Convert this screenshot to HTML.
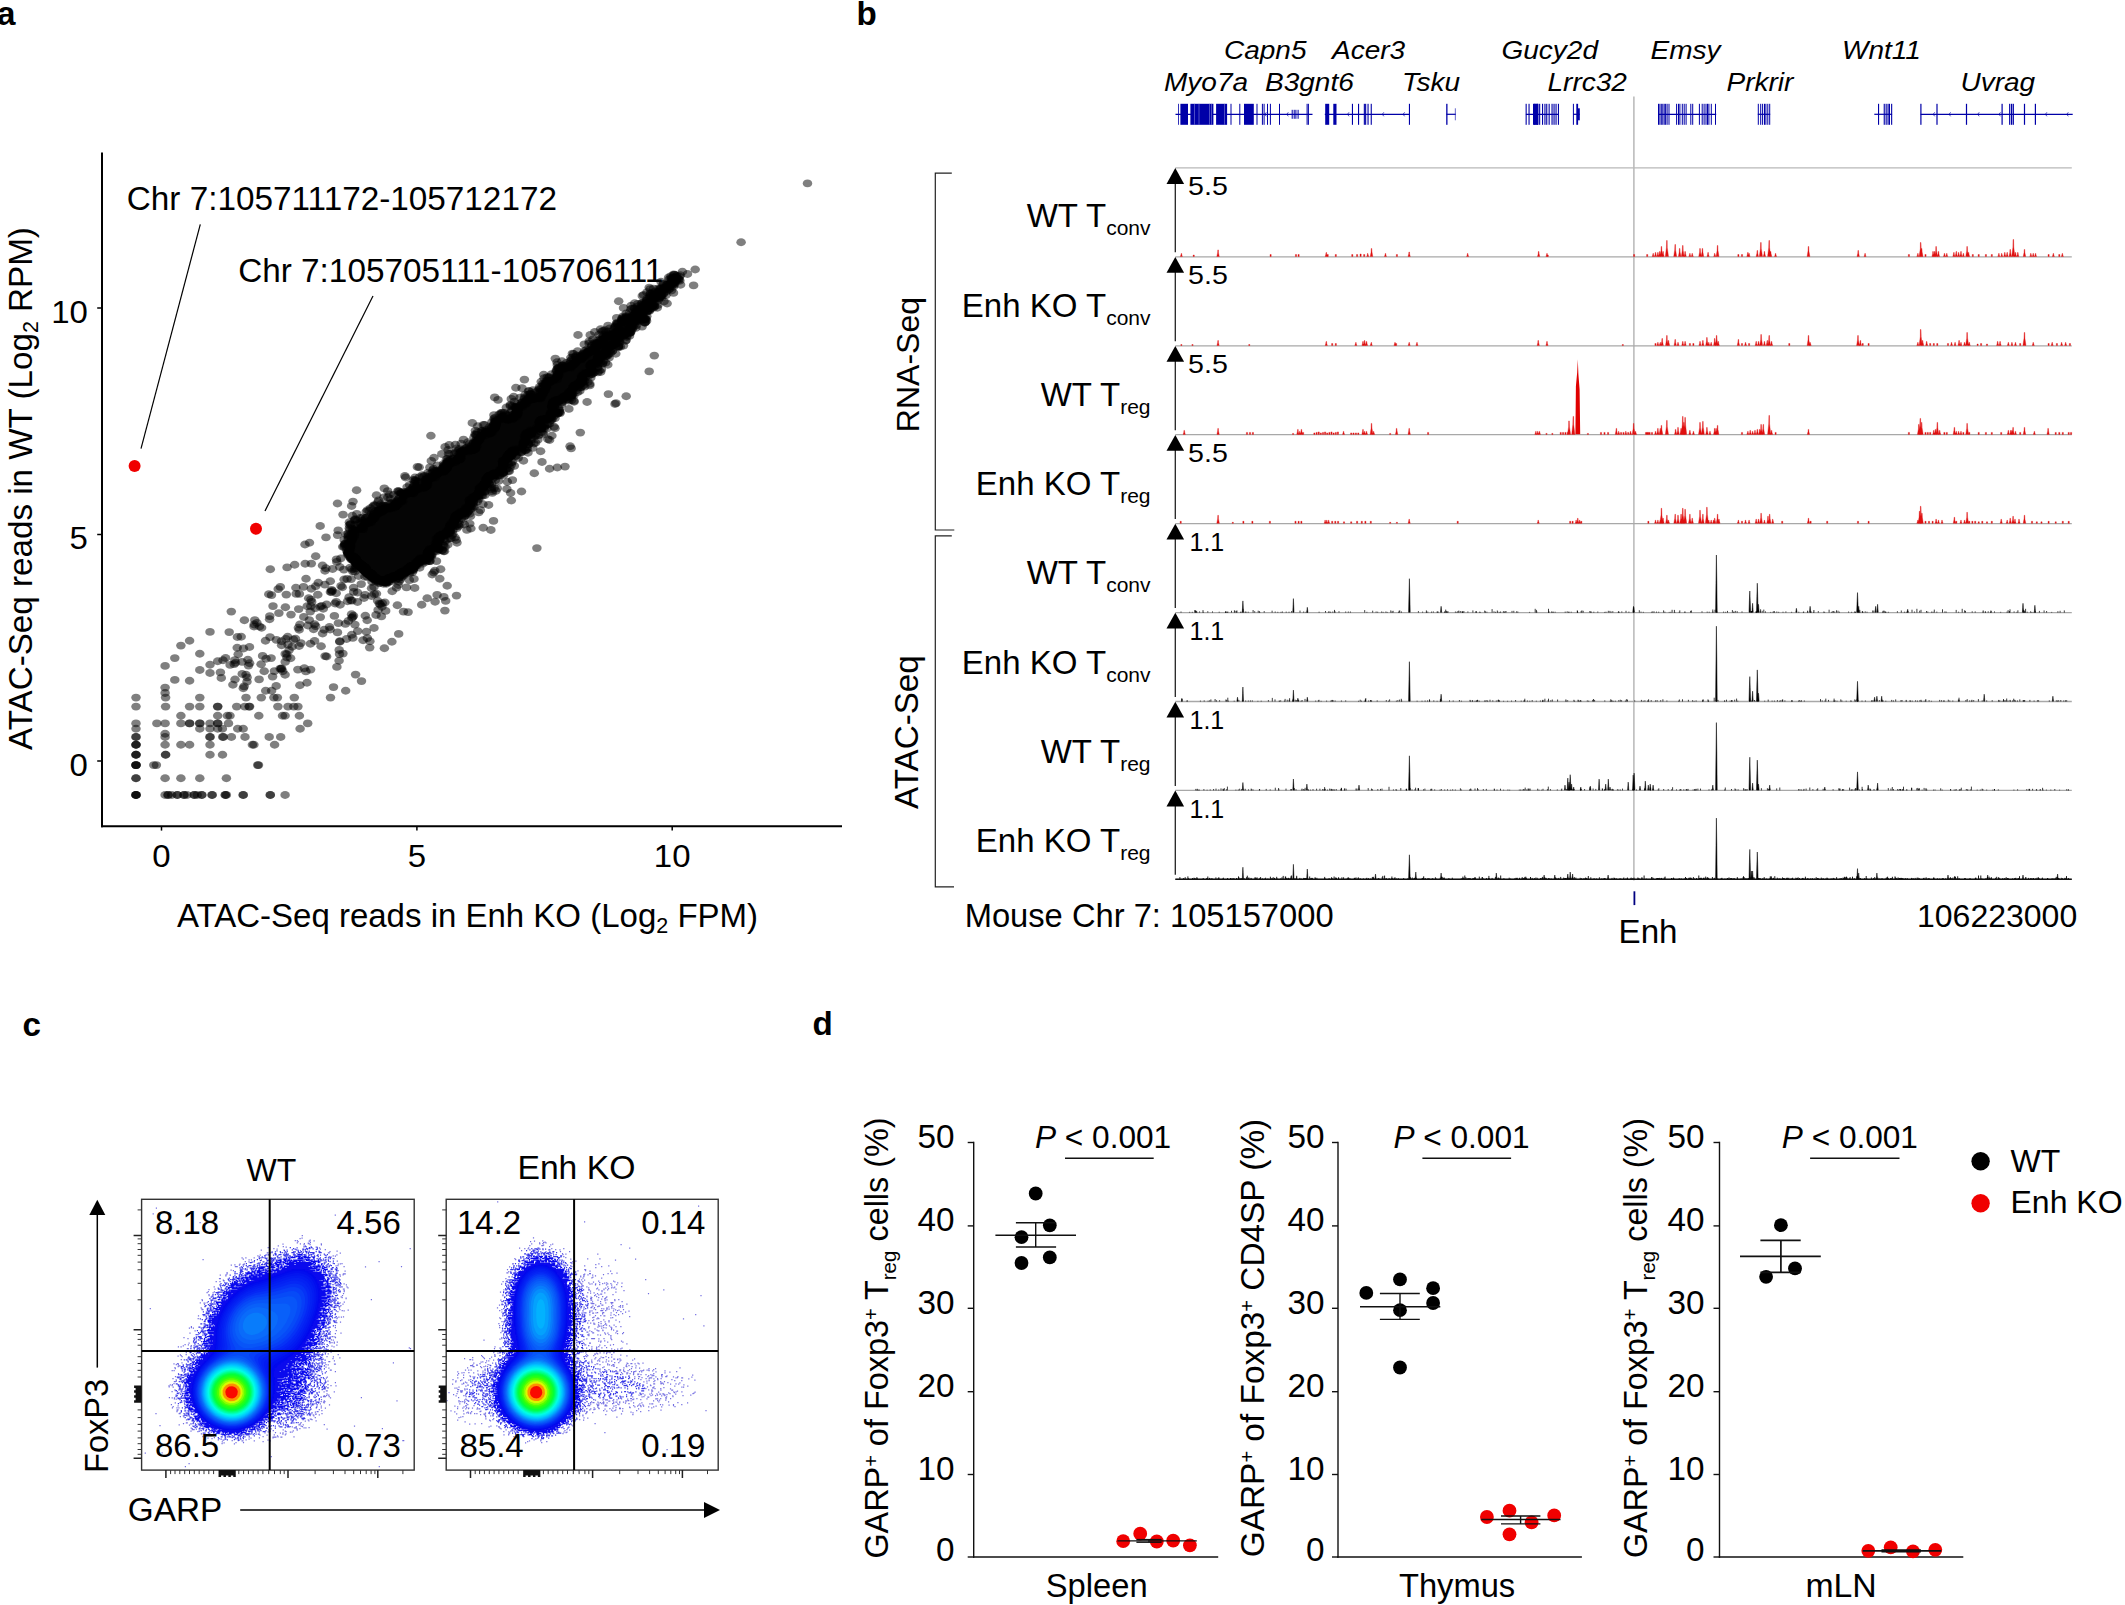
<!DOCTYPE html>
<html lang="en"><head><meta charset="utf-8"><title>Figure</title>
<style>html,body{margin:0;padding:0;background:#fff}svg{display:block}text{font-family:'Liberation Sans', Arial, Helvetica, sans-serif;fill:#000}</style></head><body>
<svg width="2125" height="1605" viewBox="0 0 2125 1605">
<rect width="2125" height="1605" fill="#fff"/>
<text x="-3" y="24.5" font-size="33.2" font-weight="bold">a</text>
<text x="856.4" y="24.5" font-size="33.2" font-weight="bold">b</text>
<text x="22.6" y="1036" font-size="33.2" font-weight="bold">c</text>
<text x="812.5" y="1034.6" font-size="33.2" font-weight="bold">d</text>
<g id="pa">
<path d="M680 276 678 274 672 275 669 278 669 281 667 282 666 284 663 286 660 286 660 288 659 289 656 289 655 291 651 291 651 293 649 295 649 298 644 301 638 307 634 308 631 315 624 315 623 317 620 317 620 319 618 321 618 323 615 325 615 328 613 331 611 331 610 333 604 333 603 335 600 337 599 340 595 341 593 343 591 348 586 349 582 354 579 354 578 356 573 356 572 357 572 360 568 364 559 365 559 367 556 368 555 374 552 377 546 378 546 380 543 381 543 383 541 384 541 388 538 389 538 394 537 395 528 394 528 395 522 400 521 403 519 404 514 404 513 405 513 412 510 415 506 416 505 414 501 414 495 419 493 419 492 424 490 425 490 427 488 429 483 430 481 432 478 432 478 434 472 442 472 445 466 448 459 449 457 455 455 456 453 459 449 459 445 461 443 465 439 469 432 471 432 473 430 475 427 475 423 477 423 483 421 485 418 484 418 481 414 481 413 486 411 487 409 490 400 491 399 492 399 499 398 500 393 501 390 505 382 505 379 509 376 509 373 513 371 513 367 519 361 520 361 523 359 526 357 527 351 527 348 540 345 542 345 554 349 560 352 562 353 566 360 570 366 577 373 582 380 583 383 585 387 585 392 581 401 579 404 576 409 574 411 572 413 572 415 569 417 569 417 568 420 565 422 565 424 562 428 562 431 560 433 557 433 552 434 551 441 551 442 540 446 537 450 536 451 534 453 533 453 530 455 527 457 526 458 520 460 519 461 517 463 517 466 515 469 515 470 510 474 505 474 503 484 494 484 491 490 486 491 480 494 478 497 478 499 475 503 475 504 473 506 473 507 462 510 461 519 451 525 451 526 450 527 445 530 443 530 437 535 435 537 432 544 431 544 423 545 422 549 422 552 420 555 416 558 416 559 410 557 408 557 405 562 403 563 401 570 400 574 398 575 392 579 388 582 388 584 384 586 384 587 377 588 376 591 376 595 373 595 367 596 366 599 366 600 364 602 363 602 359 609 356 610 352 614 348 620 345 620 341 623 338 626 338 631 335 631 333 635 328 635 326 639 322 647 322 646 314 649 311 651 311 656 307 656 302 658 299 662 299 665 296 665 293 667 290 672 289 672 288 679 282Z" fill="#050505"/>
<g fill="#000" fill-opacity="0.5">
<ellipse cx="530.3" cy="394" rx="4.75" ry="3.95"/>
<ellipse cx="503.8" cy="474.9" rx="4.75" ry="3.95"/>
<ellipse cx="589.6" cy="351.6" rx="4.75" ry="3.95"/>
<ellipse cx="430.6" cy="478.5" rx="4.75" ry="3.95"/>
<ellipse cx="422.5" cy="559.9" rx="4.75" ry="3.95"/>
<ellipse cx="496.4" cy="422.3" rx="4.75" ry="3.95"/>
<ellipse cx="589" cy="351" rx="4.75" ry="3.95"/>
<ellipse cx="465.6" cy="451.2" rx="4.75" ry="3.95"/>
<ellipse cx="412.2" cy="569.2" rx="4.75" ry="3.95"/>
<ellipse cx="554.1" cy="415.9" rx="4.75" ry="3.95"/>
<ellipse cx="654.4" cy="306.5" rx="4.75" ry="3.95"/>
<ellipse cx="588.4" cy="352.2" rx="4.75" ry="3.95"/>
<ellipse cx="507.1" cy="456.3" rx="4.75" ry="3.95"/>
<ellipse cx="502.9" cy="418.2" rx="4.75" ry="3.95"/>
<ellipse cx="407.8" cy="569.4" rx="4.75" ry="3.95"/>
<ellipse cx="481.2" cy="435.9" rx="4.75" ry="3.95"/>
<ellipse cx="488.2" cy="476.5" rx="4.75" ry="3.95"/>
<ellipse cx="372.4" cy="519.3" rx="4.75" ry="3.95"/>
<ellipse cx="406.9" cy="571.9" rx="4.75" ry="3.95"/>
<ellipse cx="534.9" cy="392.4" rx="4.75" ry="3.95"/>
<ellipse cx="384.3" cy="488.4" rx="4.75" ry="3.95"/>
<ellipse cx="515.6" cy="407.2" rx="4.75" ry="3.95"/>
<ellipse cx="469.8" cy="523.8" rx="4.75" ry="3.95"/>
<ellipse cx="505.5" cy="419" rx="4.75" ry="3.95"/>
<ellipse cx="600.6" cy="329.2" rx="4.75" ry="3.95"/>
<ellipse cx="533.7" cy="433.2" rx="4.75" ry="3.95"/>
<ellipse cx="383.8" cy="508.2" rx="4.75" ry="3.95"/>
<ellipse cx="485.5" cy="435.2" rx="4.75" ry="3.95"/>
<ellipse cx="544.4" cy="426.2" rx="4.75" ry="3.95"/>
<ellipse cx="581.7" cy="376" rx="4.75" ry="3.95"/>
<ellipse cx="384.3" cy="506" rx="4.75" ry="3.95"/>
<ellipse cx="603.2" cy="336.8" rx="4.75" ry="3.95"/>
<ellipse cx="438.3" cy="540.7" rx="4.75" ry="3.95"/>
<ellipse cx="528.1" cy="400.1" rx="4.75" ry="3.95"/>
<ellipse cx="367.3" cy="517.5" rx="4.75" ry="3.95"/>
<ellipse cx="386.7" cy="580.4" rx="4.75" ry="3.95"/>
<ellipse cx="479.6" cy="491.3" rx="4.75" ry="3.95"/>
<ellipse cx="366.8" cy="571.3" rx="4.75" ry="3.95"/>
<ellipse cx="471.3" cy="447.7" rx="4.75" ry="3.95"/>
<ellipse cx="361.9" cy="527.8" rx="4.75" ry="3.95"/>
<ellipse cx="612.5" cy="334.2" rx="4.75" ry="3.95"/>
<ellipse cx="620.2" cy="335.5" rx="4.75" ry="3.95"/>
<ellipse cx="606.3" cy="334.9" rx="4.75" ry="3.95"/>
<ellipse cx="392.1" cy="577.7" rx="4.75" ry="3.95"/>
<ellipse cx="482.6" cy="491.7" rx="4.75" ry="3.95"/>
<ellipse cx="493.6" cy="424.9" rx="4.75" ry="3.95"/>
<ellipse cx="559.3" cy="409.2" rx="4.75" ry="3.95"/>
<ellipse cx="373.1" cy="506.5" rx="4.75" ry="3.95"/>
<ellipse cx="460" cy="524.6" rx="4.75" ry="3.95"/>
<ellipse cx="407.8" cy="570.9" rx="4.75" ry="3.95"/>
<ellipse cx="389.4" cy="507.9" rx="4.75" ry="3.95"/>
<ellipse cx="669.9" cy="286.6" rx="4.75" ry="3.95"/>
<ellipse cx="469.6" cy="500.5" rx="4.75" ry="3.95"/>
<ellipse cx="643.5" cy="318.7" rx="4.75" ry="3.95"/>
<ellipse cx="407.2" cy="570.7" rx="4.75" ry="3.95"/>
<ellipse cx="410.7" cy="565.9" rx="4.75" ry="3.95"/>
<ellipse cx="358.4" cy="563.8" rx="4.75" ry="3.95"/>
<ellipse cx="494.8" cy="428.1" rx="4.75" ry="3.95"/>
<ellipse cx="389.5" cy="494.5" rx="4.75" ry="3.95"/>
<ellipse cx="345.2" cy="543.8" rx="4.75" ry="3.95"/>
<ellipse cx="607.4" cy="335.8" rx="4.75" ry="3.95"/>
<ellipse cx="464.6" cy="516.3" rx="4.75" ry="3.95"/>
<ellipse cx="602.7" cy="363.1" rx="4.75" ry="3.95"/>
<ellipse cx="362.2" cy="526.8" rx="4.75" ry="3.95"/>
<ellipse cx="579.9" cy="355.7" rx="4.75" ry="3.95"/>
<ellipse cx="561.2" cy="399.3" rx="4.75" ry="3.95"/>
<ellipse cx="427.7" cy="478.4" rx="4.75" ry="3.95"/>
<ellipse cx="447.8" cy="544.7" rx="4.75" ry="3.95"/>
<ellipse cx="536.9" cy="427.7" rx="4.75" ry="3.95"/>
<ellipse cx="396.2" cy="502.6" rx="4.75" ry="3.95"/>
<ellipse cx="366.6" cy="572.1" rx="4.75" ry="3.95"/>
<ellipse cx="617.5" cy="324" rx="4.75" ry="3.95"/>
<ellipse cx="650.5" cy="293.4" rx="4.75" ry="3.95"/>
<ellipse cx="671.2" cy="282.7" rx="4.75" ry="3.95"/>
<ellipse cx="381.8" cy="509.8" rx="4.75" ry="3.95"/>
<ellipse cx="491.9" cy="430.7" rx="4.75" ry="3.95"/>
<ellipse cx="679.6" cy="276.8" rx="4.75" ry="3.95"/>
<ellipse cx="556" cy="413.2" rx="4.75" ry="3.95"/>
<ellipse cx="460.4" cy="451.9" rx="4.75" ry="3.95"/>
<ellipse cx="355.8" cy="519.9" rx="4.75" ry="3.95"/>
<ellipse cx="419.7" cy="558.5" rx="4.75" ry="3.95"/>
<ellipse cx="597.5" cy="344.9" rx="4.75" ry="3.95"/>
<ellipse cx="466.7" cy="447.9" rx="4.75" ry="3.95"/>
<ellipse cx="509.6" cy="418.3" rx="4.75" ry="3.95"/>
<ellipse cx="558.7" cy="368.1" rx="4.75" ry="3.95"/>
<ellipse cx="669.3" cy="284.6" rx="4.75" ry="3.95"/>
<ellipse cx="517.6" cy="404" rx="4.75" ry="3.95"/>
<ellipse cx="502.3" cy="417" rx="4.75" ry="3.95"/>
<ellipse cx="598.6" cy="357.8" rx="4.75" ry="3.95"/>
<ellipse cx="473.4" cy="497.6" rx="4.75" ry="3.95"/>
<ellipse cx="429.2" cy="549.8" rx="4.75" ry="3.95"/>
<ellipse cx="495.5" cy="423.2" rx="4.75" ry="3.95"/>
<ellipse cx="591.6" cy="351.5" rx="4.75" ry="3.95"/>
<ellipse cx="646" cy="308.7" rx="4.75" ry="3.95"/>
<ellipse cx="483.5" cy="485.1" rx="4.75" ry="3.95"/>
<ellipse cx="465" cy="515.2" rx="4.75" ry="3.95"/>
<ellipse cx="644.6" cy="304.5" rx="4.75" ry="3.95"/>
<ellipse cx="594.7" cy="365.2" rx="4.75" ry="3.95"/>
<ellipse cx="398.4" cy="578.4" rx="4.75" ry="3.95"/>
<ellipse cx="359.9" cy="564.6" rx="4.75" ry="3.95"/>
<ellipse cx="654.4" cy="303.2" rx="4.75" ry="3.95"/>
<ellipse cx="368.3" cy="572.9" rx="4.75" ry="3.95"/>
<ellipse cx="540.7" cy="396.1" rx="4.75" ry="3.95"/>
<ellipse cx="510.6" cy="493" rx="4.75" ry="3.95"/>
<ellipse cx="572" cy="394.9" rx="4.75" ry="3.95"/>
<ellipse cx="636.5" cy="325.3" rx="4.75" ry="3.95"/>
<ellipse cx="429.6" cy="549.8" rx="4.75" ry="3.95"/>
<ellipse cx="451.1" cy="538.3" rx="4.75" ry="3.95"/>
<ellipse cx="663.4" cy="293.9" rx="4.75" ry="3.95"/>
<ellipse cx="502.9" cy="415.8" rx="4.75" ry="3.95"/>
<ellipse cx="584.8" cy="381.3" rx="4.75" ry="3.95"/>
<ellipse cx="531.4" cy="434.9" rx="4.75" ry="3.95"/>
<ellipse cx="410.1" cy="567.3" rx="4.75" ry="3.95"/>
<ellipse cx="489.6" cy="484.9" rx="4.75" ry="3.95"/>
<ellipse cx="416.9" cy="486.6" rx="4.75" ry="3.95"/>
<ellipse cx="587.8" cy="351.7" rx="4.75" ry="3.95"/>
<ellipse cx="542.5" cy="383.8" rx="4.75" ry="3.95"/>
<ellipse cx="578" cy="335" rx="4.75" ry="3.95"/>
<ellipse cx="631.7" cy="328.3" rx="4.75" ry="3.95"/>
<ellipse cx="428.3" cy="552.3" rx="4.75" ry="3.95"/>
<ellipse cx="388.8" cy="577.9" rx="4.75" ry="3.95"/>
<ellipse cx="630.2" cy="328.6" rx="4.75" ry="3.95"/>
<ellipse cx="487.3" cy="481.9" rx="4.75" ry="3.95"/>
<ellipse cx="603.6" cy="361" rx="4.75" ry="3.95"/>
<ellipse cx="490.9" cy="431.5" rx="4.75" ry="3.95"/>
<ellipse cx="450" cy="538.4" rx="4.75" ry="3.95"/>
<ellipse cx="419.6" cy="561.5" rx="4.75" ry="3.95"/>
<ellipse cx="404.1" cy="572.3" rx="4.75" ry="3.95"/>
<ellipse cx="659.6" cy="298.2" rx="4.75" ry="3.95"/>
<ellipse cx="603.3" cy="331" rx="4.75" ry="3.95"/>
<ellipse cx="528.4" cy="397.5" rx="4.75" ry="3.95"/>
<ellipse cx="525.1" cy="394.8" rx="4.75" ry="3.95"/>
<ellipse cx="376.5" cy="495.3" rx="4.75" ry="3.95"/>
<ellipse cx="368.6" cy="574.1" rx="4.75" ry="3.95"/>
<ellipse cx="442.7" cy="534.7" rx="4.75" ry="3.95"/>
<ellipse cx="623.5" cy="307.9" rx="4.75" ry="3.95"/>
<ellipse cx="428" cy="554.1" rx="4.75" ry="3.95"/>
<ellipse cx="642.1" cy="326.6" rx="4.75" ry="3.95"/>
<ellipse cx="589.5" cy="351.3" rx="4.75" ry="3.95"/>
<ellipse cx="397.3" cy="500.9" rx="4.75" ry="3.95"/>
<ellipse cx="431" cy="554.9" rx="4.75" ry="3.95"/>
<ellipse cx="432.1" cy="554.8" rx="4.75" ry="3.95"/>
<ellipse cx="617.9" cy="327.4" rx="4.75" ry="3.95"/>
<ellipse cx="450.3" cy="532.3" rx="4.75" ry="3.95"/>
<ellipse cx="453.2" cy="458.5" rx="4.75" ry="3.95"/>
<ellipse cx="381.1" cy="581.4" rx="4.75" ry="3.95"/>
<ellipse cx="572.2" cy="395.1" rx="4.75" ry="3.95"/>
<ellipse cx="443.2" cy="471.1" rx="4.75" ry="3.95"/>
<ellipse cx="387.8" cy="497.2" rx="4.75" ry="3.95"/>
<ellipse cx="587.1" cy="402" rx="4.75" ry="3.95"/>
<ellipse cx="582.8" cy="380.9" rx="4.75" ry="3.95"/>
<ellipse cx="425" cy="483" rx="4.75" ry="3.95"/>
<ellipse cx="352.1" cy="539.7" rx="4.75" ry="3.95"/>
<ellipse cx="474.4" cy="447.6" rx="4.75" ry="3.95"/>
<ellipse cx="507.3" cy="459.2" rx="4.75" ry="3.95"/>
<ellipse cx="675" cy="282.4" rx="4.75" ry="3.95"/>
<ellipse cx="618.4" cy="338.2" rx="4.75" ry="3.95"/>
<ellipse cx="461.8" cy="451.6" rx="4.75" ry="3.95"/>
<ellipse cx="514.7" cy="451.4" rx="4.75" ry="3.95"/>
<ellipse cx="482.8" cy="485.6" rx="4.75" ry="3.95"/>
<ellipse cx="557.5" cy="374.3" rx="4.75" ry="3.95"/>
<ellipse cx="592.3" cy="367" rx="4.75" ry="3.95"/>
<ellipse cx="395.5" cy="503.3" rx="4.75" ry="3.95"/>
<ellipse cx="364.6" cy="570.8" rx="4.75" ry="3.95"/>
<ellipse cx="637.8" cy="303.9" rx="4.75" ry="3.95"/>
<ellipse cx="463.2" cy="512.7" rx="4.75" ry="3.95"/>
<ellipse cx="415" cy="480" rx="4.75" ry="3.95"/>
<ellipse cx="406" cy="492.5" rx="4.75" ry="3.95"/>
<ellipse cx="474.3" cy="506.8" rx="4.75" ry="3.95"/>
<ellipse cx="484" cy="491.9" rx="4.75" ry="3.95"/>
<ellipse cx="442.1" cy="468.8" rx="4.75" ry="3.95"/>
<ellipse cx="384.3" cy="508.4" rx="4.75" ry="3.95"/>
<ellipse cx="558" cy="367.7" rx="4.75" ry="3.95"/>
<ellipse cx="368.3" cy="572.5" rx="4.75" ry="3.95"/>
<ellipse cx="609.2" cy="333.9" rx="4.75" ry="3.95"/>
<ellipse cx="388.1" cy="578.7" rx="4.75" ry="3.95"/>
<ellipse cx="550" cy="417.1" rx="4.75" ry="3.95"/>
<ellipse cx="605.7" cy="350.6" rx="4.75" ry="3.95"/>
<ellipse cx="646.9" cy="304.4" rx="4.75" ry="3.95"/>
<ellipse cx="589.3" cy="372.5" rx="4.75" ry="3.95"/>
<ellipse cx="369.3" cy="573.4" rx="4.75" ry="3.95"/>
<ellipse cx="351.2" cy="559.5" rx="4.75" ry="3.95"/>
<ellipse cx="352.7" cy="535.7" rx="4.75" ry="3.95"/>
<ellipse cx="370.7" cy="522.4" rx="4.75" ry="3.95"/>
<ellipse cx="373.3" cy="515" rx="4.75" ry="3.95"/>
<ellipse cx="427.1" cy="483.4" rx="4.75" ry="3.95"/>
<ellipse cx="468.7" cy="449.3" rx="4.75" ry="3.95"/>
<ellipse cx="557.6" cy="400.1" rx="4.75" ry="3.95"/>
<ellipse cx="446" cy="469.1" rx="4.75" ry="3.95"/>
<ellipse cx="460.7" cy="456.9" rx="4.75" ry="3.95"/>
<ellipse cx="511.4" cy="464.6" rx="4.75" ry="3.95"/>
<ellipse cx="443.4" cy="545.7" rx="4.75" ry="3.95"/>
<ellipse cx="623.8" cy="335.6" rx="4.75" ry="3.95"/>
<ellipse cx="654.1" cy="298.7" rx="4.75" ry="3.95"/>
<ellipse cx="522.9" cy="445.5" rx="4.75" ry="3.95"/>
<ellipse cx="489.8" cy="475.6" rx="4.75" ry="3.95"/>
<ellipse cx="473.3" cy="501.5" rx="4.75" ry="3.95"/>
<ellipse cx="486" cy="430" rx="4.75" ry="3.95"/>
<ellipse cx="673.4" cy="283.3" rx="4.75" ry="3.95"/>
<ellipse cx="366.3" cy="571.5" rx="4.75" ry="3.95"/>
<ellipse cx="394.7" cy="505.6" rx="4.75" ry="3.95"/>
<ellipse cx="546.5" cy="387.3" rx="4.75" ry="3.95"/>
<ellipse cx="649" cy="302.3" rx="4.75" ry="3.95"/>
<ellipse cx="456.1" cy="526.3" rx="4.75" ry="3.95"/>
<ellipse cx="358.5" cy="563.7" rx="4.75" ry="3.95"/>
<ellipse cx="612.2" cy="343.7" rx="4.75" ry="3.95"/>
<ellipse cx="678" cy="278.4" rx="4.75" ry="3.95"/>
<ellipse cx="368.5" cy="573" rx="4.75" ry="3.95"/>
<ellipse cx="591.8" cy="365.2" rx="4.75" ry="3.95"/>
<ellipse cx="409.6" cy="573.4" rx="4.75" ry="3.95"/>
<ellipse cx="399.7" cy="501" rx="4.75" ry="3.95"/>
<ellipse cx="543.8" cy="384.2" rx="4.75" ry="3.95"/>
<ellipse cx="629" cy="329" rx="4.75" ry="3.95"/>
<ellipse cx="589.8" cy="383.9" rx="4.75" ry="3.95"/>
<ellipse cx="569.8" cy="364" rx="4.75" ry="3.95"/>
<ellipse cx="458" cy="458.3" rx="4.75" ry="3.95"/>
<ellipse cx="497.3" cy="473.5" rx="4.75" ry="3.95"/>
<ellipse cx="589.3" cy="352.3" rx="4.75" ry="3.95"/>
<ellipse cx="439.3" cy="542.8" rx="4.75" ry="3.95"/>
<ellipse cx="502.9" cy="463.9" rx="4.75" ry="3.95"/>
<ellipse cx="642.3" cy="295.9" rx="4.75" ry="3.95"/>
<ellipse cx="484.8" cy="491.6" rx="4.75" ry="3.95"/>
<ellipse cx="545.5" cy="420.6" rx="4.75" ry="3.95"/>
<ellipse cx="591" cy="374.1" rx="4.75" ry="3.95"/>
<ellipse cx="655.8" cy="297.3" rx="4.75" ry="3.95"/>
<ellipse cx="490" cy="476.7" rx="4.75" ry="3.95"/>
<ellipse cx="581" cy="359.1" rx="4.75" ry="3.95"/>
<ellipse cx="657.9" cy="291.9" rx="4.75" ry="3.95"/>
<ellipse cx="375.3" cy="577.2" rx="4.75" ry="3.95"/>
<ellipse cx="346.7" cy="550.7" rx="4.75" ry="3.95"/>
<ellipse cx="600.6" cy="359.7" rx="4.75" ry="3.95"/>
<ellipse cx="366.5" cy="571.2" rx="4.75" ry="3.95"/>
<ellipse cx="351.6" cy="506" rx="4.75" ry="3.95"/>
<ellipse cx="572.4" cy="353.6" rx="4.75" ry="3.95"/>
<ellipse cx="412.4" cy="566.1" rx="4.75" ry="3.95"/>
<ellipse cx="618.8" cy="346.3" rx="4.75" ry="3.95"/>
<ellipse cx="643.9" cy="306.6" rx="4.75" ry="3.95"/>
<ellipse cx="418.2" cy="482.2" rx="4.75" ry="3.95"/>
<ellipse cx="356.1" cy="558.9" rx="4.75" ry="3.95"/>
<ellipse cx="605.8" cy="337.4" rx="4.75" ry="3.95"/>
<ellipse cx="660.5" cy="292.1" rx="4.75" ry="3.95"/>
<ellipse cx="631.9" cy="318.1" rx="4.75" ry="3.95"/>
<ellipse cx="565.6" cy="365.4" rx="4.75" ry="3.95"/>
<ellipse cx="556.8" cy="377" rx="4.75" ry="3.95"/>
<ellipse cx="565.6" cy="368.3" rx="4.75" ry="3.95"/>
<ellipse cx="553.3" cy="403.1" rx="4.75" ry="3.95"/>
<ellipse cx="526" cy="435.7" rx="4.75" ry="3.95"/>
<ellipse cx="524.5" cy="436.1" rx="4.75" ry="3.95"/>
<ellipse cx="557.3" cy="364.9" rx="4.75" ry="3.95"/>
<ellipse cx="454.3" cy="453.9" rx="4.75" ry="3.95"/>
<ellipse cx="508.3" cy="470.9" rx="4.75" ry="3.95"/>
<ellipse cx="354.7" cy="560.3" rx="4.75" ry="3.95"/>
<ellipse cx="613" cy="335.7" rx="4.75" ry="3.95"/>
<ellipse cx="371.9" cy="575.9" rx="4.75" ry="3.95"/>
<ellipse cx="617.6" cy="324.2" rx="4.75" ry="3.95"/>
<ellipse cx="364.2" cy="566.7" rx="4.75" ry="3.95"/>
<ellipse cx="354.4" cy="520.3" rx="4.75" ry="3.95"/>
<ellipse cx="543" cy="393.7" rx="4.75" ry="3.95"/>
<ellipse cx="439.9" cy="536.6" rx="4.75" ry="3.95"/>
<ellipse cx="524.7" cy="402" rx="4.75" ry="3.95"/>
<ellipse cx="630.1" cy="332.6" rx="4.75" ry="3.95"/>
<ellipse cx="639.7" cy="318.7" rx="4.75" ry="3.95"/>
<ellipse cx="427.6" cy="553" rx="4.75" ry="3.95"/>
<ellipse cx="643.4" cy="308.7" rx="4.75" ry="3.95"/>
<ellipse cx="447.8" cy="458.7" rx="4.75" ry="3.95"/>
<ellipse cx="505.5" cy="460.1" rx="4.75" ry="3.95"/>
<ellipse cx="397.8" cy="501.4" rx="4.75" ry="3.95"/>
<ellipse cx="417.1" cy="489.5" rx="4.75" ry="3.95"/>
<ellipse cx="629.5" cy="335.9" rx="4.75" ry="3.95"/>
<ellipse cx="396" cy="506.1" rx="4.75" ry="3.95"/>
<ellipse cx="365.3" cy="570.3" rx="4.75" ry="3.95"/>
<ellipse cx="617" cy="332.8" rx="4.75" ry="3.95"/>
<ellipse cx="553" cy="402.7" rx="4.75" ry="3.95"/>
<ellipse cx="413.2" cy="479.9" rx="4.75" ry="3.95"/>
<ellipse cx="455.3" cy="444.8" rx="4.75" ry="3.95"/>
<ellipse cx="378.8" cy="579.5" rx="4.75" ry="3.95"/>
<ellipse cx="365.1" cy="567.6" rx="4.75" ry="3.95"/>
<ellipse cx="363.9" cy="568.9" rx="4.75" ry="3.95"/>
<ellipse cx="423.1" cy="558.5" rx="4.75" ry="3.95"/>
<ellipse cx="660.7" cy="296.5" rx="4.75" ry="3.95"/>
<ellipse cx="606.4" cy="355.6" rx="4.75" ry="3.95"/>
<ellipse cx="367.4" cy="510.2" rx="4.75" ry="3.95"/>
<ellipse cx="530.2" cy="434.9" rx="4.75" ry="3.95"/>
<ellipse cx="645.9" cy="319.5" rx="4.75" ry="3.95"/>
<ellipse cx="350.5" cy="523.9" rx="4.75" ry="3.95"/>
<ellipse cx="522.4" cy="404.2" rx="4.75" ry="3.95"/>
<ellipse cx="599.1" cy="344.4" rx="4.75" ry="3.95"/>
<ellipse cx="636.7" cy="319.2" rx="4.75" ry="3.95"/>
<ellipse cx="375.4" cy="505.4" rx="4.75" ry="3.95"/>
<ellipse cx="458.1" cy="524.2" rx="4.75" ry="3.95"/>
<ellipse cx="360.3" cy="563.9" rx="4.75" ry="3.95"/>
<ellipse cx="430.9" cy="435.8" rx="4.75" ry="3.95"/>
<ellipse cx="455.1" cy="537.5" rx="4.75" ry="3.95"/>
<ellipse cx="574.1" cy="401.8" rx="4.75" ry="3.95"/>
<ellipse cx="360.4" cy="565.7" rx="4.75" ry="3.95"/>
<ellipse cx="597.3" cy="345.2" rx="4.75" ry="3.95"/>
<ellipse cx="426.2" cy="485.9" rx="4.75" ry="3.95"/>
<ellipse cx="568.9" cy="408.9" rx="4.75" ry="3.95"/>
<ellipse cx="375.8" cy="578.5" rx="4.75" ry="3.95"/>
<ellipse cx="493.9" cy="418.8" rx="4.75" ry="3.95"/>
<ellipse cx="632.5" cy="315.3" rx="4.75" ry="3.95"/>
<ellipse cx="431.3" cy="460.9" rx="4.75" ry="3.95"/>
<ellipse cx="600.7" cy="372" rx="4.75" ry="3.95"/>
<ellipse cx="593.9" cy="348.1" rx="4.75" ry="3.95"/>
<ellipse cx="561.5" cy="401.9" rx="4.75" ry="3.95"/>
<ellipse cx="443.3" cy="466.7" rx="4.75" ry="3.95"/>
<ellipse cx="378.2" cy="579.3" rx="4.75" ry="3.95"/>
<ellipse cx="360.8" cy="566.4" rx="4.75" ry="3.95"/>
<ellipse cx="629.7" cy="332" rx="4.75" ry="3.95"/>
<ellipse cx="470.8" cy="450.2" rx="4.75" ry="3.95"/>
<ellipse cx="548.3" cy="418.4" rx="4.75" ry="3.95"/>
<ellipse cx="541.2" cy="381.7" rx="4.75" ry="3.95"/>
<ellipse cx="644.7" cy="310" rx="4.75" ry="3.95"/>
<ellipse cx="530.9" cy="396.9" rx="4.75" ry="3.95"/>
<ellipse cx="516" cy="407.4" rx="4.75" ry="3.95"/>
<ellipse cx="533.7" cy="399.1" rx="4.75" ry="3.95"/>
<ellipse cx="427.5" cy="553" rx="4.75" ry="3.95"/>
<ellipse cx="346.1" cy="534.5" rx="4.75" ry="3.95"/>
<ellipse cx="499.2" cy="414.4" rx="4.75" ry="3.95"/>
<ellipse cx="631.3" cy="327.1" rx="4.75" ry="3.95"/>
<ellipse cx="509.3" cy="471.3" rx="4.75" ry="3.95"/>
<ellipse cx="438.8" cy="538.7" rx="4.75" ry="3.95"/>
<ellipse cx="439.9" cy="471.4" rx="4.75" ry="3.95"/>
<ellipse cx="481.7" cy="488.4" rx="4.75" ry="3.95"/>
<ellipse cx="365" cy="571.2" rx="4.75" ry="3.95"/>
<ellipse cx="376.2" cy="510.7" rx="4.75" ry="3.95"/>
<ellipse cx="438" cy="549.5" rx="4.75" ry="3.95"/>
<ellipse cx="661.9" cy="294.6" rx="4.75" ry="3.95"/>
<ellipse cx="484.9" cy="484" rx="4.75" ry="3.95"/>
<ellipse cx="403.5" cy="495.3" rx="4.75" ry="3.95"/>
<ellipse cx="618.7" cy="301.3" rx="4.75" ry="3.95"/>
<ellipse cx="539.8" cy="394.6" rx="4.75" ry="3.95"/>
<ellipse cx="383.5" cy="582.2" rx="4.75" ry="3.95"/>
<ellipse cx="487.1" cy="480.5" rx="4.75" ry="3.95"/>
<ellipse cx="645" cy="322.3" rx="4.75" ry="3.95"/>
<ellipse cx="520.1" cy="405.8" rx="4.75" ry="3.95"/>
<ellipse cx="643" cy="310.3" rx="4.75" ry="3.95"/>
<ellipse cx="363.4" cy="523" rx="4.75" ry="3.95"/>
<ellipse cx="361.1" cy="566.7" rx="4.75" ry="3.95"/>
<ellipse cx="435.4" cy="474.6" rx="4.75" ry="3.95"/>
<ellipse cx="541.5" cy="389" rx="4.75" ry="3.95"/>
<ellipse cx="646.8" cy="316.2" rx="4.75" ry="3.95"/>
<ellipse cx="436.2" cy="474.3" rx="4.75" ry="3.95"/>
<ellipse cx="673.9" cy="279.7" rx="4.75" ry="3.95"/>
<ellipse cx="473" cy="500.5" rx="4.75" ry="3.95"/>
<ellipse cx="643.9" cy="312.5" rx="4.75" ry="3.95"/>
<ellipse cx="600.6" cy="344.5" rx="4.75" ry="3.95"/>
<ellipse cx="429.7" cy="557.3" rx="4.75" ry="3.95"/>
<ellipse cx="589.8" cy="385.4" rx="4.75" ry="3.95"/>
<ellipse cx="547.8" cy="419.1" rx="4.75" ry="3.95"/>
<ellipse cx="389.2" cy="503.4" rx="4.75" ry="3.95"/>
<ellipse cx="388.5" cy="580.4" rx="4.75" ry="3.95"/>
<ellipse cx="368.4" cy="522.5" rx="4.75" ry="3.95"/>
<ellipse cx="424" cy="488" rx="4.75" ry="3.95"/>
<ellipse cx="373.4" cy="518.1" rx="4.75" ry="3.95"/>
<ellipse cx="549.6" cy="382.3" rx="4.75" ry="3.95"/>
<ellipse cx="391.9" cy="503.1" rx="4.75" ry="3.95"/>
<ellipse cx="364" cy="567" rx="4.75" ry="3.95"/>
<ellipse cx="437.3" cy="541.2" rx="4.75" ry="3.95"/>
<ellipse cx="592" cy="370.3" rx="4.75" ry="3.95"/>
<ellipse cx="434.2" cy="471.1" rx="4.75" ry="3.95"/>
<ellipse cx="362.3" cy="520.8" rx="4.75" ry="3.95"/>
<ellipse cx="610.5" cy="335.9" rx="4.75" ry="3.95"/>
<ellipse cx="630.5" cy="332.7" rx="4.75" ry="3.95"/>
<ellipse cx="598.9" cy="357.7" rx="4.75" ry="3.95"/>
<ellipse cx="349.4" cy="522.2" rx="4.75" ry="3.95"/>
<ellipse cx="599.1" cy="370.7" rx="4.75" ry="3.95"/>
<ellipse cx="601.8" cy="339.8" rx="4.75" ry="3.95"/>
<ellipse cx="476.6" cy="446.3" rx="4.75" ry="3.95"/>
<ellipse cx="351.3" cy="540.4" rx="4.75" ry="3.95"/>
<ellipse cx="512" cy="455.4" rx="4.75" ry="3.95"/>
<ellipse cx="371.3" cy="521.3" rx="4.75" ry="3.95"/>
<ellipse cx="380.6" cy="504.2" rx="4.75" ry="3.95"/>
<ellipse cx="433.5" cy="548.4" rx="4.75" ry="3.95"/>
<ellipse cx="471.2" cy="449.6" rx="4.75" ry="3.95"/>
<ellipse cx="375.8" cy="515.9" rx="4.75" ry="3.95"/>
<ellipse cx="576.3" cy="355.7" rx="4.75" ry="3.95"/>
<ellipse cx="527.7" cy="442.3" rx="4.75" ry="3.95"/>
<ellipse cx="476.3" cy="443.6" rx="4.75" ry="3.95"/>
<ellipse cx="416.3" cy="564.3" rx="4.75" ry="3.95"/>
<ellipse cx="360.5" cy="566.6" rx="4.75" ry="3.95"/>
<ellipse cx="447.6" cy="464.8" rx="4.75" ry="3.95"/>
<ellipse cx="631.1" cy="305.8" rx="4.75" ry="3.95"/>
<ellipse cx="475.6" cy="448.5" rx="4.75" ry="3.95"/>
<ellipse cx="383.6" cy="508.7" rx="4.75" ry="3.95"/>
<ellipse cx="642.1" cy="315.4" rx="4.75" ry="3.95"/>
<ellipse cx="417" cy="562.1" rx="4.75" ry="3.95"/>
<ellipse cx="469.6" cy="499.9" rx="4.75" ry="3.95"/>
<ellipse cx="582.5" cy="354.5" rx="4.75" ry="3.95"/>
<ellipse cx="379.9" cy="582.6" rx="4.75" ry="3.95"/>
<ellipse cx="516.6" cy="412.3" rx="4.75" ry="3.95"/>
<ellipse cx="553" cy="380.5" rx="4.75" ry="3.95"/>
<ellipse cx="597.3" cy="342.9" rx="4.75" ry="3.95"/>
<ellipse cx="399.3" cy="498.2" rx="4.75" ry="3.95"/>
<ellipse cx="456.1" cy="515.3" rx="4.75" ry="3.95"/>
<ellipse cx="479.5" cy="438.4" rx="4.75" ry="3.95"/>
<ellipse cx="361.4" cy="565.1" rx="4.75" ry="3.95"/>
<ellipse cx="401.7" cy="501" rx="4.75" ry="3.95"/>
<ellipse cx="475.1" cy="496.1" rx="4.75" ry="3.95"/>
<ellipse cx="476.7" cy="438" rx="4.75" ry="3.95"/>
<ellipse cx="471.8" cy="499.6" rx="4.75" ry="3.95"/>
<ellipse cx="373.2" cy="515.1" rx="4.75" ry="3.95"/>
<ellipse cx="569.9" cy="363.9" rx="4.75" ry="3.95"/>
<ellipse cx="364.3" cy="568" rx="4.75" ry="3.95"/>
<ellipse cx="598.4" cy="358.6" rx="4.75" ry="3.95"/>
<ellipse cx="662.4" cy="289.5" rx="4.75" ry="3.95"/>
<ellipse cx="661" cy="281.8" rx="4.75" ry="3.95"/>
<ellipse cx="533.8" cy="443.5" rx="4.75" ry="3.95"/>
<ellipse cx="461.8" cy="515.3" rx="4.75" ry="3.95"/>
<ellipse cx="543.3" cy="434.6" rx="4.75" ry="3.95"/>
<ellipse cx="475.1" cy="434.2" rx="4.75" ry="3.95"/>
<ellipse cx="669.5" cy="288.9" rx="4.75" ry="3.95"/>
<ellipse cx="667.2" cy="284.5" rx="4.75" ry="3.95"/>
<ellipse cx="646.7" cy="301" rx="4.75" ry="3.95"/>
<ellipse cx="401.5" cy="577.3" rx="4.75" ry="3.95"/>
<ellipse cx="434" cy="548.4" rx="4.75" ry="3.95"/>
<ellipse cx="544.9" cy="419.3" rx="4.75" ry="3.95"/>
<ellipse cx="447.3" cy="467.3" rx="4.75" ry="3.95"/>
<ellipse cx="494.2" cy="487.9" rx="4.75" ry="3.95"/>
<ellipse cx="515.9" cy="387.8" rx="4.75" ry="3.95"/>
<ellipse cx="626" cy="317.4" rx="4.75" ry="3.95"/>
<ellipse cx="371.4" cy="573.9" rx="4.75" ry="3.95"/>
<ellipse cx="589.1" cy="343.4" rx="4.75" ry="3.95"/>
<ellipse cx="437.2" cy="473.9" rx="4.75" ry="3.95"/>
<ellipse cx="395.4" cy="506.2" rx="4.75" ry="3.95"/>
<ellipse cx="378.6" cy="579.9" rx="4.75" ry="3.95"/>
<ellipse cx="556.9" cy="400.6" rx="4.75" ry="3.95"/>
<ellipse cx="588.1" cy="376.2" rx="4.75" ry="3.95"/>
<ellipse cx="395.6" cy="505.4" rx="4.75" ry="3.95"/>
<ellipse cx="640.9" cy="307.3" rx="4.75" ry="3.95"/>
<ellipse cx="405.4" cy="572.6" rx="4.75" ry="3.95"/>
<ellipse cx="502.9" cy="464.5" rx="4.75" ry="3.95"/>
<ellipse cx="494.7" cy="426.2" rx="4.75" ry="3.95"/>
<ellipse cx="676.5" cy="278.5" rx="4.75" ry="3.95"/>
<ellipse cx="582.5" cy="381" rx="4.75" ry="3.95"/>
<ellipse cx="351.8" cy="533.5" rx="4.75" ry="3.95"/>
<ellipse cx="466.2" cy="509.1" rx="4.75" ry="3.95"/>
<ellipse cx="437.8" cy="470.7" rx="4.75" ry="3.95"/>
<ellipse cx="508.5" cy="464.3" rx="4.75" ry="3.95"/>
<ellipse cx="516.3" cy="411.5" rx="4.75" ry="3.95"/>
<ellipse cx="600.3" cy="339.3" rx="4.75" ry="3.95"/>
<ellipse cx="609" cy="345.6" rx="4.75" ry="3.95"/>
<ellipse cx="514.4" cy="452.6" rx="4.75" ry="3.95"/>
<ellipse cx="582.1" cy="377.4" rx="4.75" ry="3.95"/>
<ellipse cx="528.4" cy="444.4" rx="4.75" ry="3.95"/>
<ellipse cx="538.9" cy="428.7" rx="4.75" ry="3.95"/>
<ellipse cx="456.5" cy="448.5" rx="4.75" ry="3.95"/>
<ellipse cx="606" cy="332.1" rx="4.75" ry="3.95"/>
<ellipse cx="349.9" cy="557.4" rx="4.75" ry="3.95"/>
<ellipse cx="592.2" cy="374.1" rx="4.75" ry="3.95"/>
<ellipse cx="610.9" cy="349.4" rx="4.75" ry="3.95"/>
<ellipse cx="654.8" cy="291.8" rx="4.75" ry="3.95"/>
<ellipse cx="575.3" cy="356.8" rx="4.75" ry="3.95"/>
<ellipse cx="545.3" cy="384" rx="4.75" ry="3.95"/>
<ellipse cx="442.2" cy="550" rx="4.75" ry="3.95"/>
<ellipse cx="453.7" cy="522.3" rx="4.75" ry="3.95"/>
<ellipse cx="362" cy="565.9" rx="4.75" ry="3.95"/>
<ellipse cx="443.5" cy="471.6" rx="4.75" ry="3.95"/>
<ellipse cx="453.2" cy="524.4" rx="4.75" ry="3.95"/>
<ellipse cx="352.3" cy="559.7" rx="4.75" ry="3.95"/>
<ellipse cx="657.3" cy="307.8" rx="4.75" ry="3.95"/>
<ellipse cx="649.3" cy="304.4" rx="4.75" ry="3.95"/>
<ellipse cx="342.7" cy="546.7" rx="4.75" ry="3.95"/>
<ellipse cx="368.1" cy="572.5" rx="4.75" ry="3.95"/>
<ellipse cx="486.7" cy="479.8" rx="4.75" ry="3.95"/>
<ellipse cx="570.7" cy="396" rx="4.75" ry="3.95"/>
<ellipse cx="648.2" cy="304" rx="4.75" ry="3.95"/>
<ellipse cx="443.3" cy="468.6" rx="4.75" ry="3.95"/>
<ellipse cx="616.5" cy="323.6" rx="4.75" ry="3.95"/>
<ellipse cx="408.9" cy="567.7" rx="4.75" ry="3.95"/>
<ellipse cx="464.4" cy="524.5" rx="4.75" ry="3.95"/>
<ellipse cx="502.5" cy="473.2" rx="4.75" ry="3.95"/>
<ellipse cx="576.1" cy="357.7" rx="4.75" ry="3.95"/>
<ellipse cx="594.9" cy="363.3" rx="4.75" ry="3.95"/>
<ellipse cx="619" cy="329.9" rx="4.75" ry="3.95"/>
<ellipse cx="497.4" cy="420.2" rx="4.75" ry="3.95"/>
<ellipse cx="442" cy="535.1" rx="4.75" ry="3.95"/>
<ellipse cx="432.3" cy="473" rx="4.75" ry="3.95"/>
<ellipse cx="561.9" cy="361.2" rx="4.75" ry="3.95"/>
<ellipse cx="652.4" cy="292.8" rx="4.75" ry="3.95"/>
<ellipse cx="561.1" cy="398.4" rx="4.75" ry="3.95"/>
<ellipse cx="427.4" cy="481" rx="4.75" ry="3.95"/>
<ellipse cx="487.3" cy="479.7" rx="4.75" ry="3.95"/>
<ellipse cx="522.3" cy="451" rx="4.75" ry="3.95"/>
<ellipse cx="653.6" cy="305.1" rx="4.75" ry="3.95"/>
<ellipse cx="475.5" cy="497.2" rx="4.75" ry="3.95"/>
<ellipse cx="512.6" cy="451.3" rx="4.75" ry="3.95"/>
<ellipse cx="364.6" cy="570.2" rx="4.75" ry="3.95"/>
<ellipse cx="510.7" cy="412.2" rx="4.75" ry="3.95"/>
<ellipse cx="441.4" cy="534.8" rx="4.75" ry="3.95"/>
<ellipse cx="393.1" cy="578.6" rx="4.75" ry="3.95"/>
<ellipse cx="489.7" cy="433" rx="4.75" ry="3.95"/>
<ellipse cx="353" cy="501.6" rx="4.75" ry="3.95"/>
<ellipse cx="534.6" cy="435.3" rx="4.75" ry="3.95"/>
<ellipse cx="553.4" cy="402.8" rx="4.75" ry="3.95"/>
<ellipse cx="357.1" cy="562.4" rx="4.75" ry="3.95"/>
<ellipse cx="616.8" cy="332" rx="4.75" ry="3.95"/>
<ellipse cx="597.9" cy="360.5" rx="4.75" ry="3.95"/>
<ellipse cx="493.6" cy="473.9" rx="4.75" ry="3.95"/>
<ellipse cx="464.2" cy="451.2" rx="4.75" ry="3.95"/>
<ellipse cx="448.1" cy="531.4" rx="4.75" ry="3.95"/>
<ellipse cx="538.4" cy="435.4" rx="4.75" ry="3.95"/>
<ellipse cx="577.6" cy="387.9" rx="4.75" ry="3.95"/>
<ellipse cx="597.7" cy="368" rx="4.75" ry="3.95"/>
<ellipse cx="439.7" cy="540.5" rx="4.75" ry="3.95"/>
<ellipse cx="439.5" cy="472" rx="4.75" ry="3.95"/>
<ellipse cx="337.5" cy="503.5" rx="4.75" ry="3.95"/>
<ellipse cx="649.9" cy="300.5" rx="4.75" ry="3.95"/>
<ellipse cx="648.1" cy="308" rx="4.75" ry="3.95"/>
<ellipse cx="635.6" cy="311.2" rx="4.75" ry="3.95"/>
<ellipse cx="649.4" cy="311" rx="4.75" ry="3.95"/>
<ellipse cx="622.5" cy="320.4" rx="4.75" ry="3.95"/>
<ellipse cx="526.6" cy="399.8" rx="4.75" ry="3.95"/>
<ellipse cx="618" cy="332.3" rx="4.75" ry="3.95"/>
<ellipse cx="437.7" cy="541.8" rx="4.75" ry="3.95"/>
<ellipse cx="350.5" cy="536.3" rx="4.75" ry="3.95"/>
<ellipse cx="509.4" cy="456.3" rx="4.75" ry="3.95"/>
<ellipse cx="398.5" cy="573.9" rx="4.75" ry="3.95"/>
<ellipse cx="348.6" cy="553.8" rx="4.75" ry="3.95"/>
<ellipse cx="359.2" cy="564.1" rx="4.75" ry="3.95"/>
<ellipse cx="525.1" cy="450.2" rx="4.75" ry="3.95"/>
<ellipse cx="375.5" cy="580.2" rx="4.75" ry="3.95"/>
<ellipse cx="518.3" cy="408.4" rx="4.75" ry="3.95"/>
<ellipse cx="513.3" cy="418.2" rx="4.75" ry="3.95"/>
<ellipse cx="555.7" cy="411.7" rx="4.75" ry="3.95"/>
<ellipse cx="556.8" cy="376.2" rx="4.75" ry="3.95"/>
<ellipse cx="463.4" cy="513.3" rx="4.75" ry="3.95"/>
<ellipse cx="357.3" cy="527.6" rx="4.75" ry="3.95"/>
<ellipse cx="408.6" cy="491" rx="4.75" ry="3.95"/>
<ellipse cx="446.5" cy="465.2" rx="4.75" ry="3.95"/>
<ellipse cx="529.3" cy="398.5" rx="4.75" ry="3.95"/>
<ellipse cx="410.2" cy="569" rx="4.75" ry="3.95"/>
<ellipse cx="484" cy="486.9" rx="4.75" ry="3.95"/>
<ellipse cx="437.5" cy="473" rx="4.75" ry="3.95"/>
<ellipse cx="395.8" cy="576.3" rx="4.75" ry="3.95"/>
<ellipse cx="365.8" cy="518" rx="4.75" ry="3.95"/>
<ellipse cx="374.1" cy="577.7" rx="4.75" ry="3.95"/>
<ellipse cx="592.9" cy="339.4" rx="4.75" ry="3.95"/>
<ellipse cx="447.4" cy="531" rx="4.75" ry="3.95"/>
<ellipse cx="357.4" cy="564.3" rx="4.75" ry="3.95"/>
<ellipse cx="554.3" cy="404.9" rx="4.75" ry="3.95"/>
<ellipse cx="444" cy="539" rx="4.75" ry="3.95"/>
<ellipse cx="353.2" cy="560.3" rx="4.75" ry="3.95"/>
<ellipse cx="459.1" cy="457.2" rx="4.75" ry="3.95"/>
<ellipse cx="385.1" cy="508.4" rx="4.75" ry="3.95"/>
<ellipse cx="486.6" cy="481.7" rx="4.75" ry="3.95"/>
<ellipse cx="491.8" cy="422.2" rx="4.75" ry="3.95"/>
<ellipse cx="384.1" cy="580.1" rx="4.75" ry="3.95"/>
<ellipse cx="407.3" cy="492.6" rx="4.75" ry="3.95"/>
<ellipse cx="489.3" cy="475.9" rx="4.75" ry="3.95"/>
<ellipse cx="549.4" cy="377.4" rx="4.75" ry="3.95"/>
<ellipse cx="570.4" cy="393.4" rx="4.75" ry="3.95"/>
<ellipse cx="658.5" cy="288.4" rx="4.75" ry="3.95"/>
<ellipse cx="602.5" cy="356.4" rx="4.75" ry="3.95"/>
<ellipse cx="526.1" cy="401" rx="4.75" ry="3.95"/>
<ellipse cx="575.9" cy="361.8" rx="4.75" ry="3.95"/>
<ellipse cx="369" cy="572.8" rx="4.75" ry="3.95"/>
<ellipse cx="509.1" cy="455.1" rx="4.75" ry="3.95"/>
<ellipse cx="498.7" cy="481" rx="4.75" ry="3.95"/>
<ellipse cx="523.6" cy="442.3" rx="4.75" ry="3.95"/>
<ellipse cx="525.6" cy="441.7" rx="4.75" ry="3.95"/>
<ellipse cx="507.9" cy="419.7" rx="4.75" ry="3.95"/>
<ellipse cx="492.7" cy="475" rx="4.75" ry="3.95"/>
<ellipse cx="638.4" cy="320.3" rx="4.75" ry="3.95"/>
<ellipse cx="413.3" cy="570.3" rx="4.75" ry="3.95"/>
<ellipse cx="483.5" cy="486.1" rx="4.75" ry="3.95"/>
<ellipse cx="414.9" cy="565.8" rx="4.75" ry="3.95"/>
<ellipse cx="418.7" cy="560.7" rx="4.75" ry="3.95"/>
<ellipse cx="588.3" cy="350.8" rx="4.75" ry="3.95"/>
<ellipse cx="469.2" cy="446.1" rx="4.75" ry="3.95"/>
<ellipse cx="475.3" cy="440.9" rx="4.75" ry="3.95"/>
<ellipse cx="360.7" cy="566.6" rx="4.75" ry="3.95"/>
<ellipse cx="365.2" cy="570.2" rx="4.75" ry="3.95"/>
<ellipse cx="526.8" cy="447.4" rx="4.75" ry="3.95"/>
<ellipse cx="597.6" cy="362.7" rx="4.75" ry="3.95"/>
<ellipse cx="503.7" cy="465.6" rx="4.75" ry="3.95"/>
<ellipse cx="385.8" cy="580.8" rx="4.75" ry="3.95"/>
<ellipse cx="671.5" cy="290.5" rx="4.75" ry="3.95"/>
<ellipse cx="456.2" cy="540" rx="4.75" ry="3.95"/>
<ellipse cx="361.9" cy="565.9" rx="4.75" ry="3.95"/>
<ellipse cx="643.7" cy="317.5" rx="4.75" ry="3.95"/>
<ellipse cx="558.4" cy="401.3" rx="4.75" ry="3.95"/>
<ellipse cx="516.5" cy="416.4" rx="4.75" ry="3.95"/>
<ellipse cx="388.4" cy="507.6" rx="4.75" ry="3.95"/>
<ellipse cx="432" cy="476" rx="4.75" ry="3.95"/>
<ellipse cx="539.3" cy="422.3" rx="4.75" ry="3.95"/>
<ellipse cx="365.4" cy="523.1" rx="4.75" ry="3.95"/>
<ellipse cx="361.6" cy="527.1" rx="4.75" ry="3.95"/>
<ellipse cx="550.1" cy="420.8" rx="4.75" ry="3.95"/>
<ellipse cx="399.1" cy="577" rx="4.75" ry="3.95"/>
<ellipse cx="558.1" cy="401.4" rx="4.75" ry="3.95"/>
<ellipse cx="485.4" cy="432.9" rx="4.75" ry="3.95"/>
<ellipse cx="401.9" cy="572" rx="4.75" ry="3.95"/>
<ellipse cx="426.2" cy="561.8" rx="4.75" ry="3.95"/>
<ellipse cx="496.1" cy="425" rx="4.75" ry="3.95"/>
<ellipse cx="382.7" cy="510.5" rx="4.75" ry="3.95"/>
<ellipse cx="362.9" cy="529.1" rx="4.75" ry="3.95"/>
<ellipse cx="360.4" cy="518" rx="4.75" ry="3.95"/>
<ellipse cx="460.9" cy="514.2" rx="4.75" ry="3.95"/>
<ellipse cx="358.7" cy="564.5" rx="4.75" ry="3.95"/>
<ellipse cx="558.1" cy="375.9" rx="4.75" ry="3.95"/>
<ellipse cx="362.1" cy="569" rx="4.75" ry="3.95"/>
<ellipse cx="441.8" cy="454" rx="4.75" ry="3.95"/>
<ellipse cx="676.5" cy="275.8" rx="4.75" ry="3.95"/>
<ellipse cx="416" cy="565" rx="4.75" ry="3.95"/>
<ellipse cx="426.8" cy="560.3" rx="4.75" ry="3.95"/>
<ellipse cx="460.3" cy="456.7" rx="4.75" ry="3.95"/>
<ellipse cx="447.9" cy="460.6" rx="4.75" ry="3.95"/>
<ellipse cx="565.8" cy="398" rx="4.75" ry="3.95"/>
<ellipse cx="503.7" cy="465.7" rx="4.75" ry="3.95"/>
<ellipse cx="388.1" cy="579.2" rx="4.75" ry="3.95"/>
<ellipse cx="571.4" cy="367.5" rx="4.75" ry="3.95"/>
<ellipse cx="413.4" cy="493.3" rx="4.75" ry="3.95"/>
<ellipse cx="446.8" cy="539.7" rx="4.75" ry="3.95"/>
<ellipse cx="403.4" cy="573.1" rx="4.75" ry="3.95"/>
<ellipse cx="363.2" cy="566.6" rx="4.75" ry="3.95"/>
<ellipse cx="512.6" cy="451.3" rx="4.75" ry="3.95"/>
<ellipse cx="405.2" cy="572.3" rx="4.75" ry="3.95"/>
<ellipse cx="399" cy="575.6" rx="4.75" ry="3.95"/>
<ellipse cx="403.5" cy="571.6" rx="4.75" ry="3.95"/>
<ellipse cx="599.5" cy="342.8" rx="4.75" ry="3.95"/>
<ellipse cx="434" cy="457.8" rx="4.75" ry="3.95"/>
<ellipse cx="387.6" cy="508.9" rx="4.75" ry="3.95"/>
<ellipse cx="597.8" cy="372.4" rx="4.75" ry="3.95"/>
<ellipse cx="557.1" cy="362.3" rx="4.75" ry="3.95"/>
<ellipse cx="609.1" cy="357.7" rx="4.75" ry="3.95"/>
<ellipse cx="353.5" cy="530.5" rx="4.75" ry="3.95"/>
<ellipse cx="369.6" cy="573.5" rx="4.75" ry="3.95"/>
<ellipse cx="419.8" cy="488.4" rx="4.75" ry="3.95"/>
<ellipse cx="562.3" cy="400.4" rx="4.75" ry="3.95"/>
<ellipse cx="557" cy="371.4" rx="4.75" ry="3.95"/>
<ellipse cx="374.2" cy="518.1" rx="4.75" ry="3.95"/>
<ellipse cx="468.1" cy="511.6" rx="4.75" ry="3.95"/>
<ellipse cx="507.7" cy="461.5" rx="4.75" ry="3.95"/>
<ellipse cx="380.1" cy="581.1" rx="4.75" ry="3.95"/>
<ellipse cx="509.2" cy="454.9" rx="4.75" ry="3.95"/>
<ellipse cx="458.3" cy="517.1" rx="4.75" ry="3.95"/>
<ellipse cx="545.7" cy="419.1" rx="4.75" ry="3.95"/>
<ellipse cx="509.7" cy="455" rx="4.75" ry="3.95"/>
<ellipse cx="545.2" cy="390.5" rx="4.75" ry="3.95"/>
<ellipse cx="510.3" cy="404.9" rx="4.75" ry="3.95"/>
<ellipse cx="633.4" cy="327.2" rx="4.75" ry="3.95"/>
<ellipse cx="363.6" cy="568.5" rx="4.75" ry="3.95"/>
<ellipse cx="526.3" cy="401.1" rx="4.75" ry="3.95"/>
<ellipse cx="586.6" cy="349.7" rx="4.75" ry="3.95"/>
<ellipse cx="445.9" cy="535.5" rx="4.75" ry="3.95"/>
<ellipse cx="479.5" cy="487.7" rx="4.75" ry="3.95"/>
<ellipse cx="377.9" cy="502.3" rx="4.75" ry="3.95"/>
<ellipse cx="628.5" cy="327.1" rx="4.75" ry="3.95"/>
<ellipse cx="580" cy="385.1" rx="4.75" ry="3.95"/>
<ellipse cx="420.7" cy="559.2" rx="4.75" ry="3.95"/>
<ellipse cx="606.4" cy="336.1" rx="4.75" ry="3.95"/>
<ellipse cx="574.7" cy="387.5" rx="4.75" ry="3.95"/>
<ellipse cx="513.3" cy="414.5" rx="4.75" ry="3.95"/>
<ellipse cx="532.9" cy="390.3" rx="4.75" ry="3.95"/>
<ellipse cx="481" cy="436.7" rx="4.75" ry="3.95"/>
<ellipse cx="533.5" cy="399" rx="4.75" ry="3.95"/>
<ellipse cx="422.8" cy="477" rx="4.75" ry="3.95"/>
<ellipse cx="356" cy="559.9" rx="4.75" ry="3.95"/>
<ellipse cx="642.7" cy="312.8" rx="4.75" ry="3.95"/>
<ellipse cx="566.8" cy="399.4" rx="4.75" ry="3.95"/>
<ellipse cx="532.4" cy="394.8" rx="4.75" ry="3.95"/>
<ellipse cx="479.7" cy="490.2" rx="4.75" ry="3.95"/>
<ellipse cx="485.2" cy="431.8" rx="4.75" ry="3.95"/>
<ellipse cx="674.5" cy="284.4" rx="4.75" ry="3.95"/>
<ellipse cx="454.3" cy="521.9" rx="4.75" ry="3.95"/>
<ellipse cx="579.5" cy="381.9" rx="4.75" ry="3.95"/>
<ellipse cx="350.4" cy="557" rx="4.75" ry="3.95"/>
<ellipse cx="419.5" cy="482.2" rx="4.75" ry="3.95"/>
<ellipse cx="547.2" cy="377.1" rx="4.75" ry="3.95"/>
<ellipse cx="477" cy="441.7" rx="4.75" ry="3.95"/>
<ellipse cx="463.1" cy="519" rx="4.75" ry="3.95"/>
<ellipse cx="365" cy="520" rx="4.75" ry="3.95"/>
<ellipse cx="477.2" cy="439.9" rx="4.75" ry="3.95"/>
<ellipse cx="584.4" cy="373.3" rx="4.75" ry="3.95"/>
<ellipse cx="437.8" cy="542.8" rx="4.75" ry="3.95"/>
<ellipse cx="514.3" cy="465.9" rx="4.75" ry="3.95"/>
<ellipse cx="551" cy="417.6" rx="4.75" ry="3.95"/>
<ellipse cx="383.4" cy="505.2" rx="4.75" ry="3.95"/>
<ellipse cx="420.2" cy="561.3" rx="4.75" ry="3.95"/>
<ellipse cx="378.6" cy="510.3" rx="4.75" ry="3.95"/>
<ellipse cx="503.6" cy="464.5" rx="4.75" ry="3.95"/>
<ellipse cx="511" cy="456.1" rx="4.75" ry="3.95"/>
<ellipse cx="637" cy="315.3" rx="4.75" ry="3.95"/>
<ellipse cx="357.5" cy="520.6" rx="4.75" ry="3.95"/>
<ellipse cx="618.3" cy="329.5" rx="4.75" ry="3.95"/>
<ellipse cx="547.5" cy="381.4" rx="4.75" ry="3.95"/>
<ellipse cx="644.7" cy="318.6" rx="4.75" ry="3.95"/>
<ellipse cx="438.2" cy="544.4" rx="4.75" ry="3.95"/>
<ellipse cx="393.8" cy="494.9" rx="4.75" ry="3.95"/>
<ellipse cx="668.2" cy="287" rx="4.75" ry="3.95"/>
<ellipse cx="515.2" cy="413.4" rx="4.75" ry="3.95"/>
<ellipse cx="617" cy="338.4" rx="4.75" ry="3.95"/>
<ellipse cx="488.1" cy="477.1" rx="4.75" ry="3.95"/>
<ellipse cx="413.5" cy="568.8" rx="4.75" ry="3.95"/>
<ellipse cx="379.5" cy="510.1" rx="4.75" ry="3.95"/>
<ellipse cx="393.4" cy="506.2" rx="4.75" ry="3.95"/>
<ellipse cx="644" cy="303" rx="4.75" ry="3.95"/>
<ellipse cx="618.3" cy="346.4" rx="4.75" ry="3.95"/>
<ellipse cx="552" cy="419.8" rx="4.75" ry="3.95"/>
<ellipse cx="416.5" cy="561.9" rx="4.75" ry="3.95"/>
<ellipse cx="378.4" cy="510.3" rx="4.75" ry="3.95"/>
<ellipse cx="366" cy="570.6" rx="4.75" ry="3.95"/>
<ellipse cx="502.6" cy="461.1" rx="4.75" ry="3.95"/>
<ellipse cx="642.3" cy="302.6" rx="4.75" ry="3.95"/>
<ellipse cx="446.6" cy="533.5" rx="4.75" ry="3.95"/>
<ellipse cx="548" cy="424.3" rx="4.75" ry="3.95"/>
<ellipse cx="348.7" cy="551.4" rx="4.75" ry="3.95"/>
<ellipse cx="559.6" cy="400.4" rx="4.75" ry="3.95"/>
<ellipse cx="428.9" cy="552.3" rx="4.75" ry="3.95"/>
<ellipse cx="471.1" cy="502" rx="4.75" ry="3.95"/>
<ellipse cx="585.7" cy="377.3" rx="4.75" ry="3.95"/>
<ellipse cx="556.2" cy="401.3" rx="4.75" ry="3.95"/>
<ellipse cx="362.8" cy="569.8" rx="4.75" ry="3.95"/>
<ellipse cx="658.2" cy="292.1" rx="4.75" ry="3.95"/>
<ellipse cx="494.8" cy="428" rx="4.75" ry="3.95"/>
<ellipse cx="541.9" cy="419.6" rx="4.75" ry="3.95"/>
<ellipse cx="497.5" cy="476" rx="4.75" ry="3.95"/>
<ellipse cx="453.8" cy="521.2" rx="4.75" ry="3.95"/>
<ellipse cx="506.2" cy="414.6" rx="4.75" ry="3.95"/>
<ellipse cx="387.7" cy="491.1" rx="4.75" ry="3.95"/>
<ellipse cx="428" cy="472.8" rx="4.75" ry="3.95"/>
<ellipse cx="494.3" cy="477" rx="4.75" ry="3.95"/>
<ellipse cx="495.9" cy="475.1" rx="4.75" ry="3.95"/>
<ellipse cx="489.7" cy="433.4" rx="4.75" ry="3.95"/>
<ellipse cx="398.8" cy="574.6" rx="4.75" ry="3.95"/>
<ellipse cx="352.3" cy="515.8" rx="4.75" ry="3.95"/>
<ellipse cx="522.4" cy="405.5" rx="4.75" ry="3.95"/>
<ellipse cx="647.1" cy="309.3" rx="4.75" ry="3.95"/>
<ellipse cx="601.5" cy="339.9" rx="4.75" ry="3.95"/>
<ellipse cx="636.2" cy="319.7" rx="4.75" ry="3.95"/>
<ellipse cx="488.6" cy="505" rx="4.75" ry="3.95"/>
<ellipse cx="619.2" cy="338.7" rx="4.75" ry="3.95"/>
<ellipse cx="487.5" cy="477.8" rx="4.75" ry="3.95"/>
<ellipse cx="441.9" cy="550.3" rx="4.75" ry="3.95"/>
<ellipse cx="373" cy="577.1" rx="4.75" ry="3.95"/>
<ellipse cx="674.1" cy="280.7" rx="4.75" ry="3.95"/>
<ellipse cx="449.9" cy="525.8" rx="4.75" ry="3.95"/>
<ellipse cx="347" cy="545" rx="4.75" ry="3.95"/>
<ellipse cx="461.5" cy="453.6" rx="4.75" ry="3.95"/>
<ellipse cx="541.4" cy="429.4" rx="4.75" ry="3.95"/>
<ellipse cx="540.4" cy="427.8" rx="4.75" ry="3.95"/>
<ellipse cx="635.8" cy="327.9" rx="4.75" ry="3.95"/>
<ellipse cx="472.2" cy="450.3" rx="4.75" ry="3.95"/>
<ellipse cx="572.2" cy="391" rx="4.75" ry="3.95"/>
<ellipse cx="363.8" cy="568.5" rx="4.75" ry="3.95"/>
<ellipse cx="638.3" cy="319.6" rx="4.75" ry="3.95"/>
<ellipse cx="394.6" cy="505.6" rx="4.75" ry="3.95"/>
<ellipse cx="393.1" cy="577.1" rx="4.75" ry="3.95"/>
<ellipse cx="432" cy="549.1" rx="4.75" ry="3.95"/>
<ellipse cx="508.1" cy="458" rx="4.75" ry="3.95"/>
<ellipse cx="344.7" cy="544" rx="4.75" ry="3.95"/>
<ellipse cx="377.8" cy="512.6" rx="4.75" ry="3.95"/>
<ellipse cx="517.1" cy="413.3" rx="4.75" ry="3.95"/>
<ellipse cx="462.4" cy="450.8" rx="4.75" ry="3.95"/>
<ellipse cx="540.6" cy="420.2" rx="4.75" ry="3.95"/>
<ellipse cx="437.2" cy="465.4" rx="4.75" ry="3.95"/>
<ellipse cx="480.4" cy="510.1" rx="4.75" ry="3.95"/>
<ellipse cx="539.1" cy="389" rx="4.75" ry="3.95"/>
<ellipse cx="416.7" cy="485.4" rx="4.75" ry="3.95"/>
<ellipse cx="597.3" cy="340.5" rx="4.75" ry="3.95"/>
<ellipse cx="481.4" cy="495.3" rx="4.75" ry="3.95"/>
<ellipse cx="364.3" cy="568.4" rx="4.75" ry="3.95"/>
<ellipse cx="515.5" cy="407.8" rx="4.75" ry="3.95"/>
<ellipse cx="567.5" cy="399.5" rx="4.75" ry="3.95"/>
<ellipse cx="474" cy="437.2" rx="4.75" ry="3.95"/>
<ellipse cx="350.7" cy="524.6" rx="4.75" ry="3.95"/>
<ellipse cx="573" cy="357.4" rx="4.75" ry="3.95"/>
<ellipse cx="382.8" cy="507.2" rx="4.75" ry="3.95"/>
<ellipse cx="570.6" cy="361.1" rx="4.75" ry="3.95"/>
<ellipse cx="422.6" cy="563.6" rx="4.75" ry="3.95"/>
<ellipse cx="459.2" cy="457.6" rx="4.75" ry="3.95"/>
<ellipse cx="540.1" cy="425.3" rx="4.75" ry="3.95"/>
<ellipse cx="581.1" cy="381.3" rx="4.75" ry="3.95"/>
<ellipse cx="649.7" cy="297.6" rx="4.75" ry="3.95"/>
<ellipse cx="494.7" cy="397.4" rx="4.75" ry="3.95"/>
<ellipse cx="520.7" cy="405.2" rx="4.75" ry="3.95"/>
<ellipse cx="477.3" cy="501.8" rx="4.75" ry="3.95"/>
<ellipse cx="617.2" cy="338.3" rx="4.75" ry="3.95"/>
<ellipse cx="610.3" cy="353.3" rx="4.75" ry="3.95"/>
<ellipse cx="505.7" cy="466.3" rx="4.75" ry="3.95"/>
<ellipse cx="516.9" cy="414.5" rx="4.75" ry="3.95"/>
<ellipse cx="356.3" cy="530.1" rx="4.75" ry="3.95"/>
<ellipse cx="363.2" cy="567.2" rx="4.75" ry="3.95"/>
<ellipse cx="474.5" cy="449.2" rx="4.75" ry="3.95"/>
<ellipse cx="446.2" cy="467.1" rx="4.75" ry="3.95"/>
<ellipse cx="596.3" cy="362.1" rx="4.75" ry="3.95"/>
<ellipse cx="597.1" cy="342.8" rx="4.75" ry="3.95"/>
<ellipse cx="552.7" cy="411" rx="4.75" ry="3.95"/>
<ellipse cx="616" cy="343.1" rx="4.75" ry="3.95"/>
<ellipse cx="455" cy="460.4" rx="4.75" ry="3.95"/>
<ellipse cx="675.3" cy="277.2" rx="4.75" ry="3.95"/>
<ellipse cx="401.1" cy="500.8" rx="4.75" ry="3.95"/>
<ellipse cx="486" cy="483.9" rx="4.75" ry="3.95"/>
<ellipse cx="451" cy="523.5" rx="4.75" ry="3.95"/>
<ellipse cx="610.6" cy="346.7" rx="4.75" ry="3.95"/>
<ellipse cx="348.4" cy="555.1" rx="4.75" ry="3.95"/>
<ellipse cx="594.8" cy="349.5" rx="4.75" ry="3.95"/>
<ellipse cx="412.1" cy="567.1" rx="4.75" ry="3.95"/>
<ellipse cx="410.5" cy="492" rx="4.75" ry="3.95"/>
<ellipse cx="484.9" cy="495.1" rx="4.75" ry="3.95"/>
<ellipse cx="495" cy="417.8" rx="4.75" ry="3.95"/>
<ellipse cx="456.2" cy="516.1" rx="4.75" ry="3.95"/>
<ellipse cx="448.5" cy="453.8" rx="4.75" ry="3.95"/>
<ellipse cx="476.9" cy="495.6" rx="4.75" ry="3.95"/>
<ellipse cx="425.5" cy="484.1" rx="4.75" ry="3.95"/>
<ellipse cx="348" cy="539.8" rx="4.75" ry="3.95"/>
<ellipse cx="491.6" cy="487.9" rx="4.75" ry="3.95"/>
<ellipse cx="473.2" cy="503.4" rx="4.75" ry="3.95"/>
<ellipse cx="526.9" cy="435.5" rx="4.75" ry="3.95"/>
<ellipse cx="458.6" cy="526.1" rx="4.75" ry="3.95"/>
<ellipse cx="544.7" cy="426.4" rx="4.75" ry="3.95"/>
<ellipse cx="365.3" cy="567.6" rx="4.75" ry="3.95"/>
<ellipse cx="646.4" cy="309.3" rx="4.75" ry="3.95"/>
<ellipse cx="413.3" cy="565.8" rx="4.75" ry="3.95"/>
<ellipse cx="359.2" cy="566" rx="4.75" ry="3.95"/>
<ellipse cx="466.4" cy="513.4" rx="4.75" ry="3.95"/>
<ellipse cx="382.4" cy="510.6" rx="4.75" ry="3.95"/>
<ellipse cx="407.9" cy="493.5" rx="4.75" ry="3.95"/>
<ellipse cx="596.7" cy="344.4" rx="4.75" ry="3.95"/>
<ellipse cx="609.4" cy="335.8" rx="4.75" ry="3.95"/>
<ellipse cx="409.6" cy="485" rx="4.75" ry="3.95"/>
<ellipse cx="428.4" cy="558.8" rx="4.75" ry="3.95"/>
<ellipse cx="415.2" cy="563.9" rx="4.75" ry="3.95"/>
<ellipse cx="415" cy="477.5" rx="4.75" ry="3.95"/>
<ellipse cx="438.6" cy="549.8" rx="4.75" ry="3.95"/>
<ellipse cx="617" cy="331.7" rx="4.75" ry="3.95"/>
<ellipse cx="648.4" cy="310.4" rx="4.75" ry="3.95"/>
<ellipse cx="554.5" cy="407.4" rx="4.75" ry="3.95"/>
<ellipse cx="410.1" cy="570.2" rx="4.75" ry="3.95"/>
<ellipse cx="386.3" cy="582.2" rx="4.75" ry="3.95"/>
<ellipse cx="366.1" cy="570.6" rx="4.75" ry="3.95"/>
<ellipse cx="424.5" cy="558.2" rx="4.75" ry="3.95"/>
<ellipse cx="360.3" cy="567.2" rx="4.75" ry="3.95"/>
<ellipse cx="515.9" cy="456.1" rx="4.75" ry="3.95"/>
<ellipse cx="503.5" cy="472.4" rx="4.75" ry="3.95"/>
<ellipse cx="680.4" cy="275.2" rx="4.75" ry="3.95"/>
<ellipse cx="542.6" cy="392.1" rx="4.75" ry="3.95"/>
<ellipse cx="664" cy="301.5" rx="4.75" ry="3.95"/>
<ellipse cx="509.7" cy="453.4" rx="4.75" ry="3.95"/>
<ellipse cx="556.3" cy="401.3" rx="4.75" ry="3.95"/>
<ellipse cx="348.6" cy="538.3" rx="4.75" ry="3.95"/>
<ellipse cx="413.4" cy="492.4" rx="4.75" ry="3.95"/>
<ellipse cx="375" cy="578.5" rx="4.75" ry="3.95"/>
<ellipse cx="592.7" cy="363.1" rx="4.75" ry="3.95"/>
<ellipse cx="473.2" cy="506" rx="4.75" ry="3.95"/>
<ellipse cx="349.4" cy="525.1" rx="4.75" ry="3.95"/>
<ellipse cx="522.4" cy="406.8" rx="4.75" ry="3.95"/>
<ellipse cx="503.2" cy="471.9" rx="4.75" ry="3.95"/>
<ellipse cx="622" cy="319.9" rx="4.75" ry="3.95"/>
<ellipse cx="582" cy="378.4" rx="4.75" ry="3.95"/>
<ellipse cx="603.4" cy="338.9" rx="4.75" ry="3.95"/>
<ellipse cx="606.1" cy="351.5" rx="4.75" ry="3.95"/>
<ellipse cx="559.8" cy="412.2" rx="4.75" ry="3.95"/>
<ellipse cx="626.7" cy="320.3" rx="4.75" ry="3.95"/>
<ellipse cx="679" cy="279.9" rx="4.75" ry="3.95"/>
<ellipse cx="673.5" cy="292.9" rx="4.75" ry="3.95"/>
<ellipse cx="506.1" cy="469" rx="4.75" ry="3.95"/>
<ellipse cx="439.7" cy="537.4" rx="4.75" ry="3.95"/>
<ellipse cx="360.3" cy="564.4" rx="4.75" ry="3.95"/>
<ellipse cx="367.7" cy="572.4" rx="4.75" ry="3.95"/>
<ellipse cx="451.8" cy="525.6" rx="4.75" ry="3.95"/>
<ellipse cx="551.7" cy="406.6" rx="4.75" ry="3.95"/>
<ellipse cx="373.1" cy="578.9" rx="4.75" ry="3.95"/>
<ellipse cx="453.3" cy="458.8" rx="4.75" ry="3.95"/>
<ellipse cx="591" cy="364.1" rx="4.75" ry="3.95"/>
<ellipse cx="582.7" cy="355" rx="4.75" ry="3.95"/>
<ellipse cx="601.9" cy="331.5" rx="4.75" ry="3.95"/>
<ellipse cx="350.3" cy="549.2" rx="4.75" ry="3.95"/>
<ellipse cx="582.6" cy="381" rx="4.75" ry="3.95"/>
<ellipse cx="571.1" cy="365.7" rx="4.75" ry="3.95"/>
<ellipse cx="350.5" cy="546.5" rx="4.75" ry="3.95"/>
<ellipse cx="356.9" cy="561.4" rx="4.75" ry="3.95"/>
<ellipse cx="405.6" cy="477.5" rx="4.75" ry="3.95"/>
<ellipse cx="587.3" cy="353.2" rx="4.75" ry="3.95"/>
<ellipse cx="632" cy="323.2" rx="4.75" ry="3.95"/>
<ellipse cx="416.1" cy="480.8" rx="4.75" ry="3.95"/>
<ellipse cx="373.3" cy="576.6" rx="4.75" ry="3.95"/>
<ellipse cx="608.9" cy="331.7" rx="4.75" ry="3.95"/>
<ellipse cx="422.9" cy="559" rx="4.75" ry="3.95"/>
<ellipse cx="461.5" cy="512.3" rx="4.75" ry="3.95"/>
<ellipse cx="654.6" cy="296" rx="4.75" ry="3.95"/>
<ellipse cx="512.4" cy="480.1" rx="4.75" ry="3.95"/>
<ellipse cx="363.4" cy="566.6" rx="4.75" ry="3.95"/>
<ellipse cx="573.7" cy="354" rx="4.75" ry="3.95"/>
<ellipse cx="612.3" cy="351.1" rx="4.75" ry="3.95"/>
<ellipse cx="390.6" cy="579.3" rx="4.75" ry="3.95"/>
<ellipse cx="360.6" cy="564.9" rx="4.75" ry="3.95"/>
<ellipse cx="454.6" cy="526.4" rx="4.75" ry="3.95"/>
<ellipse cx="478.3" cy="498" rx="4.75" ry="3.95"/>
<ellipse cx="598.2" cy="358.6" rx="4.75" ry="3.95"/>
<ellipse cx="591.9" cy="344.9" rx="4.75" ry="3.95"/>
<ellipse cx="608.3" cy="354.2" rx="4.75" ry="3.95"/>
<ellipse cx="482.9" cy="487.6" rx="4.75" ry="3.95"/>
<ellipse cx="676.2" cy="279.7" rx="4.75" ry="3.95"/>
<ellipse cx="660.8" cy="293.6" rx="4.75" ry="3.95"/>
<ellipse cx="646.2" cy="307.9" rx="4.75" ry="3.95"/>
<ellipse cx="345.1" cy="544.6" rx="4.75" ry="3.95"/>
<ellipse cx="453.3" cy="524.3" rx="4.75" ry="3.95"/>
<ellipse cx="546.9" cy="428.7" rx="4.75" ry="3.95"/>
<ellipse cx="602.3" cy="354.6" rx="4.75" ry="3.95"/>
<ellipse cx="497.3" cy="488.4" rx="4.75" ry="3.95"/>
<ellipse cx="637.7" cy="306.4" rx="4.75" ry="3.95"/>
<ellipse cx="621.7" cy="318.5" rx="4.75" ry="3.95"/>
<ellipse cx="525.8" cy="433.5" rx="4.75" ry="3.95"/>
<ellipse cx="556.6" cy="400.3" rx="4.75" ry="3.95"/>
<ellipse cx="498" cy="399.9" rx="4.75" ry="3.95"/>
<ellipse cx="477.6" cy="432.3" rx="4.75" ry="3.95"/>
<ellipse cx="670.9" cy="283.9" rx="4.75" ry="3.95"/>
<ellipse cx="377.6" cy="580.6" rx="4.75" ry="3.95"/>
<ellipse cx="601.5" cy="356.3" rx="4.75" ry="3.95"/>
<ellipse cx="635.1" cy="316.3" rx="4.75" ry="3.95"/>
<ellipse cx="448.1" cy="450" rx="4.75" ry="3.95"/>
<ellipse cx="591.5" cy="349.9" rx="4.75" ry="3.95"/>
<ellipse cx="643.5" cy="310.9" rx="4.75" ry="3.95"/>
<ellipse cx="367" cy="573.6" rx="4.75" ry="3.95"/>
<ellipse cx="395.1" cy="575.9" rx="4.75" ry="3.95"/>
<ellipse cx="596.4" cy="348.3" rx="4.75" ry="3.95"/>
<ellipse cx="428.1" cy="552.4" rx="4.75" ry="3.95"/>
<ellipse cx="495.8" cy="421.1" rx="4.75" ry="3.95"/>
<ellipse cx="485.3" cy="482.7" rx="4.75" ry="3.95"/>
<ellipse cx="429.8" cy="555.4" rx="4.75" ry="3.95"/>
<ellipse cx="653.9" cy="294.8" rx="4.75" ry="3.95"/>
<ellipse cx="352.3" cy="529.1" rx="4.75" ry="3.95"/>
<ellipse cx="386.7" cy="581.3" rx="4.75" ry="3.95"/>
<ellipse cx="527.2" cy="434.8" rx="4.75" ry="3.95"/>
<ellipse cx="532.8" cy="447.9" rx="4.75" ry="3.95"/>
<ellipse cx="484.1" cy="487.1" rx="4.75" ry="3.95"/>
<ellipse cx="661.7" cy="297.6" rx="4.75" ry="3.95"/>
<ellipse cx="349.3" cy="528.3" rx="4.75" ry="3.95"/>
<ellipse cx="665.1" cy="289.3" rx="4.75" ry="3.95"/>
<ellipse cx="516.6" cy="450.7" rx="4.75" ry="3.95"/>
<ellipse cx="509.5" cy="418.8" rx="4.75" ry="3.95"/>
<ellipse cx="369.2" cy="574.6" rx="4.75" ry="3.95"/>
<ellipse cx="636.3" cy="319.5" rx="4.75" ry="3.95"/>
<ellipse cx="570" cy="366.5" rx="4.75" ry="3.95"/>
<ellipse cx="559.8" cy="368.3" rx="4.75" ry="3.95"/>
<ellipse cx="410.1" cy="492.7" rx="4.75" ry="3.95"/>
<ellipse cx="601.4" cy="369.4" rx="4.75" ry="3.95"/>
<ellipse cx="640.7" cy="314.2" rx="4.75" ry="3.95"/>
<ellipse cx="660.3" cy="288.6" rx="4.75" ry="3.95"/>
<ellipse cx="455.3" cy="518.9" rx="4.75" ry="3.95"/>
<ellipse cx="444.3" cy="465.2" rx="4.75" ry="3.95"/>
<ellipse cx="384" cy="581.1" rx="4.75" ry="3.95"/>
<ellipse cx="619" cy="341.4" rx="4.75" ry="3.95"/>
<ellipse cx="678.7" cy="279.1" rx="4.75" ry="3.95"/>
<ellipse cx="674.1" cy="280.1" rx="4.75" ry="3.95"/>
<ellipse cx="444.6" cy="468.9" rx="4.75" ry="3.95"/>
<ellipse cx="359.9" cy="565.3" rx="4.75" ry="3.95"/>
<ellipse cx="448.2" cy="533.5" rx="4.75" ry="3.95"/>
<ellipse cx="618.2" cy="346.1" rx="4.75" ry="3.95"/>
<ellipse cx="408.9" cy="572.4" rx="4.75" ry="3.95"/>
<ellipse cx="652.4" cy="306.5" rx="4.75" ry="3.95"/>
<ellipse cx="506.9" cy="489" rx="4.75" ry="3.95"/>
<ellipse cx="353" cy="559.5" rx="4.75" ry="3.95"/>
<ellipse cx="515.8" cy="412.7" rx="4.75" ry="3.95"/>
<ellipse cx="550.6" cy="417.4" rx="4.75" ry="3.95"/>
<ellipse cx="511.3" cy="398.9" rx="4.75" ry="3.95"/>
<ellipse cx="632.2" cy="326.2" rx="4.75" ry="3.95"/>
<ellipse cx="440" cy="536" rx="4.75" ry="3.95"/>
<ellipse cx="478.7" cy="492.6" rx="4.75" ry="3.95"/>
<ellipse cx="444.1" cy="535.1" rx="4.75" ry="3.95"/>
<ellipse cx="494.7" cy="427.5" rx="4.75" ry="3.95"/>
<ellipse cx="613.7" cy="345.3" rx="4.75" ry="3.95"/>
<ellipse cx="649.4" cy="309.9" rx="4.75" ry="3.95"/>
<ellipse cx="546.2" cy="419.1" rx="4.75" ry="3.95"/>
<ellipse cx="479.6" cy="440.1" rx="4.75" ry="3.95"/>
<ellipse cx="449.6" cy="530.7" rx="4.75" ry="3.95"/>
<ellipse cx="475.5" cy="443" rx="4.75" ry="3.95"/>
<ellipse cx="344.1" cy="546.9" rx="4.75" ry="3.95"/>
<ellipse cx="444.5" cy="551.2" rx="4.75" ry="3.95"/>
<ellipse cx="413.2" cy="569.4" rx="4.75" ry="3.95"/>
<ellipse cx="437" cy="551.2" rx="4.75" ry="3.95"/>
<ellipse cx="376.1" cy="581.5" rx="4.75" ry="3.95"/>
<ellipse cx="512.5" cy="406.1" rx="4.75" ry="3.95"/>
<ellipse cx="621.2" cy="325.3" rx="4.75" ry="3.95"/>
<ellipse cx="508.3" cy="455" rx="4.75" ry="3.95"/>
<ellipse cx="455.9" cy="519.8" rx="4.75" ry="3.95"/>
<ellipse cx="347.5" cy="554.3" rx="4.75" ry="3.95"/>
<ellipse cx="592.2" cy="370.6" rx="4.75" ry="3.95"/>
<ellipse cx="449.5" cy="460.9" rx="4.75" ry="3.95"/>
<ellipse cx="482" cy="430.8" rx="4.75" ry="3.95"/>
<ellipse cx="415.1" cy="566.3" rx="4.75" ry="3.95"/>
<ellipse cx="357.5" cy="565.1" rx="4.75" ry="3.95"/>
<ellipse cx="518.2" cy="457.9" rx="4.75" ry="3.95"/>
<ellipse cx="475.1" cy="449" rx="4.75" ry="3.95"/>
<ellipse cx="537.9" cy="439.8" rx="4.75" ry="3.95"/>
<ellipse cx="643.8" cy="308.2" rx="4.75" ry="3.95"/>
<ellipse cx="666.3" cy="291.4" rx="4.75" ry="3.95"/>
<ellipse cx="442.5" cy="536.4" rx="4.75" ry="3.95"/>
<ellipse cx="594.6" cy="372.1" rx="4.75" ry="3.95"/>
<ellipse cx="490.7" cy="476.8" rx="4.75" ry="3.95"/>
<ellipse cx="528.6" cy="444.1" rx="4.75" ry="3.95"/>
<ellipse cx="581.8" cy="356.7" rx="4.75" ry="3.95"/>
<ellipse cx="459.7" cy="512.5" rx="4.75" ry="3.95"/>
<ellipse cx="540.8" cy="428.5" rx="4.75" ry="3.95"/>
<ellipse cx="612.8" cy="344.9" rx="4.75" ry="3.95"/>
<ellipse cx="566.5" cy="396.4" rx="4.75" ry="3.95"/>
<ellipse cx="663.6" cy="283.9" rx="4.75" ry="3.95"/>
<ellipse cx="371.4" cy="513.5" rx="4.75" ry="3.95"/>
<ellipse cx="645.3" cy="304" rx="4.75" ry="3.95"/>
<ellipse cx="647.4" cy="311.1" rx="4.75" ry="3.95"/>
<ellipse cx="580.7" cy="356.9" rx="4.75" ry="3.95"/>
<ellipse cx="626.9" cy="337" rx="4.75" ry="3.95"/>
<ellipse cx="557.7" cy="368.5" rx="4.75" ry="3.95"/>
<ellipse cx="467.9" cy="442.3" rx="4.75" ry="3.95"/>
<ellipse cx="363.9" cy="569.3" rx="4.75" ry="3.95"/>
<ellipse cx="581.1" cy="357" rx="4.75" ry="3.95"/>
<ellipse cx="400.9" cy="493" rx="4.75" ry="3.95"/>
<ellipse cx="595.5" cy="345.4" rx="4.75" ry="3.95"/>
<ellipse cx="565.1" cy="397" rx="4.75" ry="3.95"/>
<ellipse cx="411.4" cy="566.5" rx="4.75" ry="3.95"/>
<ellipse cx="513.1" cy="417.1" rx="4.75" ry="3.95"/>
<ellipse cx="511" cy="462.7" rx="4.75" ry="3.95"/>
<ellipse cx="372.4" cy="576.7" rx="4.75" ry="3.95"/>
<ellipse cx="573.6" cy="386.1" rx="4.75" ry="3.95"/>
<ellipse cx="554.4" cy="413.7" rx="4.75" ry="3.95"/>
<ellipse cx="371.6" cy="518" rx="4.75" ry="3.95"/>
<ellipse cx="431.4" cy="556.4" rx="4.75" ry="3.95"/>
<ellipse cx="549.8" cy="414.5" rx="4.75" ry="3.95"/>
<ellipse cx="360.2" cy="565.5" rx="4.75" ry="3.95"/>
<ellipse cx="395.7" cy="579.7" rx="4.75" ry="3.95"/>
<ellipse cx="369.1" cy="510.7" rx="4.75" ry="3.95"/>
<ellipse cx="463.5" cy="439.6" rx="4.75" ry="3.95"/>
<ellipse cx="559.4" cy="410.7" rx="4.75" ry="3.95"/>
<ellipse cx="460" cy="514.9" rx="4.75" ry="3.95"/>
<ellipse cx="352.2" cy="557" rx="4.75" ry="3.95"/>
<ellipse cx="621.2" cy="322.2" rx="4.75" ry="3.95"/>
<ellipse cx="384.4" cy="580" rx="4.75" ry="3.95"/>
<ellipse cx="476.9" cy="434.7" rx="4.75" ry="3.95"/>
<ellipse cx="517.9" cy="411.5" rx="4.75" ry="3.95"/>
<ellipse cx="475.8" cy="434.8" rx="4.75" ry="3.95"/>
<ellipse cx="483.4" cy="489.1" rx="4.75" ry="3.95"/>
<ellipse cx="543" cy="432.8" rx="4.75" ry="3.95"/>
<ellipse cx="526.4" cy="439.3" rx="4.75" ry="3.95"/>
<ellipse cx="461.4" cy="517.9" rx="4.75" ry="3.95"/>
<ellipse cx="494.6" cy="473.2" rx="4.75" ry="3.95"/>
<ellipse cx="356.9" cy="563.1" rx="4.75" ry="3.95"/>
<ellipse cx="563.5" cy="398.5" rx="4.75" ry="3.95"/>
<ellipse cx="434" cy="551.3" rx="4.75" ry="3.95"/>
<ellipse cx="654.5" cy="306.3" rx="4.75" ry="3.95"/>
<ellipse cx="436.4" cy="547.8" rx="4.75" ry="3.95"/>
<ellipse cx="429.9" cy="467.4" rx="4.75" ry="3.95"/>
<ellipse cx="555.2" cy="401.9" rx="4.75" ry="3.95"/>
<ellipse cx="372.9" cy="578.5" rx="4.75" ry="3.95"/>
<ellipse cx="620.4" cy="346.8" rx="4.75" ry="3.95"/>
<ellipse cx="542.2" cy="419.4" rx="4.75" ry="3.95"/>
<ellipse cx="348.1" cy="533.7" rx="4.75" ry="3.95"/>
<ellipse cx="443" cy="544.3" rx="4.75" ry="3.95"/>
<ellipse cx="606.9" cy="349.2" rx="4.75" ry="3.95"/>
<ellipse cx="419.7" cy="567.7" rx="4.75" ry="3.95"/>
<ellipse cx="348.1" cy="552.6" rx="4.75" ry="3.95"/>
<ellipse cx="642.2" cy="305" rx="4.75" ry="3.95"/>
<ellipse cx="495.4" cy="421.5" rx="4.75" ry="3.95"/>
<ellipse cx="445" cy="546.9" rx="4.75" ry="3.95"/>
<ellipse cx="428.8" cy="560.8" rx="4.75" ry="3.95"/>
<ellipse cx="353.9" cy="556.9" rx="4.75" ry="3.95"/>
<ellipse cx="400.1" cy="575.2" rx="4.75" ry="3.95"/>
<ellipse cx="451.8" cy="525.6" rx="4.75" ry="3.95"/>
<ellipse cx="597.2" cy="359.9" rx="4.75" ry="3.95"/>
<ellipse cx="368.1" cy="574.3" rx="4.75" ry="3.95"/>
<ellipse cx="529.2" cy="398" rx="4.75" ry="3.95"/>
<ellipse cx="568.7" cy="393.2" rx="4.75" ry="3.95"/>
<ellipse cx="570.8" cy="357.8" rx="4.75" ry="3.95"/>
<ellipse cx="450" cy="453.7" rx="4.75" ry="3.95"/>
<ellipse cx="355.8" cy="562.5" rx="4.75" ry="3.95"/>
<ellipse cx="627.8" cy="317.5" rx="4.75" ry="3.95"/>
<ellipse cx="510.3" cy="406" rx="4.75" ry="3.95"/>
<ellipse cx="407.1" cy="487.1" rx="4.75" ry="3.95"/>
<ellipse cx="352.5" cy="557.9" rx="4.75" ry="3.95"/>
<ellipse cx="646.9" cy="300.2" rx="4.75" ry="3.95"/>
<ellipse cx="349.4" cy="553.4" rx="4.75" ry="3.95"/>
<ellipse cx="383.9" cy="497.4" rx="4.75" ry="3.95"/>
<ellipse cx="658" cy="305" rx="4.75" ry="3.95"/>
<ellipse cx="361.5" cy="565.3" rx="4.75" ry="3.95"/>
<ellipse cx="492.3" cy="492.9" rx="4.75" ry="3.95"/>
<ellipse cx="605.1" cy="339.3" rx="4.75" ry="3.95"/>
<ellipse cx="523.5" cy="460.8" rx="4.75" ry="3.95"/>
<ellipse cx="648.4" cy="304.4" rx="4.75" ry="3.95"/>
<ellipse cx="524.2" cy="442.6" rx="4.75" ry="3.95"/>
<ellipse cx="607.8" cy="364.8" rx="4.75" ry="3.95"/>
<ellipse cx="486.1" cy="479.5" rx="4.75" ry="3.95"/>
<ellipse cx="396.3" cy="576.3" rx="4.75" ry="3.95"/>
<ellipse cx="507.1" cy="415.2" rx="4.75" ry="3.95"/>
<ellipse cx="561.5" cy="369.9" rx="4.75" ry="3.95"/>
<ellipse cx="577.6" cy="351.2" rx="4.75" ry="3.95"/>
<ellipse cx="630.8" cy="323.9" rx="4.75" ry="3.95"/>
<ellipse cx="508.1" cy="419.8" rx="4.75" ry="3.95"/>
<ellipse cx="435.9" cy="470.9" rx="4.75" ry="3.95"/>
<ellipse cx="544.1" cy="378.2" rx="4.75" ry="3.95"/>
<ellipse cx="400.9" cy="572.6" rx="4.75" ry="3.95"/>
<ellipse cx="367.3" cy="571.7" rx="4.75" ry="3.95"/>
<ellipse cx="642.3" cy="319.6" rx="4.75" ry="3.95"/>
<ellipse cx="350.8" cy="557.9" rx="4.75" ry="3.95"/>
<ellipse cx="617.4" cy="338.8" rx="4.75" ry="3.95"/>
<ellipse cx="499.4" cy="475" rx="4.75" ry="3.95"/>
<ellipse cx="635" cy="317.7" rx="4.75" ry="3.95"/>
<ellipse cx="571.5" cy="395.4" rx="4.75" ry="3.95"/>
<ellipse cx="356.8" cy="513.9" rx="4.75" ry="3.95"/>
<ellipse cx="531.5" cy="433.1" rx="4.75" ry="3.95"/>
<ellipse cx="398.6" cy="494.7" rx="4.75" ry="3.95"/>
<ellipse cx="513.7" cy="396.8" rx="4.75" ry="3.95"/>
<ellipse cx="395" cy="505.1" rx="4.75" ry="3.95"/>
<ellipse cx="651.4" cy="308" rx="4.75" ry="3.95"/>
<ellipse cx="355.1" cy="562.6" rx="4.75" ry="3.95"/>
<ellipse cx="383.5" cy="583.8" rx="4.75" ry="3.95"/>
<ellipse cx="521.3" cy="452.4" rx="4.75" ry="3.95"/>
<ellipse cx="558.7" cy="400.4" rx="4.75" ry="3.95"/>
<ellipse cx="594" cy="362.9" rx="4.75" ry="3.95"/>
<ellipse cx="401" cy="493.1" rx="4.75" ry="3.95"/>
<ellipse cx="429.8" cy="556.1" rx="4.75" ry="3.95"/>
<ellipse cx="371.1" cy="573.8" rx="4.75" ry="3.95"/>
<ellipse cx="488" cy="432.4" rx="4.75" ry="3.95"/>
<ellipse cx="609.6" cy="328.5" rx="4.75" ry="3.95"/>
<ellipse cx="526.6" cy="435" rx="4.75" ry="3.95"/>
<ellipse cx="527.3" cy="433.2" rx="4.75" ry="3.95"/>
<ellipse cx="475.4" cy="430.6" rx="4.75" ry="3.95"/>
<ellipse cx="506.3" cy="458" rx="4.75" ry="3.95"/>
<ellipse cx="387.5" cy="579.6" rx="4.75" ry="3.95"/>
<ellipse cx="584.9" cy="374.7" rx="4.75" ry="3.95"/>
<ellipse cx="554.1" cy="426.8" rx="4.75" ry="3.95"/>
<ellipse cx="540.2" cy="389.4" rx="4.75" ry="3.95"/>
<ellipse cx="357" cy="561.8" rx="4.75" ry="3.95"/>
<ellipse cx="557.1" cy="379.3" rx="4.75" ry="3.95"/>
<ellipse cx="644.5" cy="307" rx="4.75" ry="3.95"/>
<ellipse cx="597.5" cy="366.9" rx="4.75" ry="3.95"/>
<ellipse cx="664.3" cy="288.7" rx="4.75" ry="3.95"/>
<ellipse cx="626.1" cy="340.2" rx="4.75" ry="3.95"/>
<ellipse cx="641.8" cy="313" rx="4.75" ry="3.95"/>
<ellipse cx="647.3" cy="302.4" rx="4.75" ry="3.95"/>
<ellipse cx="461.2" cy="443.6" rx="4.75" ry="3.95"/>
<ellipse cx="535.6" cy="442.7" rx="4.75" ry="3.95"/>
<ellipse cx="404.4" cy="573.6" rx="4.75" ry="3.95"/>
<ellipse cx="416.8" cy="565.9" rx="4.75" ry="3.95"/>
<ellipse cx="509.4" cy="456.7" rx="4.75" ry="3.95"/>
<ellipse cx="385.8" cy="506.3" rx="4.75" ry="3.95"/>
<ellipse cx="484" cy="431.4" rx="4.75" ry="3.95"/>
<ellipse cx="484.5" cy="484.4" rx="4.75" ry="3.95"/>
<ellipse cx="363.7" cy="568.8" rx="4.75" ry="3.95"/>
<ellipse cx="526.4" cy="403.1" rx="4.75" ry="3.95"/>
<ellipse cx="645.2" cy="319.5" rx="4.75" ry="3.95"/>
<ellipse cx="619.9" cy="342.1" rx="4.75" ry="3.95"/>
<ellipse cx="436.6" cy="538.6" rx="4.75" ry="3.95"/>
<ellipse cx="659.2" cy="297.7" rx="4.75" ry="3.95"/>
<ellipse cx="653.6" cy="288.6" rx="4.75" ry="3.95"/>
<ellipse cx="456" cy="452.6" rx="4.75" ry="3.95"/>
<ellipse cx="429.3" cy="556.5" rx="4.75" ry="3.95"/>
<ellipse cx="635.1" cy="322.1" rx="4.75" ry="3.95"/>
<ellipse cx="508.7" cy="454.9" rx="4.75" ry="3.95"/>
<ellipse cx="384.1" cy="581.7" rx="4.75" ry="3.95"/>
<ellipse cx="354.6" cy="559.6" rx="4.75" ry="3.95"/>
<ellipse cx="539.6" cy="387" rx="4.75" ry="3.95"/>
<ellipse cx="538" cy="429.4" rx="4.75" ry="3.95"/>
<ellipse cx="543.7" cy="374.7" rx="4.75" ry="3.95"/>
<ellipse cx="402.8" cy="501.3" rx="4.75" ry="3.95"/>
<ellipse cx="367.4" cy="572.5" rx="4.75" ry="3.95"/>
<ellipse cx="571.5" cy="400.2" rx="4.75" ry="3.95"/>
<ellipse cx="354.8" cy="524.9" rx="4.75" ry="3.95"/>
<ellipse cx="361.1" cy="523.9" rx="4.75" ry="3.95"/>
<ellipse cx="378.7" cy="511.8" rx="4.75" ry="3.95"/>
<ellipse cx="399.7" cy="576.1" rx="4.75" ry="3.95"/>
<ellipse cx="372.3" cy="577.3" rx="4.75" ry="3.95"/>
<ellipse cx="541.2" cy="432" rx="4.75" ry="3.95"/>
<ellipse cx="541" cy="428.5" rx="4.75" ry="3.95"/>
<ellipse cx="516.7" cy="413.4" rx="4.75" ry="3.95"/>
<ellipse cx="553.2" cy="402.7" rx="4.75" ry="3.95"/>
<ellipse cx="517.1" cy="409.1" rx="4.75" ry="3.95"/>
<ellipse cx="471.6" cy="448.7" rx="4.75" ry="3.95"/>
<ellipse cx="427" cy="557.3" rx="4.75" ry="3.95"/>
<ellipse cx="487.4" cy="482.1" rx="4.75" ry="3.95"/>
<ellipse cx="473" cy="502.4" rx="4.75" ry="3.95"/>
<ellipse cx="446.8" cy="531.5" rx="4.75" ry="3.95"/>
<ellipse cx="579.9" cy="384.1" rx="4.75" ry="3.95"/>
<ellipse cx="623" cy="316.4" rx="4.75" ry="3.95"/>
<ellipse cx="622" cy="321.8" rx="4.75" ry="3.95"/>
<ellipse cx="487.9" cy="487.8" rx="4.75" ry="3.95"/>
<ellipse cx="410.7" cy="489.6" rx="4.75" ry="3.95"/>
<ellipse cx="406" cy="569.8" rx="4.75" ry="3.95"/>
<ellipse cx="458" cy="450.9" rx="4.75" ry="3.95"/>
<ellipse cx="478.6" cy="494.1" rx="4.75" ry="3.95"/>
<ellipse cx="447.1" cy="468.3" rx="4.75" ry="3.95"/>
<ellipse cx="469.6" cy="509.7" rx="4.75" ry="3.95"/>
<ellipse cx="361.7" cy="566.1" rx="4.75" ry="3.95"/>
<ellipse cx="663.1" cy="287.7" rx="4.75" ry="3.95"/>
<ellipse cx="365.9" cy="572.6" rx="4.75" ry="3.95"/>
<ellipse cx="394.6" cy="577.3" rx="4.75" ry="3.95"/>
<ellipse cx="515.4" cy="414.8" rx="4.75" ry="3.95"/>
<ellipse cx="630.6" cy="324.1" rx="4.75" ry="3.95"/>
<ellipse cx="368.9" cy="573.5" rx="4.75" ry="3.95"/>
<ellipse cx="619.4" cy="335.7" rx="4.75" ry="3.95"/>
<ellipse cx="361.5" cy="567.9" rx="4.75" ry="3.95"/>
<ellipse cx="458" cy="514.4" rx="4.75" ry="3.95"/>
<ellipse cx="562.4" cy="365.5" rx="4.75" ry="3.95"/>
<ellipse cx="574" cy="387.6" rx="4.75" ry="3.95"/>
<ellipse cx="509.5" cy="455.1" rx="4.75" ry="3.95"/>
<ellipse cx="370" cy="573.6" rx="4.75" ry="3.95"/>
<ellipse cx="447.1" cy="463" rx="4.75" ry="3.95"/>
<ellipse cx="586.4" cy="373.5" rx="4.75" ry="3.95"/>
<ellipse cx="401.7" cy="493.4" rx="4.75" ry="3.95"/>
<ellipse cx="623.8" cy="335.4" rx="4.75" ry="3.95"/>
<ellipse cx="530.7" cy="399.4" rx="4.75" ry="3.95"/>
<ellipse cx="482.6" cy="495.6" rx="4.75" ry="3.95"/>
<ellipse cx="413.4" cy="487.6" rx="4.75" ry="3.95"/>
<ellipse cx="455.2" cy="519.2" rx="4.75" ry="3.95"/>
<ellipse cx="641.7" cy="315.2" rx="4.75" ry="3.95"/>
<ellipse cx="430.6" cy="478.2" rx="4.75" ry="3.95"/>
<ellipse cx="605.6" cy="362.8" rx="4.75" ry="3.95"/>
<ellipse cx="608.5" cy="346.4" rx="4.75" ry="3.95"/>
<ellipse cx="576.5" cy="390.3" rx="4.75" ry="3.95"/>
<ellipse cx="594.4" cy="343.5" rx="4.75" ry="3.95"/>
<ellipse cx="617.3" cy="337.5" rx="4.75" ry="3.95"/>
<ellipse cx="368.2" cy="521.4" rx="4.75" ry="3.95"/>
<ellipse cx="445.1" cy="447" rx="4.75" ry="3.95"/>
<ellipse cx="352" cy="558.4" rx="4.75" ry="3.95"/>
<ellipse cx="667" cy="284.4" rx="4.75" ry="3.95"/>
<ellipse cx="680.6" cy="284.7" rx="4.75" ry="3.95"/>
<ellipse cx="661.3" cy="288.5" rx="4.75" ry="3.95"/>
<ellipse cx="634.4" cy="314.1" rx="4.75" ry="3.95"/>
<ellipse cx="625.7" cy="334.3" rx="4.75" ry="3.95"/>
<ellipse cx="464.7" cy="511" rx="4.75" ry="3.95"/>
<ellipse cx="349.8" cy="543" rx="4.75" ry="3.95"/>
<ellipse cx="649.2" cy="287.6" rx="4.75" ry="3.95"/>
<ellipse cx="594.7" cy="350.7" rx="4.75" ry="3.95"/>
<ellipse cx="362.8" cy="529.1" rx="4.75" ry="3.95"/>
<ellipse cx="525.9" cy="403.7" rx="4.75" ry="3.95"/>
<ellipse cx="560.1" cy="413.1" rx="4.75" ry="3.95"/>
<ellipse cx="374.9" cy="578.9" rx="4.75" ry="3.95"/>
<ellipse cx="524.4" cy="379.6" rx="4.75" ry="3.95"/>
<ellipse cx="363.8" cy="569.5" rx="4.75" ry="3.95"/>
<ellipse cx="602.1" cy="355.1" rx="4.75" ry="3.95"/>
<ellipse cx="529.2" cy="391.1" rx="4.75" ry="3.95"/>
<ellipse cx="509.2" cy="458" rx="4.75" ry="3.95"/>
<ellipse cx="514" cy="449.6" rx="4.75" ry="3.95"/>
<ellipse cx="354.3" cy="534.9" rx="4.75" ry="3.95"/>
<ellipse cx="534.7" cy="436" rx="4.75" ry="3.95"/>
<ellipse cx="562.2" cy="402.4" rx="4.75" ry="3.95"/>
<ellipse cx="422.1" cy="562.1" rx="4.75" ry="3.95"/>
<ellipse cx="470.6" cy="516.1" rx="4.75" ry="3.95"/>
<ellipse cx="512.9" cy="452.4" rx="4.75" ry="3.95"/>
<ellipse cx="359.9" cy="564.5" rx="4.75" ry="3.95"/>
<ellipse cx="455.4" cy="461.9" rx="4.75" ry="3.95"/>
<ellipse cx="364.1" cy="524.8" rx="4.75" ry="3.95"/>
<ellipse cx="382.3" cy="511.7" rx="4.75" ry="3.95"/>
<ellipse cx="369.2" cy="575" rx="4.75" ry="3.95"/>
<ellipse cx="509.6" cy="454.4" rx="4.75" ry="3.95"/>
<ellipse cx="449.3" cy="533.1" rx="4.75" ry="3.95"/>
<ellipse cx="447.3" cy="465.5" rx="4.75" ry="3.95"/>
<ellipse cx="420" cy="561.7" rx="4.75" ry="3.95"/>
<ellipse cx="489.6" cy="427.1" rx="4.75" ry="3.95"/>
<ellipse cx="399.6" cy="491.6" rx="4.75" ry="3.95"/>
<ellipse cx="571.8" cy="394.6" rx="4.75" ry="3.95"/>
<ellipse cx="651.6" cy="295.9" rx="4.75" ry="3.95"/>
<ellipse cx="637.3" cy="311.8" rx="4.75" ry="3.95"/>
<ellipse cx="556.5" cy="369.9" rx="4.75" ry="3.95"/>
<ellipse cx="606.6" cy="351" rx="4.75" ry="3.95"/>
<ellipse cx="453.8" cy="522.8" rx="4.75" ry="3.95"/>
<ellipse cx="616" cy="338.7" rx="4.75" ry="3.95"/>
<ellipse cx="455.2" cy="519.1" rx="4.75" ry="3.95"/>
<ellipse cx="555.9" cy="372" rx="4.75" ry="3.95"/>
<ellipse cx="362.9" cy="568.6" rx="4.75" ry="3.95"/>
<ellipse cx="482.9" cy="485.1" rx="4.75" ry="3.95"/>
<ellipse cx="527" cy="438" rx="4.75" ry="3.95"/>
<ellipse cx="575.3" cy="362.9" rx="4.75" ry="3.95"/>
<ellipse cx="384.8" cy="581.1" rx="4.75" ry="3.95"/>
<ellipse cx="419.4" cy="477.1" rx="4.75" ry="3.95"/>
<ellipse cx="415.8" cy="488.7" rx="4.75" ry="3.95"/>
<ellipse cx="348" cy="553" rx="4.75" ry="3.95"/>
<ellipse cx="452.8" cy="533.9" rx="4.75" ry="3.95"/>
<ellipse cx="351.3" cy="542.1" rx="4.75" ry="3.95"/>
<ellipse cx="627.1" cy="317.4" rx="4.75" ry="3.95"/>
<ellipse cx="558.7" cy="412.6" rx="4.75" ry="3.95"/>
<ellipse cx="612.4" cy="336.4" rx="4.75" ry="3.95"/>
<ellipse cx="590.2" cy="335" rx="4.75" ry="3.95"/>
<ellipse cx="585" cy="375.6" rx="4.75" ry="3.95"/>
<ellipse cx="606" cy="354.4" rx="4.75" ry="3.95"/>
<ellipse cx="508.7" cy="415.5" rx="4.75" ry="3.95"/>
<ellipse cx="485.9" cy="485" rx="4.75" ry="3.95"/>
<ellipse cx="524.4" cy="399.3" rx="4.75" ry="3.95"/>
<ellipse cx="383.4" cy="509.8" rx="4.75" ry="3.95"/>
<ellipse cx="414.8" cy="566.2" rx="4.75" ry="3.95"/>
<ellipse cx="592.5" cy="372" rx="4.75" ry="3.95"/>
<ellipse cx="482.9" cy="504.3" rx="4.75" ry="3.95"/>
<ellipse cx="602.8" cy="340.7" rx="4.75" ry="3.95"/>
<ellipse cx="427.2" cy="558.4" rx="4.75" ry="3.95"/>
<ellipse cx="507.3" cy="481.7" rx="4.75" ry="3.95"/>
<ellipse cx="350.8" cy="556.2" rx="4.75" ry="3.95"/>
<ellipse cx="597.6" cy="345.4" rx="4.75" ry="3.95"/>
<ellipse cx="660" cy="288.9" rx="4.75" ry="3.95"/>
<ellipse cx="641.6" cy="308.2" rx="4.75" ry="3.95"/>
<ellipse cx="394.1" cy="506.1" rx="4.75" ry="3.95"/>
<ellipse cx="453.6" cy="521.1" rx="4.75" ry="3.95"/>
<ellipse cx="496.1" cy="425.1" rx="4.75" ry="3.95"/>
<ellipse cx="460.4" cy="459.3" rx="4.75" ry="3.95"/>
<ellipse cx="370.4" cy="508.3" rx="4.75" ry="3.95"/>
<ellipse cx="640.9" cy="309.3" rx="4.75" ry="3.95"/>
<ellipse cx="365.8" cy="570.3" rx="4.75" ry="3.95"/>
<ellipse cx="634.3" cy="308.4" rx="4.75" ry="3.95"/>
<ellipse cx="443.4" cy="464" rx="4.75" ry="3.95"/>
<ellipse cx="591.8" cy="345.9" rx="4.75" ry="3.95"/>
<ellipse cx="660.9" cy="296" rx="4.75" ry="3.95"/>
<ellipse cx="403.4" cy="495.7" rx="4.75" ry="3.95"/>
<ellipse cx="364.3" cy="567.7" rx="4.75" ry="3.95"/>
<ellipse cx="424" cy="559.4" rx="4.75" ry="3.95"/>
<ellipse cx="493.9" cy="415.1" rx="4.75" ry="3.95"/>
<ellipse cx="437.8" cy="539" rx="4.75" ry="3.95"/>
<ellipse cx="528" cy="452.7" rx="4.75" ry="3.95"/>
<ellipse cx="558.4" cy="408.4" rx="4.75" ry="3.95"/>
<ellipse cx="509.2" cy="456.6" rx="4.75" ry="3.95"/>
<ellipse cx="433.5" cy="468.8" rx="4.75" ry="3.95"/>
<ellipse cx="633.8" cy="315.7" rx="4.75" ry="3.95"/>
<ellipse cx="530.8" cy="442.5" rx="4.75" ry="3.95"/>
<ellipse cx="569.9" cy="391.8" rx="4.75" ry="3.95"/>
<ellipse cx="533.9" cy="397.6" rx="4.75" ry="3.95"/>
<ellipse cx="450.1" cy="530.5" rx="4.75" ry="3.95"/>
<ellipse cx="613" cy="335.3" rx="4.75" ry="3.95"/>
<ellipse cx="348.2" cy="536.3" rx="4.75" ry="3.95"/>
<ellipse cx="358.1" cy="563.3" rx="4.75" ry="3.95"/>
<ellipse cx="412.6" cy="487.4" rx="4.75" ry="3.95"/>
<ellipse cx="651.5" cy="303.6" rx="4.75" ry="3.95"/>
<ellipse cx="369.8" cy="575" rx="4.75" ry="3.95"/>
<ellipse cx="531.1" cy="439.9" rx="4.75" ry="3.95"/>
<ellipse cx="573.3" cy="386.8" rx="4.75" ry="3.95"/>
<ellipse cx="419.7" cy="561.6" rx="4.75" ry="3.95"/>
<ellipse cx="467" cy="508.2" rx="4.75" ry="3.95"/>
<ellipse cx="459.6" cy="454.2" rx="4.75" ry="3.95"/>
<ellipse cx="365.5" cy="568.9" rx="4.75" ry="3.95"/>
<ellipse cx="668.3" cy="289.7" rx="4.75" ry="3.95"/>
<ellipse cx="353.7" cy="556.8" rx="4.75" ry="3.95"/>
<ellipse cx="615.5" cy="326.1" rx="4.75" ry="3.95"/>
<ellipse cx="444.2" cy="469.5" rx="4.75" ry="3.95"/>
<ellipse cx="391.3" cy="577.6" rx="4.75" ry="3.95"/>
<ellipse cx="516.2" cy="455.7" rx="4.75" ry="3.95"/>
<ellipse cx="354" cy="537" rx="4.75" ry="3.95"/>
<ellipse cx="426.7" cy="485.7" rx="4.75" ry="3.95"/>
<ellipse cx="483.4" cy="424.9" rx="4.75" ry="3.95"/>
<ellipse cx="555.3" cy="404.9" rx="4.75" ry="3.95"/>
<ellipse cx="618.5" cy="329.6" rx="4.75" ry="3.95"/>
<ellipse cx="535.5" cy="435.9" rx="4.75" ry="3.95"/>
<ellipse cx="540.1" cy="422.3" rx="4.75" ry="3.95"/>
<ellipse cx="597.1" cy="359.4" rx="4.75" ry="3.95"/>
<ellipse cx="393.2" cy="576.6" rx="4.75" ry="3.95"/>
<ellipse cx="568.8" cy="400.8" rx="4.75" ry="3.95"/>
<ellipse cx="360.3" cy="566.2" rx="4.75" ry="3.95"/>
<ellipse cx="355.9" cy="559.8" rx="4.75" ry="3.95"/>
<ellipse cx="524.3" cy="397.9" rx="4.75" ry="3.95"/>
<ellipse cx="362" cy="566.7" rx="4.75" ry="3.95"/>
<ellipse cx="643.7" cy="308.7" rx="4.75" ry="3.95"/>
<ellipse cx="489.5" cy="476.3" rx="4.75" ry="3.95"/>
<ellipse cx="586.5" cy="354.6" rx="4.75" ry="3.95"/>
<ellipse cx="444.2" cy="470.5" rx="4.75" ry="3.95"/>
<ellipse cx="488.5" cy="483.1" rx="4.75" ry="3.95"/>
<ellipse cx="629.4" cy="332.8" rx="4.75" ry="3.95"/>
<ellipse cx="435.5" cy="543.4" rx="4.75" ry="3.95"/>
<ellipse cx="593.6" cy="347.8" rx="4.75" ry="3.95"/>
<ellipse cx="462.4" cy="451.4" rx="4.75" ry="3.95"/>
<ellipse cx="539.9" cy="398.4" rx="4.75" ry="3.95"/>
<ellipse cx="374.6" cy="577.1" rx="4.75" ry="3.95"/>
<ellipse cx="471.3" cy="446.4" rx="4.75" ry="3.95"/>
<ellipse cx="633.7" cy="324.9" rx="4.75" ry="3.95"/>
<ellipse cx="588" cy="382" rx="4.75" ry="3.95"/>
<ellipse cx="469.7" cy="443.9" rx="4.75" ry="3.95"/>
<ellipse cx="618.1" cy="339.4" rx="4.75" ry="3.95"/>
<ellipse cx="415" cy="481.1" rx="4.75" ry="3.95"/>
<ellipse cx="349.8" cy="551.8" rx="4.75" ry="3.95"/>
<ellipse cx="439.7" cy="548.8" rx="4.75" ry="3.95"/>
<ellipse cx="366.3" cy="569.3" rx="4.75" ry="3.95"/>
<ellipse cx="390.6" cy="503.3" rx="4.75" ry="3.95"/>
<ellipse cx="424.2" cy="487" rx="4.75" ry="3.95"/>
<ellipse cx="597.8" cy="356.6" rx="4.75" ry="3.95"/>
<ellipse cx="566.1" cy="367" rx="4.75" ry="3.95"/>
<ellipse cx="501.2" cy="412.9" rx="4.75" ry="3.95"/>
<ellipse cx="576" cy="385.2" rx="4.75" ry="3.95"/>
<ellipse cx="589.2" cy="341.4" rx="4.75" ry="3.95"/>
<ellipse cx="605.1" cy="330.3" rx="4.75" ry="3.95"/>
<ellipse cx="581.6" cy="379.2" rx="4.75" ry="3.95"/>
<ellipse cx="452.8" cy="530.3" rx="4.75" ry="3.95"/>
<ellipse cx="364.2" cy="567.4" rx="4.75" ry="3.95"/>
<ellipse cx="481.9" cy="432.8" rx="4.75" ry="3.95"/>
<ellipse cx="479.3" cy="495.7" rx="4.75" ry="3.95"/>
<ellipse cx="372.3" cy="575.2" rx="4.75" ry="3.95"/>
<ellipse cx="467.5" cy="512.5" rx="4.75" ry="3.95"/>
<ellipse cx="665.8" cy="289.3" rx="4.75" ry="3.95"/>
<ellipse cx="356.2" cy="560.8" rx="4.75" ry="3.95"/>
<ellipse cx="445.1" cy="468.6" rx="4.75" ry="3.95"/>
<ellipse cx="616.5" cy="339.7" rx="4.75" ry="3.95"/>
<ellipse cx="439.9" cy="539.2" rx="4.75" ry="3.95"/>
<ellipse cx="458.3" cy="521" rx="4.75" ry="3.95"/>
<ellipse cx="338.2" cy="530.4" rx="4.75" ry="3.95"/>
<ellipse cx="408.6" cy="491.8" rx="4.75" ry="3.95"/>
<ellipse cx="347.6" cy="552.8" rx="4.75" ry="3.95"/>
<ellipse cx="436.1" cy="472.2" rx="4.75" ry="3.95"/>
<ellipse cx="573.9" cy="395.5" rx="4.75" ry="3.95"/>
<ellipse cx="528" cy="394.8" rx="4.75" ry="3.95"/>
<ellipse cx="626.6" cy="335.7" rx="4.75" ry="3.95"/>
<ellipse cx="364.9" cy="571.2" rx="4.75" ry="3.95"/>
<ellipse cx="369" cy="572.6" rx="4.75" ry="3.95"/>
<ellipse cx="503.8" cy="460.6" rx="4.75" ry="3.95"/>
<ellipse cx="443.4" cy="551.2" rx="4.75" ry="3.95"/>
<ellipse cx="588.6" cy="372.9" rx="4.75" ry="3.95"/>
<ellipse cx="427.5" cy="484.8" rx="4.75" ry="3.95"/>
<ellipse cx="373.4" cy="516.3" rx="4.75" ry="3.95"/>
<ellipse cx="584.3" cy="344.4" rx="4.75" ry="3.95"/>
<ellipse cx="671.8" cy="279.8" rx="4.75" ry="3.95"/>
<ellipse cx="582.9" cy="353.6" rx="4.75" ry="3.95"/>
<ellipse cx="523.7" cy="448.8" rx="4.75" ry="3.95"/>
<ellipse cx="611.8" cy="334.5" rx="4.75" ry="3.95"/>
<ellipse cx="448.7" cy="531.1" rx="4.75" ry="3.95"/>
<ellipse cx="639.6" cy="308.8" rx="4.75" ry="3.95"/>
<ellipse cx="399.9" cy="574.7" rx="4.75" ry="3.95"/>
<ellipse cx="598.7" cy="358.2" rx="4.75" ry="3.95"/>
<ellipse cx="394.7" cy="576.9" rx="4.75" ry="3.95"/>
<ellipse cx="669.2" cy="279.2" rx="4.75" ry="3.95"/>
<ellipse cx="528.5" cy="391.1" rx="4.75" ry="3.95"/>
<ellipse cx="390.9" cy="508.3" rx="4.75" ry="3.95"/>
<ellipse cx="647.8" cy="307.3" rx="4.75" ry="3.95"/>
<ellipse cx="563.7" cy="396.8" rx="4.75" ry="3.95"/>
<ellipse cx="591" cy="364.1" rx="4.75" ry="3.95"/>
<ellipse cx="547.2" cy="381.1" rx="4.75" ry="3.95"/>
<ellipse cx="572.7" cy="388.3" rx="4.75" ry="3.95"/>
<ellipse cx="544.2" cy="428.4" rx="4.75" ry="3.95"/>
<ellipse cx="492.4" cy="479" rx="4.75" ry="3.95"/>
<ellipse cx="502.5" cy="412.6" rx="4.75" ry="3.95"/>
<ellipse cx="396.2" cy="505.7" rx="4.75" ry="3.95"/>
<ellipse cx="446.7" cy="463.5" rx="4.75" ry="3.95"/>
<ellipse cx="584.7" cy="386.6" rx="4.75" ry="3.95"/>
<ellipse cx="650.1" cy="295.8" rx="4.75" ry="3.95"/>
<ellipse cx="371.2" cy="577" rx="4.75" ry="3.95"/>
<ellipse cx="520" cy="397.6" rx="4.75" ry="3.95"/>
<ellipse cx="477.3" cy="496.9" rx="4.75" ry="3.95"/>
<ellipse cx="481.2" cy="488.2" rx="4.75" ry="3.95"/>
<ellipse cx="629.7" cy="312.6" rx="4.75" ry="3.95"/>
<ellipse cx="503.1" cy="473.1" rx="4.75" ry="3.95"/>
<ellipse cx="518.4" cy="451.8" rx="4.75" ry="3.95"/>
<ellipse cx="428.7" cy="478.4" rx="4.75" ry="3.95"/>
<ellipse cx="457.6" cy="459.4" rx="4.75" ry="3.95"/>
<ellipse cx="372.5" cy="575.9" rx="4.75" ry="3.95"/>
<ellipse cx="586.5" cy="352.4" rx="4.75" ry="3.95"/>
<ellipse cx="658.4" cy="300.5" rx="4.75" ry="3.95"/>
<ellipse cx="374.4" cy="512.9" rx="4.75" ry="3.95"/>
<ellipse cx="552.3" cy="403.7" rx="4.75" ry="3.95"/>
<ellipse cx="511.8" cy="453.4" rx="4.75" ry="3.95"/>
<ellipse cx="352.9" cy="530.4" rx="4.75" ry="3.95"/>
<ellipse cx="577.6" cy="385" rx="4.75" ry="3.95"/>
<ellipse cx="370.8" cy="575.6" rx="4.75" ry="3.95"/>
<ellipse cx="470.8" cy="506.8" rx="4.75" ry="3.95"/>
<ellipse cx="391.4" cy="506.7" rx="4.75" ry="3.95"/>
<ellipse cx="602.5" cy="363.7" rx="4.75" ry="3.95"/>
<ellipse cx="426.2" cy="481.7" rx="4.75" ry="3.95"/>
<ellipse cx="675.8" cy="281.2" rx="4.75" ry="3.95"/>
<ellipse cx="546.9" cy="424.8" rx="4.75" ry="3.95"/>
<ellipse cx="656" cy="298.3" rx="4.75" ry="3.95"/>
<ellipse cx="647.3" cy="311.3" rx="4.75" ry="3.95"/>
<ellipse cx="366.3" cy="523.1" rx="4.75" ry="3.95"/>
<ellipse cx="425.9" cy="484.6" rx="4.75" ry="3.95"/>
<ellipse cx="484.6" cy="425" rx="4.75" ry="3.95"/>
<ellipse cx="583.2" cy="356.6" rx="4.75" ry="3.95"/>
<ellipse cx="595" cy="351.1" rx="4.75" ry="3.95"/>
<ellipse cx="422.3" cy="475.2" rx="4.75" ry="3.95"/>
<ellipse cx="615.8" cy="353.7" rx="4.75" ry="3.95"/>
<ellipse cx="493.4" cy="425.3" rx="4.75" ry="3.95"/>
<ellipse cx="559.1" cy="400.8" rx="4.75" ry="3.95"/>
<ellipse cx="450" cy="526" rx="4.75" ry="3.95"/>
<ellipse cx="555" cy="428.3" rx="4.75" ry="3.95"/>
<ellipse cx="654.4" cy="299.6" rx="4.75" ry="3.95"/>
<ellipse cx="461" cy="451" rx="4.75" ry="3.95"/>
<ellipse cx="477.7" cy="426.2" rx="4.75" ry="3.95"/>
<ellipse cx="364" cy="569.7" rx="4.75" ry="3.95"/>
<ellipse cx="465.6" cy="507.9" rx="4.75" ry="3.95"/>
<ellipse cx="445.7" cy="466.1" rx="4.75" ry="3.95"/>
<ellipse cx="521.9" cy="402.4" rx="4.75" ry="3.95"/>
<ellipse cx="512.4" cy="453.2" rx="4.75" ry="3.95"/>
<ellipse cx="527.8" cy="436" rx="4.75" ry="3.95"/>
<ellipse cx="626.6" cy="319.8" rx="4.75" ry="3.95"/>
<ellipse cx="458.2" cy="457.6" rx="4.75" ry="3.95"/>
<ellipse cx="360.6" cy="566.9" rx="4.75" ry="3.95"/>
<ellipse cx="548.9" cy="381.2" rx="4.75" ry="3.95"/>
<ellipse cx="494.1" cy="424" rx="4.75" ry="3.95"/>
<ellipse cx="364.4" cy="567.6" rx="4.75" ry="3.95"/>
<ellipse cx="540.6" cy="451.2" rx="4.75" ry="3.95"/>
<ellipse cx="386.4" cy="583.8" rx="4.75" ry="3.95"/>
<ellipse cx="351.8" cy="538.1" rx="4.75" ry="3.95"/>
<ellipse cx="668" cy="284.7" rx="4.75" ry="3.95"/>
<ellipse cx="491.3" cy="428.3" rx="4.75" ry="3.95"/>
<ellipse cx="355.7" cy="528" rx="4.75" ry="3.95"/>
<ellipse cx="494.1" cy="473.8" rx="4.75" ry="3.95"/>
<ellipse cx="359.8" cy="522.7" rx="4.75" ry="3.95"/>
<ellipse cx="512.3" cy="462" rx="4.75" ry="3.95"/>
<ellipse cx="504" cy="417.3" rx="4.75" ry="3.95"/>
<ellipse cx="537.4" cy="397.6" rx="4.75" ry="3.95"/>
<ellipse cx="379.4" cy="512.4" rx="4.75" ry="3.95"/>
<ellipse cx="504.5" cy="412.9" rx="4.75" ry="3.95"/>
<ellipse cx="491.8" cy="427.5" rx="4.75" ry="3.95"/>
<ellipse cx="667.2" cy="287" rx="4.75" ry="3.95"/>
<ellipse cx="366.3" cy="570" rx="4.75" ry="3.95"/>
<ellipse cx="502.7" cy="461.3" rx="4.75" ry="3.95"/>
<ellipse cx="460.5" cy="458.4" rx="4.75" ry="3.95"/>
<ellipse cx="530.6" cy="431.4" rx="4.75" ry="3.95"/>
<ellipse cx="357.9" cy="562.6" rx="4.75" ry="3.95"/>
<ellipse cx="594.8" cy="332" rx="4.75" ry="3.95"/>
<ellipse cx="444.9" cy="541.2" rx="4.75" ry="3.95"/>
<ellipse cx="392.3" cy="578.8" rx="4.75" ry="3.95"/>
<ellipse cx="356.5" cy="563.8" rx="4.75" ry="3.95"/>
<ellipse cx="641.5" cy="303.5" rx="4.75" ry="3.95"/>
<ellipse cx="603.6" cy="355.1" rx="4.75" ry="3.95"/>
<ellipse cx="488.1" cy="431.2" rx="4.75" ry="3.95"/>
<ellipse cx="532" cy="398" rx="4.75" ry="3.95"/>
<ellipse cx="429.8" cy="561.1" rx="4.75" ry="3.95"/>
<ellipse cx="632.8" cy="324" rx="4.75" ry="3.95"/>
<ellipse cx="579.8" cy="390.9" rx="4.75" ry="3.95"/>
<ellipse cx="366.3" cy="571.3" rx="4.75" ry="3.95"/>
<ellipse cx="615.9" cy="344.1" rx="4.75" ry="3.95"/>
<ellipse cx="402.7" cy="575" rx="4.75" ry="3.95"/>
<ellipse cx="465" cy="448.5" rx="4.75" ry="3.95"/>
<ellipse cx="548.8" cy="382.5" rx="4.75" ry="3.95"/>
<ellipse cx="670.9" cy="276.2" rx="4.75" ry="3.95"/>
<ellipse cx="343" cy="514.6" rx="4.75" ry="3.95"/>
<ellipse cx="436.4" cy="546.3" rx="4.75" ry="3.95"/>
<ellipse cx="630.9" cy="331.6" rx="4.75" ry="3.95"/>
<ellipse cx="674.6" cy="274.9" rx="4.75" ry="3.95"/>
<ellipse cx="564.5" cy="367.1" rx="4.75" ry="3.95"/>
<ellipse cx="373.7" cy="577.6" rx="4.75" ry="3.95"/>
<ellipse cx="375.3" cy="578.2" rx="4.75" ry="3.95"/>
<ellipse cx="372" cy="518.5" rx="4.75" ry="3.95"/>
<ellipse cx="614" cy="329.8" rx="4.75" ry="3.95"/>
<ellipse cx="598.7" cy="363.9" rx="4.75" ry="3.95"/>
<ellipse cx="605.8" cy="356.2" rx="4.75" ry="3.95"/>
<ellipse cx="553.6" cy="404" rx="4.75" ry="3.95"/>
<ellipse cx="366.4" cy="573.1" rx="4.75" ry="3.95"/>
<ellipse cx="363.2" cy="570.1" rx="4.75" ry="3.95"/>
<ellipse cx="465.3" cy="449.6" rx="4.75" ry="3.95"/>
<ellipse cx="573.9" cy="400.9" rx="4.75" ry="3.95"/>
<ellipse cx="374.3" cy="579.2" rx="4.75" ry="3.95"/>
<ellipse cx="650.2" cy="289.1" rx="4.75" ry="3.95"/>
<ellipse cx="610.9" cy="345.9" rx="4.75" ry="3.95"/>
<ellipse cx="653.2" cy="307.9" rx="4.75" ry="3.95"/>
<ellipse cx="374" cy="505.3" rx="4.75" ry="3.95"/>
<ellipse cx="457.5" cy="516.7" rx="4.75" ry="3.95"/>
<ellipse cx="551.9" cy="418.6" rx="4.75" ry="3.95"/>
<ellipse cx="531.1" cy="433.2" rx="4.75" ry="3.95"/>
<ellipse cx="473.5" cy="443.1" rx="4.75" ry="3.95"/>
<ellipse cx="506.4" cy="407.5" rx="4.75" ry="3.95"/>
<ellipse cx="495.9" cy="490.9" rx="4.75" ry="3.95"/>
<ellipse cx="394.8" cy="502" rx="4.75" ry="3.95"/>
<ellipse cx="454.9" cy="516.3" rx="4.75" ry="3.95"/>
<ellipse cx="583.8" cy="381.2" rx="4.75" ry="3.95"/>
<ellipse cx="580.4" cy="383.8" rx="4.75" ry="3.95"/>
<ellipse cx="436.7" cy="544.6" rx="4.75" ry="3.95"/>
<ellipse cx="491.9" cy="491.3" rx="4.75" ry="3.95"/>
<ellipse cx="444.1" cy="469.3" rx="4.75" ry="3.95"/>
<ellipse cx="499.9" cy="470" rx="4.75" ry="3.95"/>
<ellipse cx="371.4" cy="573.8" rx="4.75" ry="3.95"/>
<ellipse cx="612.7" cy="350.6" rx="4.75" ry="3.95"/>
<ellipse cx="659.2" cy="292.8" rx="4.75" ry="3.95"/>
<ellipse cx="379" cy="583.3" rx="4.75" ry="3.95"/>
<ellipse cx="522" cy="388.1" rx="4.75" ry="3.95"/>
<ellipse cx="442.8" cy="468.2" rx="4.75" ry="3.95"/>
<ellipse cx="663.5" cy="293.3" rx="4.75" ry="3.95"/>
<ellipse cx="441" cy="535.3" rx="4.75" ry="3.95"/>
<ellipse cx="374.8" cy="514.3" rx="4.75" ry="3.95"/>
<ellipse cx="469.6" cy="513.8" rx="4.75" ry="3.95"/>
<ellipse cx="672.3" cy="279.7" rx="4.75" ry="3.95"/>
<ellipse cx="525.7" cy="450.4" rx="4.75" ry="3.95"/>
<ellipse cx="550.9" cy="413.2" rx="4.75" ry="3.95"/>
<ellipse cx="349.9" cy="543.9" rx="4.75" ry="3.95"/>
<ellipse cx="357.3" cy="562.1" rx="4.75" ry="3.95"/>
<ellipse cx="439.1" cy="536.5" rx="4.75" ry="3.95"/>
<ellipse cx="386.5" cy="582.6" rx="4.75" ry="3.95"/>
<ellipse cx="473.4" cy="443.6" rx="4.75" ry="3.95"/>
<ellipse cx="353.4" cy="556.9" rx="4.75" ry="3.95"/>
<ellipse cx="367.2" cy="572.3" rx="4.75" ry="3.95"/>
<ellipse cx="540.1" cy="392.1" rx="4.75" ry="3.95"/>
<ellipse cx="425.3" cy="486.9" rx="4.75" ry="3.95"/>
<ellipse cx="435.4" cy="477.3" rx="4.75" ry="3.95"/>
<ellipse cx="397.9" cy="504.4" rx="4.75" ry="3.95"/>
<ellipse cx="360.3" cy="566.1" rx="4.75" ry="3.95"/>
<ellipse cx="360.4" cy="566.2" rx="4.75" ry="3.95"/>
<ellipse cx="511.9" cy="410.6" rx="4.75" ry="3.95"/>
<ellipse cx="362.4" cy="566.8" rx="4.75" ry="3.95"/>
<ellipse cx="671.8" cy="278" rx="4.75" ry="3.95"/>
<ellipse cx="645" cy="322.4" rx="4.75" ry="3.95"/>
<ellipse cx="590.4" cy="371.9" rx="4.75" ry="3.95"/>
<ellipse cx="557.9" cy="373.3" rx="4.75" ry="3.95"/>
<ellipse cx="369.4" cy="574.8" rx="4.75" ry="3.95"/>
<ellipse cx="420.4" cy="562.3" rx="4.75" ry="3.95"/>
<ellipse cx="546.4" cy="381" rx="4.75" ry="3.95"/>
<ellipse cx="479" cy="439.4" rx="4.75" ry="3.95"/>
<ellipse cx="590.5" cy="366.4" rx="4.75" ry="3.95"/>
<ellipse cx="406" cy="571.9" rx="4.75" ry="3.95"/>
<ellipse cx="485.3" cy="433" rx="4.75" ry="3.95"/>
<ellipse cx="615.1" cy="327" rx="4.75" ry="3.95"/>
<ellipse cx="555.1" cy="418.1" rx="4.75" ry="3.95"/>
<ellipse cx="535.5" cy="396.1" rx="4.75" ry="3.95"/>
<ellipse cx="403.5" cy="575.7" rx="4.75" ry="3.95"/>
<ellipse cx="456.9" cy="528.1" rx="4.75" ry="3.95"/>
<ellipse cx="414.3" cy="483.9" rx="4.75" ry="3.95"/>
<ellipse cx="599.7" cy="358" rx="4.75" ry="3.95"/>
<ellipse cx="425" cy="481.7" rx="4.75" ry="3.95"/>
<ellipse cx="398.8" cy="498.7" rx="4.75" ry="3.95"/>
<ellipse cx="371.7" cy="575" rx="4.75" ry="3.95"/>
<ellipse cx="459.6" cy="457" rx="4.75" ry="3.95"/>
<ellipse cx="547.9" cy="439.3" rx="4.75" ry="3.95"/>
<ellipse cx="481.1" cy="491.6" rx="4.75" ry="3.95"/>
<ellipse cx="626.2" cy="313.5" rx="4.75" ry="3.95"/>
<ellipse cx="364.8" cy="525" rx="4.75" ry="3.95"/>
<ellipse cx="430" cy="476.8" rx="4.75" ry="3.95"/>
<ellipse cx="672.2" cy="283.2" rx="4.75" ry="3.95"/>
<ellipse cx="646" cy="318.7" rx="4.75" ry="3.95"/>
<ellipse cx="448.7" cy="464.6" rx="4.75" ry="3.95"/>
<ellipse cx="500.8" cy="419.2" rx="4.75" ry="3.95"/>
<ellipse cx="660.3" cy="295.5" rx="4.75" ry="3.95"/>
<ellipse cx="511.2" cy="452.6" rx="4.75" ry="3.95"/>
<ellipse cx="650.2" cy="293.9" rx="4.75" ry="3.95"/>
<ellipse cx="478.7" cy="512.4" rx="4.75" ry="3.95"/>
<ellipse cx="479" cy="491.9" rx="4.75" ry="3.95"/>
<ellipse cx="492.3" cy="432.1" rx="4.75" ry="3.95"/>
<ellipse cx="600.1" cy="362.4" rx="4.75" ry="3.95"/>
<ellipse cx="363" cy="568.5" rx="4.75" ry="3.95"/>
<ellipse cx="432.9" cy="470.3" rx="4.75" ry="3.95"/>
<ellipse cx="355.5" cy="559.1" rx="4.75" ry="3.95"/>
<ellipse cx="382.5" cy="580" rx="4.75" ry="3.95"/>
<ellipse cx="374.5" cy="518.3" rx="4.75" ry="3.95"/>
<ellipse cx="368.9" cy="573.4" rx="4.75" ry="3.95"/>
<ellipse cx="413.5" cy="486.5" rx="4.75" ry="3.95"/>
<ellipse cx="353.1" cy="557.2" rx="4.75" ry="3.95"/>
<ellipse cx="490.9" cy="489.4" rx="4.75" ry="3.95"/>
<ellipse cx="476.3" cy="441.8" rx="4.75" ry="3.95"/>
<ellipse cx="449.8" cy="463.2" rx="4.75" ry="3.95"/>
<ellipse cx="647.1" cy="298.6" rx="4.75" ry="3.95"/>
<ellipse cx="363.1" cy="517.4" rx="4.75" ry="3.95"/>
<ellipse cx="565.2" cy="396.8" rx="4.75" ry="3.95"/>
<ellipse cx="582.6" cy="357.4" rx="4.75" ry="3.95"/>
<ellipse cx="390.4" cy="498.7" rx="4.75" ry="3.95"/>
<ellipse cx="425.2" cy="560.4" rx="4.75" ry="3.95"/>
<ellipse cx="470.7" cy="509.6" rx="4.75" ry="3.95"/>
<ellipse cx="516.7" cy="408.5" rx="4.75" ry="3.95"/>
<ellipse cx="663.1" cy="284.2" rx="4.75" ry="3.95"/>
<ellipse cx="456.2" cy="519.3" rx="4.75" ry="3.95"/>
<ellipse cx="637" cy="312.2" rx="4.75" ry="3.95"/>
<ellipse cx="559" cy="374.7" rx="4.75" ry="3.95"/>
<ellipse cx="540.4" cy="396.6" rx="4.75" ry="3.95"/>
<ellipse cx="565.8" cy="367.7" rx="4.75" ry="3.95"/>
<ellipse cx="618.4" cy="347.2" rx="4.75" ry="3.95"/>
<ellipse cx="558.3" cy="401.6" rx="4.75" ry="3.95"/>
<ellipse cx="503.3" cy="463.6" rx="4.75" ry="3.95"/>
<ellipse cx="518.2" cy="413.2" rx="4.75" ry="3.95"/>
<ellipse cx="596.5" cy="343.7" rx="4.75" ry="3.95"/>
<ellipse cx="419.4" cy="481.7" rx="4.75" ry="3.95"/>
<ellipse cx="643.6" cy="295" rx="4.75" ry="3.95"/>
<ellipse cx="583.3" cy="385.4" rx="4.75" ry="3.95"/>
<ellipse cx="584.7" cy="351" rx="4.75" ry="3.95"/>
<ellipse cx="527.2" cy="449" rx="4.75" ry="3.95"/>
<ellipse cx="449.3" cy="528.3" rx="4.75" ry="3.95"/>
<ellipse cx="558.8" cy="400.9" rx="4.75" ry="3.95"/>
<ellipse cx="582.6" cy="378.8" rx="4.75" ry="3.95"/>
<ellipse cx="561.6" cy="404.4" rx="4.75" ry="3.95"/>
<ellipse cx="360.5" cy="565.5" rx="4.75" ry="3.95"/>
<ellipse cx="392.2" cy="506.2" rx="4.75" ry="3.95"/>
<ellipse cx="382" cy="505.8" rx="4.75" ry="3.95"/>
<ellipse cx="634.7" cy="303.2" rx="4.75" ry="3.95"/>
<ellipse cx="580.7" cy="387.2" rx="4.75" ry="3.95"/>
<ellipse cx="387" cy="581.6" rx="4.75" ry="3.95"/>
<ellipse cx="446.4" cy="467.7" rx="4.75" ry="3.95"/>
<ellipse cx="631.6" cy="323.2" rx="4.75" ry="3.95"/>
<ellipse cx="581.2" cy="359.2" rx="4.75" ry="3.95"/>
<ellipse cx="555.4" cy="400.6" rx="4.75" ry="3.95"/>
<ellipse cx="634.8" cy="308.8" rx="4.75" ry="3.95"/>
<ellipse cx="630.9" cy="309.2" rx="4.75" ry="3.95"/>
<ellipse cx="430.2" cy="474" rx="4.75" ry="3.95"/>
<ellipse cx="375" cy="577.7" rx="4.75" ry="3.95"/>
<ellipse cx="445.3" cy="464.4" rx="4.75" ry="3.95"/>
<ellipse cx="419.1" cy="467.2" rx="4.75" ry="3.95"/>
<ellipse cx="355.6" cy="529.2" rx="4.75" ry="3.95"/>
<ellipse cx="620.4" cy="336" rx="4.75" ry="3.95"/>
<ellipse cx="572.7" cy="364.4" rx="4.75" ry="3.95"/>
<ellipse cx="512.4" cy="419.1" rx="4.75" ry="3.95"/>
<ellipse cx="407.8" cy="568.8" rx="4.75" ry="3.95"/>
<ellipse cx="636.9" cy="310" rx="4.75" ry="3.95"/>
<ellipse cx="399.9" cy="574.6" rx="4.75" ry="3.95"/>
<ellipse cx="475.2" cy="497" rx="4.75" ry="3.95"/>
<ellipse cx="459.2" cy="459.3" rx="4.75" ry="3.95"/>
<ellipse cx="406.7" cy="494.3" rx="4.75" ry="3.95"/>
<ellipse cx="571.3" cy="360.2" rx="4.75" ry="3.95"/>
<ellipse cx="449.2" cy="445" rx="4.75" ry="3.95"/>
<ellipse cx="592.7" cy="351.1" rx="4.75" ry="3.95"/>
<ellipse cx="432.9" cy="477" rx="4.75" ry="3.95"/>
<ellipse cx="512.8" cy="452.5" rx="4.75" ry="3.95"/>
<ellipse cx="530.8" cy="394" rx="4.75" ry="3.95"/>
<ellipse cx="609.1" cy="347.6" rx="4.75" ry="3.95"/>
<ellipse cx="453.3" cy="525.6" rx="4.75" ry="3.95"/>
<ellipse cx="446.5" cy="459.2" rx="4.75" ry="3.95"/>
<ellipse cx="360.3" cy="565.3" rx="4.75" ry="3.95"/>
<ellipse cx="356.6" cy="490.2" rx="4.75" ry="3.95"/>
<ellipse cx="673.6" cy="283.9" rx="4.75" ry="3.95"/>
<ellipse cx="568.7" cy="392.8" rx="4.75" ry="3.95"/>
<ellipse cx="671.7" cy="286.1" rx="4.75" ry="3.95"/>
<ellipse cx="366.1" cy="568.7" rx="4.75" ry="3.95"/>
<ellipse cx="634.5" cy="314.7" rx="4.75" ry="3.95"/>
<ellipse cx="598.6" cy="343.8" rx="4.75" ry="3.95"/>
<ellipse cx="660.8" cy="294.6" rx="4.75" ry="3.95"/>
<ellipse cx="384.9" cy="581.7" rx="4.75" ry="3.95"/>
<ellipse cx="397.1" cy="575.8" rx="4.75" ry="3.95"/>
<ellipse cx="459.5" cy="449.3" rx="4.75" ry="3.95"/>
<ellipse cx="471.7" cy="508.1" rx="4.75" ry="3.95"/>
<ellipse cx="595.9" cy="364.3" rx="4.75" ry="3.95"/>
<ellipse cx="426.3" cy="479.4" rx="4.75" ry="3.95"/>
<ellipse cx="465.5" cy="450.2" rx="4.75" ry="3.95"/>
<ellipse cx="404.9" cy="476" rx="4.75" ry="3.95"/>
<ellipse cx="551.3" cy="378.6" rx="4.75" ry="3.95"/>
<ellipse cx="589.7" cy="365.6" rx="4.75" ry="3.95"/>
<ellipse cx="551.8" cy="407.4" rx="4.75" ry="3.95"/>
<ellipse cx="376.9" cy="579.1" rx="4.75" ry="3.95"/>
<ellipse cx="593.1" cy="350.5" rx="4.75" ry="3.95"/>
<ellipse cx="551.1" cy="412.5" rx="4.75" ry="3.95"/>
<ellipse cx="616.7" cy="317.9" rx="4.75" ry="3.95"/>
<ellipse cx="619.9" cy="339.5" rx="4.75" ry="3.95"/>
<ellipse cx="493.7" cy="475.5" rx="4.75" ry="3.95"/>
<ellipse cx="440.2" cy="539.1" rx="4.75" ry="3.95"/>
<ellipse cx="472.8" cy="497.1" rx="4.75" ry="3.95"/>
<ellipse cx="510.9" cy="456.3" rx="4.75" ry="3.95"/>
<ellipse cx="387.6" cy="579.5" rx="4.75" ry="3.95"/>
<ellipse cx="507.2" cy="458.2" rx="4.75" ry="3.95"/>
<ellipse cx="554.7" cy="404.7" rx="4.75" ry="3.95"/>
<ellipse cx="514.3" cy="401.6" rx="4.75" ry="3.95"/>
<ellipse cx="478.3" cy="494.4" rx="4.75" ry="3.95"/>
<ellipse cx="543.4" cy="386" rx="4.75" ry="3.95"/>
<ellipse cx="551.6" cy="380.8" rx="4.75" ry="3.95"/>
<ellipse cx="457" cy="542.8" rx="4.75" ry="3.95"/>
<ellipse cx="412.3" cy="566" rx="4.75" ry="3.95"/>
<ellipse cx="623.5" cy="345.6" rx="4.75" ry="3.95"/>
<ellipse cx="356.2" cy="559.9" rx="4.75" ry="3.95"/>
<ellipse cx="676" cy="276.9" rx="4.75" ry="3.95"/>
<ellipse cx="429.9" cy="561.1" rx="4.75" ry="3.95"/>
<ellipse cx="653.5" cy="299.3" rx="4.75" ry="3.95"/>
<ellipse cx="454.8" cy="517.6" rx="4.75" ry="3.95"/>
<ellipse cx="370.1" cy="576.3" rx="4.75" ry="3.95"/>
<ellipse cx="397.8" cy="503.9" rx="4.75" ry="3.95"/>
<ellipse cx="602.1" cy="354.6" rx="4.75" ry="3.95"/>
<ellipse cx="468.5" cy="451.2" rx="4.75" ry="3.95"/>
<ellipse cx="509.9" cy="467.9" rx="4.75" ry="3.95"/>
<ellipse cx="512.3" cy="451.8" rx="4.75" ry="3.95"/>
<ellipse cx="466.9" cy="529.9" rx="4.75" ry="3.95"/>
<ellipse cx="509.9" cy="418.3" rx="4.75" ry="3.95"/>
<ellipse cx="501" cy="414.1" rx="4.75" ry="3.95"/>
<ellipse cx="417.2" cy="482" rx="4.75" ry="3.95"/>
<ellipse cx="668.6" cy="277.5" rx="4.75" ry="3.95"/>
<ellipse cx="453.1" cy="462.5" rx="4.75" ry="3.95"/>
<ellipse cx="553" cy="401.7" rx="4.75" ry="3.95"/>
<ellipse cx="646.9" cy="292.2" rx="4.75" ry="3.95"/>
<ellipse cx="545.6" cy="386.3" rx="4.75" ry="3.95"/>
<ellipse cx="365.5" cy="522.7" rx="4.75" ry="3.95"/>
<ellipse cx="625.4" cy="340.9" rx="4.75" ry="3.95"/>
<ellipse cx="541.9" cy="425.8" rx="4.75" ry="3.95"/>
<ellipse cx="557.4" cy="413.5" rx="4.75" ry="3.95"/>
<ellipse cx="349" cy="544.1" rx="4.75" ry="3.95"/>
<ellipse cx="501.7" cy="417.8" rx="4.75" ry="3.95"/>
<ellipse cx="353.6" cy="558.3" rx="4.75" ry="3.95"/>
<ellipse cx="632" cy="308.7" rx="4.75" ry="3.95"/>
<ellipse cx="490.2" cy="432.1" rx="4.75" ry="3.95"/>
<ellipse cx="350.1" cy="543.5" rx="4.75" ry="3.95"/>
<ellipse cx="511.7" cy="451.1" rx="4.75" ry="3.95"/>
<ellipse cx="404.3" cy="492" rx="4.75" ry="3.95"/>
<ellipse cx="541" cy="397.9" rx="4.75" ry="3.95"/>
<ellipse cx="367.1" cy="572.7" rx="4.75" ry="3.95"/>
<ellipse cx="572.9" cy="364.4" rx="4.75" ry="3.95"/>
<ellipse cx="562.5" cy="366.1" rx="4.75" ry="3.95"/>
<ellipse cx="424.3" cy="476" rx="4.75" ry="3.95"/>
<ellipse cx="394.1" cy="507.4" rx="4.75" ry="3.95"/>
<ellipse cx="495.3" cy="480.2" rx="4.75" ry="3.95"/>
<ellipse cx="444.3" cy="471.5" rx="4.75" ry="3.95"/>
<ellipse cx="489.8" cy="433.3" rx="4.75" ry="3.95"/>
<ellipse cx="676.2" cy="278.3" rx="4.75" ry="3.95"/>
<ellipse cx="610.3" cy="350.3" rx="4.75" ry="3.95"/>
<ellipse cx="562.6" cy="365.5" rx="4.75" ry="3.95"/>
<ellipse cx="574" cy="360.4" rx="4.75" ry="3.95"/>
<ellipse cx="346.7" cy="547.8" rx="4.75" ry="3.95"/>
<ellipse cx="625" cy="333.3" rx="4.75" ry="3.95"/>
<ellipse cx="593.3" cy="364.5" rx="4.75" ry="3.95"/>
<ellipse cx="447.7" cy="461.5" rx="4.75" ry="3.95"/>
<ellipse cx="572.8" cy="390.2" rx="4.75" ry="3.95"/>
<ellipse cx="607.4" cy="355.9" rx="4.75" ry="3.95"/>
<ellipse cx="540.3" cy="420.4" rx="4.75" ry="3.95"/>
<ellipse cx="544.9" cy="389.4" rx="4.75" ry="3.95"/>
<ellipse cx="551.6" cy="374.3" rx="4.75" ry="3.95"/>
<ellipse cx="674.2" cy="274.9" rx="4.75" ry="3.95"/>
<ellipse cx="551.9" cy="435.7" rx="4.75" ry="3.95"/>
<ellipse cx="544.9" cy="384.4" rx="4.75" ry="3.95"/>
<ellipse cx="517" cy="414" rx="4.75" ry="3.95"/>
<ellipse cx="564.6" cy="396.5" rx="4.75" ry="3.95"/>
<ellipse cx="552.5" cy="412.5" rx="4.75" ry="3.95"/>
<ellipse cx="610.1" cy="347" rx="4.75" ry="3.95"/>
<ellipse cx="594.7" cy="363.1" rx="4.75" ry="3.95"/>
<ellipse cx="615.2" cy="332.4" rx="4.75" ry="3.95"/>
<ellipse cx="355.1" cy="562.1" rx="4.75" ry="3.95"/>
<ellipse cx="577.6" cy="392.1" rx="4.75" ry="3.95"/>
<ellipse cx="502.3" cy="468.7" rx="4.75" ry="3.95"/>
<ellipse cx="631.8" cy="316.5" rx="4.75" ry="3.95"/>
<ellipse cx="591.1" cy="368.9" rx="4.75" ry="3.95"/>
<ellipse cx="456" cy="460" rx="4.75" ry="3.95"/>
<ellipse cx="616.9" cy="323" rx="4.75" ry="3.95"/>
<ellipse cx="365.6" cy="570.1" rx="4.75" ry="3.95"/>
<ellipse cx="549.6" cy="423.6" rx="4.75" ry="3.95"/>
<ellipse cx="425.7" cy="479.2" rx="4.75" ry="3.95"/>
<ellipse cx="500" cy="475.6" rx="4.75" ry="3.95"/>
<ellipse cx="539.6" cy="422.2" rx="4.75" ry="3.95"/>
<ellipse cx="481.4" cy="431.1" rx="4.75" ry="3.95"/>
<ellipse cx="514.7" cy="406.7" rx="4.75" ry="3.95"/>
<ellipse cx="438.2" cy="549" rx="4.75" ry="3.95"/>
<ellipse cx="364.7" cy="567.9" rx="4.75" ry="3.95"/>
<ellipse cx="350.4" cy="546.4" rx="4.75" ry="3.95"/>
<ellipse cx="479.7" cy="488.6" rx="4.75" ry="3.95"/>
<ellipse cx="555.1" cy="409.5" rx="4.75" ry="3.95"/>
<ellipse cx="539.3" cy="422.8" rx="4.75" ry="3.95"/>
<ellipse cx="366.2" cy="511.8" rx="4.75" ry="3.95"/>
<ellipse cx="349.9" cy="542.9" rx="4.75" ry="3.95"/>
<ellipse cx="581.9" cy="382.8" rx="4.75" ry="3.95"/>
<ellipse cx="468.8" cy="505.9" rx="4.75" ry="3.95"/>
<ellipse cx="378.7" cy="510.6" rx="4.75" ry="3.95"/>
<ellipse cx="485.6" cy="484" rx="4.75" ry="3.95"/>
<ellipse cx="502.2" cy="469.6" rx="4.75" ry="3.95"/>
<ellipse cx="451.8" cy="535.2" rx="4.75" ry="3.95"/>
<ellipse cx="537.7" cy="391.2" rx="4.75" ry="3.95"/>
<ellipse cx="355" cy="519.2" rx="4.75" ry="3.95"/>
<ellipse cx="470.3" cy="505.2" rx="4.75" ry="3.95"/>
<ellipse cx="383.9" cy="582" rx="4.75" ry="3.95"/>
<ellipse cx="534.1" cy="431" rx="4.75" ry="3.95"/>
<ellipse cx="549.6" cy="440" rx="4.75" ry="3.95"/>
<ellipse cx="378.6" cy="500.4" rx="4.75" ry="3.95"/>
<ellipse cx="669.3" cy="286.7" rx="4.75" ry="3.95"/>
<ellipse cx="356.5" cy="563.3" rx="4.75" ry="3.95"/>
<ellipse cx="632.2" cy="329.1" rx="4.75" ry="3.95"/>
<ellipse cx="661.6" cy="292.1" rx="4.75" ry="3.95"/>
<ellipse cx="599.1" cy="334.6" rx="4.75" ry="3.95"/>
<ellipse cx="647.2" cy="305.2" rx="4.75" ry="3.95"/>
<ellipse cx="360.4" cy="563.8" rx="4.75" ry="3.95"/>
<ellipse cx="671.1" cy="283.1" rx="4.75" ry="3.95"/>
<ellipse cx="489.2" cy="478.7" rx="4.75" ry="3.95"/>
<ellipse cx="557.6" cy="413.7" rx="4.75" ry="3.95"/>
<ellipse cx="541.8" cy="427.6" rx="4.75" ry="3.95"/>
<ellipse cx="566.4" cy="362.9" rx="4.75" ry="3.95"/>
<ellipse cx="651.8" cy="305.7" rx="4.75" ry="3.95"/>
<ellipse cx="494.8" cy="420" rx="4.75" ry="3.95"/>
<ellipse cx="493.5" cy="475.2" rx="4.75" ry="3.95"/>
<ellipse cx="626.4" cy="316.2" rx="4.75" ry="3.95"/>
<ellipse cx="646.6" cy="321" rx="4.75" ry="3.95"/>
<ellipse cx="629.5" cy="330.5" rx="4.75" ry="3.95"/>
<ellipse cx="417.4" cy="466.9" rx="4.75" ry="3.95"/>
<ellipse cx="361.9" cy="566.5" rx="4.75" ry="3.95"/>
<ellipse cx="411.2" cy="492.8" rx="4.75" ry="3.95"/>
<ellipse cx="473.2" cy="449.6" rx="4.75" ry="3.95"/>
<ellipse cx="590.8" cy="377.8" rx="4.75" ry="3.95"/>
<ellipse cx="593.1" cy="373.2" rx="4.75" ry="3.95"/>
<ellipse cx="598" cy="359.3" rx="4.75" ry="3.95"/>
<ellipse cx="541.3" cy="391.5" rx="4.75" ry="3.95"/>
<ellipse cx="552.2" cy="406.2" rx="4.75" ry="3.95"/>
<ellipse cx="524.6" cy="438.8" rx="4.75" ry="3.95"/>
<ellipse cx="583.9" cy="356.4" rx="4.75" ry="3.95"/>
<ellipse cx="372" cy="574.5" rx="4.75" ry="3.95"/>
<ellipse cx="621.5" cy="320.4" rx="4.75" ry="3.95"/>
<ellipse cx="478.9" cy="499.1" rx="4.75" ry="3.95"/>
<ellipse cx="485.8" cy="479.7" rx="4.75" ry="3.95"/>
<ellipse cx="379.2" cy="512.8" rx="4.75" ry="3.95"/>
<ellipse cx="403.4" cy="574.2" rx="4.75" ry="3.95"/>
<ellipse cx="350.2" cy="546" rx="4.75" ry="3.95"/>
<ellipse cx="644.8" cy="322.7" rx="4.75" ry="3.95"/>
<ellipse cx="349.9" cy="529.8" rx="4.75" ry="3.95"/>
<ellipse cx="470.2" cy="503.1" rx="4.75" ry="3.95"/>
<ellipse cx="666" cy="295.2" rx="4.75" ry="3.95"/>
<ellipse cx="636.1" cy="320.5" rx="4.75" ry="3.95"/>
<ellipse cx="654.9" cy="294.4" rx="4.75" ry="3.95"/>
<ellipse cx="472.3" cy="423" rx="4.75" ry="3.95"/>
<ellipse cx="542.7" cy="393.7" rx="4.75" ry="3.95"/>
<ellipse cx="489.1" cy="483.5" rx="4.75" ry="3.95"/>
<ellipse cx="608" cy="325.6" rx="4.75" ry="3.95"/>
<ellipse cx="357.6" cy="564.3" rx="4.75" ry="3.95"/>
<ellipse cx="603.1" cy="335.3" rx="4.75" ry="3.95"/>
<ellipse cx="673.7" cy="274.4" rx="4.75" ry="3.95"/>
<ellipse cx="487.3" cy="431.8" rx="4.75" ry="3.95"/>
<ellipse cx="426.9" cy="476.9" rx="4.75" ry="3.95"/>
<ellipse cx="450.9" cy="525.9" rx="4.75" ry="3.95"/>
<ellipse cx="450.6" cy="460" rx="4.75" ry="3.95"/>
<ellipse cx="374.2" cy="578" rx="4.75" ry="3.95"/>
<ellipse cx="670.9" cy="279.1" rx="4.75" ry="3.95"/>
<ellipse cx="470.9" cy="528.5" rx="4.75" ry="3.95"/>
<ellipse cx="522.5" cy="402.5" rx="4.75" ry="3.95"/>
<ellipse cx="506.8" cy="468.7" rx="4.75" ry="3.95"/>
<ellipse cx="501.4" cy="469" rx="4.75" ry="3.95"/>
<ellipse cx="549" cy="377.3" rx="4.75" ry="3.95"/>
<ellipse cx="555.3" cy="377.8" rx="4.75" ry="3.95"/>
<ellipse cx="495.5" cy="421.9" rx="4.75" ry="3.95"/>
<ellipse cx="576.1" cy="384.8" rx="4.75" ry="3.95"/>
<ellipse cx="356.6" cy="563.7" rx="4.75" ry="3.95"/>
<ellipse cx="654.7" cy="294.3" rx="4.75" ry="3.95"/>
<ellipse cx="492.5" cy="427.5" rx="4.75" ry="3.95"/>
<ellipse cx="614.1" cy="328.3" rx="4.75" ry="3.95"/>
<ellipse cx="414" cy="489.2" rx="4.75" ry="3.95"/>
<ellipse cx="648.1" cy="302.2" rx="4.75" ry="3.95"/>
<ellipse cx="428" cy="479.7" rx="4.75" ry="3.95"/>
<ellipse cx="530.5" cy="430.5" rx="4.75" ry="3.95"/>
<ellipse cx="398.4" cy="491.3" rx="4.75" ry="3.95"/>
<ellipse cx="368.1" cy="572.2" rx="4.75" ry="3.95"/>
<ellipse cx="491.6" cy="484.1" rx="4.75" ry="3.95"/>
<ellipse cx="370.2" cy="575" rx="4.75" ry="3.95"/>
<ellipse cx="458" cy="455.5" rx="4.75" ry="3.95"/>
<ellipse cx="626.9" cy="331.9" rx="4.75" ry="3.95"/>
<ellipse cx="518.2" cy="449.2" rx="4.75" ry="3.95"/>
<ellipse cx="366.3" cy="569.9" rx="4.75" ry="3.95"/>
<ellipse cx="542" cy="395.5" rx="4.75" ry="3.95"/>
<ellipse cx="637.4" cy="321" rx="4.75" ry="3.95"/>
<ellipse cx="500.1" cy="417.8" rx="4.75" ry="3.95"/>
<ellipse cx="673.5" cy="286.7" rx="4.75" ry="3.95"/>
<ellipse cx="365.7" cy="518" rx="4.75" ry="3.95"/>
<ellipse cx="397.9" cy="491.1" rx="4.75" ry="3.95"/>
<ellipse cx="477.3" cy="442" rx="4.75" ry="3.95"/>
<ellipse cx="364.5" cy="569.6" rx="4.75" ry="3.95"/>
<ellipse cx="450.3" cy="530.9" rx="4.75" ry="3.95"/>
<ellipse cx="415.7" cy="489.6" rx="4.75" ry="3.95"/>
<ellipse cx="348.7" cy="535.3" rx="4.75" ry="3.95"/>
<ellipse cx="393.6" cy="576" rx="4.75" ry="3.95"/>
<ellipse cx="622.9" cy="318.2" rx="4.75" ry="3.95"/>
<ellipse cx="570.6" cy="397.6" rx="4.75" ry="3.95"/>
<ellipse cx="372.8" cy="575.8" rx="4.75" ry="3.95"/>
<ellipse cx="555.3" cy="358.6" rx="4.75" ry="3.95"/>
<ellipse cx="546.4" cy="384.7" rx="4.75" ry="3.95"/>
<ellipse cx="430.2" cy="552.8" rx="4.75" ry="3.95"/>
<ellipse cx="528.5" cy="441" rx="4.75" ry="3.95"/>
<ellipse cx="666.5" cy="287.4" rx="4.75" ry="3.95"/>
<ellipse cx="487.8" cy="478.6" rx="4.75" ry="3.95"/>
<ellipse cx="521.1" cy="452.3" rx="4.75" ry="3.95"/>
<ellipse cx="367.5" cy="571.2" rx="4.75" ry="3.95"/>
<ellipse cx="581.1" cy="387.1" rx="4.75" ry="3.95"/>
<ellipse cx="674" cy="280.8" rx="4.75" ry="3.95"/>
<ellipse cx="446.2" cy="468.8" rx="4.75" ry="3.95"/>
<ellipse cx="574.4" cy="364.1" rx="4.75" ry="3.95"/>
<ellipse cx="610.1" cy="346.7" rx="4.75" ry="3.95"/>
<ellipse cx="523.5" cy="443.8" rx="4.75" ry="3.95"/>
<ellipse cx="537" cy="397.2" rx="4.75" ry="3.95"/>
<ellipse cx="639.3" cy="321.1" rx="4.75" ry="3.95"/>
<ellipse cx="807.5" cy="183.4" rx="4.75" ry="3.95"/>
<ellipse cx="741.1" cy="242.3" rx="4.75" ry="3.95"/>
<ellipse cx="695.2" cy="269.5" rx="4.75" ry="3.95"/>
<ellipse cx="687.5" cy="274" rx="4.75" ry="3.95"/>
<ellipse cx="693.6" cy="285.4" rx="4.75" ry="3.95"/>
<ellipse cx="679.9" cy="280.8" rx="4.75" ry="3.95"/>
<ellipse cx="682.4" cy="271.8" rx="4.75" ry="3.95"/>
<ellipse cx="667.1" cy="303.5" rx="4.75" ry="3.95"/>
<ellipse cx="536.9" cy="548.1" rx="4.75" ry="3.95"/>
<ellipse cx="444.9" cy="610.6" rx="4.75" ry="3.95"/>
<ellipse cx="649.2" cy="371.4" rx="4.75" ry="3.95"/>
<ellipse cx="626.2" cy="396.3" rx="4.75" ry="3.95"/>
<ellipse cx="616" cy="403.1" rx="4.75" ry="3.95"/>
<ellipse cx="615" cy="404" rx="4.75" ry="3.95"/>
<ellipse cx="580.3" cy="432.6" rx="4.75" ry="3.95"/>
<ellipse cx="570.1" cy="446.2" rx="4.75" ry="3.95"/>
<ellipse cx="571.1" cy="448.4" rx="4.75" ry="3.95"/>
<ellipse cx="565" cy="466.6" rx="4.75" ry="3.95"/>
<ellipse cx="557.3" cy="467.5" rx="4.75" ry="3.95"/>
<ellipse cx="549.6" cy="468.8" rx="4.75" ry="3.95"/>
<ellipse cx="521.5" cy="491.5" rx="4.75" ry="3.95"/>
<ellipse cx="511.3" cy="500.5" rx="4.75" ry="3.95"/>
<ellipse cx="542" cy="462" rx="4.75" ry="3.95"/>
<ellipse cx="534.3" cy="473.3" rx="4.75" ry="3.95"/>
<ellipse cx="493.5" cy="520.9" rx="4.75" ry="3.95"/>
<ellipse cx="490.9" cy="530" rx="4.75" ry="3.95"/>
<ellipse cx="483.2" cy="527.7" rx="4.75" ry="3.95"/>
<ellipse cx="654.3" cy="355.6" rx="4.75" ry="3.95"/>
<ellipse cx="608.4" cy="394.1" rx="4.75" ry="3.95"/>
<ellipse cx="325.1" cy="656.1" rx="4.75" ry="3.95"/>
<ellipse cx="297.9" cy="706.6" rx="4.75" ry="3.95"/>
<ellipse cx="355.6" cy="674.6" rx="4.75" ry="3.95"/>
<ellipse cx="303.5" cy="586.9" rx="4.75" ry="3.95"/>
<ellipse cx="288" cy="644.7" rx="4.75" ry="3.95"/>
<ellipse cx="217.7" cy="661.3" rx="4.75" ry="3.95"/>
<ellipse cx="348.6" cy="542.5" rx="4.75" ry="3.95"/>
<ellipse cx="350" cy="567.8" rx="4.75" ry="3.95"/>
<ellipse cx="180.9" cy="645.6" rx="4.75" ry="3.95"/>
<ellipse cx="210" cy="737" rx="4.75" ry="3.95"/>
<ellipse cx="299.9" cy="685.2" rx="4.75" ry="3.95"/>
<ellipse cx="281.6" cy="668.4" rx="4.75" ry="3.95"/>
<ellipse cx="249.1" cy="706.6" rx="4.75" ry="3.95"/>
<ellipse cx="244.8" cy="706.6" rx="4.75" ry="3.95"/>
<ellipse cx="397.4" cy="605.3" rx="4.75" ry="3.95"/>
<ellipse cx="376" cy="615" rx="4.75" ry="3.95"/>
<ellipse cx="285.2" cy="653.9" rx="4.75" ry="3.95"/>
<ellipse cx="293.8" cy="706.6" rx="4.75" ry="3.95"/>
<ellipse cx="339.7" cy="567" rx="4.75" ry="3.95"/>
<ellipse cx="339.8" cy="641.8" rx="4.75" ry="3.95"/>
<ellipse cx="293.4" cy="639.5" rx="4.75" ry="3.95"/>
<ellipse cx="354.7" cy="569" rx="4.75" ry="3.95"/>
<ellipse cx="280.2" cy="668.6" rx="4.75" ry="3.95"/>
<ellipse cx="210" cy="673" rx="4.75" ry="3.95"/>
<ellipse cx="268.8" cy="594.2" rx="4.75" ry="3.95"/>
<ellipse cx="232.9" cy="684.7" rx="4.75" ry="3.95"/>
<ellipse cx="247" cy="681.8" rx="4.75" ry="3.95"/>
<ellipse cx="199.8" cy="728.8" rx="4.75" ry="3.95"/>
<ellipse cx="265.7" cy="690.8" rx="4.75" ry="3.95"/>
<ellipse cx="364.9" cy="576.7" rx="4.75" ry="3.95"/>
<ellipse cx="217.7" cy="728.8" rx="4.75" ry="3.95"/>
<ellipse cx="274.6" cy="744.7" rx="4.75" ry="3.95"/>
<ellipse cx="343.9" cy="569.6" rx="4.75" ry="3.95"/>
<ellipse cx="282.5" cy="715.7" rx="4.75" ry="3.95"/>
<ellipse cx="189.6" cy="640.7" rx="4.75" ry="3.95"/>
<ellipse cx="337.6" cy="535.1" rx="4.75" ry="3.95"/>
<ellipse cx="210" cy="744.7" rx="4.75" ry="3.95"/>
<ellipse cx="339.1" cy="660.7" rx="4.75" ry="3.95"/>
<ellipse cx="273.9" cy="697.6" rx="4.75" ry="3.95"/>
<ellipse cx="320.2" cy="526" rx="4.75" ry="3.95"/>
<ellipse cx="165.6" cy="706.6" rx="4.75" ry="3.95"/>
<ellipse cx="322.6" cy="633.5" rx="4.75" ry="3.95"/>
<ellipse cx="243.3" cy="688.3" rx="4.75" ry="3.95"/>
<ellipse cx="351.1" cy="579.1" rx="4.75" ry="3.95"/>
<ellipse cx="282.7" cy="671.3" rx="4.75" ry="3.95"/>
<ellipse cx="242" cy="661.9" rx="4.75" ry="3.95"/>
<ellipse cx="336.2" cy="601.9" rx="4.75" ry="3.95"/>
<ellipse cx="330.5" cy="697.6" rx="4.75" ry="3.95"/>
<ellipse cx="248.5" cy="665.6" rx="4.75" ry="3.95"/>
<ellipse cx="249.6" cy="663.2" rx="4.75" ry="3.95"/>
<ellipse cx="174.8" cy="658.1" rx="4.75" ry="3.95"/>
<ellipse cx="339.5" cy="654.1" rx="4.75" ry="3.95"/>
<ellipse cx="384.4" cy="648.3" rx="4.75" ry="3.95"/>
<ellipse cx="199.8" cy="778.2" rx="4.75" ry="3.95"/>
<ellipse cx="231.3" cy="611.6" rx="4.75" ry="3.95"/>
<ellipse cx="277.9" cy="706.6" rx="4.75" ry="3.95"/>
<ellipse cx="308.7" cy="598.2" rx="4.75" ry="3.95"/>
<ellipse cx="165.6" cy="754.7" rx="4.75" ry="3.95"/>
<ellipse cx="351.8" cy="618" rx="4.75" ry="3.95"/>
<ellipse cx="285.1" cy="674.7" rx="4.75" ry="3.95"/>
<ellipse cx="357.5" cy="602" rx="4.75" ry="3.95"/>
<ellipse cx="357.5" cy="592.5" rx="4.75" ry="3.95"/>
<ellipse cx="295.9" cy="587.8" rx="4.75" ry="3.95"/>
<ellipse cx="320.3" cy="617.1" rx="4.75" ry="3.95"/>
<ellipse cx="336.2" cy="593.3" rx="4.75" ry="3.95"/>
<ellipse cx="330.1" cy="629.5" rx="4.75" ry="3.95"/>
<ellipse cx="332.2" cy="590.9" rx="4.75" ry="3.95"/>
<ellipse cx="265.5" cy="640.8" rx="4.75" ry="3.95"/>
<ellipse cx="366.4" cy="631.7" rx="4.75" ry="3.95"/>
<ellipse cx="311.7" cy="601.9" rx="4.75" ry="3.95"/>
<ellipse cx="225.6" cy="658" rx="4.75" ry="3.95"/>
<ellipse cx="278.2" cy="589.1" rx="4.75" ry="3.95"/>
<ellipse cx="311.3" cy="563.6" rx="4.75" ry="3.95"/>
<ellipse cx="274.4" cy="671.1" rx="4.75" ry="3.95"/>
<ellipse cx="392.2" cy="591.3" rx="4.75" ry="3.95"/>
<ellipse cx="347.9" cy="551.8" rx="4.75" ry="3.95"/>
<ellipse cx="217.7" cy="706.6" rx="4.75" ry="3.95"/>
<ellipse cx="356.1" cy="568.3" rx="4.75" ry="3.95"/>
<ellipse cx="280.7" cy="737" rx="4.75" ry="3.95"/>
<ellipse cx="271.5" cy="595.1" rx="4.75" ry="3.95"/>
<ellipse cx="234.8" cy="660.1" rx="4.75" ry="3.95"/>
<ellipse cx="254.2" cy="624.5" rx="4.75" ry="3.95"/>
<ellipse cx="374.3" cy="594.1" rx="4.75" ry="3.95"/>
<ellipse cx="231.4" cy="737" rx="4.75" ry="3.95"/>
<ellipse cx="252.4" cy="744.7" rx="4.75" ry="3.95"/>
<ellipse cx="270.3" cy="569.2" rx="4.75" ry="3.95"/>
<ellipse cx="315.7" cy="556.3" rx="4.75" ry="3.95"/>
<ellipse cx="222.5" cy="754.7" rx="4.75" ry="3.95"/>
<ellipse cx="334.4" cy="615.9" rx="4.75" ry="3.95"/>
<ellipse cx="222.4" cy="728.8" rx="4.75" ry="3.95"/>
<ellipse cx="427.2" cy="598.2" rx="4.75" ry="3.95"/>
<ellipse cx="367.5" cy="577" rx="4.75" ry="3.95"/>
<ellipse cx="384.9" cy="602.5" rx="4.75" ry="3.95"/>
<ellipse cx="443.8" cy="596.9" rx="4.75" ry="3.95"/>
<ellipse cx="321.8" cy="605.9" rx="4.75" ry="3.95"/>
<ellipse cx="340.7" cy="558.5" rx="4.75" ry="3.95"/>
<ellipse cx="292.2" cy="646.8" rx="4.75" ry="3.95"/>
<ellipse cx="323.3" cy="608.8" rx="4.75" ry="3.95"/>
<ellipse cx="330.3" cy="581.3" rx="4.75" ry="3.95"/>
<ellipse cx="349.7" cy="554.9" rx="4.75" ry="3.95"/>
<ellipse cx="364" cy="598" rx="4.75" ry="3.95"/>
<ellipse cx="264.2" cy="671.3" rx="4.75" ry="3.95"/>
<ellipse cx="332.6" cy="569" rx="4.75" ry="3.95"/>
<ellipse cx="259.1" cy="679.4" rx="4.75" ry="3.95"/>
<ellipse cx="338.4" cy="623.1" rx="4.75" ry="3.95"/>
<ellipse cx="300.9" cy="643.1" rx="4.75" ry="3.95"/>
<ellipse cx="276.4" cy="639.9" rx="4.75" ry="3.95"/>
<ellipse cx="300.1" cy="728.8" rx="4.75" ry="3.95"/>
<ellipse cx="315.2" cy="608.1" rx="4.75" ry="3.95"/>
<ellipse cx="247.9" cy="659.8" rx="4.75" ry="3.95"/>
<ellipse cx="311.3" cy="588.8" rx="4.75" ry="3.95"/>
<ellipse cx="333.5" cy="687.1" rx="4.75" ry="3.95"/>
<ellipse cx="434.8" cy="570.7" rx="4.75" ry="3.95"/>
<ellipse cx="344.2" cy="539.9" rx="4.75" ry="3.95"/>
<ellipse cx="236.7" cy="706.6" rx="4.75" ry="3.95"/>
<ellipse cx="396.5" cy="587.8" rx="4.75" ry="3.95"/>
<ellipse cx="229.2" cy="632.1" rx="4.75" ry="3.95"/>
<ellipse cx="336.9" cy="666.9" rx="4.75" ry="3.95"/>
<ellipse cx="326.6" cy="604.5" rx="4.75" ry="3.95"/>
<ellipse cx="256.9" cy="622.9" rx="4.75" ry="3.95"/>
<ellipse cx="318.3" cy="582.7" rx="4.75" ry="3.95"/>
<ellipse cx="382" cy="606.7" rx="4.75" ry="3.95"/>
<ellipse cx="272.6" cy="676.6" rx="4.75" ry="3.95"/>
<ellipse cx="376.5" cy="593.8" rx="4.75" ry="3.95"/>
<ellipse cx="217.7" cy="715.7" rx="4.75" ry="3.95"/>
<ellipse cx="313.6" cy="629.3" rx="4.75" ry="3.95"/>
<ellipse cx="390.9" cy="581.1" rx="4.75" ry="3.95"/>
<ellipse cx="290.6" cy="658.3" rx="4.75" ry="3.95"/>
<ellipse cx="286.8" cy="654.1" rx="4.75" ry="3.95"/>
<ellipse cx="180.9" cy="778.2" rx="4.75" ry="3.95"/>
<ellipse cx="199.8" cy="723.4" rx="4.75" ry="3.95"/>
<ellipse cx="287.1" cy="567.4" rx="4.75" ry="3.95"/>
<ellipse cx="382.3" cy="603.3" rx="4.75" ry="3.95"/>
<ellipse cx="307.2" cy="606.2" rx="4.75" ry="3.95"/>
<ellipse cx="352" cy="569.1" rx="4.75" ry="3.95"/>
<ellipse cx="230" cy="715.7" rx="4.75" ry="3.95"/>
<ellipse cx="335.1" cy="603.5" rx="4.75" ry="3.95"/>
<ellipse cx="269.6" cy="619.3" rx="4.75" ry="3.95"/>
<ellipse cx="287.7" cy="636.8" rx="4.75" ry="3.95"/>
<ellipse cx="322.5" cy="565.5" rx="4.75" ry="3.95"/>
<ellipse cx="341" cy="586" rx="4.75" ry="3.95"/>
<ellipse cx="199.8" cy="706.6" rx="4.75" ry="3.95"/>
<ellipse cx="199.8" cy="697.6" rx="4.75" ry="3.95"/>
<ellipse cx="210" cy="723.4" rx="4.75" ry="3.95"/>
<ellipse cx="350.8" cy="600.3" rx="4.75" ry="3.95"/>
<ellipse cx="433.8" cy="572.5" rx="4.75" ry="3.95"/>
<ellipse cx="235.5" cy="662.7" rx="4.75" ry="3.95"/>
<ellipse cx="432.2" cy="574.5" rx="4.75" ry="3.95"/>
<ellipse cx="288" cy="706.6" rx="4.75" ry="3.95"/>
<ellipse cx="165.6" cy="754.7" rx="4.75" ry="3.95"/>
<ellipse cx="365.3" cy="615.7" rx="4.75" ry="3.95"/>
<ellipse cx="351.9" cy="600.6" rx="4.75" ry="3.95"/>
<ellipse cx="380.3" cy="604.5" rx="4.75" ry="3.95"/>
<ellipse cx="286.9" cy="657.5" rx="4.75" ry="3.95"/>
<ellipse cx="285.8" cy="638.9" rx="4.75" ry="3.95"/>
<ellipse cx="299.1" cy="646" rx="4.75" ry="3.95"/>
<ellipse cx="326.6" cy="656.5" rx="4.75" ry="3.95"/>
<ellipse cx="354.8" cy="571.7" rx="4.75" ry="3.95"/>
<ellipse cx="210" cy="737" rx="4.75" ry="3.95"/>
<ellipse cx="249.5" cy="647" rx="4.75" ry="3.95"/>
<ellipse cx="414.7" cy="588" rx="4.75" ry="3.95"/>
<ellipse cx="381.4" cy="616.4" rx="4.75" ry="3.95"/>
<ellipse cx="297.9" cy="669.6" rx="4.75" ry="3.95"/>
<ellipse cx="401.7" cy="572.3" rx="4.75" ry="3.95"/>
<ellipse cx="314.5" cy="624.2" rx="4.75" ry="3.95"/>
<ellipse cx="269.2" cy="737" rx="4.75" ry="3.95"/>
<ellipse cx="342.3" cy="587.3" rx="4.75" ry="3.95"/>
<ellipse cx="421.7" cy="604.7" rx="4.75" ry="3.95"/>
<ellipse cx="199.8" cy="653.8" rx="4.75" ry="3.95"/>
<ellipse cx="189.6" cy="723.4" rx="4.75" ry="3.95"/>
<ellipse cx="210" cy="754.7" rx="4.75" ry="3.95"/>
<ellipse cx="276.2" cy="686" rx="4.75" ry="3.95"/>
<ellipse cx="273" cy="606.1" rx="4.75" ry="3.95"/>
<ellipse cx="299.4" cy="715.7" rx="4.75" ry="3.95"/>
<ellipse cx="367.2" cy="620.2" rx="4.75" ry="3.95"/>
<ellipse cx="235" cy="679.5" rx="4.75" ry="3.95"/>
<ellipse cx="324.9" cy="584.6" rx="4.75" ry="3.95"/>
<ellipse cx="339.2" cy="650" rx="4.75" ry="3.95"/>
<ellipse cx="244.4" cy="620.2" rx="4.75" ry="3.95"/>
<ellipse cx="330.4" cy="592" rx="4.75" ry="3.95"/>
<ellipse cx="371.6" cy="588.3" rx="4.75" ry="3.95"/>
<ellipse cx="286.3" cy="594.6" rx="4.75" ry="3.95"/>
<ellipse cx="412.4" cy="572.3" rx="4.75" ry="3.95"/>
<ellipse cx="352.8" cy="637.9" rx="4.75" ry="3.95"/>
<ellipse cx="320.2" cy="606.6" rx="4.75" ry="3.95"/>
<ellipse cx="220.4" cy="672.4" rx="4.75" ry="3.95"/>
<ellipse cx="291" cy="614.6" rx="4.75" ry="3.95"/>
<ellipse cx="245" cy="737" rx="4.75" ry="3.95"/>
<ellipse cx="285.4" cy="607.3" rx="4.75" ry="3.95"/>
<ellipse cx="315.7" cy="626.1" rx="4.75" ry="3.95"/>
<ellipse cx="398.1" cy="585" rx="4.75" ry="3.95"/>
<ellipse cx="281.5" cy="641.2" rx="4.75" ry="3.95"/>
<ellipse cx="174.8" cy="679.9" rx="4.75" ry="3.95"/>
<ellipse cx="374" cy="586.9" rx="4.75" ry="3.95"/>
<ellipse cx="372" cy="581.7" rx="4.75" ry="3.95"/>
<ellipse cx="355.8" cy="565.9" rx="4.75" ry="3.95"/>
<ellipse cx="271.6" cy="690.8" rx="4.75" ry="3.95"/>
<ellipse cx="447.2" cy="585.7" rx="4.75" ry="3.95"/>
<ellipse cx="398.7" cy="633.9" rx="4.75" ry="3.95"/>
<ellipse cx="296.2" cy="593.9" rx="4.75" ry="3.95"/>
<ellipse cx="199.8" cy="723.4" rx="4.75" ry="3.95"/>
<ellipse cx="165.6" cy="697.6" rx="4.75" ry="3.95"/>
<ellipse cx="324.2" cy="629.7" rx="4.75" ry="3.95"/>
<ellipse cx="258.5" cy="765.1" rx="4.75" ry="3.95"/>
<ellipse cx="310.9" cy="599.6" rx="4.75" ry="3.95"/>
<ellipse cx="374" cy="628" rx="4.75" ry="3.95"/>
<ellipse cx="298.4" cy="627.7" rx="4.75" ry="3.95"/>
<ellipse cx="437.1" cy="594.9" rx="4.75" ry="3.95"/>
<ellipse cx="385.7" cy="610.9" rx="4.75" ry="3.95"/>
<ellipse cx="294.3" cy="697.6" rx="4.75" ry="3.95"/>
<ellipse cx="435.1" cy="601.7" rx="4.75" ry="3.95"/>
<ellipse cx="436.5" cy="561.1" rx="4.75" ry="3.95"/>
<ellipse cx="295.5" cy="638.8" rx="4.75" ry="3.95"/>
<ellipse cx="353.7" cy="591.9" rx="4.75" ry="3.95"/>
<ellipse cx="306" cy="578.7" rx="4.75" ry="3.95"/>
<ellipse cx="217.7" cy="723.4" rx="4.75" ry="3.95"/>
<ellipse cx="261.3" cy="697.6" rx="4.75" ry="3.95"/>
<ellipse cx="299.4" cy="593.9" rx="4.75" ry="3.95"/>
<ellipse cx="310.6" cy="669.6" rx="4.75" ry="3.95"/>
<ellipse cx="342.9" cy="653.6" rx="4.75" ry="3.95"/>
<ellipse cx="280.3" cy="586.9" rx="4.75" ry="3.95"/>
<ellipse cx="281.6" cy="645.2" rx="4.75" ry="3.95"/>
<ellipse cx="439.8" cy="578.8" rx="4.75" ry="3.95"/>
<ellipse cx="285.1" cy="715.7" rx="4.75" ry="3.95"/>
<ellipse cx="271.1" cy="658.1" rx="4.75" ry="3.95"/>
<ellipse cx="223" cy="660.3" rx="4.75" ry="3.95"/>
<ellipse cx="379.3" cy="603.6" rx="4.75" ry="3.95"/>
<ellipse cx="409.4" cy="580.1" rx="4.75" ry="3.95"/>
<ellipse cx="243.5" cy="648.5" rx="4.75" ry="3.95"/>
<ellipse cx="210" cy="631.9" rx="4.75" ry="3.95"/>
<ellipse cx="266.1" cy="658.8" rx="4.75" ry="3.95"/>
<ellipse cx="371.6" cy="596" rx="4.75" ry="3.95"/>
<ellipse cx="367.3" cy="638.1" rx="4.75" ry="3.95"/>
<ellipse cx="253.9" cy="744.7" rx="4.75" ry="3.95"/>
<ellipse cx="244.1" cy="686.4" rx="4.75" ry="3.95"/>
<ellipse cx="238.2" cy="654.2" rx="4.75" ry="3.95"/>
<ellipse cx="378.1" cy="610" rx="4.75" ry="3.95"/>
<ellipse cx="309.5" cy="542.8" rx="4.75" ry="3.95"/>
<ellipse cx="259.5" cy="626.5" rx="4.75" ry="3.95"/>
<ellipse cx="237.7" cy="728.8" rx="4.75" ry="3.95"/>
<ellipse cx="357.7" cy="631.1" rx="4.75" ry="3.95"/>
<ellipse cx="305.9" cy="671.4" rx="4.75" ry="3.95"/>
<ellipse cx="242.2" cy="674" rx="4.75" ry="3.95"/>
<ellipse cx="369.7" cy="647.6" rx="4.75" ry="3.95"/>
<ellipse cx="254.8" cy="620.1" rx="4.75" ry="3.95"/>
<ellipse cx="331.4" cy="591.9" rx="4.75" ry="3.95"/>
<ellipse cx="189.6" cy="706.6" rx="4.75" ry="3.95"/>
<ellipse cx="352.8" cy="571.4" rx="4.75" ry="3.95"/>
<ellipse cx="440.6" cy="569.2" rx="4.75" ry="3.95"/>
<ellipse cx="326" cy="537.4" rx="4.75" ry="3.95"/>
<ellipse cx="180.9" cy="744.7" rx="4.75" ry="3.95"/>
<ellipse cx="347.6" cy="601.3" rx="4.75" ry="3.95"/>
<ellipse cx="388.5" cy="582.1" rx="4.75" ry="3.95"/>
<ellipse cx="337.5" cy="632.4" rx="4.75" ry="3.95"/>
<ellipse cx="309.3" cy="620.1" rx="4.75" ry="3.95"/>
<ellipse cx="340.1" cy="604.7" rx="4.75" ry="3.95"/>
<ellipse cx="180.9" cy="715.7" rx="4.75" ry="3.95"/>
<ellipse cx="237.2" cy="647.8" rx="4.75" ry="3.95"/>
<ellipse cx="261.6" cy="627.8" rx="4.75" ry="3.95"/>
<ellipse cx="227.4" cy="715.7" rx="4.75" ry="3.95"/>
<ellipse cx="336.8" cy="561.9" rx="4.75" ry="3.95"/>
<ellipse cx="285.2" cy="661.9" rx="4.75" ry="3.95"/>
<ellipse cx="369.9" cy="641.2" rx="4.75" ry="3.95"/>
<ellipse cx="210" cy="664.8" rx="4.75" ry="3.95"/>
<ellipse cx="305" cy="544.5" rx="4.75" ry="3.95"/>
<ellipse cx="230.1" cy="664.9" rx="4.75" ry="3.95"/>
<ellipse cx="180.9" cy="723.4" rx="4.75" ry="3.95"/>
<ellipse cx="358.7" cy="576" rx="4.75" ry="3.95"/>
<ellipse cx="189.6" cy="744.7" rx="4.75" ry="3.95"/>
<ellipse cx="303.8" cy="617" rx="4.75" ry="3.95"/>
<ellipse cx="325.9" cy="568.3" rx="4.75" ry="3.95"/>
<ellipse cx="310.3" cy="611.6" rx="4.75" ry="3.95"/>
<ellipse cx="408.1" cy="612.1" rx="4.75" ry="3.95"/>
<ellipse cx="344.5" cy="545.6" rx="4.75" ry="3.95"/>
<ellipse cx="269.8" cy="616.1" rx="4.75" ry="3.95"/>
<ellipse cx="329.5" cy="627" rx="4.75" ry="3.95"/>
<ellipse cx="307.9" cy="625.5" rx="4.75" ry="3.95"/>
<ellipse cx="210" cy="728.8" rx="4.75" ry="3.95"/>
<ellipse cx="310.4" cy="643.8" rx="4.75" ry="3.95"/>
<ellipse cx="351.8" cy="634.8" rx="4.75" ry="3.95"/>
<ellipse cx="365.1" cy="594.9" rx="4.75" ry="3.95"/>
<ellipse cx="246" cy="674.7" rx="4.75" ry="3.95"/>
<ellipse cx="345.7" cy="690.8" rx="4.75" ry="3.95"/>
<ellipse cx="237.4" cy="637" rx="4.75" ry="3.95"/>
<ellipse cx="262.6" cy="655.9" rx="4.75" ry="3.95"/>
<ellipse cx="270" cy="637.1" rx="4.75" ry="3.95"/>
<ellipse cx="352.6" cy="617.1" rx="4.75" ry="3.95"/>
<ellipse cx="261.1" cy="664.3" rx="4.75" ry="3.95"/>
<ellipse cx="314.6" cy="641" rx="4.75" ry="3.95"/>
<ellipse cx="289.1" cy="650.1" rx="4.75" ry="3.95"/>
<ellipse cx="321.1" cy="646.3" rx="4.75" ry="3.95"/>
<ellipse cx="246" cy="697.6" rx="4.75" ry="3.95"/>
<ellipse cx="234.2" cy="664.1" rx="4.75" ry="3.95"/>
<ellipse cx="325" cy="570.8" rx="4.75" ry="3.95"/>
<ellipse cx="317.8" cy="594.8" rx="4.75" ry="3.95"/>
<ellipse cx="403.5" cy="611.6" rx="4.75" ry="3.95"/>
<ellipse cx="156.9" cy="723.4" rx="4.75" ry="3.95"/>
<ellipse cx="456.5" cy="595.6" rx="4.75" ry="3.95"/>
<ellipse cx="281.2" cy="669" rx="4.75" ry="3.95"/>
<ellipse cx="278.9" cy="613.1" rx="4.75" ry="3.95"/>
<ellipse cx="406.5" cy="587.4" rx="4.75" ry="3.95"/>
<ellipse cx="331.6" cy="589.9" rx="4.75" ry="3.95"/>
<ellipse cx="377.6" cy="600.7" rx="4.75" ry="3.95"/>
<ellipse cx="400.4" cy="579.4" rx="4.75" ry="3.95"/>
<ellipse cx="445.7" cy="600.9" rx="4.75" ry="3.95"/>
<ellipse cx="336.5" cy="559.4" rx="4.75" ry="3.95"/>
<ellipse cx="344.1" cy="579.5" rx="4.75" ry="3.95"/>
<ellipse cx="249.6" cy="706.6" rx="4.75" ry="3.95"/>
<ellipse cx="353.5" cy="615.7" rx="4.75" ry="3.95"/>
<ellipse cx="363.1" cy="640.3" rx="4.75" ry="3.95"/>
<ellipse cx="222.7" cy="737" rx="4.75" ry="3.95"/>
<ellipse cx="247.1" cy="677.4" rx="4.75" ry="3.95"/>
<ellipse cx="353.6" cy="587.7" rx="4.75" ry="3.95"/>
<ellipse cx="223.4" cy="737" rx="4.75" ry="3.95"/>
<ellipse cx="226.4" cy="778.2" rx="4.75" ry="3.95"/>
<ellipse cx="307" cy="682.7" rx="4.75" ry="3.95"/>
<ellipse cx="221.3" cy="678" rx="4.75" ry="3.95"/>
<ellipse cx="315.7" cy="586.3" rx="4.75" ry="3.95"/>
<ellipse cx="241.2" cy="636.8" rx="4.75" ry="3.95"/>
<ellipse cx="351.6" cy="614.2" rx="4.75" ry="3.95"/>
<ellipse cx="361.2" cy="584.1" rx="4.75" ry="3.95"/>
<ellipse cx="391.9" cy="641.8" rx="4.75" ry="3.95"/>
<ellipse cx="217.7" cy="723.4" rx="4.75" ry="3.95"/>
<ellipse cx="307.7" cy="723.4" rx="4.75" ry="3.95"/>
<ellipse cx="299.9" cy="624.5" rx="4.75" ry="3.95"/>
<ellipse cx="414" cy="579" rx="4.75" ry="3.95"/>
<ellipse cx="189.6" cy="723.4" rx="4.75" ry="3.95"/>
<ellipse cx="217.7" cy="706.6" rx="4.75" ry="3.95"/>
<ellipse cx="346.6" cy="639" rx="4.75" ry="3.95"/>
<ellipse cx="304.3" cy="668.2" rx="4.75" ry="3.95"/>
<ellipse cx="305.2" cy="563.7" rx="4.75" ry="3.95"/>
<ellipse cx="277.4" cy="697.6" rx="4.75" ry="3.95"/>
<ellipse cx="228.5" cy="723.4" rx="4.75" ry="3.95"/>
<ellipse cx="354.9" cy="624.6" rx="4.75" ry="3.95"/>
<ellipse cx="243.2" cy="728.8" rx="4.75" ry="3.95"/>
<ellipse cx="199.8" cy="670" rx="4.75" ry="3.95"/>
<ellipse cx="339.8" cy="641.2" rx="4.75" ry="3.95"/>
<ellipse cx="299.2" cy="629.8" rx="4.75" ry="3.95"/>
<ellipse cx="298.7" cy="609.1" rx="4.75" ry="3.95"/>
<ellipse cx="348.4" cy="620.9" rx="4.75" ry="3.95"/>
<ellipse cx="310.8" cy="606.2" rx="4.75" ry="3.95"/>
<ellipse cx="257.7" cy="765.1" rx="4.75" ry="3.95"/>
<ellipse cx="349.1" cy="597.3" rx="4.75" ry="3.95"/>
<ellipse cx="399" cy="581.8" rx="4.75" ry="3.95"/>
<ellipse cx="254" cy="626.5" rx="4.75" ry="3.95"/>
<ellipse cx="347.1" cy="578.9" rx="4.75" ry="3.95"/>
<ellipse cx="294.7" cy="564.8" rx="4.75" ry="3.95"/>
<ellipse cx="345.4" cy="623.9" rx="4.75" ry="3.95"/>
<ellipse cx="258.8" cy="715.7" rx="4.75" ry="3.95"/>
<ellipse cx="361.5" cy="681.1" rx="4.75" ry="3.95"/>
<ellipse cx="189.6" cy="680.8" rx="4.75" ry="3.95"/>
<ellipse cx="136" cy="697.6" rx="4.75" ry="3.95"/>
<ellipse cx="136" cy="706.6" rx="4.75" ry="3.95"/>
<ellipse cx="136" cy="723.4" rx="4.75" ry="3.95"/>
<ellipse cx="136" cy="728.8" rx="4.75" ry="3.95"/>
<ellipse cx="136" cy="737" rx="4.75" ry="3.95"/>
<ellipse cx="136" cy="744.7" rx="4.75" ry="3.95"/>
<ellipse cx="136" cy="754.7" rx="4.75" ry="3.95"/>
<ellipse cx="136" cy="765.1" rx="4.75" ry="3.95"/>
<ellipse cx="136" cy="778.2" rx="4.75" ry="3.95"/>
<ellipse cx="136" cy="795" rx="4.75" ry="3.95"/>
<ellipse cx="136" cy="737" rx="4.75" ry="3.95"/>
<ellipse cx="136" cy="744.7" rx="4.75" ry="3.95"/>
<ellipse cx="136" cy="754.7" rx="4.75" ry="3.95"/>
<ellipse cx="136" cy="765.1" rx="4.75" ry="3.95"/>
<ellipse cx="136" cy="765.1" rx="4.75" ry="3.95"/>
<ellipse cx="136" cy="795" rx="4.75" ry="3.95"/>
<ellipse cx="136" cy="795" rx="4.75" ry="3.95"/>
<ellipse cx="136" cy="754.7" rx="4.75" ry="3.95"/>
<ellipse cx="136" cy="778.2" rx="4.75" ry="3.95"/>
<ellipse cx="136" cy="744.7" rx="4.75" ry="3.95"/>
<ellipse cx="136" cy="765.1" rx="4.75" ry="3.95"/>
<ellipse cx="136" cy="795" rx="4.75" ry="3.95"/>
<ellipse cx="165.1" cy="795" rx="4.75" ry="3.95"/>
<ellipse cx="168.1" cy="795" rx="4.75" ry="3.95"/>
<ellipse cx="177.3" cy="795" rx="4.75" ry="3.95"/>
<ellipse cx="184" cy="795" rx="4.75" ry="3.95"/>
<ellipse cx="194.2" cy="795" rx="4.75" ry="3.95"/>
<ellipse cx="201.8" cy="795" rx="4.75" ry="3.95"/>
<ellipse cx="212.1" cy="795" rx="4.75" ry="3.95"/>
<ellipse cx="225.3" cy="795" rx="4.75" ry="3.95"/>
<ellipse cx="243.2" cy="795" rx="4.75" ry="3.95"/>
<ellipse cx="270.3" cy="795" rx="4.75" ry="3.95"/>
<ellipse cx="285.1" cy="795" rx="4.75" ry="3.95"/>
<ellipse cx="168.1" cy="795" rx="4.75" ry="3.95"/>
<ellipse cx="177.3" cy="795" rx="4.75" ry="3.95"/>
<ellipse cx="194.2" cy="795" rx="4.75" ry="3.95"/>
<ellipse cx="201.8" cy="795" rx="4.75" ry="3.95"/>
<ellipse cx="225.3" cy="795" rx="4.75" ry="3.95"/>
<ellipse cx="184" cy="795" rx="4.75" ry="3.95"/>
<ellipse cx="243.2" cy="795" rx="4.75" ry="3.95"/>
<ellipse cx="270.3" cy="795" rx="4.75" ry="3.95"/>
<ellipse cx="212.1" cy="795" rx="4.75" ry="3.95"/>
<ellipse cx="171.7" cy="795" rx="4.75" ry="3.95"/>
<ellipse cx="187" cy="795" rx="4.75" ry="3.95"/>
<ellipse cx="197.2" cy="795" rx="4.75" ry="3.95"/>
<ellipse cx="226.4" cy="795" rx="4.75" ry="3.95"/>
<ellipse cx="153.8" cy="765.1" rx="4.75" ry="3.95"/>
<ellipse cx="156.4" cy="765.1" rx="4.75" ry="3.95"/>
<ellipse cx="165.1" cy="778.2" rx="4.75" ry="3.95"/>
<ellipse cx="165.1" cy="737" rx="4.75" ry="3.95"/>
<ellipse cx="165.1" cy="733.8" rx="4.75" ry="3.95"/>
<ellipse cx="165.1" cy="744.7" rx="4.75" ry="3.95"/>
<ellipse cx="165.1" cy="723.4" rx="4.75" ry="3.95"/>
<ellipse cx="165.1" cy="693" rx="4.75" ry="3.95"/>
<ellipse cx="165.1" cy="687.6" rx="4.75" ry="3.95"/>
<ellipse cx="165.1" cy="665.9" rx="4.75" ry="3.95"/>
</g>
<line x1="102" y1="152.5" x2="102" y2="827.2" stroke="#000" stroke-width="2"/>
<line x1="101" y1="826.2" x2="842" y2="826.2" stroke="#000" stroke-width="2"/>
<line x1="161.5" y1="826.2" x2="161.5" y2="830.6" stroke="#000" stroke-width="1.5"/>
<line x1="97.2" y1="761" x2="102" y2="761" stroke="#000" stroke-width="1.5"/>
<text transform="translate(161.5,867.3) scale(1.04,1)" font-size="31.7" text-anchor="middle">0</text>
<text transform="translate(87.8,775.8) scale(1.04,1)" font-size="31.7" text-anchor="end">0</text>
<line x1="416.9" y1="826.2" x2="416.9" y2="830.6" stroke="#000" stroke-width="1.5"/>
<line x1="97.2" y1="534.5" x2="102" y2="534.5" stroke="#000" stroke-width="1.5"/>
<text transform="translate(416.9,867.3) scale(1.04,1)" font-size="31.7" text-anchor="middle">5</text>
<text transform="translate(87.8,549.3) scale(1.04,1)" font-size="31.7" text-anchor="end">5</text>
<line x1="672.2" y1="826.2" x2="672.2" y2="830.6" stroke="#000" stroke-width="1.5"/>
<line x1="97.2" y1="308" x2="102" y2="308" stroke="#000" stroke-width="1.5"/>
<text transform="translate(672.2,867.3) scale(1.04,1)" font-size="31.7" text-anchor="middle">10</text>
<text transform="translate(87.8,322.8) scale(1.04,1)" font-size="31.7" text-anchor="end">10</text>
<text x="467.5" y="926.5" font-size="33.0" text-anchor="middle">ATAC-Seq reads in Enh KO (Log<tspan font-size="21.5" dy="6.5">2</tspan><tspan dy="-6.5"> FPM)</tspan></text>
<text transform="translate(31.5,488.5) rotate(-90)" font-size="33.2" text-anchor="middle">ATAC-Seq reads in WT (Log<tspan font-size="21.5" dy="6.5">2</tspan><tspan dy="-6.5"> RPM)</tspan></text>
<text x="126.8" y="209.8" font-size="33.3">Chr 7:105711172-105712172</text>
<text x="238.2" y="281.6" font-size="33.3">Chr 7:105705111-105706111</text>
<line x1="200.3" y1="224.3" x2="141" y2="448.6" stroke="#000" stroke-width="1.2"/>
<line x1="373" y1="296" x2="265" y2="511" stroke="#000" stroke-width="1.2"/>
<circle cx="134.6" cy="466" r="6" fill="#f00000"/>
<circle cx="256" cy="528.7" r="6" fill="#f00000"/>
</g>
<g id="pb">
<line x1="1175.5" y1="114.3" x2="1312.5" y2="114.3" stroke="#0000a8" stroke-width="1.2"/>
<rect x="1178" y="103.8" width="0.8" height="21" fill="#0000a8"/>
<rect x="1180.4" y="103.8" width="7.6" height="21" fill="#0000a8"/>
<rect x="1190.4" y="103.8" width="23" height="21" fill="#0000a8"/>
<rect x="1216.1" y="103.8" width="11" height="21" fill="#0000a8"/>
<rect x="1244" y="103.8" width="9.8" height="21" fill="#0000a8"/>
<rect x="1194.3" y="103.8" width="0.6" height="21" fill="#8080d8"/>
<rect x="1198.7" y="103.8" width="0.6" height="21" fill="#8080d8"/>
<rect x="1209" y="103.8" width="0.6" height="21" fill="#8080d8"/>
<rect x="1211" y="103.8" width="0.6" height="21" fill="#8080d8"/>
<rect x="1224.4" y="103.8" width="0.6" height="21" fill="#8080d8"/>
<rect x="1230.5" y="103.8" width="1" height="21" fill="#0000a8"/>
<rect x="1239.3" y="103.8" width="1" height="21" fill="#0000a8"/>
<rect x="1256.5" y="103.8" width="1" height="21" fill="#0000a8"/>
<rect x="1261.9" y="103.8" width="1" height="21" fill="#0000a8"/>
<rect x="1263.6" y="103.8" width="1" height="21" fill="#0000a8"/>
<rect x="1267" y="103.8" width="1" height="21" fill="#0000a8"/>
<rect x="1269.9" y="103.8" width="1" height="21" fill="#0000a8"/>
<rect x="1279" y="103.8" width="1" height="21" fill="#0000a8"/>
<rect x="1306.6" y="103.8" width="1" height="21" fill="#0000a8"/>
<rect x="1307.9" y="103.8" width="1" height="21" fill="#0000a8"/>
<rect x="1291.7" y="109.8" width="1" height="9" fill="#0000a8"/>
<rect x="1293.7" y="109.8" width="1" height="9" fill="#0000a8"/>
<rect x="1295.4" y="109.8" width="1" height="9" fill="#0000a8"/>
<rect x="1297.6" y="109.8" width="1" height="9" fill="#0000a8"/>
<rect x="1244.5" y="108.3" width="2" height="12" fill="#0000a8"/>
<path d="M1266.3 112.3L1264.8 114.3L1266.3 116.3" fill="none" stroke="#0000a8" stroke-width="0.7"/>
<path d="M1288.3 112.3L1286.8 114.3L1288.3 116.3" fill="none" stroke="#0000a8" stroke-width="0.7"/>
<line x1="1324.8" y1="114.3" x2="1409.7" y2="114.3" stroke="#0000a8" stroke-width="1.2"/>
<rect x="1325.2" y="103.8" width="4" height="21" fill="#0000a8"/>
<rect x="1333.3" y="103.8" width="3.2" height="21" fill="#0000a8"/>
<rect x="1351.9" y="103.8" width="1.1" height="21" fill="#0000a8"/>
<rect x="1358" y="103.8" width="1.1" height="21" fill="#0000a8"/>
<rect x="1363.8" y="103.8" width="1.1" height="21" fill="#0000a8"/>
<rect x="1365.1" y="103.8" width="1.1" height="21" fill="#0000a8"/>
<rect x="1367.5" y="103.8" width="1.1" height="21" fill="#0000a8"/>
<rect x="1370.7" y="103.8" width="1.1" height="21" fill="#0000a8"/>
<rect x="1408.9" y="103.8" width="1.1" height="21" fill="#0000a8"/>
<path d="M1349 112.3L1347.5 114.3L1349 116.3" fill="none" stroke="#0000a8" stroke-width="0.7"/>
<path d="M1383.8 112.3L1382.3 114.3L1383.8 116.3" fill="none" stroke="#0000a8" stroke-width="0.7"/>
<path d="M1404.6 112.3L1403.1 114.3L1404.6 116.3" fill="none" stroke="#0000a8" stroke-width="0.7"/>
<line x1="1446.4" y1="114.3" x2="1455.7" y2="114.3" stroke="#0000a8" stroke-width="1.2"/>
<rect x="1446.2" y="103.8" width="1.3" height="21" fill="#0000a8"/>
<rect x="1454.9" y="108.3" width="0.6" height="12" fill="#0000a8"/>
<line x1="1525.9" y1="114.3" x2="1558.5" y2="114.3" stroke="#0000a8" stroke-width="1.2"/>
<rect x="1525.6" y="103.8" width="1.1" height="21" fill="#0000a8"/>
<rect x="1528.5" y="103.8" width="1.1" height="21" fill="#0000a8"/>
<rect x="1533.9" y="103.8" width="1.1" height="21" fill="#0000a8"/>
<rect x="1535.4" y="103.8" width="1.1" height="21" fill="#0000a8"/>
<rect x="1536.9" y="103.8" width="1.1" height="21" fill="#0000a8"/>
<rect x="1539.1" y="103.8" width="1.1" height="21" fill="#0000a8"/>
<rect x="1542" y="103.8" width="1.1" height="21" fill="#0000a8"/>
<rect x="1544.4" y="103.8" width="1.1" height="21" fill="#0000a8"/>
<rect x="1546.2" y="103.8" width="1.1" height="21" fill="#0000a8"/>
<rect x="1548.6" y="103.8" width="1.1" height="21" fill="#0000a8"/>
<rect x="1551.5" y="103.8" width="1.1" height="21" fill="#0000a8"/>
<rect x="1553.5" y="103.8" width="1.1" height="21" fill="#0000a8"/>
<rect x="1555.5" y="103.8" width="1.1" height="21" fill="#0000a8"/>
<rect x="1557.9" y="103.8" width="1.1" height="21" fill="#0000a8"/>
<rect x="1533" y="103.8" width="5.5" height="21" fill="#0000a8"/>
<line x1="1573.1" y1="114.3" x2="1579.7" y2="114.3" stroke="#0000a8" stroke-width="1.2"/>
<rect x="1572.9" y="103.8" width="1" height="21" fill="#0000a8"/>
<rect x="1576.3" y="103.8" width="1.8" height="21" fill="#0000a8"/>
<rect x="1578" y="108.3" width="1.8" height="12" fill="#0000a8"/>
<line x1="1658" y1="114.3" x2="1716.2" y2="114.3" stroke="#0000a8" stroke-width="1.2"/>
<rect x="1658" y="103.8" width="1" height="21" fill="#0000a8"/>
<rect x="1659.4" y="103.8" width="1" height="21" fill="#0000a8"/>
<rect x="1660.8" y="103.8" width="1" height="21" fill="#0000a8"/>
<rect x="1662.3" y="103.8" width="1" height="21" fill="#0000a8"/>
<rect x="1663.7" y="103.8" width="1" height="21" fill="#0000a8"/>
<rect x="1665.1" y="103.8" width="1" height="21" fill="#0000a8"/>
<rect x="1666.6" y="103.8" width="1" height="21" fill="#0000a8"/>
<rect x="1668.5" y="103.8" width="1" height="21" fill="#0000a8"/>
<rect x="1676.1" y="103.8" width="1" height="21" fill="#0000a8"/>
<rect x="1678" y="103.8" width="1" height="21" fill="#0000a8"/>
<rect x="1679.4" y="103.8" width="1" height="21" fill="#0000a8"/>
<rect x="1681.8" y="103.8" width="1" height="21" fill="#0000a8"/>
<rect x="1683.7" y="103.8" width="1" height="21" fill="#0000a8"/>
<rect x="1685.6" y="103.8" width="1" height="21" fill="#0000a8"/>
<rect x="1690.3" y="103.8" width="1" height="21" fill="#0000a8"/>
<rect x="1692.2" y="103.8" width="1" height="21" fill="#0000a8"/>
<rect x="1698.9" y="103.8" width="1" height="21" fill="#0000a8"/>
<rect x="1701.7" y="103.8" width="1" height="21" fill="#0000a8"/>
<rect x="1703.6" y="103.8" width="1" height="21" fill="#0000a8"/>
<rect x="1705.5" y="103.8" width="1" height="21" fill="#0000a8"/>
<rect x="1707" y="103.8" width="1" height="21" fill="#0000a8"/>
<rect x="1708.4" y="103.8" width="1" height="21" fill="#0000a8"/>
<rect x="1710.8" y="103.8" width="1" height="21" fill="#0000a8"/>
<rect x="1715" y="103.8" width="1" height="21" fill="#0000a8"/>
<line x1="1757.8" y1="114.3" x2="1770.2" y2="114.3" stroke="#0000a8" stroke-width="1.2"/>
<rect x="1757.8" y="103.8" width="1" height="21" fill="#0000a8"/>
<rect x="1760.2" y="103.8" width="1" height="21" fill="#0000a8"/>
<rect x="1762.1" y="103.8" width="1" height="21" fill="#0000a8"/>
<rect x="1764" y="103.8" width="1" height="21" fill="#0000a8"/>
<rect x="1765.4" y="103.8" width="1" height="21" fill="#0000a8"/>
<rect x="1767.3" y="103.8" width="1" height="21" fill="#0000a8"/>
<rect x="1769.2" y="103.8" width="1" height="21" fill="#0000a8"/>
<line x1="1874.3" y1="114.3" x2="1892.1" y2="114.3" stroke="#0000a8" stroke-width="1.2"/>
<rect x="1878" y="103.8" width="1.1" height="21" fill="#0000a8"/>
<rect x="1883.7" y="103.8" width="1.1" height="21" fill="#0000a8"/>
<rect x="1885.6" y="103.8" width="1.1" height="21" fill="#0000a8"/>
<rect x="1887.5" y="103.8" width="1.1" height="21" fill="#0000a8"/>
<rect x="1888.9" y="103.8" width="1.1" height="21" fill="#0000a8"/>
<rect x="1891.1" y="103.8" width="1.1" height="21" fill="#0000a8"/>
<line x1="1920.6" y1="114.3" x2="2072.7" y2="114.3" stroke="#0000a8" stroke-width="1.2"/>
<rect x="1920.3" y="103.8" width="1.2" height="21" fill="#0000a8"/>
<rect x="1936.4" y="103.8" width="1.2" height="21" fill="#0000a8"/>
<rect x="1965.9" y="103.8" width="1.2" height="21" fill="#0000a8"/>
<rect x="2001.5" y="103.8" width="1.2" height="21" fill="#0000a8"/>
<rect x="2009.1" y="103.8" width="1.2" height="21" fill="#0000a8"/>
<rect x="2011" y="103.8" width="1.2" height="21" fill="#0000a8"/>
<rect x="2012.7" y="103.8" width="1.2" height="21" fill="#0000a8"/>
<rect x="2023.9" y="103.8" width="1.2" height="21" fill="#0000a8"/>
<rect x="2034.8" y="103.8" width="1.2" height="21" fill="#0000a8"/>
<path d="M1934.7 112.3L1933.2 114.3L1934.7 116.3" fill="none" stroke="#0000a8" stroke-width="0.7"/>
<path d="M1950.6 112.3L1949.1 114.3L1950.6 116.3" fill="none" stroke="#0000a8" stroke-width="0.7"/>
<path d="M1979.2 112.3L1977.7 114.3L1979.2 116.3" fill="none" stroke="#0000a8" stroke-width="0.7"/>
<path d="M2000.5 112.3L1999 114.3L2000.5 116.3" fill="none" stroke="#0000a8" stroke-width="0.7"/>
<path d="M2046.9 112.3L2045.4 114.3L2046.9 116.3" fill="none" stroke="#0000a8" stroke-width="0.7"/>
<path d="M2068.3 112.3L2066.8 114.3L2068.3 116.3" fill="none" stroke="#0000a8" stroke-width="0.7"/>
<text transform="translate(1224,59.4) scale(1.057,1)" font-size="26.5" font-style="italic">Capn5</text>
<text transform="translate(1332,59.4) scale(1.057,1)" font-size="26.5" font-style="italic">Acer3</text>
<text transform="translate(1501.5,59.4) scale(1.057,1)" font-size="26.5" font-style="italic">Gucy2d</text>
<text transform="translate(1650.5,59.4) scale(1.057,1)" font-size="26.5" font-style="italic">Emsy</text>
<text transform="translate(1842,59.4) scale(1.057,1)" font-size="26.5" font-style="italic">Wnt11</text>
<text transform="translate(1164,90.5) scale(1.057,1)" font-size="26.5" font-style="italic">Myo7a</text>
<text transform="translate(1265,90.5) scale(1.057,1)" font-size="26.5" font-style="italic">B3gnt6</text>
<text transform="translate(1402,90.5) scale(1.057,1)" font-size="26.5" font-style="italic">Tsku</text>
<text transform="translate(1547.5,90.5) scale(1.057,1)" font-size="26.5" font-style="italic">Lrrc32</text>
<text transform="translate(1726.5,90.5) scale(1.057,1)" font-size="26.5" font-style="italic">Prkrir</text>
<text transform="translate(1960.5,90.5) scale(1.057,1)" font-size="26.5" font-style="italic">Uvrag</text>
<line x1="1633.9" y1="96.5" x2="1633.9" y2="880.5" stroke="#b2b2b2" stroke-width="1.4"/>
<line x1="1175.3" y1="167.9" x2="2071.8" y2="167.9" stroke="#b8b8b8" stroke-width="1.3"/>
<line x1="1175.3" y1="256.8" x2="2071.8" y2="256.8" stroke="#a8a8a8" stroke-width="1.3"/>
<line x1="1175.3" y1="345.8" x2="2071.8" y2="345.8" stroke="#a8a8a8" stroke-width="1.3"/>
<line x1="1175.3" y1="434.7" x2="2071.8" y2="434.7" stroke="#a8a8a8" stroke-width="1.3"/>
<line x1="1175.3" y1="523.6" x2="2071.8" y2="523.6" stroke="#a8a8a8" stroke-width="1.3"/>
<line x1="1175.3" y1="612.6" x2="2071.8" y2="612.6" stroke="#a8a8a8" stroke-width="1.3"/>
<line x1="1175.3" y1="701.5" x2="2071.8" y2="701.5" stroke="#a8a8a8" stroke-width="1.3"/>
<line x1="1175.3" y1="790.4" x2="2071.8" y2="790.4" stroke="#a8a8a8" stroke-width="1.3"/>
<line x1="1175.3" y1="879.3" x2="2071.8" y2="879.3" stroke="#a8a8a8" stroke-width="1.3"/>
<line x1="1175.3" y1="177.9" x2="1175.3" y2="252.3" stroke="#222" stroke-width="1.3"/>
<path d="M1175.3 168.1L1166.5 183.9L1184.1 183.9Z" fill="#000"/>
<text transform="translate(1188,194.7) scale(1.11,1)" font-size="25.8">5.5</text>
<line x1="1175.3" y1="266.8" x2="1175.3" y2="341.3" stroke="#222" stroke-width="1.3"/>
<path d="M1175.3 257L1166.5 272.8L1184.1 272.8Z" fill="#000"/>
<text transform="translate(1188,283.6) scale(1.11,1)" font-size="25.8">5.5</text>
<line x1="1175.3" y1="355.8" x2="1175.3" y2="430.2" stroke="#222" stroke-width="1.3"/>
<path d="M1175.3 346L1166.5 361.8L1184.1 361.8Z" fill="#000"/>
<text transform="translate(1188,372.6) scale(1.11,1)" font-size="25.8">5.5</text>
<line x1="1175.3" y1="444.7" x2="1175.3" y2="519.1" stroke="#222" stroke-width="1.3"/>
<path d="M1175.3 434.9L1166.5 450.7L1184.1 450.7Z" fill="#000"/>
<text transform="translate(1188,461.5) scale(1.11,1)" font-size="25.8">5.5</text>
<line x1="1175.3" y1="533.6" x2="1175.3" y2="608.1" stroke="#222" stroke-width="1.3"/>
<path d="M1175.3 523.8L1166.5 539.6L1184.1 539.6Z" fill="#000"/>
<text transform="translate(1189.5,551.4) scale(0.97,1)" font-size="25.8">1.1</text>
<line x1="1175.3" y1="622.6" x2="1175.3" y2="697" stroke="#222" stroke-width="1.3"/>
<path d="M1175.3 612.8L1166.5 628.6L1184.1 628.6Z" fill="#000"/>
<text transform="translate(1189.5,640.4) scale(0.97,1)" font-size="25.8">1.1</text>
<line x1="1175.3" y1="711.5" x2="1175.3" y2="785.9" stroke="#222" stroke-width="1.3"/>
<path d="M1175.3 701.7L1166.5 717.5L1184.1 717.5Z" fill="#000"/>
<text transform="translate(1189.5,729.3) scale(0.97,1)" font-size="25.8">1.1</text>
<line x1="1175.3" y1="800.4" x2="1175.3" y2="874.8" stroke="#222" stroke-width="1.3"/>
<path d="M1175.3 790.6L1166.5 806.4L1184.1 806.4Z" fill="#000"/>
<text transform="translate(1189.5,818.2) scale(0.97,1)" font-size="25.8">1.1</text>
<path d="M1180.3 256.5L1180.9 254.9L1181.1 253.5h0.6L1181.8 254.9L1182.4 256.5ZM1216.8 256.5L1217.6 252.9L1217.8 249.9h0.6L1218.5 252.9L1219.3 256.5ZM1270 256.5v-2h1.2v2ZM1295.4 256.5v-2h1.2v2ZM1298 256.5v-2h1.2v2ZM1325.2 256.5L1325.8 254.3L1326 252.5h0.6L1326.7 254.3L1327.4 256.5ZM1327.1 256.5v-2h1.2v2ZM1335.2 256.5v-2h1.2v2ZM1351.7 256.5v-2h1.2v2ZM1356.5 256.5v-2h1.2v2ZM1360 256.5v-2.5h1.2v2.5ZM1363.6 256.5v-2h1.2v2ZM1366.7 256.5L1367.3 254.9L1367.4 253.5h0.6L1368.2 254.9L1368.8 256.5ZM1370.2 256.5L1371.1 252.1L1371.2 248.5h0.6L1372 252.1L1372.8 256.5ZM1384.4 256.5L1385 254.9L1385.2 253.5h0.6L1385.9 254.9L1386.5 256.5ZM1396.3 256.5v-2h1.2v2ZM1408 256.5L1408.7 254.1L1408.9 252h0.6L1409.6 254.1L1410.3 256.5ZM1466.6 256.5L1467.2 254.9L1467.4 253.5h0.6L1468.1 254.9L1468.7 256.5ZM1537.5 256.5L1538.2 253.8L1538.4 251.5h0.6L1539.1 253.8L1539.8 256.5ZM1545.9 256.5L1546.5 254.9L1546.7 253.5h0.6L1547.4 254.9L1548 256.5ZM1633.5 256.5v-2h1.2v2ZM1646.6 256.5v-2h1.2v2ZM1652.1 256.5L1652.7 254.9L1652.9 253.5h0.6L1653.6 254.9L1654.2 256.5ZM1654.4 256.5L1655.1 254.3L1655.2 252.5h0.6L1656 254.3L1656.6 256.5ZM1656.8 256.5L1657.4 254.3L1657.6 252.5h0.6L1658.3 254.3L1659 256.5ZM1658.6 256.5L1659.3 253.8L1659.5 251.5h0.6L1660.2 253.8L1660.9 256.5ZM1660 256.5L1661 251L1661.1 246.5h0.6L1661.9 251L1662.8 256.5ZM1661.9 256.5L1662.6 253.8L1662.8 251.5h0.6L1663.5 253.8L1664.2 256.5ZM1665.3 256.5L1666.4 247.7L1666.6 240.5h0.6L1667.3 247.7L1668.5 256.5ZM1673.7 256.5L1674.7 249.9L1674.9 244.5h0.6L1675.6 249.9L1676.7 256.5ZM1678.4 256.5L1679.2 252.1L1679.4 248.5h0.6L1680.1 252.1L1681 256.5ZM1681.3 256.5L1682.3 250.5L1682.5 245.5h0.6L1683.2 250.5L1684.2 256.5ZM1684 256.5L1684.7 253.8L1684.8 251.5h0.6L1685.6 253.8L1686.3 256.5ZM1688.8 256.5L1689.4 254.9L1689.6 253.5h0.6L1690.3 254.9L1690.9 256.5ZM1691.2 256.5L1691.8 254.9L1691.9 253.5h0.6L1692.7 254.9L1693.3 256.5ZM1698.7 256.5L1699.6 252.1L1699.7 248.5h0.6L1700.5 252.1L1701.3 256.5ZM1701.1 256.5L1702 252.1L1702.1 248.5h0.6L1702.9 252.1L1703.7 256.5ZM1707 256.5L1707.6 254.3L1707.8 252.5h0.6L1708.5 254.3L1709.2 256.5ZM1713.7 256.5L1714.3 254.9L1714.4 253.5h0.6L1715.2 254.9L1715.8 256.5ZM1716.1 256.5L1717.1 250.5L1717.3 245.5h0.6L1718 250.5L1719 256.5ZM1737.8 256.5v-2h1.2v2ZM1741.4 256.5v-2h1.2v2ZM1746.8 256.5L1747.4 254.3L1747.6 252.5h0.6L1748.3 254.3L1749 256.5ZM1748 256.5L1748.6 254.9L1748.8 253.5h0.6L1749.5 254.9L1750.1 256.5ZM1756.1 256.5L1756.9 253.2L1757 250.5h0.6L1757.8 253.2L1758.5 256.5ZM1759.3 256.5L1760.4 248.8L1760.6 242.5h0.6L1761.3 248.8L1762.5 256.5ZM1763.3 256.5L1764 253.8L1764.1 251.5h0.6L1764.9 253.8L1765.6 256.5ZM1767.6 256.5L1768.7 247.7L1768.9 240.5h0.6L1769.6 247.7L1770.8 256.5ZM1769.5 256.5L1770.2 253.8L1770.3 251.5h0.6L1771.1 253.8L1771.8 256.5ZM1774.5 256.5L1775.1 254.9L1775.3 253.5h0.6L1776 254.9L1776.6 256.5ZM1807.1 256.5L1808 251L1808.2 246.5h0.6L1808.9 251L1809.9 256.5ZM1857 256.5L1857.8 253.2L1857.9 250.5h0.6L1858.7 253.2L1859.4 256.5ZM1864 256.5L1864.6 254.9L1864.8 253.5h0.6L1865.5 254.9L1866.1 256.5ZM1908.3 256.5v-2h1.2v2ZM1916.8 256.5L1917.4 254.9L1917.6 253.5h0.6L1918.3 254.9L1918.9 256.5ZM1919.1 256.5L1920.3 248.8L1920.4 242.5h0.6L1921.2 248.8L1922.3 256.5ZM1920.4 256.5L1921.2 252.1L1921.4 248.5h0.6L1922.1 252.1L1923 256.5ZM1924.9 256.5v-2h1.2v2ZM1931.9 256.5L1932.6 253.8L1932.7 251.5h0.6L1933.5 253.8L1934.2 256.5ZM1933.3 256.5L1934 253.8L1934.2 251.5h0.6L1934.9 253.8L1935.6 256.5ZM1934.7 256.5L1935.7 251L1935.8 246.5h0.6L1936.6 251L1937.5 256.5ZM1937.3 256.5L1938 253.8L1938.2 251.5h0.6L1938.9 253.8L1939.6 256.5ZM1943.4 256.5L1944 254.9L1944.1 253.5h0.6L1944.9 254.9L1945.5 256.5ZM1945.7 256.5L1946.3 254.9L1946.5 253.5h0.6L1947.2 254.9L1947.8 256.5ZM1952.8 256.5L1953.4 254.3L1953.6 252.5h0.6L1954.3 254.3L1955 256.5ZM1955.1 256.5L1955.8 253.8L1956 251.5h0.6L1956.7 253.8L1957.4 256.5ZM1957.5 256.5L1958.2 254.3L1958.3 252.5h0.6L1959.1 254.3L1959.7 256.5ZM1959.8 256.5L1960.5 253.8L1960.7 251.5h0.6L1961.4 253.8L1962.1 256.5ZM1962.3 256.5L1962.9 254.9L1963.1 253.5h0.6L1963.8 254.9L1964.4 256.5ZM1965.7 256.5L1966.7 251L1966.8 246.5h0.6L1967.6 251L1968.5 256.5ZM1967.5 256.5L1968.1 254.3L1968.3 252.5h0.6L1969 254.3L1969.7 256.5ZM1972.2 256.5v-2h1.2v2ZM1978.1 256.5v-2h1.2v2ZM1985.3 256.5v-2h1.2v2ZM1991.2 256.5v-2h1.2v2ZM1997.8 256.5L1998.4 254.9L1998.6 253.5h0.6L1999.3 254.9L1999.9 256.5ZM2000.7 256.5L2001.3 254.9L2001.4 253.5h0.6L2002.2 254.9L2002.8 256.5ZM2003.7 256.5L2004.3 254.3L2004.5 252.5h0.6L2005.2 254.3L2005.9 256.5ZM2006.1 256.5L2006.7 254.3L2006.9 252.5h0.6L2007.6 254.3L2008.3 256.5ZM2009 256.5L2009.8 252.7L2009.9 249.5h0.6L2010.7 252.7L2011.5 256.5ZM2011.7 256.5L2012.9 247.2L2013 239.5h0.6L2013.8 247.2L2014.9 256.5ZM2014.4 256.5L2015 254.3L2015.2 252.5h0.6L2015.9 254.3L2016.6 256.5ZM2016.7 256.5L2017.4 254.3L2017.5 252.5h0.6L2018.3 254.3L2018.9 256.5ZM2023.2 256.5L2024 252.7L2024.2 249.5h0.6L2024.9 252.7L2025.7 256.5ZM2029.8 256.5L2030.4 254.9L2030.5 253.5h0.6L2031.3 254.9L2031.9 256.5ZM2032.2 256.5L2032.8 254.9L2032.9 253.5h0.6L2033.7 254.9L2034.3 256.5ZM2034.5 256.5L2035.1 254.9L2035.3 253.5h0.6L2036 254.9L2036.6 256.5ZM2048 256.5v-2h1.2v2ZM2052.3 256.5L2052.9 254.9L2053 253.5h0.6L2053.8 254.9L2054.4 256.5ZM2058.7 256.5v-2h1.2v2ZM2061.3 256.5L2061.9 254.9L2062 253.5h0.6L2062.8 254.9L2063.4 256.5ZM1193.1 256.5v-1.5h1.2v1.5ZM1547.1 256.5v-1.5h1.2v1.5Z" fill="#e01010" stroke="#e01010" stroke-width="0.35"/>
<path d="M1180.8 345.5v-1h1.2v1ZM1191.9 345.5v-1h1.2v1ZM1216.9 345.5L1217.6 342.7L1217.8 340.5h0.6L1218.5 342.7L1219.2 345.5ZM1248.7 345.5v-1h1.2v1ZM1325.2 345.5L1325.8 343.3L1326 341.5h0.6L1326.7 343.3L1327.4 345.5ZM1331.6 345.5v-2h1.2v2ZM1335.2 345.5v-2h1.2v2ZM1354.8 345.5L1355.4 343.8L1355.6 342.5h0.6L1356.3 343.8L1356.9 345.5ZM1361.9 345.5L1362.5 343.3L1362.7 341.5h0.6L1363.4 343.3L1364.1 345.5ZM1363.5 345.5L1364.2 342.7L1364.3 340.5h0.6L1365.1 342.7L1365.8 345.5ZM1365.4 345.5L1366.1 343.3L1366.2 341.5h0.6L1367 343.3L1367.6 345.5ZM1370.2 345.5L1370.8 343.8L1371 342.5h0.6L1371.7 343.8L1372.3 345.5ZM1393.9 345.5L1394.5 343.8L1394.7 342.5h0.6L1395.4 343.8L1396 345.5ZM1395.5 345.5v-2h1.2v2ZM1408.1 345.5L1408.7 343.8L1408.9 342.5h0.6L1409.6 343.8L1410.2 345.5ZM1415.9 345.5L1416.5 343.8L1416.7 342.5h0.6L1417.4 343.8L1418 345.5ZM1537.1 345.5L1537.8 342.7L1537.9 340.5h0.6L1538.7 342.7L1539.4 345.5ZM1545.9 345.5L1546.5 343.3L1546.7 341.5h0.6L1547.4 343.3L1548.1 345.5ZM1622.2 345.5v-1h1.2v1ZM1654.9 345.5v-2h1.2v2ZM1656.8 345.5L1657.4 343.8L1657.6 342.5h0.6L1658.3 343.8L1658.9 345.5ZM1659.2 345.5L1659.8 343.8L1660 342.5h0.6L1660.7 343.8L1661.3 345.5ZM1660.9 345.5L1661.7 341.6L1661.9 338.5h0.6L1662.6 341.6L1663.4 345.5ZM1665.5 345.5L1666.4 340L1666.6 335.5h0.6L1667.3 340L1668.3 345.5ZM1667.4 345.5L1668.1 342.7L1668.2 340.5h0.6L1669 342.7L1669.7 345.5ZM1674 345.5L1674.7 342.2L1674.9 339.5h0.6L1675.6 342.2L1676.4 345.5ZM1677 345.5L1677.6 343.8L1677.7 342.5h0.6L1678.5 343.8L1679.1 345.5ZM1681.7 345.5L1682.3 343.3L1682.5 341.5h0.6L1683.2 343.3L1683.9 345.5ZM1684 345.5L1684.7 343.3L1684.8 341.5h0.6L1685.6 343.3L1686.2 345.5ZM1689.3 345.5v-2h1.2v2ZM1692.8 345.5v-2h1.2v2ZM1698.9 345.5L1699.6 343.3L1699.7 341.5h0.6L1700.5 343.3L1701.1 345.5ZM1701.7 345.5L1702.4 342.7L1702.6 340.5h0.6L1703.3 342.7L1704 345.5ZM1705.6 345.5L1706.5 341.1L1706.6 337.5h0.6L1707.4 341.1L1708.2 345.5ZM1707.7 345.5L1708.3 343.8L1708.5 342.5h0.6L1709.2 343.8L1709.8 345.5ZM1710.1 345.5L1710.7 343.8L1710.9 342.5h0.6L1711.6 343.8L1712.2 345.5ZM1713.5 345.5L1714.3 341.6L1714.4 338.5h0.6L1715.2 341.6L1716 345.5ZM1715.2 345.5L1716.2 340L1716.3 335.5h0.6L1717.1 340L1718 345.5ZM1717.2 345.5L1717.8 343.3L1718 341.5h0.6L1718.7 343.3L1719.4 345.5ZM1737.2 345.5L1737.9 342.2L1738.1 339.5h0.6L1738.8 342.2L1739.6 345.5ZM1741.4 345.5v-2h1.2v2ZM1744.5 345.5L1745.1 343.8L1745.2 342.5h0.6L1746 343.8L1746.6 345.5ZM1748.5 345.5v-2h1.2v2ZM1755.1 345.5L1755.7 343.3L1755.9 341.5h0.6L1756.6 343.3L1757.3 345.5ZM1757.4 345.5L1758.1 343.3L1758.2 341.5h0.6L1759 343.3L1759.6 345.5ZM1759.7 345.5L1760.7 339.4L1760.8 334.5h0.6L1761.6 339.4L1762.6 345.5ZM1763.3 345.5L1764 343.3L1764.1 341.5h0.6L1764.9 343.3L1765.5 345.5ZM1766.1 345.5L1766.8 342.7L1767 340.5h0.6L1767.7 342.7L1768.4 345.5ZM1767.8 345.5L1768.7 340L1768.9 335.5h0.6L1769.6 340L1770.6 345.5ZM1770.5 345.5L1771.1 343.3L1771.3 341.5h0.6L1772 343.3L1772.7 345.5ZM1788.7 345.5v-2h1.2v2ZM1807.1 345.5L1808 340L1808.2 335.5h0.6L1808.9 340L1809.9 345.5ZM1809.1 345.5L1809.7 343.8L1809.8 342.5h0.6L1810.6 343.8L1811.2 345.5ZM1856.6 345.5L1857.5 340L1857.7 335.5h0.6L1858.4 340L1859.4 345.5ZM1859.2 345.5L1859.9 342.7L1860.1 340.5h0.6L1860.8 342.7L1861.5 345.5ZM1862.1 345.5v-2h1.2v2ZM1868 345.5v-2h1.2v2ZM1916.8 345.5L1917.4 343.8L1917.6 342.5h0.6L1918.3 343.8L1918.9 345.5ZM1919.1 345.5L1920.3 336.7L1920.4 329.5h0.6L1921.2 336.7L1922.3 345.5ZM1921.5 345.5L1922.2 342.7L1922.3 340.5h0.6L1923.1 342.7L1923.8 345.5ZM1925.6 345.5L1926.2 343.3L1926.4 341.5h0.6L1927.1 343.3L1927.8 345.5ZM1929.6 345.5v-2h1.2v2ZM1933.2 345.5v-2h1.2v2ZM1936.7 345.5v-2h1.2v2ZM1947.4 345.5v-2h1.2v2ZM1950.5 345.5L1951.1 343.8L1951.2 342.5h0.6L1952 343.8L1952.6 345.5ZM1954 345.5L1954.6 343.8L1954.8 342.5h0.6L1955.5 343.8L1956.1 345.5ZM1957.9 345.5L1958.6 342.7L1958.8 340.5h0.6L1959.5 342.7L1960.2 345.5ZM1959.9 345.5L1960.5 343.8L1960.7 342.5h0.6L1961.4 343.8L1962 345.5ZM1963.5 345.5L1964.1 343.8L1964.2 342.5h0.6L1965 343.8L1965.6 345.5ZM1965.6 345.5L1966.7 338.3L1966.8 332.5h0.6L1967.6 338.3L1968.7 345.5ZM1968.2 345.5L1968.8 343.8L1969 342.5h0.6L1969.7 343.8L1970.3 345.5ZM1977 345.5v-1.5h1.2v1.5ZM1980.5 345.5v-2h1.2v2ZM1986.4 345.5v-1.5h1.2v1.5ZM1996.6 345.5L1997.2 343.3L1997.4 341.5h0.6L1998.1 343.3L1998.8 345.5ZM1999 345.5L1999.6 343.3L1999.8 341.5h0.6L2000.5 343.3L2001.2 345.5ZM2007.3 345.5L2007.9 343.8L2008 342.5h0.6L2008.8 343.8L2009.4 345.5ZM2010.9 345.5L2011.5 343.8L2011.6 342.5h0.6L2012.4 343.8L2013 345.5ZM2014.4 345.5L2015 343.8L2015.2 342.5h0.6L2015.9 343.8L2016.5 345.5ZM2019.6 345.5v-2h1.2v2ZM2022.9 345.5L2024 338.3L2024.2 332.5h0.6L2024.9 338.3L2026 345.5ZM2032.2 345.5L2032.8 343.8L2032.9 342.5h0.6L2033.7 343.8L2034.3 345.5ZM2048 345.5v-2h1.2v2ZM2051.1 345.5L2051.7 343.8L2051.9 342.5h0.6L2052.6 343.8L2053.2 345.5ZM2056.3 345.5v-2h1.2v2ZM2060.6 345.5L2061.2 343.8L2061.3 342.5h0.6L2062.1 343.8L2062.7 345.5ZM2064.6 345.5L2065.2 343.8L2065.4 342.5h0.6L2066.1 343.8L2066.7 345.5ZM2069.3 345.5v-2h1.2v2Z" fill="#e01010" stroke="#e01010" stroke-width="0.35"/>
<path d="M1183.1 434.4L1183.8 432.2L1183.9 430.4h0.6L1184.7 432.2L1185.3 434.4ZM1216.9 434.4L1217.6 431.1L1217.8 428.4h0.6L1218.5 431.1L1219.3 434.4ZM1246.4 434.4v-2h1.2v2ZM1249.4 434.4v-2h1.2v2ZM1252.3 434.4v-2h1.2v2ZM1292.5 434.4v-1h1.2v1ZM1296.7 434.4L1297.4 431.6L1297.6 429.4h0.6L1298.3 431.6L1299 434.4ZM1298.7 434.4L1299.3 432.7L1299.5 431.4h0.6L1300.2 432.7L1300.8 434.4ZM1300.3 434.4L1301 431.6L1301.1 429.4h0.6L1301.9 431.6L1302.6 434.4ZM1302.5 434.4v-2h1.2v2ZM1427.5 434.4v-2h1.2v2ZM1342.5 434.4L1343.1 432.7L1343.3 431.4h0.6L1344 432.7L1344.6 434.4ZM1361.8 434.4L1362.5 431.6L1362.7 429.4h0.6L1363.4 431.6L1364.1 434.4ZM1363.6 434.4L1364.2 432.7L1364.3 431.4h0.6L1365.1 432.7L1365.7 434.4ZM1365.5 434.4L1366.1 432.7L1366.2 431.4h0.6L1367 432.7L1367.6 434.4ZM1370.1 434.4L1371.1 428.3L1371.2 423.4h0.6L1372 428.3L1373 434.4ZM1372.6 434.4L1373.2 432.7L1373.3 431.4h0.6L1374.1 432.7L1374.7 434.4ZM1389.6 434.4v-1h1.2v1ZM1395.4 434.4L1396.2 431.1L1396.3 428.4h0.6L1397.1 431.1L1397.8 434.4ZM1408 434.4L1408.7 431.1L1408.9 428.4h0.6L1409.6 431.1L1410.4 434.4ZM1534.8 434.4L1535.4 432.7L1535.6 431.4h0.6L1536.3 432.7L1536.9 434.4ZM1536.7 434.4L1537.3 432.7L1537.4 431.4h0.6L1538.2 432.7L1538.8 434.4ZM1538.4 434.4L1539 432.7L1539.1 431.4h0.6L1539.9 432.7L1540.5 434.4ZM1545.9 434.4v-1h1.2v1ZM1551.8 434.4v-1h1.2v1ZM1560.1 434.4v-2h1.2v2ZM1562.5 434.4v-2h1.2v2ZM1564.9 434.4v-2h1.2v2ZM1567.2 434.4v-2h1.2v2ZM1567.4 434.4L1568.6 427L1568.7 420.9h0.6L1569.5 427L1570.6 434.4ZM1571.7 434.4L1572.8 424.5L1573 416.4h0.6L1573.7 424.5L1574.9 434.4ZM1587.3 434.4v-1h1.2v1ZM1600.4 434.4v-2h1.2v2ZM1603.9 434.4v-2h1.2v2ZM1607.5 434.4v-2h1.2v2ZM1615.2 434.4L1615.9 431.1L1616.1 428.4h0.6L1616.8 431.1L1617.6 434.4ZM1617.7 434.4L1618.3 432.7L1618.4 431.4h0.6L1619.2 432.7L1619.8 434.4ZM1620.5 434.4v-2h1.2v2ZM1622.9 434.4v-2h1.2v2ZM1624.8 434.4L1625.4 432.7L1625.5 431.4h0.6L1626.3 432.7L1626.9 434.4ZM1627.6 434.4v-2h1.2v2ZM1629.5 434.4L1630.1 432.7L1630.3 431.4h0.6L1631 432.7L1631.6 434.4ZM1632.2 434.4L1633.2 428.3L1633.4 423.4h0.6L1634.1 428.3L1635.1 434.4ZM1634.5 434.4L1635.1 432.7L1635.2 431.4h0.6L1636 432.7L1636.6 434.4ZM1645.4 434.4v-2h1.2v2ZM1647.7 434.4v-2h1.2v2ZM1646.6 434.4v-2h1.2v2ZM1649 434.4v-2h1.2v2ZM1651.4 434.4v-2h1.2v2ZM1654.5 434.4L1655.1 432.7L1655.2 431.4h0.6L1656 432.7L1656.6 434.4ZM1656.7 434.4L1657.4 431.1L1657.6 428.4h0.6L1658.3 431.1L1659.1 434.4ZM1659.1 434.4L1659.8 431.1L1660 428.4h0.6L1660.7 431.1L1661.5 434.4ZM1660.1 434.4L1661 429.4L1661.1 425.4h0.6L1661.9 429.4L1662.8 434.4ZM1665.3 434.4L1666.4 426.7L1666.6 420.4h0.6L1667.3 426.7L1668.5 434.4ZM1674.5 434.4L1675.2 431.6L1675.3 429.4h0.6L1676.1 431.6L1676.8 434.4ZM1676.8 434.4L1677.6 430.5L1677.7 427.4h0.6L1678.5 430.5L1679.3 434.4ZM1679.9 434.4L1680.6 431.1L1680.8 428.4h0.6L1681.5 431.1L1682.3 434.4ZM1681.2 434.4L1682.3 424.5L1682.5 416.4h0.6L1683.2 424.5L1684.4 434.4ZM1682.4 434.4L1683.5 427.8L1683.6 422.4h0.6L1684.4 427.8L1685.4 434.4ZM1683.5 434.4L1684.7 425L1684.8 417.4h0.6L1685.6 425L1686.7 434.4ZM1688.8 434.4L1689.4 432.2L1689.6 430.4h0.6L1690.3 432.2L1691 434.4ZM1692.4 434.4L1693 432.7L1693.1 431.4h0.6L1693.9 432.7L1694.5 434.4ZM1698.5 434.4L1699.6 427.8L1699.7 422.4h0.6L1700.5 427.8L1701.5 434.4ZM1701.3 434.4L1702.4 427.2L1702.6 421.4h0.6L1703.3 427.2L1704.4 434.4ZM1705.7 434.4L1706.5 430.5L1706.6 427.4h0.6L1707.4 430.5L1708.2 434.4ZM1708.9 434.4L1709.5 432.7L1709.7 431.4h0.6L1710.4 432.7L1711 434.4ZM1713.5 434.4L1714.3 431.1L1714.4 428.4h0.6L1715.2 431.1L1715.9 434.4ZM1714.9 434.4L1715.7 431.1L1715.8 428.4h0.6L1716.6 431.1L1717.3 434.4ZM1716.2 434.4L1717.1 429.4L1717.3 425.4h0.6L1718 429.4L1718.9 434.4ZM1741.4 434.4v-2h1.2v2ZM1746.8 434.4L1747.4 432.7L1747.6 431.4h0.6L1748.3 432.7L1748.9 434.4ZM1749.1 434.4L1749.8 432.2L1749.9 430.4h0.6L1750.7 432.2L1751.3 434.4ZM1751.6 434.4L1752.2 432.7L1752.3 431.4h0.6L1753.1 432.7L1753.7 434.4ZM1753.9 434.4L1754.5 432.2L1754.7 430.4h0.6L1755.4 432.2L1756.1 434.4ZM1756.2 434.4L1756.9 431.6L1757 429.4h0.6L1757.8 431.6L1758.5 434.4ZM1758.6 434.4L1759.3 431.6L1759.4 429.4h0.6L1760.2 431.6L1760.9 434.4ZM1759.7 434.4L1760.7 428.9L1760.8 424.4h0.6L1761.6 428.9L1762.5 434.4ZM1761.9 434.4L1762.8 428.9L1763 424.4h0.6L1763.7 428.9L1764.7 434.4ZM1767.6 434.4L1768.7 423.9L1768.9 415.4h0.6L1769.6 423.9L1770.8 434.4ZM1770.5 434.4L1771.1 432.2L1771.3 430.4h0.6L1772 432.2L1772.7 434.4ZM1775 434.4v-2h1.2v2ZM1807.3 434.4L1808 431.6L1808.2 429.4h0.6L1808.9 431.6L1809.6 434.4ZM1908.3 434.4v-2h1.2v2ZM1917.4 434.4L1918.4 428.9L1918.5 424.4h0.6L1919.3 428.9L1920.2 434.4ZM1918.7 434.4L1919.8 425.6L1920 418.4h0.6L1920.7 425.6L1921.9 434.4ZM1920.2 434.4L1921.2 427.8L1921.4 422.4h0.6L1922.1 427.8L1923.2 434.4ZM1924.9 434.4v-2h1.2v2ZM1927.2 434.4v-2h1.2v2ZM1929.6 434.4v-2h1.2v2ZM1932.7 434.4L1933.3 432.2L1933.5 430.4h0.6L1934.2 432.2L1934.9 434.4ZM1934.3 434.4L1935 431.6L1935.1 429.4h0.6L1935.9 431.6L1936.6 434.4ZM1935.8 434.4L1936.9 427.8L1937 422.4h0.6L1937.8 427.8L1938.8 434.4ZM1938.6 434.4L1939.2 432.2L1939.4 430.4h0.6L1940.1 432.2L1940.8 434.4ZM1943.8 434.4v-2h1.2v2ZM1946.2 434.4v-2h1.2v2ZM1953.1 434.4L1953.9 430.5L1954.1 427.4h0.6L1954.8 430.5L1955.6 434.4ZM1955.2 434.4L1955.8 432.7L1956 431.4h0.6L1956.7 432.7L1957.3 434.4ZM1957.6 434.4L1958.2 432.7L1958.3 431.4h0.6L1959.1 432.7L1959.7 434.4ZM1959.9 434.4L1960.5 432.7L1960.7 431.4h0.6L1961.4 432.7L1962 434.4ZM1962.8 434.4v-2h1.2v2ZM1965.7 434.4L1966.7 428.3L1966.8 423.4h0.6L1967.6 428.3L1968.6 434.4ZM1968.7 434.4v-2h1.2v2ZM1978.1 434.4v-2h1.2v2ZM1985.3 434.4v-2h1.2v2ZM1991.2 434.4v-2h1.2v2ZM2000.6 434.4v-2h1.2v2ZM2007.2 434.4L2007.9 432.2L2008 430.4h0.6L2008.8 432.2L2009.4 434.4ZM2009.6 434.4L2010.3 432.2L2010.4 430.4h0.6L2011.2 432.2L2011.8 434.4ZM2010.8 434.4L2011.5 432.2L2011.6 430.4h0.6L2012.4 432.2L2013 434.4ZM2011.8 434.4L2012.6 430.5L2012.8 427.4h0.6L2013.5 430.5L2014.3 434.4ZM2014.4 434.4L2015 432.7L2015.2 431.4h0.6L2015.9 432.7L2016.5 434.4ZM2019.6 434.4v-2h1.2v2ZM2023.2 434.4L2024 430.5L2024.2 427.4h0.6L2024.9 430.5L2025.7 434.4ZM2033.3 434.4L2033.9 432.7L2034.1 431.4h0.6L2034.8 432.7L2035.4 434.4ZM2046.9 434.4L2047.7 431.1L2047.8 428.4h0.6L2048.6 431.1L2049.3 434.4ZM2055.1 434.4v-2h1.2v2ZM2058.7 434.4v-2h1.2v2ZM2062.2 434.4v-2h1.2v2ZM2068.1 434.4v-2h1.2v2ZM2070.5 434.4v-2h1.2v2ZM1313.8 434.4v-1.5h1.2v1.5ZM1316 434.4v-2h1.2v2ZM1318.1 434.4v-2.5h1.2v2.5ZM1320.2 434.4v-1.5h1.2v1.5ZM1322.4 434.4v-2h1.2v2ZM1324.5 434.4v-2.5h1.2v2.5ZM1326.6 434.4v-1.5h1.2v1.5ZM1328.8 434.4v-2h1.2v2ZM1330.9 434.4v-2.5h1.2v2.5ZM1333 434.4v-1.5h1.2v1.5ZM1335.2 434.4v-2h1.2v2ZM1337.3 434.4v-2.5h1.2v2.5ZM1350.6 434.4v-1.5h1.2v1.5ZM1352.9 434.4v-1.5h1.2v1.5ZM1355.3 434.4v-1.5h1.2v1.5ZM1357.7 434.4v-1.5h1.2v1.5Z" fill="#e01010" stroke="#e01010" stroke-width="0.35"/>
<path d="M1180.1 523.3v-2h1.2v2ZM1216.8 523.3L1217.6 518.9L1217.8 515.3h0.6L1218.5 518.9L1219.4 523.3ZM1232.2 523.3v-1h1.2v1ZM1242.8 523.3v-2h1.2v2ZM1251.8 523.3v-2h1.2v2ZM1269.3 523.3v-2h1.2v2ZM1294.9 523.3v-2h1.2v2ZM1298 523.3v-2h1.2v2ZM1300.8 523.3v-2h1.2v2ZM1324.1 523.3L1324.7 521.7L1324.8 520.3h0.6L1325.6 521.7L1326.2 523.3ZM1325.7 523.3L1326.3 521.7L1326.5 520.3h0.6L1327.2 521.7L1327.8 523.3ZM1327.6 523.3L1328.2 521.7L1328.4 520.3h0.6L1329.1 521.7L1329.7 523.3ZM1331.6 523.3v-2h1.2v2ZM1334.7 523.3v-2h1.2v2ZM1337.5 523.3v-2h1.2v2ZM1343.4 523.3v-1.5h1.2v1.5ZM1350.6 523.3v-1.5h1.2v1.5ZM1356.5 523.3v-2h1.2v2ZM1361.2 523.3v-2h1.2v2ZM1364.8 523.3v-2h1.2v2ZM1370.2 523.3v-2h1.2v2ZM1389.6 523.3v-1h1.2v1ZM1396.3 523.3v-1h1.2v1ZM1408.1 523.3L1408.7 521.1L1408.9 519.3h0.6L1409.6 521.1L1410.3 523.3ZM1457.1 523.3v-2h1.2v2ZM1537.2 523.3L1537.8 521.7L1537.9 520.3h0.6L1538.7 521.7L1539.3 523.3ZM1569.6 523.3v-2h1.2v2ZM1572 523.3v-2h1.2v2ZM1575.1 523.3L1575.7 521.7L1575.8 520.3h0.6L1576.6 521.7L1577.2 523.3ZM1576.6 523.3L1577.3 520.6L1577.5 518.3h0.6L1578.2 520.6L1578.9 523.3ZM1578.6 523.3L1579.2 521.7L1579.4 520.3h0.6L1580.1 521.7L1580.7 523.3ZM1580.7 523.3v-2h1.2v2ZM1647.8 523.3v-2h1.2v2ZM1654.5 523.3L1655.1 521.7L1655.2 520.3h0.6L1656 521.7L1656.6 523.3ZM1656.8 523.3L1657.4 521.7L1657.6 520.3h0.6L1658.3 521.7L1658.9 523.3ZM1659.2 523.3L1659.8 521.7L1660 520.3h0.6L1660.7 521.7L1661.3 523.3ZM1659.8 523.3L1661 515.1L1661.1 508.3h0.6L1661.9 515.1L1663 523.3ZM1661.9 523.3L1662.6 520.6L1662.8 518.3h0.6L1663.5 520.6L1664.2 523.3ZM1665.6 523.3L1666.4 518.9L1666.6 515.3h0.6L1667.3 518.9L1668.2 523.3ZM1667.5 523.3L1668.1 521.7L1668.2 520.3h0.6L1669 521.7L1669.6 523.3ZM1673.8 523.3L1674.7 518.4L1674.9 514.3h0.6L1675.6 518.4L1676.5 523.3ZM1676.7 523.3L1677.6 518.9L1677.7 515.3h0.6L1678.5 518.9L1679.3 523.3ZM1679.7 523.3L1680.6 518.4L1680.8 514.3h0.6L1681.5 518.4L1682.4 523.3ZM1681.2 523.3L1682.3 515.1L1682.5 508.3h0.6L1683.2 515.1L1684.4 523.3ZM1683.5 523.3L1684.7 515.6L1684.8 509.3h0.6L1685.6 515.6L1686.7 523.3ZM1688.5 523.3L1689.4 518.4L1689.6 514.3h0.6L1690.3 518.4L1691.2 523.3ZM1691.1 523.3L1691.8 520.6L1691.9 518.3h0.6L1692.7 520.6L1693.4 523.3ZM1698.5 523.3L1699.6 516.2L1699.7 510.3h0.6L1700.5 516.2L1701.6 523.3ZM1701.5 523.3L1702.4 518.4L1702.6 514.3h0.6L1703.3 518.4L1704.2 523.3ZM1705.3 523.3L1706.5 514.5L1706.6 507.3h0.6L1707.4 514.5L1708.5 523.3ZM1707.7 523.3L1708.3 521.7L1708.5 520.3h0.6L1709.2 521.7L1709.8 523.3ZM1710.1 523.3L1710.7 521.7L1710.9 520.3h0.6L1711.6 521.7L1712.2 523.3ZM1712.5 523.3L1713.1 521.7L1713.2 520.3h0.6L1714 521.7L1714.6 523.3ZM1713.6 523.3L1714.3 520.6L1714.4 518.3h0.6L1715.2 520.6L1715.9 523.3ZM1716.2 523.3L1717.1 518.4L1717.3 514.3h0.6L1718 518.4L1718.9 523.3ZM1717.9 523.3L1718.5 521.1L1718.7 519.3h0.6L1719.4 521.1L1720.1 523.3ZM1737.3 523.3L1737.9 521.7L1738.1 520.3h0.6L1738.8 521.7L1739.4 523.3ZM1741.4 523.3v-2h1.2v2ZM1744.5 523.3L1745.1 521.7L1745.2 520.3h0.6L1746 521.7L1746.6 523.3ZM1748 523.3L1748.6 521.7L1748.8 520.3h0.6L1749.5 521.7L1750.1 523.3ZM1755.1 523.3L1755.7 521.1L1755.9 519.3h0.6L1756.6 521.1L1757.3 523.3ZM1757.4 523.3L1758.1 521.1L1758.2 519.3h0.6L1759 521.1L1759.6 523.3ZM1759.7 523.3L1760.7 517.8L1760.8 513.3h0.6L1761.6 517.8L1762.5 523.3ZM1763.4 523.3L1764 521.7L1764.1 520.3h0.6L1764.9 521.7L1765.5 523.3ZM1766.7 523.3L1767.5 519.5L1767.7 516.3h0.6L1768.4 519.5L1769.2 523.3ZM1768.3 523.3L1769.2 518.4L1769.4 514.3h0.6L1770.1 518.4L1771 523.3ZM1771.6 523.3L1772.3 521.1L1772.4 519.3h0.6L1773.2 521.1L1773.8 523.3ZM1781.6 523.3v-2h1.2v2ZM1807.3 523.3L1808 520.6L1808.2 518.3h0.6L1808.9 520.6L1809.6 523.3ZM1810 523.3v-2h1.2v2ZM1826.6 523.3v-2h1.2v2ZM1857.4 523.3v-2h1.2v2ZM1868 523.3v-2h1.2v2ZM1916.8 523.3L1917.4 521.7L1917.6 520.3h0.6L1918.3 521.7L1918.9 523.3ZM1918.1 523.3L1919.1 516.7L1919.3 511.3h0.6L1920 516.7L1921.1 523.3ZM1919.1 523.3L1920.3 514L1920.4 506.3h0.6L1921.2 514L1922.3 523.3ZM1920.5 523.3L1921.5 517.8L1921.6 513.3h0.6L1922.4 517.8L1923.3 523.3ZM1924.9 523.3v-2h1.2v2ZM1928.4 523.3v-2h1.2v2ZM1932 523.3v-2h1.2v2ZM1935 523.3L1935.7 521.1L1935.8 519.3h0.6L1936.6 521.1L1937.2 523.3ZM1937.4 523.3L1938 521.7L1938.2 520.3h0.6L1938.9 521.7L1939.5 523.3ZM1941 523.3L1941.6 521.7L1941.7 520.3h0.6L1942.5 521.7L1943.1 523.3ZM1953.2 523.3L1953.9 520L1954.1 517.3h0.6L1954.8 520L1955.6 523.3ZM1955.7 523.3v-2h1.2v2ZM1959.9 523.3L1960.5 521.7L1960.7 520.3h0.6L1961.4 521.7L1962 523.3ZM1963.5 523.3L1964.1 521.7L1964.2 520.3h0.6L1965 521.7L1965.6 523.3ZM1965.7 523.3L1966.7 517.3L1966.8 512.3h0.6L1967.6 517.3L1968.6 523.3ZM1968.7 523.3v-2h1.2v2ZM1971.8 523.3v-2h1.2v2ZM1974.6 523.3v-2h1.2v2ZM1978.1 523.3v-1.5h1.2v1.5ZM1981.7 523.3v-2h1.2v2ZM1986.4 523.3v-1.5h1.2v1.5ZM1991.2 523.3v-2h1.2v2ZM2000.1 523.3L2000.8 521.1L2000.9 519.3h0.6L2001.7 521.1L2002.3 523.3ZM2006.1 523.3L2006.7 521.7L2006.9 520.3h0.6L2007.6 521.7L2008.2 523.3ZM2009.1 523.3L2009.8 520.6L2009.9 518.3h0.6L2010.7 520.6L2011.4 523.3ZM2011.8 523.3L2012.6 519.5L2012.8 516.3h0.6L2013.5 519.5L2014.3 523.3ZM2013.9 523.3L2014.5 521.1L2014.7 519.3h0.6L2015.4 521.1L2016.1 523.3ZM2017.9 523.3L2018.6 521.1L2018.7 519.3h0.6L2019.5 521.1L2020.1 523.3ZM2023.2 523.3L2024 518.9L2024.2 515.3h0.6L2024.9 518.9L2025.8 523.3ZM2031.4 523.3v-2h1.2v2ZM2036.2 523.3v-1.5h1.2v1.5ZM2040.9 523.3v-1.5h1.2v1.5ZM2048 523.3v-2h1.2v2ZM2055.1 523.3v-1.5h1.2v1.5ZM2062.2 523.3v-2h1.2v2ZM2068.1 523.3v-2h1.2v2Z" fill="#e01010" stroke="#e01010" stroke-width="0.35"/>
<path d="M1575.4 434.3L1575.9 386.3L1577.2 372.3L1577.8 359.3L1578.4 374.3L1579.6 389.3L1580.2 434.3Z" fill="#e00000"/>
<path d="M1242.3 612.3L1242.6 606L1242.9 600.9L1243.2 606L1243.5 612.3ZM1292.8 612.3L1293.1 604.7L1293.4 598.6L1293.7 604.7L1294 612.3ZM1306.7 612.3L1307 609.5L1307.3 607.3L1307.6 609.5L1307.9 612.3ZM1408.6 612.3L1409 593.8L1409.4 578.7L1409.8 593.8L1410.2 612.3ZM1440.5 612.3L1440.8 609L1441.1 606.3L1441.4 609L1441.7 612.3ZM1633.1 612.3L1633.4 609.5L1633.7 607.3L1634 609.5L1634.3 612.3ZM1632.9 612.3L1633.2 609L1633.5 606.3L1633.8 609L1634.1 612.3ZM1715.6 612.3L1716 580.7L1716.4 555L1716.8 580.7L1717.2 612.3ZM1749 612.3L1749.4 600.5L1749.8 591L1750.2 600.5L1750.6 612.3ZM1752 612.3L1752.3 607.3L1752.6 603.3L1752.9 607.3L1753.2 612.3ZM1756.5 612.3L1756.9 596.2L1757.3 583.2L1757.7 596.2L1758.1 612.3ZM1757.9 612.3L1758.2 607.9L1758.5 604.3L1758.8 607.9L1759.1 612.3ZM1795.8 612.3L1796.1 610.1L1796.4 608.3L1796.7 610.1L1797 612.3ZM1809.5 612.3L1809.8 609L1810.1 606.3L1810.4 609L1810.7 612.3ZM1856.7 612.3L1857.1 601.4L1857.5 592.6L1857.9 601.4L1858.3 612.3ZM1858.1 612.3L1858.4 609L1858.7 606.3L1859 609L1859.3 612.3ZM1875.1 612.3L1875.4 609L1875.7 606.3L1876 609L1876.3 612.3ZM1877 612.3L1877.3 607.9L1877.6 604.3L1877.9 607.9L1878.2 612.3ZM1907.1 612.3L1907.4 610.6L1907.7 609.3L1908 610.6L1908.3 612.3ZM2022.4 612.3L2022.7 607.3L2023 603.3L2023.3 607.3L2023.6 612.3ZM2034.3 612.3L2034.6 608.4L2034.9 605.3L2035.2 608.4L2035.5 612.3Z" fill="#000" stroke="#000" stroke-width="0.5"/>
<path d="M1339 612.6v-1.4M1195.7 612.6v-1.9M1591.3 612.6v-1M1824.6 612.6v-0.8M1552.9 612.6v-0.9M1611.1 612.6v-1.1M1189.7 612.6v-0.8M1612.8 612.6v-1.4M2017.9 612.6v-2.3M1936.8 612.6v-1M1829.1 612.6v-2.9M1275.2 612.6v-1.1M1975.2 612.6v-1.2M1942.5 612.6v-3.3M1325.5 612.6v-1.6M1742 612.6v-1.2M1196.6 612.6v-1.7M1282.4 612.6v-1.1M1460.3 612.6v-1.6M1319.1 612.6v-0.9M1854.9 612.6v-0.8M1907.8 612.6v-1.3M1485.5 612.6v-1.2M1462.5 612.6v-1.1M1277.8 612.6v-0.8M1253.1 612.6v-2.6M1813.7 612.6v-0.8M1712.8 612.6v-3.1M1227.9 612.6v-1M1606 612.6v-0.9M1536.4 612.6v-2.7M1934.3 612.6v-3M1818.3 612.6v-1.5M1715 612.6v-2.9M1670.8 612.6v-0.8M2024.4 612.6v-2.1M2057.9 612.6v-1.4M1479.7 612.6v-0.9M1392.1 612.6v-1.3M1888.3 612.6v-0.8M1235.1 612.6v-1.8M1503.4 612.6v-1.4M1240.7 612.6v-0.8M1463 612.6v-0.9M1241 612.6v-0.9M1437.1 612.6v-1.1M1882.7 612.6v-0.9M1985.5 612.6v-0.9M1884.9 612.6v-1.3M1679.2 612.6v-0.8M1727.5 612.6v-1.7M1500.6 612.6v-1.1M1328.8 612.6v-1.1M1567.2 612.6v-1.3M1831.6 612.6v-0.8M1234.4 612.6v-2.3M1196.8 612.6v-0.8M1865.2 612.6v-1.3M1445.7 612.6v-3M1803.4 612.6v-0.8M1833.3 612.6v-1.5M2010 612.6v-3.3M1535.2 612.6v-3.8M1497.8 612.6v-1M1897.4 612.6v-1.4M1859.8 612.6v-2.7M1760.1 612.6v-1.4M1901.3 612.6v-2.1M1750.8 612.6v-1.5M2031.9 612.6v-0.7M1475.9 612.6v-1M1836.5 612.6v-2.3M2025.1 612.6v-1.1M1476.4 612.6v-1.1M1723.6 612.6v-1M1504.3 612.6v-0.8M1589.8 612.6v-1.5M1245.2 612.6v-1.1M1195.5 612.6v-2.2M1855.5 612.6v-0.7M1581.9 612.6v-2.2M1733.6 612.6v-0.8M1838 612.6v-1.9M1551.5 612.6v-1.1M1506 612.6v-1.6M1329 612.6v-1.1M1886 612.6v-0.8M1921 612.6v-2.8M1832.9 612.6v-1.4M1958.6 612.6v-0.9M1756 612.6v-1.3M1798.8 612.6v-0.9M1350.4 612.6v-1.1M1862.6 612.6v-1.3M1476.1 612.6v-1.4M1568.7 612.6v-0.8M1462.6 612.6v-0.8M1684.9 612.6v-1.1M1765.5 612.6v-1.2M1691.4 612.6v-2.1M1462 612.6v-1.3M1372.7 612.6v-1.9M1931.6 612.6v-1M1447.7 612.6v-0.8M1569 612.6v-0.9M1259.8 612.6v-0.7M1446.6 612.6v-1M1254.7 612.6v-1.4M1484.7 612.6v-2M1810.6 612.6v-0.9M2046.6 612.6v-1.6M1735.7 612.6v-1.7M1418.4 612.6v-1.5M1763.8 612.6v-3M1737.3 612.6v-1.3M1914.4 612.6v-1.1M1654.1 612.6v-1.2M1990.6 612.6v-0.7M1548.7 612.6v-0.7M1433.3 612.6v-1.2M1641 612.6v-1M2000.7 612.6v-0.8M1823.7 612.6v-1M1618.6 612.6v-1.4M1621.8 612.6v-1.2M1756.6 612.6v-1.1M1577.5 612.6v-1.7M1669.2 612.6v-0.7M2044.1 612.6v-2.2M2009.5 612.6v-1.5M1927.8 612.6v-1.1M1291.6 612.6v-1.5M1674.4 612.6v-2.7M1505 612.6v-1.4M1991.2 612.6v-1.5M1457.9 612.6v-1.5M2008.1 612.6v-2.4M1390.8 612.6v-2.2M1553.1 612.6v-0.9M2034.1 612.6v-0.7M1709.2 612.6v-0.9M2009.3 612.6v-1M1658.7 612.6v-0.9M1381.6 612.6v-1.1M1813.9 612.6v-2.6M1643.3 612.6v-0.8M1628.9 612.6v-1M1300 612.6v-2M1307.5 612.6v-0.8M2007 612.6v-1M2030.6 612.6v-1.3M2039.4 612.6v-1.7M1497.3 612.6v-2.1M1219.2 612.6v-0.9M1672.1 612.6v-2.8M1834.7 612.6v-1.1M1756 612.6v-0.8M1225.5 612.6v-0.8M1385.9 612.6v-1.1M1807.6 612.6v-1.9M1227.4 612.6v-0.8M1933 612.6v-0.9M2060.1 612.6v-1.8M1399.2 612.6v-1.9M1226.5 612.6v-0.9M2051.7 612.6v-0.7M1862.3 612.6v-1.4M1583.2 612.6v-1.8M1604.7 612.6v-0.7M1994.5 612.6v-1.2M1495.5 612.6v-0.8M1225.7 612.6v-1.3M1725.7 612.6v-0.8M1456.9 612.6v-0.8M1785.9 612.6v-1.2M2023.4 612.6v-2.8M1499.8 612.6v-0.7M1398.5 612.6v-0.8M1225.5 612.6v-0.9M1919.7 612.6v-1.9M1248.2 612.6v-0.9M2027.2 612.6v-0.9M1807.8 612.6v-1.1M1990.9 612.6v-2.1M1904.4 612.6v-0.9M1348.3 612.6v-1.1M1335.1 612.6v-1.2M2035.4 612.6v-1.2M1437.8 612.6v-1.1M1883.1 612.6v-1.8M1330.6 612.6v-0.9M1444.9 612.6v-1.2M1778.7 612.6v-0.8M1399.8 612.6v-2.1M1848.6 612.6v-1.1M1962.2 612.6v-3.8M1463.9 612.6v-1.5M1444.6 612.6v-0.9M1203 612.6v-2.5M1555.1 612.6v-0.9M1236.6 612.6v-1.4M1690.6 612.6v-1.7M1791.6 612.6v-0.8M1684.9 612.6v-0.8M1716.5 612.6v-1.1M1712.9 612.6v-1M1983 612.6v-1M1651.7 612.6v-0.9M1946.2 612.6v-1M1492.1 612.6v-3.5M1303.7 612.6v-1.1M1376.1 612.6v-1.1M1885.5 612.6v-0.9M1383.1 612.6v-0.8M1867 612.6v-0.9M1983.2 612.6v-2.2M1663.6 612.6v-2.2M1306 612.6v-0.8M1734.1 612.6v-1.1M1516.6 612.6v-1.3M1988.2 612.6v-1.3M1377.7 612.6v-0.9M1387.2 612.6v-0.7M1608.3 612.6v-1.8M1618.3 612.6v-0.8M1345.7 612.6v-1.1M1512 612.6v-1.7M1774 612.6v-1.5M1597.8 612.6v-1.1M1231.5 612.6v-1.8M1548.5 612.6v-3.8M1549 612.6v-1.2M1577.3 612.6v-2.2M1199.6 612.6v-1.2M1422.6 612.6v-1M2025.6 612.6v-3.8M1965.5 612.6v-1.7M2016.9 612.6v-0.8M1854.9 612.6v-1.2M1565.2 612.6v-1M2014.1 612.6v-1.2M1446.3 612.6v-1.7M1707.2 612.6v-1M1702 612.6v-1.3M1571.2 612.6v-0.9M1401.5 612.6v-1.1M1472.9 612.6v-2.2M1751.5 612.6v-1.6M1431.5 612.6v-1M1486.9 612.6v-0.9M1494 612.6v-1.3M1467.9 612.6v-1.2M1916.9 612.6v-3.8M1664.9 612.6v-0.9M1194.7 612.6v-2.5M1839.4 612.6v-0.9M1626 612.6v-1.8M1872.7 612.6v-2.1M1619.2 612.6v-0.8M1455.4 612.6v-1.1M1926.5 612.6v-1.6M1332.8 612.6v-1.1M1426.4 612.6v-0.8M1609.9 612.6v-1.7M1944.9 612.6v-1.2M1281 612.6v-0.8M1480.2 612.6v-0.7M1652.8 612.6v-1.2M1783 612.6v-0.9M1272.1 612.6v-1.9M1851.6 612.6v-0.8M1674.8 612.6v-0.7M1639.3 612.6v-2.4M1517.8 612.6v-1.1M1458.8 612.6v-2M1972.2 612.6v-1.3M2064.3 612.6v-2.2M1334.5 612.6v-2.7M1366.9 612.6v-0.8M1773 612.6v-0.9M1859.9 612.6v-0.8M1912 612.6v-2.9M1447.9 612.6v-1.5M1364.7 612.6v-2.5M1243 612.6v-3.7M1513.8 612.6v-1.8M1679.8 612.6v-2.2M1956.2 612.6v-2.7M1207.8 612.6v-1.4M1258.2 612.6v-1.9M1760.6 612.6v-3.3M1776.8 612.6v-1.1M1289 612.6v-0.9M1264.2 612.6v-1.5M1203.2 612.6v-0.7M1756.6 612.6v-1M1427.8 612.6v-1M1393.1 612.6v-1.8M1770.7 612.6v-0.7M1286.2 612.6v-1M1656.5 612.6v-1M1259.4 612.6v-1.5M1236.9 612.6v-2.2M1774.3 612.6v-1.2M1884 612.6v-2M1590.6 612.6v-1.1M1536.8 612.6v-1.2M1803.7 612.6v-1M1246.1 612.6v-0.9M1426.4 612.6v-2.2M1985.3 612.6v-1.3M2024.3 612.6v-0.9M1212.5 612.6v-1.2M1181 612.6v-1.1M1862.9 612.6v-0.7M1581.1 612.6v-1.5M1858 612.6v-2.1M1751.5 612.6v-1.4M1577.7 612.6v-0.8M1811.2 612.6v-1.1M1717.2 612.6v-0.9M1192.3 612.6v-0.8M1593.8 612.6v-0.9M1964.6 612.6v-2.3M1873.9 612.6v-2M1762.2 612.6v-1.8M1732.4 612.6v-2.5M1906.3 612.6v-0.8M1438 612.6v-0.9M1529.6 612.6v-0.7" stroke="#000" stroke-width="1" fill="none" stroke-opacity="0.75"/>
<path d="M1242.3 701.2L1242.6 693.4L1242.9 687L1243.2 693.4L1243.5 701.2ZM1292.8 701.2L1293.1 695.1L1293.4 690.1L1293.7 695.1L1294 701.2ZM1306.7 701.2L1307 699L1307.3 697.2L1307.6 699L1307.9 701.2ZM1236.9 701.2L1237.2 699L1237.5 697.2L1237.8 699L1238.1 701.2ZM1297.3 701.2L1297.6 699.5L1297.9 698.2L1298.2 699.5L1298.5 701.2ZM1408.6 701.2L1409 679.5L1409.4 661.7L1409.8 679.5L1410.2 701.2ZM1440.5 701.2L1440.8 697.3L1441.1 694.2L1441.4 697.3L1441.7 701.2ZM1715.6 701.2L1716 659.9L1716.4 626.2L1716.8 659.9L1717.2 701.2ZM1749 701.2L1749.4 687.7L1749.8 676.6L1750.2 687.7L1750.6 701.2ZM1752 701.2L1752.3 695.7L1752.6 691.2L1752.9 695.7L1753.2 701.2ZM1756.5 701.2L1756.9 684L1757.3 669.9L1757.7 684L1758.1 701.2ZM1757.9 701.2L1758.2 696.8L1758.5 693.2L1758.8 696.8L1759.1 701.2ZM1856.7 701.2L1857.1 690.2L1857.5 681.3L1857.9 690.2L1858.3 701.2ZM1874 701.2L1874.3 699L1874.6 697.2L1874.9 699L1875.2 701.2ZM1876.3 701.2L1876.6 698.4L1876.9 696.2L1877.2 698.4L1877.5 701.2ZM1881.1 701.2L1881.4 698.4L1881.7 696.2L1882 698.4L1882.3 701.2ZM1983.6 701.2L1983.9 697.3L1984.2 694.2L1984.5 697.3L1984.8 701.2ZM2052.3 701.2L2052.6 698.4L2052.9 696.2L2053.2 698.4L2053.5 701.2Z" fill="#000" stroke="#000" stroke-width="0.5"/>
<path d="M1182 701.5v-2.7M1749.9 701.5v-0.9M1542.5 701.5v-0.7M1682.5 701.5v-2.2M1952.8 701.5v-1M1433.8 701.5v-1.1M1396.4 701.5v-0.8M1910.5 701.5v-0.9M1200.4 701.5v-0.9M2003.8 701.5v-1.5M1487.7 701.5v-0.8M1208.1 701.5v-0.8M1371.6 701.5v-1.1M1250.4 701.5v-1.1M1931.4 701.5v-0.7M1227.8 701.5v-3.8M1225.9 701.5v-2M1726.5 701.5v-1.8M1365.5 701.5v-1.5M1476.6 701.5v-1.1M1879.3 701.5v-1.5M1557.6 701.5v-2M1828.5 701.5v-1.6M1429.5 701.5v-2.2M1295.2 701.5v-1.8M1238.9 701.5v-1.6M1925.8 701.5v-2.4M1287.2 701.5v-1.8M1248.3 701.5v-1M1318.3 701.5v-1.2M1643.2 701.5v-0.8M1792 701.5v-1.1M1618.8 701.5v-1.4M1731.8 701.5v-0.9M1621.6 701.5v-1.3M1841.9 701.5v-1M1716.4 701.5v-0.9M1335.1 701.5v-1M1477.8 701.5v-1.3M2063.8 701.5v-1.1M1578.3 701.5v-1.1M1782.3 701.5v-1.7M1332 701.5v-1.4M1780.8 701.5v-1.3M1800.6 701.5v-0.8M1321.1 701.5v-0.7M2017.5 701.5v-1M1529.8 701.5v-0.8M1486.9 701.5v-1.4M1782.7 701.5v-2.1M1998.7 701.5v-1.6M1925.6 701.5v-1.1M1679.4 701.5v-2M1226.7 701.5v-1.6M1611.5 701.5v-1.2M1731.7 701.5v-1.4M1924.1 701.5v-0.8M1358.5 701.5v-0.7M1593.5 701.5v-2.5M1749.9 701.5v-3.1M1791.8 701.5v-1.2M1219.6 701.5v-1.3M1959.2 701.5v-1.8M1279.6 701.5v-0.8M1939.7 701.5v-1.6M1948.3 701.5v-1.8M1724.5 701.5v-0.9M1660.7 701.5v-1.3M1490 701.5v-1.8M1524.8 701.5v-2.8M1999.9 701.5v-1.1M1764.7 701.5v-0.8M1592.7 701.5v-1.6M1498.1 701.5v-1.4M2065.5 701.5v-1.2M2012.5 701.5v-1M2002.1 701.5v-0.7M2003.5 701.5v-2.5M1496.3 701.5v-1M1921.7 701.5v-0.7M1792 701.5v-0.8M1992.2 701.5v-1.3M1834.1 701.5v-0.7M1921 701.5v-1.7M1891.7 701.5v-1.6M1694.1 701.5v-0.7M1799.3 701.5v-1.4M1245.7 701.5v-1M1521.2 701.5v-0.9M1895.7 701.5v-2.1M1261.2 701.5v-0.8M1472.6 701.5v-1.1M1736.6 701.5v-2.9M1579.6 701.5v-0.8M1242.8 701.5v-1.4M1330.8 701.5v-0.9M1772.1 701.5v-0.9M1666.9 701.5v-1M1702.9 701.5v-1.6M1986.7 701.5v-1.1M2010 701.5v-1.6M1440.4 701.5v-2.5M1967.2 701.5v-2.4M1644.9 701.5v-1.2M1751.5 701.5v-0.9M1268.4 701.5v-1.4M1536.3 701.5v-0.8M2024.1 701.5v-1M2015.6 701.5v-1M1548.5 701.5v-2.8M1397.8 701.5v-1.3M2034.1 701.5v-1M1625.4 701.5v-0.9M2023.1 701.5v-1.2M1209.7 701.5v-1.2M1708 701.5v-2.1M1429.6 701.5v-1.2M1181.8 701.5v-3.3M1613.7 701.5v-0.7M2023.7 701.5v-1.4M1587.3 701.5v-1.1M1368.7 701.5v-1M1801.5 701.5v-1.2M1959 701.5v-3.8M1855.6 701.5v-1.1M1401.3 701.5v-2.7M1872.1 701.5v-1.2M1871.6 701.5v-1M1588.7 701.5v-0.8M1851.3 701.5v-0.8M1210.9 701.5v-2.1M1361.5 701.5v-0.8M1523.7 701.5v-0.9M2004.8 701.5v-1M1798.6 701.5v-0.8M1774.4 701.5v-0.9M1912.2 701.5v-0.9M1822.2 701.5v-1.1M1234.2 701.5v-0.8M1973.7 701.5v-1.4M1858 701.5v-1.1M1370.5 701.5v-1.5M1708.6 701.5v-0.9M1581.1 701.5v-0.9M1204.2 701.5v-1.1M1893.4 701.5v-1.1M1485.1 701.5v-1M1737.8 701.5v-0.8M1909.9 701.5v-1.2M2008 701.5v-1M1647.7 701.5v-1M1578.1 701.5v-1.8M1187 701.5v-0.7M1279.1 701.5v-0.8M1825.8 701.5v-2.9M1341.4 701.5v-1M1648.2 701.5v-0.7M1326.6 701.5v-0.9M1885.8 701.5v-0.8M1365.8 701.5v-3.3M1865.4 701.5v-1M1574.6 701.5v-0.8M1846.2 701.5v-0.8M1498.4 701.5v-1.9M2038.6 701.5v-1.3M1626.4 701.5v-2.3M1540.4 701.5v-1M1548.1 701.5v-1.1M1449.5 701.5v-1.2M1777.4 701.5v-1.4M1333.2 701.5v-1.2M1315.7 701.5v-0.9M2037.4 701.5v-1.3M1365.4 701.5v-2.7M1900.9 701.5v-1.3M1252.3 701.5v-1.1M1708.3 701.5v-0.8M1272.3 701.5v-3.6M1499.6 701.5v-0.7M1476.4 701.5v-0.7M1724.7 701.5v-1M1181.9 701.5v-2.5M1425.1 701.5v-1M1857.1 701.5v-2.4M1854.8 701.5v-2.1M1882.3 701.5v-1M1692.6 701.5v-1.3M1850.7 701.5v-1M1565.9 701.5v-2.1M1459.4 701.5v-1.5M1902 701.5v-1.5M1532.2 701.5v-1.4M1296.4 701.5v-1.4M2029.9 701.5v-1.6M1292.9 701.5v-2.1M1862 701.5v-0.9M1364.4 701.5v-0.8M1943.6 701.5v-1M1734.7 701.5v-1.8M2019.8 701.5v-2.1M1716.3 701.5v-1.1M1929.1 701.5v-1.3M1620.3 701.5v-1.8M1971.9 701.5v-1.7M1542.8 701.5v-1.7M2005.9 701.5v-1.2M1754.5 701.5v-1.5M1998.9 701.5v-0.8M1216.5 701.5v-1.2M1503.6 701.5v-0.7M1982.2 701.5v-1.1M1417.1 701.5v-0.8M1662.9 701.5v-2.2M1552.3 701.5v-2M1187.2 701.5v-1.3M1215.1 701.5v-2.5M1615.4 701.5v-0.8M1515.6 701.5v-1.5M1969.7 701.5v-1.1M1470 701.5v-1.6M1319 701.5v-1.7M1285.1 701.5v-2.6M1544.9 701.5v-2.8M2056.3 701.5v-1.2M1978.4 701.5v-2.4M1655.5 701.5v-1.1M1641.4 701.5v-1.6M1732 701.5v-1.2M1840.8 701.5v-2.1M1228.3 701.5v-0.8M2014.7 701.5v-1.7M1958.4 701.5v-2M1594.6 701.5v-1.6M1479.3 701.5v-0.8M1651.2 701.5v-1.4M1627.5 701.5v-1.9M1461.4 701.5v-0.8M1289.6 701.5v-3.3M1825 701.5v-1M1971.7 701.5v-0.8M1757.8 701.5v-1.4M1437.1 701.5v-0.7M1567.7 701.5v-1.3M1345.7 701.5v-1.1M2013.7 701.5v-2.8M1401.7 701.5v-0.9M1492.8 701.5v-1.2M1755.9 701.5v-0.7M1835.1 701.5v-1.1M1580.5 701.5v-1.4M1301 701.5v-0.8M1543.8 701.5v-1M1906.2 701.5v-1.6M1427.6 701.5v-1.1M1542.5 701.5v-0.9M1422 701.5v-0.8M1507.6 701.5v-0.7M1477.5 701.5v-1.7M1604.8 701.5v-1.1M1917.5 701.5v-0.9M1906.2 701.5v-0.8M1332.2 701.5v-1.6M1389.6 701.5v-2.1M1484.9 701.5v-1M1784.9 701.5v-1.1M1834.1 701.5v-2.9M1834.1 701.5v-0.9M1371 701.5v-1M1377.2 701.5v-1.1M2058.7 701.5v-1.3M1702.5 701.5v-1M1857.5 701.5v-2.5M1360.2 701.5v-1.8M1730.1 701.5v-0.9M1440.3 701.5v-0.8M1610.8 701.5v-2.3M1573.9 701.5v-1.7M1944.3 701.5v-1M1499.1 701.5v-1.5M1837 701.5v-0.8M1453.2 701.5v-1M1718 701.5v-1.6M1941.6 701.5v-1.3M1386.3 701.5v-1.4M1550.8 701.5v-1.3M2049.3 701.5v-1.1M1915.6 701.5v-1.2M1965.9 701.5v-1.5M1714.2 701.5v-3.8M1511.5 701.5v-0.9M1305 701.5v-2.6M1949.8 701.5v-1M1280.7 701.5v-1.2M2010.4 701.5v-0.9M2006.7 701.5v-3M2024.7 701.5v-1.5M1873.2 701.5v-1M1768.2 701.5v-1.9M1524.6 701.5v-1.3M1919.9 701.5v-1.3M1696.1 701.5v-1.1M1634.7 701.5v-1.1M1298.7 701.5v-1.7M1284.4 701.5v-0.9M1779.6 701.5v-0.8M1302.1 701.5v-1.5M1804.3 701.5v-1M1566.1 701.5v-0.9M1292.8 701.5v-0.9M1678.6 701.5v-0.8M1883.1 701.5v-1.1M2060.8 701.5v-1.5M1399.4 701.5v-1.9M1527.4 701.5v-1M1610.2 701.5v-0.7M1612.4 701.5v-0.9M1388.5 701.5v-0.8M1472.3 701.5v-1.1M1257.9 701.5v-0.7M1688.4 701.5v-1.7M2066.7 701.5v-1.3M1289.1 701.5v-1.7M1820.5 701.5v-2.4M1648.6 701.5v-2.2M1470.6 701.5v-0.9M1475 701.5v-0.8M2057.5 701.5v-1M1275 701.5v-2.1M1703.1 701.5v-2.2M1657.1 701.5v-1.4" stroke="#000" stroke-width="1" fill="none" stroke-opacity="0.75"/>
<path d="M1242.3 790.1L1242.6 785.9L1242.9 782.5L1243.2 785.9L1243.5 790.1ZM1292.8 790.1L1293.1 784L1293.4 779L1293.7 784L1294 790.1ZM1306.3 790.1L1306.6 786.8L1306.9 784.1L1307.2 786.8L1307.5 790.1ZM1358.4 790.1L1358.7 787.4L1359 785.1L1359.3 787.4L1359.6 790.1ZM1408.6 790.1L1409 771.2L1409.4 755.8L1409.8 771.2L1410.2 790.1ZM1564.4 790.1L1564.7 787.4L1565 785.1L1565.3 787.4L1565.6 790.1ZM1567.2 790.1L1567.5 783.5L1567.8 778.1L1568.1 783.5L1568.4 790.1ZM1568.4 790.1L1568.7 785.7L1569 782.1L1569.3 785.7L1569.6 790.1ZM1569.4 790.1L1569.8 781.6L1570.2 774.7L1570.6 781.6L1571 790.1ZM1571 790.1L1571.3 786.8L1571.6 784.1L1571.9 786.8L1572.2 790.1ZM1573.1 790.1L1573.4 788.5L1573.7 787.1L1574 788.5L1574.3 790.1ZM1580.2 790.1L1580.5 788.5L1580.8 787.1L1581.1 788.5L1581.4 790.1ZM1589.7 790.1L1590 787.9L1590.3 786.1L1590.6 787.9L1590.9 790.1ZM1598.5 790.1L1598.8 784.1L1599.1 779.1L1599.4 784.1L1599.7 790.1ZM1605.1 790.1L1605.4 786.8L1605.7 784.1L1606 786.8L1606.3 790.1ZM1607.7 790.1L1608 784.1L1608.3 779.1L1608.6 784.1L1608.9 790.1ZM1609.4 790.1L1609.7 788.5L1610 787.1L1610.3 788.5L1610.6 790.1ZM1627.6 790.1L1627.9 785.7L1628.2 782.1L1628.5 785.7L1628.8 790.1ZM1632.6 790.1L1632.9 781.9L1633.2 775.1L1633.5 781.9L1633.8 790.1ZM1633.3 790.1L1633.7 780.8L1634.1 773.1L1634.5 780.8L1634.9 790.1ZM1639.4 790.1L1639.7 787.9L1640 786.1L1640.3 787.9L1640.6 790.1ZM1644.7 790.1L1645 785.2L1645.3 781.1L1645.6 785.2L1645.9 790.1ZM1647.7 790.1L1648 787.4L1648.3 785.1L1648.6 787.4L1648.9 790.1ZM1649.6 790.1L1649.9 786.8L1650.2 784.1L1650.5 786.8L1650.8 790.1ZM1652.5 790.1L1652.8 787.4L1653.1 785.1L1653.4 787.4L1653.7 790.1ZM1712.2 790.1L1712.5 787.4L1712.8 785.1L1713.1 787.4L1713.4 790.1ZM1715.6 790.1L1716 753L1716.4 722.6L1716.8 753L1717.2 790.1ZM1749 790.1L1749.4 772L1749.8 757.2L1750.2 772L1750.6 790.1ZM1752 790.1L1752.3 786.3L1752.6 783.1L1752.9 786.3L1753.2 790.1ZM1756.5 790.1L1756.9 773.6L1757.3 760.1L1757.7 773.6L1758.1 790.1ZM1757.9 790.1L1758.2 786.8L1758.5 784.1L1758.8 786.8L1759.1 790.1ZM1769.1 790.1L1769.4 787.4L1769.7 785.1L1770 787.4L1770.3 790.1ZM1824.2 790.1L1824.5 788.5L1824.8 787.1L1825.1 788.5L1825.4 790.1ZM1856.7 790.1L1857.1 780.1L1857.5 771.9L1857.9 780.1L1858.3 790.1ZM1867.6 790.1L1867.9 787.4L1868.2 785.1L1868.5 787.4L1868.8 790.1ZM1877 790.1L1877.3 786.3L1877.6 783.1L1877.9 786.3L1878.2 790.1Z" fill="#000" stroke="#000" stroke-width="0.5"/>
<path d="M1494.3 790.4v-1.8M1697.9 790.4v-1.8M1396.6 790.4v-0.7M1278.6 790.4v-2.4M1198.6 790.4v-0.7M1207.1 790.4v-0.7M1994.5 790.4v-1.4M1687.8 790.4v-0.8M1528.8 790.4v-1.7M1903.5 790.4v-3.7M1696.1 790.4v-1.6M1301.9 790.4v-0.8M1801.4 790.4v-0.9M1569 790.4v-1.8M1731.5 790.4v-1.4M2036.4 790.4v-1.2M1223.5 790.4v-0.9M2013.9 790.4v-0.8M1340.6 790.4v-1M1270.2 790.4v-1M1470 790.4v-1M1890.9 790.4v-1.8M1455.3 790.4v-0.9M1223.4 790.4v-0.9M1843 790.4v-1.2M1738.1 790.4v-1.1M1842.6 790.4v-1.1M1851 790.4v-0.7M2017.6 790.4v-1.1M1470.7 790.4v-1.9M1926 790.4v-2.3M1580.6 790.4v-1.8M1613.2 790.4v-1M1213.6 790.4v-1.4M1967.7 790.4v-1M1745.6 790.4v-1.1M1525.2 790.4v-2.8M1241.5 790.4v-1.2M1406.2 790.4v-1.5M1494.4 790.4v-1.1M1747.1 790.4v-1.4M1897.6 790.4v-1.3M1509.7 790.4v-0.7M1444.7 790.4v-0.9M1223 790.4v-1.6M1950.5 790.4v-1.2M1371.5 790.4v-1.8M1902.1 790.4v-0.8M1803.3 790.4v-0.7M1486.3 790.4v-1.5M1377.8 790.4v-1.3M1291 790.4v-1.4M1357 790.4v-1.8M1870.1 790.4v-0.9M2042.6 790.4v-2.6M1761.4 790.4v-2.2M1400.8 790.4v-2.3M1876.9 790.4v-1.8M1724.6 790.4v-0.9M1919.5 790.4v-2.1M1650.6 790.4v-2.8M1809.8 790.4v-2.9M1344.7 790.4v-2.2M1346.1 790.4v-1.7M1253.1 790.4v-0.9M1954.1 790.4v-0.8M1633 790.4v-1.2M1294.4 790.4v-2.3M1982.9 790.4v-1.2M1611.8 790.4v-1.2M1331.2 790.4v-1.6M1235.9 790.4v-0.8M1251.8 790.4v-1.1M1676.5 790.4v-1M1507.9 790.4v-0.9M1926 790.4v-0.9M1870 790.4v-1.9M1672.6 790.4v-3.2M1500.5 790.4v-1.7M1849.6 790.4v-2.8M1902.4 790.4v-1.2M1604.7 790.4v-1M1779.8 790.4v-2.9M1903.2 790.4v-0.9M1519.3 790.4v-0.8M1668.2 790.4v-1.3M1368.2 790.4v-2.3M1573.3 790.4v-1.1M1423.5 790.4v-1.1M1291.2 790.4v-1.4M1900.6 790.4v-1.1M1735.8 790.4v-1.3M1744.2 790.4v-1M1980.3 790.4v-0.8M1900.5 790.4v-1.3M1543 790.4v-1.6M1431.1 790.4v-1.6M1650.2 790.4v-1.3M1959.3 790.4v-0.8M2032.6 790.4v-1.6M2036.7 790.4v-0.9M1541.7 790.4v-0.7M1686.1 790.4v-1.1M1286 790.4v-1.8M1574 790.4v-1M1870.6 790.4v-1.1M1325.3 790.4v-1.6M1296 790.4v-1.2M1478.1 790.4v-1.2M1341.3 790.4v-2.6M1331.2 790.4v-1M1259.6 790.4v-1.4M1522.1 790.4v-0.8M1316.6 790.4v-1.7M1998.3 790.4v-1M1197.3 790.4v-1.6M1203.9 790.4v-1.3M1410.2 790.4v-2.4M1955.2 790.4v-0.8M1942.2 790.4v-0.8M1415.6 790.4v-2.7M1226.4 790.4v-1.2M1839.8 790.4v-1.8M1414.9 790.4v-1.1M1992.8 790.4v-0.7M1537.7 790.4v-1.7M1604.5 790.4v-1M1341.3 790.4v-1.2M1899.6 790.4v-1.4M1994.4 790.4v-1.4M1918.5 790.4v-1.7M1862.4 790.4v-1.3M1526.6 790.4v-0.9M1245.2 790.4v-1.6M1199.3 790.4v-0.8M1658.8 790.4v-2.1M1892.3 790.4v-3.4M1329.7 790.4v-1.8M1524.2 790.4v-1.1M1557.3 790.4v-1M1767.4 790.4v-2.2M1243.7 790.4v-0.7M1224.3 790.4v-2.3M1334.4 790.4v-0.9M1658.1 790.4v-1M1561.4 790.4v-0.9M2040.5 790.4v-1.1M1644.8 790.4v-1.6M1971.4 790.4v-3.8M1344.4 790.4v-1.1M1197 790.4v-0.9M1935 790.4v-0.9M1580.9 790.4v-1.3M1266.2 790.4v-1.5M1688 790.4v-1.5M1686.5 790.4v-1.3M1418.4 790.4v-1.6M1966.3 790.4v-1.4M1916.8 790.4v-2.1M1584.6 790.4v-1.4M1389 790.4v-3.6M1441.3 790.4v-1.4M1982.1 790.4v-1.7M1539 790.4v-0.7M1700.5 790.4v-1.8M1319.9 790.4v-1.7M1709 790.4v-1.1M2050.8 790.4v-0.8M1977.2 790.4v-0.8M1529.9 790.4v-0.9M1406.6 790.4v-1.6M1694.5 790.4v-1.2M1680.5 790.4v-1.2M1855.4 790.4v-2.3M1251.2 790.4v-1.8M1812.9 790.4v-1.3M2059.6 790.4v-0.7M1332.3 790.4v-0.7M1550.4 790.4v-1.3M1613.1 790.4v-0.8M1956.2 790.4v-1.3M1303.6 790.4v-1.3M1195.8 790.4v-1.5M1475 790.4v-1.9M1960.3 790.4v-1.1M1393.4 790.4v-1M1324.6 790.4v-3.3M1816.9 790.4v-1.1M1210.2 790.4v-1M1798.5 790.4v-1.2M1595.8 790.4v-1.5M1567.8 790.4v-0.8M1906.6 790.4v-1M1520.5 790.4v-0.8M1612.3 790.4v-1.6M1418.1 790.4v-2.3M1911.7 790.4v-2.5M1893.5 790.4v-1.3M1854.2 790.4v-1.1M1221 790.4v-2M1572.5 790.4v-1M1620.4 790.4v-0.9M1636.5 790.4v-0.9M2043.1 790.4v-0.7M1327.5 790.4v-0.8M1743.7 790.4v-2.3M1852.1 790.4v-1.1M1528 790.4v-0.7M1412 790.4v-1M1238.3 790.4v-0.9M1842.3 790.4v-0.7M1471.2 790.4v-0.8M1561.8 790.4v-1.8M1447.5 790.4v-1.1M1477.5 790.4v-2.3M2029.2 790.4v-0.8M1769.3 790.4v-1M1961.3 790.4v-2.7M1566.5 790.4v-1.3M1888.3 790.4v-2.3M1940.7 790.4v-2.1M1324.2 790.4v-1.3M2029.6 790.4v-1.5M1275.3 790.4v-2.7M1693.1 790.4v-0.9M1530 790.4v-1.9M1817.7 790.4v-2.1M1450.6 790.4v-0.7M1746 790.4v-1M1799.9 790.4v-1.2M1239.7 790.4v-1.7M1711.4 790.4v-1.1M1653.1 790.4v-1.2M1503.6 790.4v-0.7M1310.4 790.4v-0.8M1278.9 790.4v-1M1833.1 790.4v-1.2M1589.8 790.4v-3.2M1970.3 790.4v-1M1431.8 790.4v-1.6M1898.4 790.4v-0.7M1322.6 790.4v-1.3M1424.9 790.4v-1.8M1248.5 790.4v-1M1926.8 790.4v-0.9M1959.7 790.4v-0.9M1569.2 790.4v-1.2M1483.3 790.4v-1.3M1917.8 790.4v-2.5M1580.8 790.4v-1M1336.2 790.4v-1.4M1679.5 790.4v-0.8M1671.5 790.4v-1M1851.8 790.4v-0.8M1839.9 790.4v-1.7M2068.3 790.4v-1M1380.5 790.4v-1.5M2026.8 790.4v-1.3M1452.7 790.4v-1.1M1823.1 790.4v-1.6M1618.8 790.4v-0.9M1602.3 790.4v-2M1216 790.4v-1.8M1434.7 790.4v-1M1695.9 790.4v-1.2M1302 790.4v-1.8M1528.1 790.4v-1.9M1460.4 790.4v-2.1M1644.7 790.4v-2M1356 790.4v-1.9M1804 790.4v-1.5M1497 790.4v-0.9M1227.4 790.4v-3.8M2046.4 790.4v-0.8M1859.5 790.4v-0.9M1843.7 790.4v-1M1922.1 790.4v-0.7M1308.5 790.4v-0.9M1305.1 790.4v-2.6M1218.7 790.4v-0.9M1406.4 790.4v-1.5M1838.8 790.4v-2.1M1308.1 790.4v-0.8M2029 790.4v-1.5M1602.6 790.4v-1.6M1924.1 790.4v-2.5M1695 790.4v-0.8M1663.7 790.4v-1.4M1523.4 790.4v-1.3M1768.4 790.4v-1.5M1547.4 790.4v-1.3M1911.6 790.4v-2.7M1418.5 790.4v-2.2M1259.4 790.4v-1M1683.8 790.4v-1.1M1324 790.4v-0.9M1341.5 790.4v-2.3M2068.3 790.4v-0.9M1862.1 790.4v-3.6M1469.5 790.4v-0.7M1548.3 790.4v-3.8M1633.3 790.4v-0.9M1430.7 790.4v-0.9M1440 790.4v-0.7M1382 790.4v-1.8M1372.5 790.4v-1.1M1332 790.4v-1.3M1950.7 790.4v-1.1M1855.9 790.4v-2.1M2054.8 790.4v-1.4M1735 790.4v-1.9M1333.7 790.4v-1M1622.5 790.4v-1.8M1986.7 790.4v-0.8M1725.3 790.4v-2.9M1907 790.4v-0.8M1396 790.4v-1.3M1304.3 790.4v-0.9M2039.9 790.4v-0.9M1617.4 790.4v-1.2M1967.8 790.4v-0.7M1681.1 790.4v-1M1461.3 790.4v-0.9M1806.1 790.4v-1.8M1593.1 790.4v-1.9M1313 790.4v-1.3M1874 790.4v-1.4M2066.6 790.4v-1.1M1933.5 790.4v-0.8M1776.7 790.4v-2" stroke="#000" stroke-width="1" fill="none" stroke-opacity="0.75"/>
<path d="M1242.3 879L1242.6 872.6L1242.9 867.2L1243.2 872.6L1243.5 879ZM1292.8 879L1293.1 871L1293.4 864.3L1293.7 871L1294 879ZM1306.7 879L1307 873.5L1307.3 869L1307.6 873.5L1307.9 879ZM1374.9 879L1375.2 876.3L1375.5 874L1375.8 876.3L1376.1 879ZM1408.6 879L1409 865.7L1409.4 854.8L1409.8 865.7L1410.2 879ZM1415.2 879L1415.5 875.2L1415.8 872L1416.1 875.2L1416.4 879ZM1440.5 879L1440.8 875.7L1441.1 873L1441.4 875.7L1441.7 879ZM1495.7 879L1496 875.7L1496.3 873L1496.6 875.7L1496.9 879ZM1543.5 879L1543.8 876.8L1544.1 875L1544.4 876.8L1544.7 879ZM1554.2 879L1554.5 876.8L1554.8 875L1555.1 876.8L1555.4 879ZM1567.2 879L1567.5 876.3L1567.8 874L1568.1 876.3L1568.4 879ZM1569.6 879L1569.9 875.2L1570.2 872L1570.5 875.2L1570.8 879ZM1572 879L1572.3 876.3L1572.6 874L1572.9 876.3L1573.2 879ZM1607.5 879L1607.8 876.8L1608.1 875L1608.4 876.8L1608.7 879ZM1715.6 879L1716 845.5L1716.4 818.1L1716.8 845.5L1717.2 879ZM1749 879L1749.4 862.8L1749.8 849.4L1750.2 862.8L1750.6 879ZM1750.8 879L1751.1 874.6L1751.4 871L1751.7 874.6L1752 879ZM1752 879L1752.3 874.6L1752.6 871L1752.9 874.6L1753.2 879ZM1756.5 879L1756.9 864.2L1757.3 852L1757.7 864.2L1758.1 879ZM1856.9 879L1857.2 873.3L1857.5 868.6L1857.8 873.3L1858.1 879ZM1858.1 879L1858.4 875.7L1858.7 873L1859 875.7L1859.3 879ZM1876.3 879L1876.6 875.7L1876.9 873L1877.2 875.7L1877.5 879ZM1947.4 879L1947.7 876.8L1948 875L1948.3 876.8L1948.6 879ZM1987.1 879L1987.4 876.8L1987.7 875L1988 876.8L1988.3 879ZM2022.4 879L2022.7 876.8L2023 875L2023.3 876.8L2023.6 879ZM2057 879L2057.3 876.3L2057.6 874L2057.9 876.3L2058.2 879Z" fill="#000" stroke="#000" stroke-width="0.5"/>
<path d="M1525.8 879.3v-2.6M1548.4 879.3v-0.8M2047.5 879.3v-1.3M2055.6 879.3v-1M1473.6 879.3v-1M1924.9 879.3v-1.5M1885.2 879.3v-0.7M1467.1 879.3v-1M1690.2 879.3v-1.1M2015.8 879.3v-0.9M1546.3 879.3v-0.7M1565.5 879.3v-1.1M1603 879.3v-0.8M1980.8 879.3v-3.8M1285.9 879.3v-0.8M1311.6 879.3v-1.4M1699.7 879.3v-1.2M2065 879.3v-1.5M1797.4 879.3v-1M1599.4 879.3v-2M1886.2 879.3v-1.5M1305.6 879.3v-1.3M1658.7 879.3v-1.3M1746.3 879.3v-0.8M1336.3 879.3v-1.4M1435.4 879.3v-2M1474.8 879.3v-1.6M1770.1 879.3v-0.7M2012.7 879.3v-1M1184 879.3v-0.8M1795.8 879.3v-1.6M1712.4 879.3v-2.3M1995.6 879.3v-1.5M1581.2 879.3v-0.8M1890.5 879.3v-1.2M1638.3 879.3v-1M1265.6 879.3v-1.6M1770.3 879.3v-1.6M1792.6 879.3v-1.6M2017.6 879.3v-0.8M1335.4 879.3v-1.8M1264.7 879.3v-0.7M2036.2 879.3v-0.9M1442 879.3v-2.5M1483.3 879.3v-0.9M1248.5 879.3v-1M1475.2 879.3v-1.9M1409.6 879.3v-0.7M1463.1 879.3v-0.9M1681.2 879.3v-1M1306.7 879.3v-1.3M1286.7 879.3v-1.1M1657.9 879.3v-1.1M2059.2 879.3v-0.9M1852.5 879.3v-2.6M1530.5 879.3v-2.3M1392.7 879.3v-1M1901.6 879.3v-1.1M1970 879.3v-1M1703.5 879.3v-1.2M1657.9 879.3v-1.1M1389.1 879.3v-1.3M1987.5 879.3v-2.2M1410.3 879.3v-2.1M1586.5 879.3v-1M1748 879.3v-0.8M1998.5 879.3v-0.9M1366.2 879.3v-0.8M1975.6 879.3v-1.6M1901.1 879.3v-1.5M1332 879.3v-1.1M1542.5 879.3v-1.3M1998.4 879.3v-0.8M1759.4 879.3v-0.7M1410 879.3v-0.9M2064.4 879.3v-0.8M1653.1 879.3v-1.5M1575.9 879.3v-1.7M1251.3 879.3v-0.8M1290.1 879.3v-1.1M1590.8 879.3v-2M1644.1 879.3v-3.8M1918.9 879.3v-1.2M1255.1 879.3v-1.3M1696.7 879.3v-1.3M1398.3 879.3v-1.1M1933.9 879.3v-1.6M1651.8 879.3v-2.2M1901.8 879.3v-1M1567.7 879.3v-1.9M1707.3 879.3v-2.2M1368.4 879.3v-1.2M1324.7 879.3v-2.4M1348.6 879.3v-1.9M1581.7 879.3v-1M1428.9 879.3v-1M1525.1 879.3v-1.3M1849.2 879.3v-1M1195.4 879.3v-1M2058.5 879.3v-0.8M2038.4 879.3v-2M1416.5 879.3v-0.9M1905.7 879.3v-0.7M1288.3 879.3v-1.5M1731.7 879.3v-0.9M1291.4 879.3v-3.8M1496 879.3v-0.7M2006.2 879.3v-2.1M1691.6 879.3v-0.8M1545.8 879.3v-1.5M1260.6 879.3v-2.2M1341.9 879.3v-2M1950.4 879.3v-1.3M1239.2 879.3v-1.7M1724.9 879.3v-0.8M2057.2 879.3v-1.9M1231.7 879.3v-0.9M1503.9 879.3v-0.8M1623.5 879.3v-0.7M1394.3 879.3v-1.6M2066.5 879.3v-3.2M2033.5 879.3v-1.3M2014.9 879.3v-0.9M1373.2 879.3v-2.5M1955.2 879.3v-2.6M1686.6 879.3v-1.1M1551.2 879.3v-0.8M1804 879.3v-0.8M1642 879.3v-1.5M1845 879.3v-1.4M1197.4 879.3v-0.8M1841.4 879.3v-1.2M1358.3 879.3v-2M1798.1 879.3v-2M1895 879.3v-2.9M2007.5 879.3v-1.3M1303.6 879.3v-1.4M1766.4 879.3v-0.7M1391.9 879.3v-2.8M1764.2 879.3v-2.2M1206.8 879.3v-1.2M1727.6 879.3v-1.1M1874.7 879.3v-2.2M1957.7 879.3v-3M1288.9 879.3v-0.7M1236.5 879.3v-1.3M1246.6 879.3v-2.1M1805.4 879.3v-2.6M1807.5 879.3v-1M1892.4 879.3v-2.5M1871.4 879.3v-1.8M1403.8 879.3v-0.9M1727.6 879.3v-0.7M1230.5 879.3v-1.3M1338.5 879.3v-1.6M1282 879.3v-2M2002.7 879.3v-0.9M1179.9 879.3v-2.2M1469.4 879.3v-1M1701.2 879.3v-1.6M1517.3 879.3v-1.5M1708.7 879.3v-1.4M1737.6 879.3v-0.9M1856.7 879.3v-3M1701.1 879.3v-1.3M1378.7 879.3v-0.8M1306.1 879.3v-1.2M1557.2 879.3v-0.9M1760.3 879.3v-1.1M1770.2 879.3v-1M1805.7 879.3v-0.8M1672.9 879.3v-0.7M1382.2 879.3v-2.1M1986 879.3v-1.3M1526.5 879.3v-1M1844.4 879.3v-2.5M1821.3 879.3v-1.7M1770.3 879.3v-3M1860.5 879.3v-1.2M1980 879.3v-0.8M1943.3 879.3v-1.2M2018.6 879.3v-1.3M1827.8 879.3v-1M1959.2 879.3v-0.9M2053.1 879.3v-0.9M1488.9 879.3v-3.4M1604.7 879.3v-1.3M1620.8 879.3v-0.9M1363.4 879.3v-0.9M1548.6 879.3v-1.1M1532.9 879.3v-0.7M1928.7 879.3v-1M1950.4 879.3v-2.1M1759.8 879.3v-0.7M1470.4 879.3v-1M1845.3 879.3v-0.8M1660.7 879.3v-0.9M1704 879.3v-1.6M1391.5 879.3v-0.9M1854.3 879.3v-1.1M1664.3 879.3v-1.8M1733.3 879.3v-1.1M1584.9 879.3v-0.8M1918 879.3v-1.7M1673.5 879.3v-1.7M1686.6 879.3v-1M1763.9 879.3v-0.7M1626 879.3v-1M1826.8 879.3v-0.7M1436 879.3v-1M1857.8 879.3v-0.8M1846.5 879.3v-2.6M1465.8 879.3v-2.1M1255.1 879.3v-2.2M1797.3 879.3v-1M1782.5 879.3v-1.9M1194 879.3v-1.6M1727 879.3v-0.8M1866.8 879.3v-1.1M1549.6 879.3v-0.9M1209.5 879.3v-1.4M1558.5 879.3v-0.8M1564.5 879.3v-0.8M1560.7 879.3v-2.4M1519.5 879.3v-1.5M1567.7 879.3v-1.2M1373.6 879.3v-1.3M1285.7 879.3v-2.6M1989.5 879.3v-1.1M1270.4 879.3v-2.6M1495.4 879.3v-2.2M1316.9 879.3v-1.5M1423.3 879.3v-1.7M1614.5 879.3v-1.3M1570.2 879.3v-0.9M1637.9 879.3v-1.8M1566.2 879.3v-0.8M1700.6 879.3v-1.4M1194.4 879.3v-1.1M1657.1 879.3v-1.3M1291 879.3v-2.9M1788 879.3v-1.1M1223.4 879.3v-1.6M1290.5 879.3v-0.7M1416.3 879.3v-1M1694.5 879.3v-0.8M1489.5 879.3v-1M1975.9 879.3v-1.5M1933.8 879.3v-1.1M1737.3 879.3v-2.2M2015.8 879.3v-1.5M1315.6 879.3v-1.2M1498 879.3v-1.5M1372.3 879.3v-2M1991.3 879.3v-2.2M1288.7 879.3v-0.9M1571.8 879.3v-1.5M1244.1 879.3v-1.2M2002.7 879.3v-0.8M1708.1 879.3v-1.5M1356 879.3v-1.9M1970 879.3v-0.9M1903.8 879.3v-1M1771.1 879.3v-0.9M1727.8 879.3v-1.1M1671.8 879.3v-1.1M1759.1 879.3v-1.2M1251 879.3v-1.4M1510.6 879.3v-0.7M1403.5 879.3v-0.9M1866.2 879.3v-3.3M1743.1 879.3v-2.1M1896.1 879.3v-1.3M1336.4 879.3v-1.5M2035.3 879.3v-0.8M1688.9 879.3v-1.4M1247.3 879.3v-3.6M1799.5 879.3v-1.3M1585.5 879.3v-1.7M1566.3 879.3v-0.9M1532.1 879.3v-1.4M2042.4 879.3v-1.7M1627.6 879.3v-0.9M1770.9 879.3v-1.3M2058.6 879.3v-1.2M1975.6 879.3v-1.3M1424.9 879.3v-1M1779.1 879.3v-0.9M1663.1 879.3v-0.8M1357.9 879.3v-0.9M1902.6 879.3v-0.8M2014.8 879.3v-1.3M1673.6 879.3v-0.8M1827 879.3v-1.7M1954.6 879.3v-3M1370.6 879.3v-0.7M1227.8 879.3v-0.8M1411 879.3v-1.1M1850.1 879.3v-2.2M1933.7 879.3v-1.8M1287.8 879.3v-0.9M1632.8 879.3v-1.1M1500.7 879.3v-3.8M1350.2 879.3v-0.8M1338.6 879.3v-1.9M1596.4 879.3v-0.8M1698.8 879.3v-3.8M1823.1 879.3v-1.3M1919.6 879.3v-0.9M1422.1 879.3v-1.2M1634 879.3v-1.7M1720.9 879.3v-0.8M2005 879.3v-1.1M1926.2 879.3v-1.9M1951.5 879.3v-0.8M1696.4 879.3v-0.8M1524.9 879.3v-2.4M1384.6 879.3v-3.7M1555.7 879.3v-1.8M2068.4 879.3v-1.3M1859.7 879.3v-1M1392.3 879.3v-0.8M1665.1 879.3v-2.7M1415.3 879.3v-1.9M1415.6 879.3v-0.8M1267.9 879.3v-0.8M1847 879.3v-1.8M1540.7 879.3v-1.3M1413.8 879.3v-1M1472.6 879.3v-1M1273.2 879.3v-2.1M1816.2 879.3v-2.1M1580.2 879.3v-1.5M2038.3 879.3v-1.5M1991.1 879.3v-1.3M1876.1 879.3v-0.7M1564.7 879.3v-1.1M1574.3 879.3v-2.2M2030.7 879.3v-1.2M1347.8 879.3v-0.9M1895.6 879.3v-1.9M1996.7 879.3v-2.5M1566.9 879.3v-0.9M1721.9 879.3v-1.5M1349.1 879.3v-1.1M1750.8 879.3v-1.8M1295 879.3v-1.2M1990.1 879.3v-0.9M1210.9 879.3v-0.8M1482.3 879.3v-2.3M1586.9 879.3v-1.4M1881.2 879.3v-1M1524.3 879.3v-1.5M1516.3 879.3v-1.3M1965.2 879.3v-1.2M1741.1 879.3v-0.9M1661.7 879.3v-1.4M1659.6 879.3v-1.4M1601.4 879.3v-0.8M1358.6 879.3v-0.7M1689.9 879.3v-1.6M1331.6 879.3v-2.1M1474.9 879.3v-1.8M1689.1 879.3v-1.5M1834.1 879.3v-1.1M1873.4 879.3v-1.3M1256.3 879.3v-0.7M1467.1 879.3v-0.8M1603.7 879.3v-0.8M1845 879.3v-2M2047.9 879.3v-1M1433 879.3v-0.8M2056.2 879.3v-2.4M1777.3 879.3v-1.6M1656.4 879.3v-0.9M1296.7 879.3v-3.5M1203.4 879.3v-1.1M1849.7 879.3v-0.7M1791.2 879.3v-0.7M1876.2 879.3v-1.3M1563.7 879.3v-1.7M1537.2 879.3v-1.5M1762.7 879.3v-1M1222.8 879.3v-0.8M1329.1 879.3v-1.3M1657.3 879.3v-1.2M1780 879.3v-0.8M1928.7 879.3v-0.8M1526.1 879.3v-1.5M1463.9 879.3v-0.8M1377.9 879.3v-0.7M1605 879.3v-1.3M2062.4 879.3v-1.1M1685.5 879.3v-2.3M1933.6 879.3v-1.3M1385.8 879.3v-0.7M1563.8 879.3v-0.8M1788.8 879.3v-1.5M1347.8 879.3v-1.7M1913.6 879.3v-1M1729 879.3v-1.9M1752.6 879.3v-0.9M1301.2 879.3v-0.8M2039.2 879.3v-1.1M1207.4 879.3v-1M1188.6 879.3v-1.1M1218.8 879.3v-1.8M1623.8 879.3v-1.8M1594 879.3v-0.8M2004.4 879.3v-1M1474 879.3v-1.3M1440.7 879.3v-0.7M1758.6 879.3v-1M1614 879.3v-1.7M1783.6 879.3v-1.2M1749.9 879.3v-0.9M1805.5 879.3v-0.8M1748 879.3v-1M1183.4 879.3v-1.2M1519.7 879.3v-1M1514.8 879.3v-1M1773.4 879.3v-1.5M1887.4 879.3v-1.1M1879.2 879.3v-0.9M1882.7 879.3v-0.8M1929.5 879.3v-0.8M1498.2 879.3v-0.9M2065.5 879.3v-0.8M1215.9 879.3v-1.9M1864.8 879.3v-0.8M1630.7 879.3v-0.9M1534.6 879.3v-1.2M1753 879.3v-2.1M1442.1 879.3v-1.9M1899.3 879.3v-1.3M2056 879.3v-0.7M1432.3 879.3v-1.1M1262.6 879.3v-0.9M1468.5 879.3v-1.1M1619.8 879.3v-0.9M1331.8 879.3v-1M1583.9 879.3v-1.2M1462.9 879.3v-2.7M1912.1 879.3v-1.1M1784.9 879.3v-0.8M1475.5 879.3v-0.8M1296.6 879.3v-1.8M1522.9 879.3v-1.2M2061.3 879.3v-1.5M1227.5 879.3v-1.2M1238.5 879.3v-2.9M1412.3 879.3v-1.8M1291.9 879.3v-0.8M1699.3 879.3v-1.2M1717.7 879.3v-0.8M1937.4 879.3v-1M1256.1 879.3v-1.5M1915.2 879.3v-1.4M1693.4 879.3v-2.2M1825.6 879.3v-0.7M1817.5 879.3v-1.3M1444.2 879.3v-1.6M1784.2 879.3v-0.9M1217.3 879.3v-0.7M1594.2 879.3v-0.8M1565.4 879.3v-1M1752.4 879.3v-1.4M1783.7 879.3v-0.9M1661.4 879.3v-1.1M1427.8 879.3v-0.9M1309.7 879.3v-2.8M2025.7 879.3v-1.5M1905.4 879.3v-1M1702.1 879.3v-1M1492.1 879.3v-1.4M1541.5 879.3v-0.9M1272.1 879.3v-1M1792.6 879.3v-0.9M1343.6 879.3v-2M1440.2 879.3v-1.5M1482.2 879.3v-1.9M1831 879.3v-0.8M1386.3 879.3v-1.2M2037.1 879.3v-1.6M1796.5 879.3v-1M1891.7 879.3v-1.3M1886.9 879.3v-1.9M1452.3 879.3v-1.6M1703.8 879.3v-1M1898.1 879.3v-1.9M1989.1 879.3v-2.7M1521.5 879.3v-0.7M1833.3 879.3v-1.4M1324.9 879.3v-1.3M1522.2 879.3v-2.2M1742.9 879.3v-0.7M1690.8 879.3v-1.8M1463.8 879.3v-0.7M1464.8 879.3v-3.8M1310.7 879.3v-1.1M1234.4 879.3v-0.8M1730.5 879.3v-0.8M1277.2 879.3v-0.8M1673.8 879.3v-1.2M1953 879.3v-1.8M1978.5 879.3v-3.8M1565.7 879.3v-1.1M1212 879.3v-0.9M1395.1 879.3v-1.9M1945.7 879.3v-1M1964.7 879.3v-0.8M1818.6 879.3v-1.1M1546 879.3v-1.1M2032.3 879.3v-0.9M1232.9 879.3v-1M1864.7 879.3v-1.1M1499.9 879.3v-1.1M1840.1 879.3v-1.3M1802.9 879.3v-1.2M1812.3 879.3v-1.2M1461.1 879.3v-0.7M1923.4 879.3v-1.4M1773.1 879.3v-0.9M1917.1 879.3v-1.6M1542.4 879.3v-2.4M1312.4 879.3v-1.4M1707.6 879.3v-1.4M1354.9 879.3v-1M1743.5 879.3v-3.1M1802.8 879.3v-1.4M1427.9 879.3v-0.7M1429.1 879.3v-0.9M1355.2 879.3v-1M1274.5 879.3v-1.4M1488.4 879.3v-1.3M1975.1 879.3v-0.8M2042.2 879.3v-0.9M1846 879.3v-2.4M1503.9 879.3v-0.7M1899.5 879.3v-1M1461.8 879.3v-0.9M1745.7 879.3v-1M1679.2 879.3v-1.3M1211.9 879.3v-0.8M1810.6 879.3v-0.9M1911.6 879.3v-1.4M1280.7 879.3v-0.9M1955.3 879.3v-2.4M1414.5 879.3v-1.3M1486.4 879.3v-1.2M1207.8 879.3v-2.8M1276.7 879.3v-2.5M1187.9 879.3v-2.9M1714.2 879.3v-0.9M1639.3 879.3v-0.8M1192.5 879.3v-1.3M1729.9 879.3v-0.7M1373 879.3v-2.2M1441.6 879.3v-2.4M1843.7 879.3v-1.1M1836.6 879.3v-2.1M1486.6 879.3v-0.8M1463.2 879.3v-1.5M1858.7 879.3v-1.2M1315.1 879.3v-2.1M2052 879.3v-1M1443.3 879.3v-1.4M1555.9 879.3v-1.2M1791.2 879.3v-0.8M1998.7 879.3v-2.2M1744.3 879.3v-2M1627.4 879.3v-1.8M1407.8 879.3v-1M1237.8 879.3v-0.8M1422.6 879.3v-1.2M2008.3 879.3v-1.2M2066.8 879.3v-0.7M1703.8 879.3v-1.5M1588.3 879.3v-3.3M1942.3 879.3v-1.3M1743.4 879.3v-0.9M1632.7 879.3v-0.7M1354.3 879.3v-0.8M1498.7 879.3v-1.7M1240.4 879.3v-1M1758.5 879.3v-1.3M1787.1 879.3v-1.2M1257.1 879.3v-1.9M1444.1 879.3v-1.6M1731.8 879.3v-1.2M1469.7 879.3v-0.8M1612 879.3v-1.4M1423.7 879.3v-3M1814.6 879.3v-0.7M1787.1 879.3v-1.7M1684.3 879.3v-0.9M1705.7 879.3v-2.7M1877.8 879.3v-1.6M1671.5 879.3v-1.3M1575 879.3v-0.8M1259.8 879.3v-1.4M1249.1 879.3v-0.7M1949.6 879.3v-0.9M1462.4 879.3v-0.9M1448.9 879.3v-1.3M1248.9 879.3v-1.9M1185.2 879.3v-2.1M1286 879.3v-1.1M1540.7 879.3v-1.1M1706 879.3v-1.3M1556 879.3v-0.7M1332.1 879.3v-0.7M1558.9 879.3v-1.4M1651.8 879.3v-2.1M1535.9 879.3v-1.8M1896.9 879.3v-1.2M1691.3 879.3v-1M1641.9 879.3v-2M1902.3 879.3v-1.1M1754.2 879.3v-1.9M1847.2 879.3v-0.7M2028.6 879.3v-1.4M1568.5 879.3v-0.8M1888.4 879.3v-1.2M1304.8 879.3v-0.9M1927.3 879.3v-0.7M1283.2 879.3v-3.4M1887.6 879.3v-2.6M1334.1 879.3v-2.8M1375.3 879.3v-1.2M1410.2 879.3v-0.7M1748.6 879.3v-1.1M1899.1 879.3v-1.3M1646.3 879.3v-0.7M1523.5 879.3v-1.1M1544.7 879.3v-1.9M1366.8 879.3v-1.5M1844.2 879.3v-1.1M1857.2 879.3v-1.1M1360.2 879.3v-1.1M2031.2 879.3v-1.1M1939.7 879.3v-0.8M1271.9 879.3v-1M1786.5 879.3v-1M1382.8 879.3v-3.4M1246.9 879.3v-0.7M1425.5 879.3v-1M1206.6 879.3v-0.7M1907.3 879.3v-1.2M1202.8 879.3v-0.7M1378.8 879.3v-1.2M1569.7 879.3v-1.2M1570.4 879.3v-1.4M1218.8 879.3v-1.7M1900.6 879.3v-1.3M1882.2 879.3v-0.7M1616.1 879.3v-1.2M1832.1 879.3v-0.8M1196.9 879.3v-0.9M1923.6 879.3v-0.7M1714.3 879.3v-1.5M1952.1 879.3v-1M1730.9 879.3v-1.3M1299.8 879.3v-1.4M1964.9 879.3v-1.2M1802.2 879.3v-1.3M1999.4 879.3v-1M2019.5 879.3v-3.1M1734.6 879.3v-1.1M2025.8 879.3v-2.3M1383 879.3v-0.8M1241.5 879.3v-0.9M1509.2 879.3v-1.6M1285.3 879.3v-2.8M1999.9 879.3v-0.8M1304.4 879.3v-1.3M1981.8 879.3v-0.9M1784.2 879.3v-0.7M1772.8 879.3v-0.7M1956.9 879.3v-1M1843 879.3v-1.7M1721.8 879.3v-1M1242 879.3v-0.9M1774.8 879.3v-3.1M1631.2 879.3v-1.7M1354.4 879.3v-1.5M1423 879.3v-0.8M1959 879.3v-0.9M1516 879.3v-1.5M1808.2 879.3v-0.9M1573 879.3v-1.2M1196.9 879.3v-2.2M1274.6 879.3v-1.3M2054.4 879.3v-0.7M1771.4 879.3v-2.9M1440.5 879.3v-0.8M1233.3 879.3v-1M1346.2 879.3v-0.7M1396.6 879.3v-0.8M1479.3 879.3v-2.7" stroke="#000" stroke-width="1" fill="none" stroke-opacity="0.9"/>
<line x1="1175.3" y1="879.3" x2="2071.8" y2="879.3" stroke="#111" stroke-width="1.5"/>
<path d="M951.8 173.2H935.3V530H954.3" fill="none" stroke="#222" stroke-width="1.2"/>
<path d="M951.8 535.8H935.3V886.8H954" fill="none" stroke="#222" stroke-width="1.2"/>
<text transform="translate(919,364.6) rotate(-90)" font-size="32" text-anchor="middle">RNA-Seq</text>
<text transform="translate(918,732.1) rotate(-90)" font-size="33.2" text-anchor="middle">ATAC-Seq</text>
<text x="1150.5" y="226.8" font-size="33" text-anchor="end">WT T<tspan font-size="21" dy="8">conv</tspan></text>
<text x="1150.5" y="316.5" font-size="33" text-anchor="end">Enh KO T<tspan font-size="21" dy="8">conv</tspan></text>
<text x="1150.5" y="405.5" font-size="33" text-anchor="end">WT T<tspan font-size="21" dy="8">reg</tspan></text>
<text x="1150.5" y="495.2" font-size="33" text-anchor="end">Enh KO T<tspan font-size="21" dy="8">reg</tspan></text>
<text x="1150.5" y="584.4" font-size="33" text-anchor="end">WT T<tspan font-size="21" dy="8">conv</tspan></text>
<text x="1150.5" y="673.5" font-size="33" text-anchor="end">Enh KO T<tspan font-size="21" dy="8">conv</tspan></text>
<text x="1150.5" y="762.6" font-size="33" text-anchor="end">WT T<tspan font-size="21" dy="8">reg</tspan></text>
<text x="1150.5" y="851.7" font-size="33" text-anchor="end">Enh KO T<tspan font-size="21" dy="8">reg</tspan></text>
<text x="964.7" y="927.1" font-size="32.7">Mouse Chr 7: 105157000</text>
<text x="2077.2" y="927.1" font-size="32" text-anchor="end">106223000</text>
<text x="1618.5" y="943.2" font-size="33.2">Enh</text>
<line x1="1634.4" y1="891.3" x2="1634.4" y2="905.1" stroke="#000080" stroke-width="1.8"/>
</g>
<g id="pc">
<g transform="translate(141.6,1199.3)">
<path d="M93.5 231.6 86.5 231.6 78.5 230.1 70.5 226.9 64.5 223 58.7 217.5 54.4 211.5 51.3 204.5 49.6 197.5 49.2 192.5 49.6 186.5 50.9 180.5 52.8 175.5 56.7 168.5 67.8 154.5 70.5 149.5 71.5 144.5 72.1 134.5 73.1 127.5 74.8 120.5 77.5 113.5 82.5 104.5 88.8 96.5 96.5 89.5 105.5 83.9 114.5 80.1 129.1 75.5 143.5 70.1 149.5 68.4 154.5 67.5 158.5 67.3 162.5 67.8 166.5 69.1 169.5 70.7 171.8 72.5 175.9 77.5 178.6 83.5 180.1 91.5 179.9 100.5 178.3 109.5 175.3 119.5 170.9 130.5 165.1 141.5 158.5 151 151.5 158.7 140.1 168.5 137.5 171.5 136.5 173.7 135.9 176.5 135.5 188.5 134.1 196.5 131.1 204.5 129 208.5 125.6 213.5 119.1 220.5 111.5 226 107.5 228 102.5 229.9 97.5 231.1Z" fill="rgb(0,2,236)" fill-rule="evenodd"/>
<path d="M96.5 230.6 88.5 231 80.5 229.9 72.5 227.1 66.5 223.6 60.6 218.5 55.9 212.5 52.9 206.5 50.6 198.5 50.1 193.5 50.4 187.5 51.9 180.5 53.8 175.5 57.8 168.5 61.5 163.7 69.5 154.5 72.3 149.5 73.1 145.5 73.6 134.5 74.3 128.5 75.9 121.5 78.1 115.5 82.7 106.5 86.3 101.5 89.5 97.7 96.5 91.3 105.5 85.6 113.5 82.2 128.7 77.5 143.5 72.1 149.5 70.3 154.5 69.4 158.5 69.4 162.5 70 165.5 71 170.5 74.1 174.2 78.5 177 84.5 178.4 91.5 178.4 99.5 177.2 107.5 174.7 116.5 170.9 126.5 165 138.5 161.1 144.5 157.3 149.5 149.5 157.4 136.9 166.5 134.1 169.5 133.2 171.5 132.8 174.5 133.6 187.5 132.7 195.5 131.7 199.5 129.8 204.5 125.2 212.5 119.5 219.1 112.5 224.5 105.5 228.1 100.5 229.7Z" fill="rgb(1,8,237)" fill-rule="evenodd"/>
<path d="M97.5 229.7 89.5 230.4 82.5 229.7 74.5 227.3 67.5 223.4 61.6 218.5 56.8 212.5 53.3 205.5 51.3 197.5 50.9 191.5 51.3 186.5 52.7 180.5 54.7 175.5 59.6 167.5 71.3 154.5 73.3 151.5 74.1 149.5 74.9 145.5 75.2 134.5 75.8 128.5 77.1 122.5 79.5 115.5 84.3 106.5 90.5 98.6 97.5 92.3 105.5 87.3 113.5 83.9 129.5 79.2 143.5 74.1 149.5 72.3 153.5 71.6 157.5 71.4 161.5 72 164.5 73 169.5 76.2 173 80.5 175.5 86.2 176.7 92.5 176.7 99.5 175.5 107.5 173 116.5 169.6 125.5 166.4 132.5 163 138.5 159.5 143.7 155.5 148.6 151.5 152.7 147.5 156.1 134.2 164.5 131.2 167.5 130.4 169.5 130.1 172.5 131.9 186.5 131.8 191.5 131.3 195.5 129 203.5 127.2 207.5 124.1 212.5 118.9 218.5 112.5 223.7 105.5 227.3Z" fill="rgb(2,14,239)" fill-rule="evenodd"/>
<path d="M93.5 229.6 85.5 229.5 78.5 228 71.5 225.1 65.5 221.1 59.9 215.5 56 209.5 53.1 202.5 51.9 196.5 51.7 190.5 52.3 185.5 54 179.5 56.2 174.5 59.2 169.5 62.4 165.5 73.9 153.5 76.1 149.5 76.7 145.5 76.7 134.5 77.3 128.5 78.9 121.5 81.5 114.5 86 106.5 91.6 99.5 98.5 93.4 106.5 88.5 113.5 85.7 129.5 81.2 144.5 75.8 149.5 74.4 153.5 73.8 157.5 73.7 160.5 74.1 163.5 75.1 166.1 76.5 168.5 78.4 171.7 82.5 174.1 88.5 175 94.5 174.8 101.5 173.4 109.5 171 117.5 166.9 127.5 163.9 133.5 160.3 139.5 156.5 144.6 152.5 148.9 145.5 154.8 131.9 162.5 129.5 164.4 128.5 165.6 127.7 167.5 127.6 170.5 130.2 184.5 130.5 189.5 130.2 194.5 129.2 199.5 127.9 203.5 126.1 207.5 123 212.5 117.5 218.8 110.5 224.1 102.5 227.7 97.5 229Z" fill="rgb(3,21,240)" fill-rule="evenodd"/>
<path d="M96.5 228.5 89.5 229.1 81.5 228.1 74.5 225.8 67.5 221.7 61.7 216.5 57.4 210.5 54.2 203.5 52.7 196.5 52.5 190.5 53.1 185.5 54.8 179.5 57.1 174.5 59.6 170.5 62.7 166.5 75.1 154.5 77.8 150.5 78.7 146.5 78.4 135.5 78.9 128.5 80.1 122.5 82.6 115.5 87 107.5 92.7 100.5 99.5 94.6 107.5 89.9 114.5 87.2 130.5 83 144.5 78 149.5 76.6 156.5 76 159.5 76.4 162.5 77.4 166.5 79.9 169.5 83.5 171.9 88.5 173 94.5 173 101.5 171.8 108.5 169.5 116.5 166.3 124.5 162.9 131.5 159.4 137.5 155.5 142.7 151.5 147.1 147.5 150.6 142.5 154 128.2 161.5 126.5 163 125.5 164.5 125 166.5 125.1 168.5 128.8 183.5 129.2 187.5 129.3 192.5 128.6 197.5 127.2 202.5 125.1 207.5 122.7 211.5 117.8 217.5 111.5 222.6 104.5 226.3Z" fill="rgb(3,27,242)" fill-rule="evenodd"/>
<path d="M97.5 227.6 92.5 228.3 87.5 228.3 82.5 227.6 77.5 226.2 72.5 224 69.5 222.3 65.5 219.2 61.8 215.5 58.9 211.5 56.6 207.5 55 203.5 53.8 198.5 53.3 193.5 53.5 188.5 54.4 183.5 56.1 178.5 59.2 172.5 62.9 167.5 67.5 162.8 77.2 154.5 79.5 151.5 80.4 149.5 80.8 146.5 80.2 136.5 80.3 130.5 82 121.5 84.3 115.5 87.5 109.5 91.1 104.5 95.5 99.9 99.5 96.5 104.5 93.3 109.5 90.9 114.5 89.2 130.5 85.2 144.5 80.4 149.5 79 155.5 78.5 158.5 78.9 161.5 79.9 165.4 82.5 167.8 85.5 170.1 90.5 171 95.5 171 101.5 170.1 107.5 168.2 114.5 165.2 122.5 161.8 129.5 158.3 135.5 154.5 140.8 150.1 145.5 145.5 149.3 141.5 152 127.5 158.6 123.5 161.5 122.5 163.5 122.5 166.5 126.9 180.5 128.2 188.5 127.9 195.5 125.9 203.5 124.1 207.5 121 212.5 117.7 216.5 114.5 219.5 110.5 222.4 106.5 224.6 102.5 226.3Z" fill="rgb(4,33,243)" fill-rule="evenodd"/>
<path d="M93.5 227.5 86.5 227.5 79.5 226.2 72.5 223.2 66.5 219.1 61.9 214.5 58 208.5 55.2 201.5 54.1 194.5 54.2 189.5 55.2 183.5 56.9 178.5 60.2 172.5 63.2 168.5 66.5 165 79.5 154.5 81.4 152.5 82.5 150.5 83.1 146.5 82 136.5 82.1 129.5 83.4 122.5 86 115.5 90.1 108.5 95.5 102.1 101.5 97.2 108.5 93.4 115.5 91 131.5 87.4 148.5 81.8 152.5 81.2 155.5 81.3 160.5 82.7 163.5 84.7 166.4 88.5 168 92.5 168.8 97.5 168.6 103.5 167.5 109.5 165.4 116.5 162.5 123.5 158.9 130.5 155.5 135.9 151.5 140.9 147.5 144.9 143.5 148 138.5 151 123.5 157.5 121.5 158.9 120.1 160.5 119.5 162.5 120 165.5 125.1 178.5 127 187.5 126.9 195.5 124.9 203.5 123.2 207.5 120 212.5 116.6 216.5 112.5 220.1 108.5 222.8 103.5 225.2 98.5 226.7Z" fill="rgb(5,39,245)" fill-rule="evenodd"/>
<path d="M95.5 226.6 91.5 227 86.5 226.9 81.5 226 77.5 224.8 73.5 223 68.5 219.8 64.7 216.5 62.1 213.5 59.4 209.5 57.4 205.5 56 201.5 55.1 196.5 54.8 191.5 55.2 187.5 56 183.5 57.8 178.5 61.1 172.5 66.5 166.2 72.5 161.1 82.1 154.5 85 151.5 85.7 149.5 85.9 147.5 84.2 137.5 83.8 132.5 84.1 128.5 85 123.5 87 117.5 89.5 112.5 92.9 107.5 97.5 102.6 101.5 99.4 105.5 96.9 113.5 93.7 131.5 90 148.5 84.7 153.5 84.2 158.5 85.3 161.5 87.3 164.1 90.5 165.7 94.5 166.3 98.5 166.3 103.5 165.5 108.5 163.8 114.5 161 121.5 157.5 128.5 153.7 134.5 149.6 139.5 145.5 143.4 141.5 146.4 137.5 148.7 121 155.5 118.5 157 117 158.5 116.4 160.5 117 163.5 123.1 176.5 124.9 181.5 125.7 185.5 126.2 193.5 124.7 201.5 122.7 206.5 120.5 210.5 117.4 214.5 113.5 218.4 109.5 221.3 104.5 224 99.5 225.8Z" fill="rgb(6,50,246)" fill-rule="evenodd"/>
<path d="M97.5 225.5 93.5 226.2 88.5 226.3 84.5 225.9 79.5 224.7 75.5 223.2 71.5 221 67.5 218.1 63.8 214.5 60.8 210.5 58.7 206.5 57.1 202.5 56 197.5 55.6 193.5 55.8 188.5 56.8 183.5 58.2 179.5 62.1 172.5 67.5 166.4 74.5 160.9 85.4 154.5 88.6 151.5 89.2 149.5 89 147.5 86.6 138.5 85.9 133.5 86 129.5 86.7 124.5 88.5 118.5 91 113.5 94.4 108.5 98.2 104.5 101.5 101.7 105.5 99.2 109.5 97.3 113.5 96 131.5 92.8 148.5 87.9 152.5 87.7 156.5 88.5 159.6 90.5 161.2 92.5 162.3 94.5 163.4 98.5 163.5 103.5 162.6 109.5 160.5 116.3 157.3 123.5 153.5 130.3 147.5 138 140.5 143.9 132.5 148.2 116.5 154.2 114.3 155.5 112.8 157.5 112.8 159.5 113.5 161.5 121.1 174.5 123.2 179.5 124.5 184.5 125.2 189.5 125.2 194.5 124.3 199.5 122.7 204.5 120.8 208.5 118.1 212.5 112.5 218.3 105.5 222.8 101.5 224.4Z" fill="rgb(7,62,247)" fill-rule="evenodd"/>
<path d="M92.5 225.5 88.5 225.6 83.5 225 79.5 224 75.5 222.4 71.5 220.2 68.5 218 65.5 215.2 62.4 211.5 60 207.5 58.2 203.5 57.1 199.5 56.5 195.5 56.4 191.5 56.9 186.5 58 182.5 59.5 178.5 63.9 171.5 66.5 168.5 70.5 164.9 78.5 159.8 91.9 153.5 93.9 151.5 93.9 149.5 90.5 142.2 88.9 137.5 88.1 132.5 88.3 127.5 89.6 121.5 92.1 115.5 95.4 110.5 99.5 106 102.6 103.5 106.5 101.1 110.5 99.4 114.5 98.2 132.5 95.9 147.5 91.9 151.5 91.8 154.5 92.5 157.3 94.5 159.2 97.5 160.1 101.5 160 106.5 158.7 112.5 156.5 118.5 153 125.5 149.1 131.5 143.5 137.8 136.5 142.9 127.5 147.1 111 152.5 108.5 153.9 107.4 155.5 108.5 158.5 115.5 167.6 118.7 172.5 121.3 177.5 123.1 182.5 124.2 188.5 124.3 194.5 123.2 200.5 121.4 205.5 119.2 209.5 116.3 213.5 113.4 216.5 109.5 219.6 105.5 222 101.5 223.7 96.5 225Z" fill="rgb(7,74,247)" fill-rule="evenodd"/>
<path d="M110.5 148.6 104.5 149 101.5 148.4 99.5 147.5 97.5 146 95.1 143.5 93.1 140.5 91.8 137.5 90.6 131.5 91.1 124.5 93.5 117.5 97.5 111.3 100.5 108.2 104.5 105.1 108.5 102.9 113.5 101.2 119.5 100.4 132.5 99.7 146.5 96.9 150.5 97.2 153.1 98.5 154.7 100.5 155.7 103.5 155.8 107.5 155 111.5 153.4 116.5 150.6 122.5 147.6 127.5 144.5 131.6 138.5 137.5 134.5 140.3 130.5 142.4 120.5 146.3ZM94.5 224.6 87.5 224.8 79.5 223.2 73.5 220.6 67.9 216.5 63.3 211.5 59.8 205.5 57.7 198.5 57.2 191.5 58.2 184.5 60.4 178.5 64.1 172.5 68.5 167.7 74.5 163.2 82.5 159.1 89.5 156.9 96.5 156 100.5 156.7 104.5 158.8 110.5 163.9 115.5 169.6 119.2 175.5 121.8 181.5 123 186.5 123.5 192.5 123 197.5 121.3 203.5 118.9 208.5 115.3 213.5 110.5 218 105.5 221.2 100.5 223.3Z" fill="rgb(8,85,248)" fill-rule="evenodd"/>
<path d="M113.5 144.5 107.5 145 102.5 144 98.5 141.5 96.5 139.3 94.9 136.5 93.8 133.5 93.4 130.5 93.8 124.5 95.8 118.5 99.5 112.9 102.5 109.9 106.5 107 110.5 105.2 114.5 104.2 120.5 103.8 133.5 104.7 143.5 104.3 145.5 104.7 147.1 105.5 148.5 107.4 148.9 109.5 148.7 112.5 148 115.5 144.4 123.5 139.5 130.5 134.2 135.5 128 139.5 121.1 142.5ZM96.5 223.6 89.5 224.2 82.5 223.3 76.5 221.3 70.5 217.7 65.5 213 61.7 207.5 59.2 201.5 58 194.5 58.2 188.5 60 181.5 63 175.5 66.9 170.5 72.5 165.6 78.5 162 86.5 159.1 92.5 158.2 97.5 158.5 102.5 160.1 107.5 163.2 112.5 167.8 116.9 173.5 119.6 178.5 121.7 184.5 122.6 190.5 122.3 196.5 121.2 201.5 119.1 206.5 115.9 211.5 112.3 215.5 107.5 219.2 102.5 221.7Z" fill="rgb(9,96,249)" fill-rule="evenodd"/>
<path d="M113.5 140.5 108.5 140.8 104.5 140 100.5 137.6 98.2 134.5 96.9 130.5 96.9 125.5 98.3 120.5 100.5 116.5 103.5 113.1 106.5 110.8 110.5 108.9 114.5 108 118.5 108 123.5 108.9 129.5 111.1 133.6 113.5 136 116.5 136.5 119.5 135.3 124.5 132.3 129.5 128.4 133.5 124.2 136.5 118.5 139.2ZM97.5 222.6 91.5 223.4 84.5 223 78.5 221.3 72.5 218.2 67.9 214.5 63.8 209.5 60.7 203.5 59.1 197.5 58.8 190.5 59.8 184.5 62.2 178.5 65.4 173.5 69.5 169.1 75.5 164.7 81.5 161.8 88.5 160 94.5 159.7 99.5 160.7 104.5 162.9 108.5 165.6 113.5 170.5 117 175.5 119.9 181.5 121.4 187.5 121.8 192.5 121.1 198.5 119.2 204.5 116.4 209.5 113.2 213.5 108.5 217.6 102.5 220.9Z" fill="rgb(10,107,250)" fill-rule="evenodd"/>
<path d="M112.5 135.5 109.5 135.7 107.5 135.3 105.4 134.5 103.5 133 101.5 129.5 101.2 127.5 101.4 124.5 102.3 121.5 103.4 119.5 105 117.5 107.3 115.5 111.5 113.6 116.5 113.4 120.5 114.8 123.6 117.5 125.2 120.5 125.3 124.5 123.6 128.5 121 131.5 116.5 134.3ZM93.5 222.5 87.5 222.6 81.5 221.6 75.5 219.2 70.5 215.8 66.2 211.5 62.9 206.5 60.5 200.5 59.5 194.5 59.8 188.5 61.3 182.5 63.7 177.5 67.5 172.2 72.5 167.7 78.5 164.1 84.5 161.9 90.5 161 95.5 161.2 101.5 162.8 105.5 164.9 110.5 168.9 114.6 173.5 118.1 179.5 119.9 184.5 120.8 190.5 120.7 195.5 119.4 201.5 117.3 206.5 113.9 211.5 109.5 215.9 104.5 219.2 99.5 221.3Z" fill="rgb(8,124,251)" fill-rule="evenodd"/>
<path d="M94.5 221.7 88.5 222 82.5 221.1 76.5 218.8 71.5 215.6 67.2 211.5 63.8 206.5 61.6 201.5 60.4 195.5 60.5 189.5 61.8 183.5 64 178.5 67.5 173.5 72.5 168.8 77.5 165.6 83.5 163.2 89.5 162.2 94.5 162.3 100.5 163.7 105.5 166.3 109.5 169.3 113.4 173.5 116.6 178.5 119 184.5 119.9 189.5 119.9 195.5 118.9 200.5 116.9 205.5 113.7 210.5 109.9 214.5 105.5 217.7 100.5 220.1Z" fill="rgb(6,142,252)" fill-rule="evenodd"/>
<path d="M95.5 220.7 89.5 221.2 84.5 220.7 78.5 218.9 73.5 216.2 69.2 212.5 65.3 207.5 62.8 202.5 61.3 196.5 61.1 191.5 62.1 185.5 63.9 180.5 67.5 174.8 71.5 170.7 76.5 167.2 81.5 164.9 87.5 163.4 92.5 163.2 97.5 164 102.5 165.8 107.5 169 111.5 172.7 115 177.5 117.4 182.5 118.9 188.5 119.1 194.5 118.3 199.5 116.5 204.5 113.5 209.5 109.9 213.5 105.5 216.8 100.5 219.3Z" fill="rgb(4,161,253)" fill-rule="evenodd"/>
<path d="M96.5 219.7 91.5 220.4 85.5 220.1 79.5 218.4 74.5 215.9 70.3 212.5 66.9 208.5 64.1 203.5 62.5 198.5 61.9 193.5 62.5 187.5 63.9 182.5 66.6 177.5 70.5 172.7 74.5 169.5 79.5 166.7 85.5 164.8 91.5 164.2 96.5 164.8 100.5 166.1 105.5 168.7 110 172.5 113.5 176.9 116 181.5 117.8 187.5 118.3 192.5 117.9 197.5 116.4 202.5 113.9 207.5 110.5 211.8 106.5 215.2 101.5 218Z" fill="rgb(2,178,254)" fill-rule="evenodd"/>
<path d="M92.5 219.5 86.5 219.4 81.5 218.3 76.5 216.1 72.5 213.4 68.6 209.5 66 205.5 63.9 200.5 62.8 194.5 63 189.5 64.1 184.5 66.3 179.5 70 174.5 73.5 171.3 78.5 168.1 83.5 166.2 89.5 165.3 94.5 165.5 99.5 166.8 104.5 169.3 108.5 172.4 112.1 176.5 115 181.5 116.7 186.5 117.4 191.5 117.1 196.5 115.9 201.5 113.5 206.5 110.5 210.5 106.5 214.2 102.5 216.7 97.5 218.6Z" fill="rgb(1,195,255)" fill-rule="evenodd"/>
<path d="M93.5 218.6 88.5 218.8 83.5 218 78.5 216.2 73.5 213.1 69.7 209.5 66.9 205.5 64.8 200.5 63.7 195.5 63.8 189.5 65 184.5 67.3 179.5 70.3 175.5 74.5 171.6 78.5 169.2 83.5 167.2 88.5 166.3 93.5 166.4 98.5 167.5 103.5 169.8 107.5 172.8 111 176.5 114 181.5 115.8 186.5 116.4 190.5 116.4 195.5 115.3 200.5 113.1 205.5 110.5 209.2 106.5 213.1 102.5 215.7 97.5 217.8Z" fill="rgb(0,211,250)" fill-rule="evenodd"/>
<path d="M94.5 217.6 89.5 218 84.5 217.4 79.5 215.8 75.4 213.5 71.5 210.2 67.9 205.5 66 201.5 64.8 196.5 64.5 191.5 65.3 186.5 67.2 181.5 69.8 177.5 73.5 173.6 77.5 170.7 81.5 168.9 86.5 167.5 90.5 167.2 95.5 167.7 100.5 169.4 104.5 171.7 108.5 175.1 111.9 179.5 113.9 183.5 115.3 188.5 115.6 193.5 114.9 198.5 113.2 203.5 110.8 207.5 107.5 211.2 103.5 214.2 99.5 216.2Z" fill="rgb(0,226,243)" fill-rule="evenodd"/>
<path d="M94.5 216.7 90.5 217.1 85.5 216.7 80.5 215.2 76.5 213.2 72.5 209.9 69.6 206.5 67.4 202.5 65.8 197.5 65.4 192.5 65.8 188.5 67.3 183.5 69.5 179.5 72.5 175.8 76.5 172.5 80.5 170.3 85.5 168.7 90.5 168.2 94.5 168.6 99.5 170 103.5 172.2 107.5 175.4 110.8 179.5 112.9 183.5 114.3 188.5 114.7 192.5 114.2 197.5 112.6 202.5 110.4 206.5 107.5 209.9 103.5 213.1 99.5 215.2Z" fill="rgb(0,240,237)" fill-rule="evenodd"/>
<path d="M95.5 215.6 91.5 216.2 86.5 216 81.5 214.7 77.5 212.7 73.5 209.6 70.8 206.5 68.4 202.5 67 198.5 66.3 193.5 66.6 189.5 67.9 184.5 69.9 180.5 73.1 176.5 76.5 173.6 80.5 171.3 84.5 170 89.5 169.2 93.5 169.5 98.5 170.7 102.5 172.7 106.5 175.8 109.5 179.4 111.8 183.5 113.1 187.5 113.7 192.5 113.4 196.5 112 201.5 109.9 205.5 106.6 209.5 103.5 212 99.5 214.3Z" fill="rgb(0,254,230)" fill-rule="evenodd"/>
<path d="M95.5 214.6 91.5 215.2 86.5 215 82.5 214 78.5 212.2 74.7 209.5 71.9 206.5 69.5 202.5 68 198.5 67.3 193.5 67.6 189.5 68.6 185.5 70.5 181.5 73.5 177.5 76.5 174.8 80.5 172.4 84.5 171 89.5 170.3 93.5 170.5 97.5 171.5 101.5 173.3 105.5 176.3 108.4 179.5 110.7 183.5 112.1 187.5 112.8 192.5 112.5 196.5 111.4 200.5 109.4 204.5 106.5 208.3 103.5 210.9 99.5 213.2Z" fill="rgb(0,255,198)" fill-rule="evenodd"/>
<path d="M95.5 213.6 91.5 214.3 87.5 214.2 83.5 213.4 79.5 211.7 76.2 209.5 73.2 206.5 70.6 202.5 69 198.5 68.3 194.5 68.4 190.5 69.3 186.5 71 182.5 73.5 179 76.5 176.1 80.5 173.6 84.5 172.1 88.5 171.4 92.5 171.4 96.5 172.3 100.5 174 104.2 176.5 107.1 179.5 109.6 183.5 111.1 187.5 111.7 191.5 111.6 195.5 110.7 199.5 108.9 203.5 106.5 206.8 103.5 209.7 99.5 212.2Z" fill="rgb(0,255,163)" fill-rule="evenodd"/>
<path d="M95.5 212.6 91.5 213.3 87.5 213.2 83.5 212.3 79.5 210.5 76.5 208.4 73.7 205.5 71.7 202.5 70.1 198.5 69.4 194.5 69.5 190.5 70.4 186.5 72.2 182.5 74.5 179.4 77.5 176.7 80.5 174.8 84.5 173.2 88.5 172.5 92.5 172.5 96.5 173.4 100.5 175.2 103.7 177.5 106.5 180.5 108.4 183.5 110 187.5 110.6 191.5 110.5 195.5 109.9 198.5 108.3 202.5 105.5 206.4 102.5 209.2 99.5 211Z" fill="rgb(0,255,126)" fill-rule="evenodd"/>
<path d="M94.5 211.7 90.5 212.3 86.5 212 82.5 210.8 79.5 209.3 76.5 207 74.3 204.5 72.4 201.5 70.9 197.5 70.4 193.5 70.7 189.5 71.9 185.5 73.5 182.5 75.9 179.5 78.5 177.3 81.5 175.5 85.5 174.1 89.5 173.5 93.5 173.8 97.5 175 100.5 176.5 103.5 178.8 105.8 181.5 107.7 184.5 109.1 188.5 109.6 192.5 109.3 196.5 108 200.5 106.5 203.3 104.5 205.9 101.5 208.6 98.5 210.3Z" fill="rgb(0,255,86)" fill-rule="evenodd"/>
<path d="M94.5 210.6 91.5 211.1 87.5 211 83.5 210 80.5 208.6 77.5 206.4 74.9 203.5 73.2 200.5 72.1 197.5 71.6 194.5 71.7 190.5 72.8 186.5 74.2 183.5 76.5 180.6 78.8 178.5 81.5 176.8 85.5 175.3 88.5 174.8 92.5 174.8 96.5 175.8 99.5 177.3 102.5 179.5 105.1 182.5 106.8 185.5 107.9 188.5 108.4 191.5 108.3 195.5 107.2 199.5 105.7 202.5 103.5 205.3 101 207.5 97.6 209.5Z" fill="rgb(6,255,54)" fill-rule="evenodd"/>
<path d="M93.5 209.6 90.5 209.9 86.5 209.6 83.5 208.7 80.5 207.2 77.5 204.7 75.7 202.5 74.1 199.5 73.1 196.5 72.8 193.5 73.1 189.5 74.1 186.5 75.7 183.5 77.5 181.3 80.5 178.8 83.5 177.2 86.5 176.3 90.5 175.9 93.5 176.3 96.5 177.2 99.5 178.7 102.5 181.2 104.3 183.5 105.9 186.5 106.9 189.5 107.2 193.5 106.8 196.5 105.9 199.5 104.2 202.5 102.5 204.6 99.5 207.1 96.5 208.7Z" fill="rgb(24,255,36)" fill-rule="evenodd"/>
<path d="M91.5 208.6 88.5 208.6 85.5 208.1 82.5 206.9 79.5 204.8 76 200.5 74.7 197.5 74.1 194.5 74.1 191.5 74.7 188.5 76 185.5 77.5 183.3 79.5 181.2 82.5 179.1 85.5 177.9 88.5 177.3 91.5 177.3 94.5 177.9 97.5 179.1 100.5 181.2 104 185.5 105.2 188.5 105.8 191.5 105.8 194.5 105.2 197.5 103.9 200.5 102.5 202.7 100.5 204.7 97.5 206.8 94.5 208Z" fill="rgb(43,255,17)" fill-rule="evenodd"/>
<path d="M94.5 206.6 91.5 207.2 88.5 207.2 83.5 205.8 81.3 204.5 79.1 202.5 77.5 200.3 76.2 197.5 75.5 194.5 75.6 191.5 77.1 186.5 78.5 184.3 80.5 182.2 82.9 180.5 85.5 179.4 88.5 178.7 91.5 178.7 96.5 180.2 98.6 181.5 100.8 183.5 102.5 185.8 103.7 188.5 104.4 191.5 104.4 194.5 102.9 199.5 101.5 201.7 99.5 203.8 97.5 205.2Z" fill="rgb(80,255,0)" fill-rule="evenodd"/>
<path d="M92.5 205.5 87.5 205.5 84.5 204.6 82.6 203.5 79.5 200.5 78.3 198.5 77.3 195.5 77.3 190.5 78.3 187.5 79.5 185.5 82.6 182.5 84.5 181.4 87.5 180.5 92.5 180.5 95.5 181.4 97.3 182.5 100.5 185.6 101.6 187.5 102.7 190.5 102.7 195.5 101.6 198.5 100.5 200.4 97.3 203.5 95.5 204.5Z" fill="rgb(139,255,0)" fill-rule="evenodd"/>
<path d="M92.5 203.7 88.5 203.9 84.3 202.5 80.9 199.5 79.1 195.5 78.9 191.5 80.5 187.2 83.5 184 87.5 182.3 91.5 182.1 95.6 183.5 99 186.5 100.8 190.5 101 194.5 99.5 198.7 96.5 201.9Z" fill="rgb(220,248,0)" fill-rule="evenodd"/>
<path d="M92.5 201.6 88.5 201.9 85.5 200.8 82.8 198.5 81.2 195.5 81 191.5 82.2 188.5 84.5 185.9 87.5 184.4 91.5 184.2 94.5 185.3 97.1 187.5 98.7 190.5 98.9 194.5 97.8 197.5 95.5 200.1Z" fill="rgb(255,144,0)" fill-rule="evenodd"/>
<path d="M92.5 198.7 90.5 199.2 87.5 198.8 85.5 197.5 84.2 195.5 83.7 192.5 84.2 190.5 85.5 188.7 87.5 187.3 90.5 186.9 92.5 187.4 94.5 188.7 95.7 190.5 96.2 192.5 95.7 195.5 94.5 197.3Z" fill="rgb(250,10,0)" fill-rule="evenodd"/>
<path d="M229.8 0.4h1.2M14.2 8.8h1.2M11 14.5h1.2M193.1 15.7h1.2M57.9 23.4h1.2M73.1 29.4h1.2M160.1 36.3h1.2M159.9 38.7h1.2M157.9 39.4h1.2M168 40.7h1.2M153.1 41.3h1.2M155.1 41.4h1.2M167 41.7h2M171.9 41.5h1.2M155.9 42.4h1.2M155.1 43.6h1.2M166.1 43.7h1.2M168.2 43.3h1.2M140.8 44.7h1.2M158.2 44.6h1.2M162.2 44.3h1.2M166.1 44.3h2M179.1 44.5h1.2M161.8 45.5h1.2M167.9 45.2h1.2M179.2 45.6h1.2M136.1 46.6h1.2M141.1 47.4h1.2M144 47.8h1.2M174 47.8h2M126 48.3h1.2M177.3 48.5h1.2M131.7 49.3h1.2M134.9 49.7h1.2M178.2 49.7h1.2M268 49.4h1.2M119.1 50.7h1.2M183.1 50.2h1.2M194.9 51.8h1.2M129.9 52.2h1.2M187.8 52.4h1.2M125.1 53.5h2M128.2 53.5h1.2M186.2 53.5h2M198.1 53.8h1.2M118 55.8h1.2M194.7 55.5h1.2M115.7 56.6h1.2M191 56.5h1.2M193.2 56.8h1.2M117.1 57.3h1.2M188.2 57.8h2M99.9 58.5h1.2M103.7 58.5h1.2M112 58.6h1.2M101.1 59.8h1.2M190.9 59.3h2M60.9 60.3h1.2M106.9 60.5h1.2M109.2 60.5h1.2M195.1 61.7h1.2M103.1 62.3h1.2M106.8 62.6h1.2M236.9 62.3h1.2M97.8 64.7h1.2M102 64.6h1.2M196.1 64.7h1.2M198.1 64.5h1.2M199.8 64.4h1.2M89.1 65.8h1.2M92.7 65.6h1.2M97.2 65.7h1.2M101 65.3h2M193.9 66.5h1.2M195.7 66.3h1.2M93.2 67.3h3M201.9 67.4h1.2M223.3 67.5h1.2M259.3 67.3h1.2M194.9 68.7h1.2M88.9 70.7h1.2M91.2 71.4h1.2M196 71.3h1.2M202.9 71.7h1.2M84.9 73.3h1.2M84.9 74.6h1.2M201.2 74.6h3M78.1 75.8h1.2M83.8 75.6h1.2M197.7 75.4h1.2M200.9 75.6h1.2M83.7 76.5h1.2M198.1 76.8h1.2M77.3 79.2h2M81.1 80.8h1.2M74 82.3h1.2M77.8 82.3h1.2M199.1 84.6h1.2M201.9 84.5h1.2M204.2 85.5h1.2M72 87.5h1.2M199.3 87.6h2M204.8 87.6h1.2M205.8 88.6h1.2M72.8 89.8h1.2M201.2 89.8h2M66.8 90.4h1.2M202 91.3h1.2M66.1 92.2h1.2M72.2 92.6h1.2M202 92.2h1.2M64.9 93.2h1.2M70.9 93.6h1.2M201.3 94.4h1.2M66.8 95.3h1.2M66.9 96.3h1.2M200.3 96.4h1.2M199 97.5h1.2M200 98.2h1.2M203.9 98.7h1.2M203.9 99.2h1.2M59.9 100.4h1.2M229.2 100.2h1.2M60.2 101.3h1.2M202.1 102.7h1.2M58.1 103.6h1.2M61.9 103.7h2M65 103.4h1.2M198 103.6h1.2M200.8 104.8h1.2M62.3 105.4h1.2M63.3 106.5h1.2M198.7 106.4h1.2M196.8 107.4h2M59 108.6h1.2M197.2 108.7h1.2M8.1 109.3h1.2M59.8 109.8h1.2M59.9 110.4h2M197.7 110.2h1.2M206 110.7h1.2M200 111.2h1.2M201.9 111.5h1.2M195.7 112.3h1.2M56.3 116.5h1.2M196.7 117.7h1.2M199.2 117.7h1.2M201.3 117.6h1.2M195 118.5h1.2M56 119.2h1.2M194.8 119.3h1.2M193.9 121.4h1.2M193.8 122.7h1.2M198.3 122.8h1.2M193.8 123.4h2M193.2 126.3h1.2M49.2 127.4h1.2M47.2 128.8h1.2M49.2 128.3h1.2M51.2 128.7h1.2M193.2 128.3h1.2M52.9 131.6h1.2M194.1 131.3h1.2M47.8 133.8h1.2M198.8 133.8h1.2M193.2 134.4h1.2M189.9 137.4h2M192.7 137.6h1.2M41.8 138.2h1.2M52.1 138.2h1.2M193.3 138.2h1.2M45.8 139.2h1.2M188.1 139.3h1.2M189.2 140.5h1.2M191.1 140.7h1.2M188 142.7h1.2M192.1 142.7h1.2M195.1 142.7h1.2M46.9 143.7h1.2M187.8 143.7h1.2M189.8 143.4h1.2M192.1 143.8h1.2M42.9 145.4h1.2M46.2 145.5h1.2M194.7 145.7h1.2M41.1 146.5h1.2M49.1 146.4h1.2M186.1 146.4h1.2M189.8 146.7h1.2M36.2 147.6h1.2M38.9 147.6h1.2M191.8 147.6h1.2M267.1 148.6h1.2M45.2 149.4h2M268.3 149.4h1.2M185.2 150.2h2M188.9 150.5h1.2M36.8 151.2h1.2M185.1 151.2h1.2M188.2 151.8h1.2M188.9 152.7h1.2M44.1 153.4h1.2M186 154.5h1.2M38.2 155.6h1.2M44 155.4h1.2M196 155.4h1.2M35.9 156.7h1.2M39 156.3h1.2M39.9 157.3h1.2M184.8 157.2h1.2M191.2 157.6h1.2M197.7 158.5h1.2M190.8 159.4h1.2M39.1 160.2h1.2M192.2 161.5h1.2M186.7 162.3h2M39.8 163.5h1.2M251.2 163.6h1.2M31.8 164.5h1.2M35.2 164.4h2M192.3 164.8h2M34.1 165.3h1.2M36.2 165.5h1.2M183.8 165.3h1.2M186 165.5h1.2M37 166.5h2M36 167.3h1.2M183.8 167.8h1.2M32.8 168.3h1.2M186.7 168.7h1.2M33.1 169.4h1.2M188.2 170.7h2M30 171.4h1.2M31.9 171.2h1.2M184.2 172.3h1.2M193.2 172.2h1.2M33.3 177.3h1.2M185.1 177.8h1.2M184.2 178.7h1.2M30.8 179.3h1.2M34 180.5h1.2M34.2 181.7h1.2M185.8 181.7h1.2M32.2 182.3h2M183.9 182.7h1.2M193.2 183.3h1.2M31.8 184.4h1.2M28.1 185.5h1.2M30.2 185.3h1.2M185.8 185.4h1.2M26.8 186.6h1.2M29.9 186.4h1.2M188.8 186.4h1.2M193.8 186.6h1.2M27 187.5h1.2M31 187.7h1.2M184 187.3h1.2M183.1 188.4h1.2M185.3 188.5h2M183.1 189.6h1.2M32.8 190.6h1.2M33.1 191.2h1.2M184.2 191.5h2M29.9 192.4h1.2M181.9 192.6h1.2M192.1 192.6h1.2M184.8 194.5h1.2M185.9 195.7h2M182 196.4h1.2M184.2 196.2h1.2M181.3 197.4h3M187 197.4h1.2M27.2 198.4h1.2M30 198.6h1.2M32.2 198.6h1.2M188.3 198.5h1.2M219.2 198.3h1.2M32.2 199.6h1.2M34 199.8h1.2M179.3 200.4h1.2M182.1 201.5h1.2M254.8 201.6h1.2M179 202.4h1.2M181.3 202.7h1.2M182.7 202.4h1.2M33.1 203.5h1.2M182 203.6h1.2M178.2 204.5h1.2M29.2 205.3h1.2M187.3 205.5h1.2M35.9 206.6h1.2M179.1 206.8h1.2M31 207.4h1.2M30.2 208.6h1.2M34.8 208.5h1.2M36.7 208.5h1.2M179.1 208.5h1.2M183.2 208.7h1.2M35 210.5h2M177.1 210.3h1.2M34.9 211.6h1.2M179.7 211.3h1.2M34.8 212.4h1.2M173.2 212.7h1.2M175 212.4h2M38 213.6h1.2M13.8 214.3h1.2M37 214.2h2M173.2 214.7h2M179.8 214.4h1.2M171 215.6h1.2M177.1 215.5h1.2M41.2 216.6h1.2M168.1 216.4h1.2M171.7 216.5h1.2M38.2 217.4h1.2M41.8 217.5h1.2M173.1 218.4h1.2M168.1 219.8h2M44.3 220.5h1.2M166 220.5h1.2M169.8 220.2h1.2M163.1 221.8h1.2M166.7 221.6h1.2M173.9 221.5h1.2M44.2 223.5h2M158.9 223.4h1.2M41.3 224.4h1.2M158.1 224.5h1.2M37 225.6h1.2M47.3 225.8h1.2M156.8 225.5h2M161 225.6h1.2M182.1 225.4h1.2M17.8 226.4h1.2M159 226.8h1.2M212.3 226.7h1.2M148.1 227.4h1.2M150.1 227.6h1.2M154 227.2h1.2M160.3 227.3h1.2M49 228.8h1.2M152.2 228.5h3M161.9 228.5h1.2M163.7 228.6h1.2M166.9 228.2h1.2M50.1 229.3h1.2M54.2 229.8h1.2M154.8 229.5h1.2M157.7 229.3h1.2M184.9 229.7h1.2M240.2 229.3h1.2M50.1 230.4h3M141 230.6h1.2M155 230.8h1.2M48.8 231.8h1.2M131.1 231.3h1.2M143.1 231.7h1.2M151.1 231.5h1.2M55.7 232.3h1.2M125.9 232.5h2M143.9 232.4h1.2M148.2 232.8h1.2M149.9 232.7h1.2M122.8 233.6h1.2M133.3 233.3h1.2M138.2 233.7h1.2M140.8 233.6h1.2M59.2 234.6h1.2M140.7 234.7h1.2M143.8 234.6h1.2M61.1 235.6h2M117.8 235.8h1.2M124.9 235.8h1.2M132.1 235.6h1.2M143.1 235.6h1.2M135.3 236.6h1.2M60.7 237.3h1.2M120.9 237.4h1.2M130.9 237.7h4M135.9 237.5h1.2M138.8 237.7h2M151.8 237.5h1.2M65.8 238.8h1.2M72.2 238.3h1.2M108.8 238.7h1.2M117.2 238.5h1.2M130.8 238.6h1.2M69.8 239.3h1.2M106.9 239.7h1.2M76.1 240.6h1.2M80.8 240.8h2M97.3 240.7h1.2M103.9 240.6h1.2M125.8 240.7h1.2M62.8 241.2h1.2M90 241.3h1.2M96.1 241.4h1.2M99.9 241.6h2M112.1 241.6h1.2M128 241.6h1.2M260.7 241.4h2M68.9 242.6h1.2M80.1 242.5h1.2M120.9 242.4h1.2M81.9 243.5h1.2M93.8 243.4h1.2M101.3 243.3h1.2M79.9 244.2h1.2M92.2 244.6h1.2M3.1 253.8h1.2M19.9 253.5h1.2M129.1 257.2h1.2M46.9 264.3h1.2M43.2 267.3h1.2M237.1 267.4h1.2" stroke="#5a55dc" stroke-width="1.25" stroke-opacity="0.85" fill="none"/>
<path d="M163.2 46.7h1.2M161.8 47.6h1.2M164 47.5h1.2M169 47.6h1.2M148.1 48.3h1.2M154.9 48.6h1.2M167.2 48.2h1.2M168.9 48.3h2M175.1 48.6h1.2M151.3 49.4h1.2M152.9 49.7h1.2M160.7 49.8h2M164.2 49.3h2M166.8 49.2h2M170.9 49.5h1.2M175.1 49.7h1.2M141.9 50.7h1.2M144.9 50.7h1.2M150.1 50.5h1.2M154.1 50.6h1.2M155.7 50.7h1.2M160.8 50.7h1.2M163.1 50.3h1.2M165.1 50.2h1.2M174.1 50.3h1.2M134.8 51.5h1.2M142.3 51.3h1.2M156 51.6h1.2M158.2 51.5h1.2M163.2 51.7h1.2M167 51.8h1.2M176.9 51.8h1.2M133.2 52.5h1.2M138.1 52.3h1.2M143.2 52.5h1.2M145 52.3h1.2M151.3 52.6h3M156.2 52.4h1.2M159.3 52.3h1.2M161.2 52.7h1.2M163.9 52.4h2M167 52.5h1.2M174 52.4h1.2M176.9 52.5h2M129.8 53.4h1.2M138.3 53.4h1.2M140 53.3h1.2M142.1 53.7h1.2M144 53.6h1.2M149.8 53.3h3M156.2 53.4h3M159.8 53.8h1.2M164.2 53.6h1.2M166 53.3h1.2M168 53.4h5M177.1 53.2h3M132.8 54.4h2M144.1 54.5h1.2M145.8 54.6h1.2M151.9 54.6h1.2M154.8 54.2h1.2M157 54.7h1.2M160.2 54.6h1.2M166.2 54.3h1.2M170.9 54.5h2M182.1 54.8h1.2M123.9 55.5h1.2M125.9 55.5h2M131.3 55.7h1.2M133.2 55.5h2M136.9 55.4h3M141.3 55.6h6M151.2 55.5h3M162.9 55.6h2M166.9 55.3h1.2M168.7 55.4h2M175.8 55.2h1.2M178.3 55.7h1.2M182.9 55.7h1.2M185.2 55.4h1.2M122.7 56.2h1.2M135.8 56.6h1.2M142.2 56.6h2M144.8 56.5h1.2M147.2 56.6h2M169.1 56.7h1.2M172.3 56.5h1.2M174.9 56.4h2M184 56.6h1.2M120.1 57.6h1.2M122.8 57.8h1.2M135.1 57.4h1.2M138.9 57.5h1.2M143.8 57.4h1.2M171.7 57.4h2M176.1 57.3h1.2M187 57.5h1.2M117 58.5h1.2M118.8 58.5h1.2M120.8 58.4h1.2M122.9 58.7h1.2M124.8 58.7h1.2M128.8 58.2h1.2M130.9 58.7h1.2M132.9 58.2h1.2M135.7 58.6h3M141.9 58.7h1.2M178.2 58.5h1.2M183 58.3h2M186.2 58.6h1.2M188.1 58.6h1.2M117.2 59.4h1.2M124 59.3h1.2M128.3 59.3h3M132.2 59.6h2M138.8 59.7h1.2M174.9 59.2h1.2M176.8 59.5h2M181.2 59.7h1.2M188 59.3h1.2M115.2 60.3h1.2M119.2 60.7h1.2M124.7 60.6h1.2M127 60.3h1.2M129.1 60.6h1.2M130.8 60.2h2M134.1 60.7h4M178.3 60.6h2M183.1 60.5h2M186.1 60.5h1.2M112.3 61.2h1.2M118.2 61.2h1.2M125.2 61.4h2M127.9 61.6h1.2M129.8 61.5h3M134.1 61.5h1.2M178.9 61.6h1.2M180.8 61.3h1.2M182.8 61.6h1.2M186.3 61.7h1.2M191.2 61.7h1.2M110 62.7h1.2M111.9 62.5h1.2M120.9 62.5h2M124.8 62.8h1.2M129.1 62.6h2M184.1 62.5h1.2M187.9 62.4h1.2M108.1 63.3h2M116.2 63.7h1.2M117.9 63.3h1.2M123.9 63.3h2M126.9 63.5h3M182.1 63.5h2M191 63.7h1.2M104.2 64.3h1.2M115.1 64.5h1.2M117.1 64.5h1.2M120.2 64.7h1.2M122.9 64.2h4M182 64.7h1.2M186.1 64.3h1.2M192.1 64.4h1.2M111.9 65.5h2M116.9 65.8h1.2M119.3 65.3h2M121.9 65.2h2M184.9 65.6h2M188.1 65.8h1.2M101.1 66.7h1.2M104.1 66.2h1.2M106.9 66.4h3M111.2 66.7h2M115.2 66.3h1.2M117.7 66.6h1.2M183.9 66.5h1.2M187.2 66.7h1.2M189.2 66.4h1.2M99.2 67.6h1.2M105.1 67.6h2M110.8 67.4h1.2M113.1 67.6h1.2M115 67.3h1.2M117.2 67.7h2M184.9 67.3h1.2M186.8 67.6h1.2M97.8 68.6h1.2M100.2 68.2h1.2M108 68.6h1.2M109.7 68.6h1.2M111.7 68.2h1.2M115 68.4h1.2M183.8 68.2h2M190.2 68.4h2M194.3 68.3h1.2M98.8 69.7h1.2M100.8 69.6h1.2M103.1 69.4h1.2M104.9 69.7h1.2M108.7 69.4h5M185 69.7h1.2M189 69.5h2M193.2 69.8h1.2M194.8 69.7h1.2M98.1 70.7h3M103 70.4h1.2M104.8 70.7h1.2M109.2 70.5h1.2M189.1 70.4h2M194.2 70.4h1.2M98.7 71.7h2M185.9 71.8h3M194.1 71.5h2M92.9 72.4h1.2M98.3 72.3h1.2M99.8 72.4h2M105.7 72.8h1.2M186.9 72.4h1.2M189.1 72.6h1.2M191 72.4h1.2M92.8 73.7h1.2M98 73.2h2M103.7 73.3h1.2M188.2 73.8h1.2M194.2 73.8h2M92.9 74.5h1.2M94.8 74.2h1.2M98.1 74.6h1.2M100.8 74.2h1.2M186.8 74.3h1.2M188.9 74.5h2M193.8 74.7h1.2M88 75.7h1.2M97.2 75.5h1.2M98.8 75.2h2M188.1 75.8h1.2M191 75.7h1.2M192.8 75.8h2M92.7 76.5h1.2M97.1 76.5h1.2M99.2 76.3h1.2M188 76.4h1.2M193.9 76.3h1.2M91.2 77.3h1.2M94.2 77.4h1.2M97.1 77.6h1.2M188 77.7h1.2M190.1 77.8h6M87.2 78.7h1.2M91 78.6h1.2M93 78.6h3M189.1 78.5h1.2M195.8 78.7h1.2M86 79.7h1.2M91 79.6h2M189.2 79.3h1.2M192.1 79.5h3M197.1 79.7h1.2M86.2 80.3h1.2M88.1 80.3h1.2M89.7 80.4h4M190 80.7h4M194.9 80.2h1.2M197.8 80.6h1.2M81.8 81.6h1.2M86.8 81.3h1.2M90.9 81.4h1.2M189.1 81.7h1.2M191.2 81.6h1.2M193 81.4h1.2M197 81.7h1.2M88 82.3h1.2M90.2 82.8h1.2M190.1 82.4h3M193.9 82.7h2M197.1 82.5h1.2M82.7 83.4h1.2M84.7 83.5h1.2M193.3 83.3h3M198.1 83.3h1.2M78.8 84.4h1.2M83.2 84.5h2M86.2 84.5h1.2M88.3 84.3h1.2M192.9 84.5h1.2M196.1 84.5h1.2M198.2 84.5h1.2M77.8 85.6h1.2M81.3 85.6h1.2M83.3 85.3h1.2M86 85.5h1.2M190.8 85.4h1.2M194.8 85.6h1.2M197 85.4h1.2M78.3 86.7h1.2M80 86.3h1.2M81.8 86.3h2M193.9 86.4h1.2M195.9 86.5h1.2M197.9 86.3h1.2M84.3 87.3h2M190.9 87.8h1.2M197.8 87.7h1.2M76 88.7h1.2M78.9 88.3h1.2M83.3 88.8h2M191.3 88.4h2M193.9 88.5h1.2M76.3 89.8h2M79 89.7h1.2M82.9 89.7h1.2M191.2 89.3h1.2M193.1 89.7h2M78.8 90.8h3M191 90.4h2M197 90.3h1.2M80.1 91.3h2M191 91.7h1.2M194.3 91.5h1.2M196.3 91.4h1.2M198 91.7h1.2M76 92.8h5M192.9 92.6h1.2M197.1 92.5h2M73.9 93.4h4M191 93.3h2M194 93.8h1.2M75.2 94.7h2M191.8 94.6h1.2M70.8 95.3h1.2M73.2 95.4h1.2M77.8 95.3h1.2M195.3 95.7h1.2M70 96.8h2M76.2 96.5h1.2M190.1 96.5h1.2M193.3 96.2h2M69 97.7h1.2M75.3 97.7h2M190.1 97.3h2M71 98.5h2M73.7 98.4h1.2M192.9 98.6h1.2M195.1 98.7h1.2M67.7 99.4h1.2M70.9 99.4h4M190 99.7h2M192.7 99.5h1.2M195.8 99.4h1.2M68.8 100.7h3M191.2 100.7h4M69.3 101.4h1.2M72.2 101.8h3M189.7 101.8h2M66.1 102.4h1.2M69.1 102.7h1.2M192.2 102.5h2M195.8 102.7h1.2M71.9 103.5h1.2M188.8 103.4h1.2M191.9 103.6h1.2M195.7 103.4h1.2M67.8 104.5h4M192.9 104.2h1.2M195 104.3h3M66.2 105.4h1.2M69 105.3h1.2M70.9 105.2h1.2M189.3 105.5h2M193.8 105.7h1.2M63.8 106.2h1.2M67.3 106.4h3M189.2 106.7h1.2M192.8 106.4h1.2M195.1 106.4h2M62.8 107.3h1.2M68.1 107.7h1.2M70.1 107.4h1.2M190 107.5h1.2M192 107.3h1.2M193.8 107.7h1.2M65.9 108.7h1.2M68.8 108.5h1.2M187.7 108.7h1.2M191.7 108.4h2M65.1 109.5h2M67.9 109.6h2M65.2 110.7h1.2M68.1 110.4h2M188.1 110.2h1.2M192.1 110.3h2M65.7 111.6h3M189.9 111.5h1.2M194.1 111.6h1.2M61.2 112.6h1.2M64.2 112.7h1.2M66.1 112.7h2M188.7 112.2h2M65.2 113.7h1.2M187.1 113.4h1.2M190.3 113.7h1.2M64 114.4h4M188 114.4h2M193.3 114.6h1.2M60.8 115.4h3M66 115.8h1.2M188.3 115.5h1.2M193 115.3h1.2M61.8 116.4h1.2M63.8 116.6h1.2M186.9 116.7h2M190.1 116.4h1.2M64.1 117.4h1.2M187.1 117.6h1.2M188.8 117.2h2M194 117.3h1.2M64.1 118.8h2M185.9 118.7h2M190.3 118.5h1.2M192.8 118.4h1.2M58.1 119.5h1.2M64.1 119.8h1.2M184.8 119.3h2M188.2 119.6h1.2M60.1 120.2h1.2M63.2 120.3h1.2M185.2 120.4h1.2M186.7 120.6h3M62.8 121.4h1.2M185.7 121.5h1.2M191.3 121.6h2M62.1 122.4h2M184.2 122.7h1.2M186.9 122.6h2M192.2 122.7h2M184.1 123.7h1.2M186.2 123.2h1.2M187.9 123.8h1.2M58.7 124.5h2M61.9 124.5h2M186 124.3h2M63.2 125.7h2M185.2 125.4h2M61.9 126.8h2M183.2 126.5h2M191.2 126.6h1.2M56.8 127.7h2M62.2 127.2h2M182.8 127.4h2M187.2 127.8h2M59.1 128.7h1.2M60.9 128.3h3M183.2 128.7h2M185.8 128.5h2M61 129.6h1.2M59.8 130.5h1.2M186.8 130.6h1.2M55.2 131.2h1.2M59.2 131.7h4M181 131.7h1.2M183.7 131.6h3M59 132.2h3M182 132.4h1.2M185.2 132.5h1.2M188.1 132.6h1.2M56.3 133.3h1.2M58.2 133.4h1.2M60.8 133.6h2M181 133.8h2M186.8 133.6h1.2M57 134.2h1.2M62.2 134.8h1.2M179.9 134.7h1.2M184.2 134.3h1.2M186.2 134.7h3M54 135.2h1.2M55.7 135.3h1.2M60.7 135.7h1.2M182 135.7h4M179.2 136.8h1.2M182.2 136.2h1.2M183.8 136.5h2M54.1 137.5h1.2M56.1 137.2h4M179.2 137.4h1.2M180.9 137.4h1.2M183.1 137.4h1.2M184.9 137.3h1.2M188 137.7h1.2M54.3 138.3h1.2M57.2 138.6h3M178 138.5h1.2M185.2 138.7h1.2M186.8 138.7h2M51.8 139.4h1.2M53.8 139.5h1.2M58.2 139.2h3M179.2 139.5h1.2M180.7 139.6h1.2M183.3 139.6h1.2M186.8 139.5h1.2M52.2 140.2h1.2M56.2 140.6h1.2M57.8 140.7h1.2M178.8 140.3h3M183.8 140.7h1.2M51.7 141.4h1.2M54.1 141.7h1.2M176.7 141.8h2M179.8 141.4h1.2M182.2 141.5h1.2M184.8 141.6h1.2M51.3 142.5h1.2M53.3 142.7h1.2M59.3 142.3h1.2M179 142.4h1.2M187.2 142.4h1.2M52.1 143.6h1.2M53.8 143.2h1.2M177.8 143.2h1.2M180.1 143.3h2M52.8 144.7h1.2M56 144.3h1.2M60.1 144.8h1.2M176 144.6h3M179.7 144.5h1.2M182 144.7h1.2M57 145.8h2M176.8 145.4h2M179.9 145.3h1.2M185 145.4h1.2M51.9 146.5h1.2M53.8 146.7h3M58.9 146.3h1.2M48.8 147.6h1.2M53.1 147.8h1.2M54.8 147.7h1.2M59.3 147.3h1.2M175.3 147.3h1.2M177.8 147.6h1.2M180.9 147.4h2M184.7 147.4h1.2M51.8 148.3h1.2M55.1 148.7h1.2M56.7 148.6h2M174.1 148.8h1.2M176.1 148.8h1.2M178 148.6h1.2M179.8 148.3h1.2M182.2 148.6h1.2M48.7 149.3h1.2M52.1 149.5h1.2M56 149.3h1.2M57.8 149.6h1.2M173.9 149.4h2M177 149.4h1.2M178.7 149.3h1.2M183.8 149.6h1.2M54.9 150.4h1.2M57.1 150.6h1.2M181.8 150.6h1.2M184 150.4h1.2M51.9 151.5h1.2M55.2 151.2h1.2M57.2 151.5h1.2M173 151.7h1.2M176.3 151.6h5M182.1 151.6h1.2M52.2 152.4h2M55.3 152.8h1.2M172.2 152.7h1.2M177.9 152.6h1.2M181.2 152.3h1.2M182.8 152.6h2M47.9 153.4h2M54.9 153.6h2M172 153.7h1.2M175.2 153.4h2M50.9 154.2h1.2M54.2 154.6h1.2M171.8 154.3h2M174.8 154.6h1.2M177 154.7h1.2M180.3 154.7h1.2M183.2 154.5h1.2M49.2 155.5h1.2M52.2 155.6h1.2M171.8 155.6h6M178.8 155.3h1.2M180.7 155.3h1.2M50.1 156.4h1.2M54.9 156.7h1.2M171.8 156.5h1.2M176 156.6h2M179.8 156.4h1.2M46.7 157.5h1.2M51.1 157.4h1.2M53 157.6h1.2M169.7 157.2h5M178.3 157.5h1.2M45.9 158.7h3M51.9 158.6h2M171.7 158.4h1.2M178.8 158.4h2M48.8 159.2h1.2M50.7 159.2h2M170.9 159.2h1.2M173.3 159.6h1.2M175 159.7h1.2M176.9 159.4h3M180.9 159.7h1.2M42.1 160.6h1.2M44.1 160.6h2M47 160.3h3M51 160.6h1.2M171.9 160.2h1.2M174 160.3h1.2M176.2 160.7h2M179 160.6h2M182.9 160.7h1.2M45.8 161.8h1.2M48.9 161.2h1.2M168.9 161.4h1.2M171.3 161.6h2M46 162.6h1.2M50.2 162.6h2M179.8 162.2h1.2M50.1 163.4h1.2M170.1 163.5h2M174 163.6h1.2M177.1 163.8h1.2M178.9 163.6h1.2M180.8 163.5h1.2M182.9 163.5h1.2M44.2 164.8h1.2M48.1 164.2h2M170 164.8h1.2M172.2 164.5h1.2M175.1 164.5h2M180.1 164.8h1.2M41 165.6h1.2M45 165.6h4M168.1 165.3h1.2M172.9 165.7h1.2M176.8 165.8h1.2M41.1 166.7h1.2M44.7 166.7h1.2M48.1 166.5h1.2M167.7 166.4h4M173 166.2h1.2M175.3 166.7h1.2M177.8 166.7h3M182.2 166.5h1.2M39.2 167.3h3M44 167.6h2M47.1 167.7h1.2M167.9 167.6h5M177.1 167.7h1.2M179.3 167.4h1.2M39.1 168.6h1.2M42 168.3h1.2M45.8 168.7h2M169.8 168.3h1.2M172 168.4h1.2M174.3 168.4h1.2M175.8 168.6h1.2M177.8 168.7h2M39.7 169.5h2M42.9 169.6h1.2M47.2 169.3h1.2M167.8 169.7h2M172.1 169.5h3M177.2 169.6h2M182.2 169.5h1.2M42.3 170.3h2M45.3 170.6h1.2M168.1 170.7h3M172.8 170.5h1.2M174.8 170.3h2M179 170.5h1.2M40.1 171.5h1.2M42.1 171.7h2M168.2 171.8h2M171.2 171.3h1.2M176.2 171.2h2M167.8 172.6h1.2M170.3 172.5h3M174.2 172.2h2M179.8 172.6h1.2M41.9 173.2h1.2M167.8 173.5h2M183.1 173.6h1.2M36.3 174.5h1.2M43.1 174.8h3M169.7 174.5h2M172.8 174.8h2M180.3 174.5h1.2M36.7 175.3h1.2M38.8 175.3h2M42.2 175.4h2M167.8 175.3h3M175.8 175.7h1.2M39 176.5h1.2M40.9 176.3h1.2M42.7 176.8h2M168.1 176.3h2M172 176.6h1.2M177.1 176.4h2M35.1 177.8h4M169.8 177.4h3M173.9 177.7h2M35.9 178.5h1.2M39.8 178.4h3M168.1 178.3h1.2M170.8 178.5h2M179 178.4h1.2M181.1 178.3h1.2M37.9 179.3h2M169.2 179.4h2M172 179.6h1.2M175 179.6h1.2M177 179.7h2M181.8 179.2h1.2M37.9 180.3h2M42 180.5h2M168.7 180.6h1.2M172.8 180.7h1.2M174.8 180.4h1.2M178.3 180.6h1.2M183.1 180.7h1.2M39.9 181.5h3M170.2 181.5h1.2M172.1 181.5h3M178.2 181.7h1.2M37.1 182.2h1.2M38.9 182.3h1.2M41 182.3h2M169.2 182.3h1.2M175 182.6h1.2M178 182.7h1.2M183.3 182.5h1.2M40.2 183.3h1.2M42.2 183.5h1.2M168.3 183.7h1.2M172.2 183.3h1.2M175.1 183.6h2M178 183.4h2M182.1 183.8h2M34.1 184.5h2M167.3 184.7h2M175.1 184.6h1.2M180 184.2h1.2M36 185.2h1.2M38 185.5h1.2M41.7 185.6h1.2M166.8 185.7h2M172.3 185.5h1.2M175.3 185.5h1.2M178.3 185.7h1.2M181.8 185.4h1.2M36.2 186.6h1.2M37.8 186.3h1.2M41.8 186.6h1.2M169.1 186.5h1.2M172.2 186.8h1.2M175.9 186.8h1.2M181.3 186.4h1.2M37.1 187.4h2M41.1 187.8h1.2M170.8 187.2h1.2M174.8 187.6h1.2M180.2 187.3h1.2M182 187.4h1.2M37.2 188.7h2M166 188.2h1.2M177.1 188.3h1.2M179.9 188.2h1.2M182.2 188.5h1.2M37.9 189.7h1.2M39.9 189.6h2M169.1 189.6h2M173 189.3h1.2M176.8 189.6h1.2M181.2 189.6h2M36.8 190.6h1.2M38.9 190.8h2M166.3 190.8h2M168.9 190.6h2M180 190.3h1.2M34.2 191.2h1.2M164.9 191.5h2M169.7 191.6h2M173.3 191.6h1.2M35.2 192.5h1.2M38.9 192.6h2M41.8 192.4h1.2M168.2 192.3h1.2M171.2 192.2h2M177 192.7h1.2M36.8 193.5h1.2M167.2 193.7h1.2M168.8 193.4h3M174.8 193.4h1.2M35.1 194.4h2M38.3 194.7h1.2M40.2 194.2h2M167.1 194.5h1.2M169.2 194.3h2M174.9 194.5h1.2M33.9 195.7h1.2M39.9 195.7h1.2M166.9 195.5h1.2M172.9 195.8h1.2M175.9 195.5h1.2M35 196.3h1.2M40.2 196.3h1.2M42.2 196.3h1.2M176.2 196.4h1.2M33.9 197.3h1.2M39.2 197.4h1.2M42 197.7h1.2M163.1 197.3h1.2M166.9 197.3h1.2M171.8 197.6h1.2M174.1 197.3h1.2M178.9 197.8h1.2M35.8 198.5h1.2M37.8 198.7h5M161.9 198.2h1.2M164.8 198.3h1.2M166.9 198.2h1.2M172.9 198.3h1.2M36 199.3h2M161 199.7h4M177.2 199.2h1.2M37.8 200.2h1.2M161.2 200.6h1.2M163 200.4h1.2M165.2 200.8h1.2M168.7 200.6h2M173.8 200.6h1.2M177 200.5h1.2M39.3 201.3h1.2M41.9 201.6h2M160.1 201.4h2M165.8 201.4h2M168.8 201.5h1.2M172.9 201.3h1.2M38.8 202.7h2M43 202.3h1.2M161 202.8h2M166.1 202.4h1.2M168.3 202.6h2M171 202.2h1.2M174 202.7h4M38 203.2h1.2M42.3 203.8h1.2M158.1 203.6h1.2M160.1 203.3h1.2M176.3 203.5h1.2M36.2 204.4h1.2M157.1 204.4h1.2M159.9 204.7h1.2M166 204.5h1.2M168.3 204.5h1.2M170 204.6h1.2M171.8 204.5h1.2M173.9 204.3h1.2M42.7 205.3h1.2M158.3 205.6h1.2M160.2 205.7h1.2M162.2 205.7h1.2M164.8 205.3h3M170 205.6h2M175 205.6h1.2M44.3 206.2h1.2M154.3 206.4h4M159.7 206.2h2M164 206.5h1.2M166.1 206.4h1.2M168.9 206.7h1.2M42.8 207.4h1.2M45 207.7h1.2M154.2 207.4h3M157.9 207.3h2M163.7 207.7h1.2M165.8 207.5h1.2M174.7 207.6h1.2M40.2 208.6h1.2M43.3 208.3h3M153.1 208.3h1.2M155 208.7h1.2M157 208.5h1.2M159.2 208.4h2M162 208.4h2M164.9 208.3h1.2M168.2 208.3h1.2M174.1 208.6h1.2M42.8 209.5h1.2M46.3 209.3h1.2M152.1 209.7h2M158 209.7h1.2M159.9 209.6h1.2M162.7 209.4h1.2M168.8 209.8h1.2M147.8 210.2h2M153.1 210.7h2M159.1 210.3h6M165.9 210.7h1.2M167.9 210.5h1.2M39.1 211.3h1.2M42.7 211.6h2M45.8 211.5h2M146.7 211.3h1.2M150.1 211.2h1.2M152.9 211.8h1.2M155.1 211.4h1.2M156.9 211.4h1.2M159.1 211.7h1.2M163.8 211.3h1.2M167.2 211.6h1.2M39.2 212.5h1.2M46.7 212.4h1.2M147.1 212.8h3M151.7 212.3h1.2M153.8 212.3h3M158.1 212.5h1.2M159.8 212.4h2M43.9 213.8h4M141.3 213.5h1.2M145.3 213.7h1.2M146.9 213.7h3M152.1 213.2h1.2M156 213.7h2M162 213.4h1.2M164 213.6h1.2M167.1 213.6h1.2M169.8 213.6h1.2M41.9 214.3h1.2M46.1 214.6h1.2M139.1 214.5h1.2M140.7 214.6h1.2M143.1 214.3h2M147.1 214.2h4M152.8 214.5h1.2M155.1 214.3h7M166.2 214.3h1.2M167.7 214.7h2M42.3 215.7h3M45.9 215.2h2M138.2 215.4h1.2M144.1 215.6h1.2M145.7 215.4h1.2M150.8 215.5h1.2M154.1 215.6h1.2M156.7 215.7h1.2M159.1 215.8h2M161.7 215.4h1.2M165.1 215.5h1.2M167.1 215.6h1.2M44.8 216.6h1.2M46.9 216.6h1.2M144.9 216.8h1.2M148.8 216.6h1.2M153.2 216.4h2M155.8 216.7h1.2M158.8 216.8h1.2M47.9 217.7h2M139.1 217.6h1.2M145 217.4h1.2M146.8 217.3h1.2M149.2 217.4h2M151.8 217.3h1.2M154.8 217.3h1.2M158.2 217.6h1.2M159.7 217.7h1.2M43 218.4h1.2M48.1 218.6h3M136.1 218.4h2M139.1 218.4h2M141.9 218.8h2M144.8 218.5h3M149.3 218.5h3M155.8 218.6h1.2M161.8 218.3h1.2M45.7 219.7h3M50.8 219.4h2M133.9 219.4h1.2M136.2 219.6h2M140.7 219.8h2M148.8 219.8h1.2M152 219.6h2M159.8 219.4h4M45.8 220.4h2M50.2 220.5h2M129.8 220.7h1.2M137.1 220.8h1.2M145.3 220.3h2M148.8 220.6h1.2M151.2 220.4h1.2M153.9 220.5h1.2M160.9 220.4h1.2M49.9 221.6h3M128.2 221.5h6M136.2 221.5h1.2M139.2 221.3h1.2M143.2 221.6h2M150.1 221.6h2M52 222.3h1.2M54.9 222.4h1.2M127.1 222.7h2M132 222.5h1.2M135.1 222.4h1.2M137.3 222.8h1.2M138.9 222.3h1.2M149.8 222.7h1.2M51.2 223.6h1.2M127 223.8h1.2M134.9 223.3h1.2M138.1 223.7h1.2M141 223.8h1.2M144.2 223.3h1.2M148.9 223.7h2M151.7 223.5h1.2M154.1 223.4h1.2M155.9 223.4h1.2M48.8 224.6h1.2M50.8 224.4h1.2M53.2 224.5h1.2M56 224.5h1.2M135.8 224.4h1.2M138.7 224.8h1.2M53.8 225.2h1.2M56.8 225.5h2M123 225.7h1.2M127.3 225.6h1.2M141.3 225.6h1.2M143.1 225.3h1.2M144.9 225.6h2M50.8 226.7h1.2M53 226.4h1.2M54.7 226.7h1.2M58.1 226.6h2M121.1 226.7h1.2M123.9 226.3h1.2M126.7 226.8h1.2M129.2 226.6h1.2M131.2 226.4h1.2M133.1 226.8h1.2M136.8 226.6h1.2M143.7 226.5h1.2M146.2 226.6h1.2M51.8 227.4h1.2M54.2 227.6h2M119.3 227.3h1.2M121.2 227.6h2M126.9 227.3h2M137.9 227.6h3M145.2 227.6h3M53 228.2h1.2M57.8 228.6h1.2M60.8 228.8h2M118.1 228.8h1.2M119.7 228.6h1.2M121.8 228.2h1.2M124.3 228.8h2M133.2 228.7h1.2M143 228.4h1.2M57 229.6h2M59.7 229.3h3M115.8 229.2h1.2M118 229.7h1.2M119.9 229.4h1.2M128.8 229.5h1.2M61.1 230.6h1.2M64.1 230.3h1.2M115.2 230.6h4M126.7 230.6h1.2M57 231.7h1.2M58.9 231.3h1.2M63.2 231.5h2M68.1 231.4h1.2M113.3 231.6h1.2M115.8 231.5h1.2M118.8 231.4h1.2M123.8 231.2h1.2M128 231.7h1.2M67 232.6h1.2M69.1 232.7h1.2M113.7 232.7h1.2M117.1 232.6h1.2M121 232.3h3M61.1 233.8h3M66.1 233.3h1.2M71.3 233.2h2M109.2 233.5h2M66.8 234.5h2M71.7 234.8h1.2M73.8 234.2h2M104.3 234.4h4M108.7 234.7h1.2M112.1 234.4h1.2M113.9 234.7h1.2M116.2 234.8h2M71.2 235.5h1.2M80.2 235.6h1.2M99.3 235.7h1.2M100.9 235.6h2M104.1 235.6h4M111 235.4h1.2M68.9 236.3h1.2M82.3 236.2h2M86.9 236.7h1.2M90 236.4h1.2M92 236.6h1.2M96 236.2h2M98.8 236.6h1.2M112.2 236.5h1.2M79.1 237.5h2M83 237.5h1.2M85.1 237.5h1.2M86.7 237.6h3M90.9 237.5h2M96 237.8h1.2M98.1 237.4h1.2M101.3 237.2h1.2M102.8 237.5h1.2M107 237.6h1.2M76.1 238.3h1.2M83.1 238.2h1.2M90 238.4h1.2M93 238.5h1.2M95.2 238.5h2M98.1 238.7h1.2M100.8 238.4h1.2M76.8 239.4h1.2M78.9 239.7h1.2M82.8 239.7h2M93.7 239.6h1.2M95.9 239.5h1.2M98.7 239.7h1.2M101.2 239.4h1.2M85.2 240.6h1.2M92.2 240.3h1.2M96.2 240.7h1.2" stroke="#2b2be6" stroke-width="1.25" stroke-opacity="0.95" fill="none"/>
<path d="M155.8 55.4h5M161.9 55.2h1.2M152.3 56.7h7M159.8 56.5h1.2M162.1 56.7h3M166.8 56.2h1.2M146 57.8h1.2M148 57.5h1.2M149.7 57.5h2M154.3 57.3h1.2M156.1 57.8h3M161 57.6h4M166 57.2h1.2M170.1 57.5h1.2M144.2 58.6h1.2M146.7 58.3h1.2M149 58.4h5M157.2 58.5h1.2M159.2 58.3h2M162.1 58.3h7M171.2 58.3h2M141 59.7h5M147 59.5h2M155.9 59.2h6M163 59.8h1.2M165.1 59.8h3M171.7 59.4h1.2M137.8 60.6h2M142.3 60.5h2M146.1 60.7h2M149.1 60.8h1.2M151.2 60.8h12M164.2 60.4h1.2M166.1 60.7h3M169.8 60.4h1.2M171.9 60.6h1.2M176.2 60.6h1.2M136.2 61.6h4M142 61.5h9M152.3 61.8h3M155.9 61.4h5M164.1 61.3h3M168.1 61.6h3M172.1 61.7h6M134.2 62.6h2M138.2 62.5h2M140.8 62.3h1.2M143.3 62.5h1.2M145 62.8h1.2M147.8 62.3h2M150.8 62.4h5M157.2 62.6h2M160 62.5h4M167 62.6h1.2M169.2 62.3h6M176.1 62.3h1.2M177.8 62.5h1.2M130 63.5h1.2M133.1 63.3h1.2M134.8 63.3h5M140.8 63.3h3M145 63.7h1.2M146.9 63.3h6M154 63.3h16M171 63.5h3M176 63.4h2M127.3 64.3h3M131.2 64.7h1.2M132.7 64.2h3M137.2 64.8h3M141 64.7h1.2M143.1 64.3h29M173.2 64.3h1.2M179.3 64.5h2M124.2 65.5h1.2M127.7 65.6h4M133.8 65.3h4M139 65.8h1.2M140.9 65.4h1.2M144.8 65.3h8M154 65.6h17M171.8 65.4h2M176 65.6h2M179.3 65.6h1.2M124.1 66.7h2M128.7 66.3h1.2M130.9 66.6h3M134.9 66.4h3M139.2 66.7h2M142.1 66.7h4M147.1 66.4h22M171.3 66.7h8M180.9 66.3h1.2M119 67.5h5M125.2 67.3h2M129.2 67.2h3M134.7 67.4h3M138.7 67.3h2M142.1 67.4h25M168.2 67.5h5M173.9 67.5h5M180.1 67.6h3M116.1 68.5h7M126.2 68.7h2M128.8 68.3h5M136.1 68.6h1.2M137.8 68.6h6M144.9 68.4h26M172.1 68.6h4M177.9 68.4h1.2M180 68.4h1.2M182.3 68.4h2M114.2 69.4h1.2M117 69.5h5M123.3 69.7h1.2M124.9 69.5h2M130 69.7h2M134.2 69.6h3M137.8 69.3h1.2M140.2 69.2h35M175.8 69.8h3M180 69.3h3M110.9 70.4h1.2M113 70.8h2M116.3 70.7h2M121.1 70.5h2M124 70.7h1.2M127 70.8h11M139 70.5h11M163.3 70.7h10M174.1 70.6h4M179.2 70.7h1.2M182 70.2h4M109.8 71.8h2M112.9 71.2h1.2M115.2 71.6h7M123.1 71.6h6M130.9 71.6h15M165.8 71.2h8M174.7 71.4h3M178.8 71.7h1.2M181.2 71.3h1.2M183.1 71.3h1.2M106.7 72.4h1.2M110 72.5h4M114.8 72.7h5M122.9 72.8h1.2M124.9 72.5h2M128 72.3h3M132.7 72.7h1.2M135.3 72.7h8M166.9 72.7h9M177.2 72.8h3M181.2 72.7h3M186.1 72.5h1.2M104.9 73.6h6M111.9 73.6h2M115.3 73.3h3M119.8 73.4h6M126.7 73.8h14M169 73.4h11M182.9 73.4h1.2M103.8 74.6h7M112.3 74.7h4M117 74.2h4M123 74.4h7M131.1 74.5h7M170.1 74.6h10M181 74.7h1.2M183 74.8h2M102.8 75.6h1.2M104.9 75.6h1.2M109.2 75.5h3M114 75.2h1.2M115.9 75.6h19M171.2 75.3h12M184 75.4h2M187 75.6h1.2M100.8 76.2h1.2M102.8 76.4h2M107.2 76.6h12M119.8 76.6h13M172.2 76.3h10M183 76.4h3M187.1 76.7h1.2M98.7 77.6h1.2M100.8 77.8h1.2M103.2 77.7h3M107 77.4h3M110.8 77.3h5M117.1 77.8h13M173 77.3h10M96.8 78.6h1.2M99.9 78.6h27M174.1 78.2h9M185.2 78.6h2M95.2 79.4h3M98.8 79.3h3M103.9 79.6h3M107.9 79.7h15M173.8 79.5h10M186.2 79.5h2M93.8 80.6h1.2M96.8 80.3h1.2M98.9 80.6h1.2M101 80.3h2M104.1 80.6h4M109.1 80.2h11M175.3 80.4h7M183 80.4h1.2M185.3 80.4h2M94.1 81.4h2M97 81.6h2M99.8 81.5h8M109 81.7h8M175.1 81.7h5M180.9 81.5h6M92.2 82.3h2M94.8 82.4h2M98 82.4h1.2M100.2 82.6h1.2M102 82.2h12M176 82.3h7M183.9 82.6h3M188.1 82.2h1.2M90.3 83.3h1.2M92.1 83.4h4M97.9 83.7h2M100.9 83.3h3M104.8 83.4h6M175.7 83.5h6M184.9 83.4h2M88.9 84.6h9M99.2 84.3h1.2M100.8 84.4h2M103.9 84.8h4M177 84.6h5M183 84.4h1.2M184.7 84.6h5M89.1 85.6h8M97.8 85.3h8M177.1 85.5h7M185 85.7h2M87 86.6h6M94.2 86.4h10M176.8 86.4h5M183.9 86.5h5M89.2 87.3h3M93 87.8h10M177 87.7h13M86.1 88.2h7M93.8 88.4h2M97 88.5h4M178 88.3h12M86 89.2h2M90.1 89.3h9M178.1 89.3h6M185.9 89.7h2M84.3 90.5h2M87.1 90.8h11M178.1 90.7h11M82.1 91.7h1.2M84 91.7h1.2M86.9 91.5h1.2M89 91.2h8M177.9 91.6h3M181.7 91.3h2M185.3 91.7h5M82.2 92.6h13M178.1 92.4h8M186.8 92.7h3M81.1 93.4h2M84.2 93.4h10M177.9 93.2h6M185.8 93.6h2M188.9 93.4h1.2M81.1 94.5h9M90.9 94.5h2M178.3 94.6h6M184.8 94.5h5M79 95.7h3M84.2 95.3h1.2M86 95.5h6M178 95.5h7M78.8 96.2h1.2M81.8 96.3h3M86.2 96.5h5M178.1 96.4h6M184.9 96.5h4M77.3 97.7h3M81 97.7h3M84.9 97.3h5M178.2 97.8h6M184.9 97.6h5M77.2 98.4h1.2M81.3 98.3h2M83.8 98.4h1.2M86.1 98.2h3M178 98.2h10M77.8 99.7h1.2M79.9 99.5h5M85.9 99.6h2M177.9 99.2h8M187.2 99.7h2M76.1 100.4h2M79.3 100.7h2M81.9 100.4h1.2M84.1 100.5h3M178.3 100.8h7M185.8 100.5h3M80 101.5h7M177.8 101.3h5M183.9 101.4h1.2M186.1 101.4h1.2M188.8 101.6h1.2M74.3 102.8h12M177.9 102.4h7M185.8 102.5h3M74.2 103.3h11M178 103.5h3M181.9 103.5h2M184.8 103.4h1.2M72.8 104.7h1.2M74.8 104.3h2M79.2 104.2h5M177.1 104.3h5M182.8 104.4h5M75.1 105.4h2M78.1 105.7h1.2M79.8 105.4h4M176.8 105.5h8M186.1 105.3h3M74.2 106.8h1.2M76.2 106.3h7M176.9 106.4h10M188.1 106.4h1.2M71.8 107.8h1.2M76 107.2h2M78.9 107.4h3M176.8 107.3h5M183.1 107.4h2M186.9 107.7h1.2M71.1 108.8h1.2M74.9 108.4h7M176.9 108.8h7M186.8 108.8h1.2M72.1 109.2h4M77.2 109.3h4M175.8 109.5h8M184.8 109.7h1.2M70.8 110.5h1.2M73.8 110.3h7M176 110.4h4M180.8 110.3h7M68.8 111.5h2M72.1 111.8h5M78.2 111.3h2M176.1 111.4h4M180.9 111.3h4M186.7 111.6h1.2M70.8 112.5h3M74.9 112.6h5M175.9 112.7h3M181.1 112.3h1.2M183.9 112.6h1.2M186.3 112.3h1.2M70.3 113.4h1.2M72.8 113.6h1.2M75.3 113.7h1.2M77.2 113.6h2M174.8 113.5h9M185.1 113.2h1.2M71.8 114.7h7M175.3 114.5h5M181 114.3h1.2M182.8 114.3h3M68.3 115.6h1.2M70.1 115.3h4M74.9 115.5h3M175.2 115.6h2M177.8 115.8h7M67.3 116.7h11M174 116.6h9M183.9 116.2h2M67 117.3h4M72.3 117.5h6M173.8 117.7h5M180.3 117.6h6M66.9 118.7h10M174.2 118.2h6M181.9 118.5h2M67.8 119.5h1.2M70.1 119.8h7M172.9 119.3h4M178.1 119.3h1.2M181.9 119.8h2M66 120.7h11M173.3 120.7h4M178 120.8h2M180.8 120.6h2M65.8 121.6h10M173.2 121.3h11M66.2 122.8h3M70.2 122.3h6M172.1 122.3h6M178.9 122.7h5M67.9 123.6h8M172.1 123.3h6M179.9 123.3h4M67.2 124.7h1.2M70 124.4h5M171.2 124.5h12M64.8 125.7h2M68.3 125.5h3M71.9 125.3h3M170.9 125.2h5M180 125.5h3M65 126.6h1.2M67.2 126.5h2M71.3 126.7h1.2M73.1 126.6h2M171.3 126.5h7M178.8 126.4h1.2M180.9 126.8h2M65.9 127.7h1.2M67.7 127.7h7M169.8 127.2h7M178.2 127.6h1.2M181.9 127.7h1.2M64.8 128.3h1.2M67.2 128.4h8M169.7 128.4h9M180.3 128.4h2M67.2 129.7h1.2M69.2 129.3h5M168.8 129.2h5M175 129.2h1.2M176.8 129.5h4M66 130.3h2M68.8 130.5h5M169 130.7h4M175.2 130.3h5M63.1 131.5h1.2M64.9 131.4h9M168.3 131.5h4M173.2 131.4h1.2M175 131.7h2M177.9 131.5h1.2M66 132.7h8M167.8 132.3h6M177.9 132.5h2M62.8 133.7h1.2M66.2 133.8h8M167.2 133.7h4M172.3 133.4h1.2M173.9 133.5h1.2M177.3 133.4h1.2M63.9 134.7h2M67.2 134.3h7M167.2 134.7h7M176.2 134.5h3M62.9 135.7h2M67.9 135.7h3M71.9 135.4h2M166.1 135.6h6M172.8 135.3h3M176.8 135.7h2M63.1 136.7h1.2M66.8 136.7h7M166.2 136.3h7M176.1 136.4h1.2M65 137.3h9M165 137.5h8M174 137.2h3M177.9 137.6h1.2M63.2 138.4h2M68.3 138.4h6M164.8 138.4h8M175.3 138.6h2M62.3 139.3h1.2M65.9 139.5h8M164.1 139.4h5M170.3 139.6h2M173.3 139.6h2M176.2 139.5h2M62.1 140.3h1.2M63.9 140.7h10M163.3 140.7h3M166.9 140.3h9M176.9 140.7h1.2M62.2 141.3h1.2M64.8 141.8h3M69.2 141.6h1.2M71.3 141.7h3M163 141.4h4M168 141.2h6M176.1 141.7h1.2M61.1 142.2h4M66.8 142.5h7M161.8 142.7h8M170.8 142.6h2M175.1 142.4h2M61.8 143.4h1.2M64 143.7h10M160.9 143.5h3M165.1 143.6h6M171.8 143.4h4M61.2 144.3h5M68 144.3h6M160.7 144.5h15M60.2 145.5h1.2M62 145.7h11M160 145.5h11M172.2 145.5h3M62 146.4h1.2M64 146.5h2M66.9 146.5h1.2M68.8 146.3h4M159.3 146.4h7M167.2 146.3h6M63 147.5h10M158.1 147.2h6M165.2 147.7h2M167.8 147.6h2M174.2 147.3h1.2M59.7 148.7h5M65.9 148.6h1.2M68.1 148.6h5M157.9 148.7h11M170.9 148.3h1.2M173.2 148.5h1.2M65.1 149.6h8M156.8 149.2h6M163.8 149.5h3M168 149.7h3M172 149.4h1.2M59.1 150.7h1.2M61.1 150.5h1.2M63.9 150.5h2M67 150.6h5M155.9 150.5h8M164.9 150.7h2M168.8 150.4h1.2M171.2 150.8h1.2M57.8 151.5h1.2M60.7 151.4h2M64 151.4h1.2M65.7 151.6h6M155.2 151.3h13M172.1 151.7h1.2M58 152.7h1.2M63.9 152.5h7M154 152.4h9M164.3 152.8h3M168 152.4h1.2M169.7 152.7h2M56.7 153.5h2M61.8 153.6h2M66.1 153.7h5M152.8 153.3h19M59 154.5h2M62.3 154.4h1.2M64.3 154.4h2M66.7 154.7h3M151.9 154.5h8M161.2 154.5h2M164.7 154.7h4M59.3 155.5h10M151.1 155.2h12M164 155.2h2M168.7 155.5h1.2M58.3 156.7h10M150 156.5h5M155.7 156.4h9M167.2 156.4h1.2M169.8 156.3h1.2M55.1 157.7h1.2M56.8 157.6h2M60.3 157.6h7M149.1 157.3h9M158.9 157.5h11M56 158.5h1.2M57.8 158.3h8M146.8 158.4h7M154.8 158.4h2M157.8 158.4h7M165.9 158.3h1.2M167.9 158.4h1.2M54.8 159.7h1.2M57.1 159.5h1.2M59.1 159.7h1.2M61 159.5h5M145.9 159.3h13M160.1 159.4h7M168.1 159.5h2M53.2 160.7h12M144.9 160.5h21M166.9 160.3h3M55 161.2h9M143.1 161.6h6M150.1 161.2h5M155.8 161.5h9M166 161.4h1.2M52.1 162.4h1.2M54.3 162.5h2M56.8 162.6h6M141.9 162.4h12M154.8 162.5h1.2M156.9 162.4h1.2M159.9 162.3h2M163.3 162.4h2M167.1 162.2h1.2M51.1 163.4h1.2M53 163.6h9M139.8 163.5h14M154.7 163.7h3M158.8 163.2h2M161.8 163.2h4M167.2 163.5h2M51 164.6h1.2M53.2 164.8h2M55.9 164.7h5M139.1 164.2h7M147 164.4h4M152.3 164.6h1.2M154.3 164.5h1.2M157.2 164.4h5M163.2 164.6h2M165.9 164.6h3M50.2 165.5h1.2M51.7 165.4h2M55.9 165.5h4M137.1 165.6h16M153.7 165.3h2M156.8 165.2h3M160.9 165.6h2M164.2 165.6h1.2M166.1 165.5h1.2M49.8 166.5h1.2M54 166.4h3M57.9 166.7h1.2M135.8 166.5h9M146 166.5h7M154.1 166.4h2M157.7 166.4h2M166.1 166.8h1.2M50 167.5h1.2M53.2 167.4h2M55.7 167.4h3M135 167.7h15M151.8 167.4h6M159.9 167.4h2M166.8 167.4h1.2M48 168.3h1.2M49.9 168.2h3M53.7 168.5h4M133.9 168.7h15M149.7 168.7h4M155.1 168.8h8M165.3 168.8h1.2M167 168.4h1.2M48.1 169.6h3M52 169.6h5M132.9 169.4h12M146.1 169.7h13M163.3 169.4h1.2M165 169.7h3M46.9 170.6h1.2M51 170.2h2M54 170.5h3M133 170.6h9M143 170.2h19M163.2 170.3h5M47.2 171.5h3M51 171.6h3M54.8 171.7h1.2M133.2 171.6h17M151.3 171.6h3M155.1 171.3h2M159.2 171.7h5M164.8 171.4h1.2M48 172.3h8M132.1 172.5h6M139.2 172.6h13M153.2 172.7h2M156 172.7h1.2M158 172.6h1.2M160 172.7h4M165.1 172.3h2M45.9 173.7h1.2M49.1 173.2h2M52.1 173.6h3M132.1 173.2h14M147 173.6h3M151.2 173.7h3M156.2 173.7h6M162.9 173.2h3M166.9 173.5h1.2M45.9 174.6h1.2M48.1 174.7h6M132.3 174.6h19M151.9 174.5h5M158.7 174.7h4M164.1 174.5h1.2M166 174.6h1.2M46.1 175.6h1.2M48 175.5h6M132.3 175.8h19M152.1 175.4h5M158.8 175.3h2M161.9 175.4h2M164.9 175.3h2M44.7 176.5h9M132.2 176.2h14M147.3 176.7h6M153.8 176.4h2M157.7 176.4h1.2M160 176.6h1.2M163 176.4h5M45.2 177.3h1.2M47.1 177.5h3M50.7 177.7h2M132.3 177.4h14M146.9 177.8h4M152.2 177.5h10M162.9 177.6h1.2M166.2 177.8h2M45.3 178.4h8M133.3 178.3h9M142.8 178.7h2M145.9 178.5h8M154.7 178.6h4M162.1 178.5h3M165.8 178.6h2M43.9 179.3h1.2M46 179.4h6M133.1 179.7h16M150.3 179.7h1.2M152 179.3h5M158.9 179.3h1.2M160.8 179.7h3M166.3 179.2h2M44 180.5h8M133.2 180.3h10M144.1 180.2h1.2M146 180.6h4M150.8 180.7h2M153.8 180.7h3M158.1 180.6h6M44.7 181.5h7M132.7 181.2h8M142.2 181.8h3M146.3 181.5h9M156.3 181.6h1.2M158.1 181.4h3M162.9 181.6h2M43.9 182.6h7M132.8 182.7h8M141.8 182.4h8M154 182.4h6M161.2 182.5h4M42.8 183.4h5M49.3 183.2h2M133 183.5h6M140.1 183.4h5M146.3 183.3h1.2M147.7 183.6h4M154.1 183.5h6M161.8 183.3h1.2M163.9 183.5h1.2M42.9 184.6h2M45.8 184.4h5M133.1 184.2h5M138.8 184.2h3M142.8 184.7h14M158.2 184.3h2M163.1 184.5h1.2M44.1 185.6h1.2M46.8 185.6h4M133.3 185.6h6M139.9 185.6h9M150.3 185.6h4M154.7 185.6h3M159.2 185.3h2M162.2 185.6h1.2M163.8 185.7h1.2M166.1 185.4h1.2M43.2 186.7h3M46.9 186.6h4M132.9 186.6h11M144.7 186.5h6M152.2 186.3h1.2M153.9 186.6h6M163.2 186.6h1.2M165 186.8h2M44 187.5h1.2M46 187.3h5M132.7 187.5h4M137.7 187.6h11M149.8 187.4h3M154.9 187.7h1.2M157.8 187.6h1.2M160.2 187.4h2M163.1 187.7h2M165.7 187.6h1.2M43.2 188.7h1.2M44.9 188.5h1.2M46.9 188.3h3M132.8 188.8h7M142.1 188.4h1.2M145.2 188.7h9M154.8 188.6h3M159.9 188.3h1.2M162.2 188.8h3M45.2 189.5h5M132.8 189.3h13M146.9 189.5h3M152.2 189.5h1.2M153.8 189.4h4M158.8 189.8h1.2M161.1 189.7h1.2M163.1 189.3h1.2M164.9 189.5h1.2M43 190.8h7M133 190.4h9M143.2 190.5h1.2M145 190.5h2M148.8 190.3h6M155.7 190.4h1.2M158.2 190.7h5M164 190.3h2M45.3 191.3h5M133.3 191.4h6M140.1 191.7h6M148.3 191.6h3M157.2 191.6h5M42.9 192.6h3M47 192.6h3M132.8 192.8h8M142.2 192.6h1.2M144.2 192.3h6M150.9 192.6h2M154 192.6h1.2M156.2 192.5h1.2M158.2 192.8h3M162 192.3h2M43.9 193.2h6M133 193.7h3M136.8 193.4h7M144.9 193.8h6M152.9 193.5h2M155.8 193.5h3M160.9 193.8h4M42.8 194.4h4M47.9 194.3h2M133.3 194.3h5M138.9 194.2h9M150.2 194.4h3M155 194.8h5M42.8 195.7h5M48.7 195.3h1.2M132.2 195.3h8M141.2 195.3h1.2M143.2 195.4h1.2M146.1 195.4h3M152 195.3h3M155.9 195.3h2M159.2 195.2h2M44.8 196.5h2M48.2 196.4h2M131.8 196.4h7M141.2 196.3h6M148.9 196.6h1.2M151.1 196.5h1.2M152.9 196.7h3M158.2 196.6h1.2M161.2 196.2h2M43 197.5h1.2M47.2 197.5h4M132.1 197.4h17M150.1 197.3h2M153 197.6h2M156.1 197.6h2M158.9 197.7h2M43.2 198.6h5M49.2 198.3h2M132.3 198.6h12M145.7 198.5h2M150.3 198.7h6M159.2 198.3h2M42.8 199.4h8M130.8 199.7h5M136.8 199.7h1.2M139 199.7h8M148.1 199.2h1.2M150.9 199.3h1.2M154.2 199.4h7M44.2 200.2h3M48.3 200.5h3M130.8 200.5h6M138.1 200.7h4M143.2 200.6h2M147.3 200.5h1.2M148.7 200.7h1.2M151.1 200.4h2M153.7 200.8h3M157.9 200.3h2M44.2 201.7h7M131.3 201.5h7M139.8 201.6h2M143.8 201.6h2M148.1 201.6h3M153.2 201.7h1.2M157 201.3h2M44.9 202.3h1.2M47 202.3h2M50.2 202.4h2M130.2 202.6h4M134.9 202.5h1.2M136.9 202.7h2M139.7 202.2h1.2M142.9 202.7h1.2M144.9 202.4h4M149.7 202.4h1.2M152.2 202.3h1.2M154.2 202.7h1.2M155.8 202.8h2M44.2 203.4h8M130.3 203.5h5M135.8 203.2h2M139.2 203.2h3M142.8 203.6h1.2M144.8 203.6h2M148.8 203.2h1.2M150.7 203.7h5M156.7 203.7h1.2M46 204.7h1.2M48 204.7h4M130 204.7h2M133.3 204.6h2M136.2 204.6h2M140.2 204.4h2M142.8 204.3h1.2M145.8 204.6h1.2M148.1 204.8h1.2M150.2 204.6h3M156.1 204.5h1.2M44.9 205.4h1.2M48.1 205.7h2M50.9 205.4h2M128.9 205.2h2M132.1 205.7h2M135.2 205.3h2M137.9 205.4h3M141.8 205.7h1.2M144.2 205.7h3M148.3 205.6h1.2M150.8 205.4h2M153.8 205.2h2M45.2 206.6h1.2M46.8 206.3h2M49.9 206.4h3M128.8 206.4h4M133.7 206.7h8M143 206.3h2M146 206.8h1.2M149 206.2h1.2M151.1 206.5h1.2M152.8 206.6h1.2M45.9 207.8h3M50.3 207.3h3M127.7 207.4h7M136.3 207.8h5M141.7 207.3h2M145.2 207.6h3M150.8 207.7h2M47.2 208.5h1.2M48.8 208.8h2M52.2 208.2h2M128 208.5h8M137.1 208.4h1.2M138.7 208.8h5M149.1 208.2h2M46.7 209.6h5M53.3 209.4h1.2M126.7 209.4h5M133.2 209.6h2M137 209.3h1.2M140.1 209.5h1.2M143.8 209.4h3M47 210.5h8M125.8 210.5h4M131.1 210.6h2M135.3 210.5h5M141 210.6h3M145 210.5h2M48.7 211.8h1.2M51.9 211.7h4M125.8 211.7h2M129.3 211.8h3M132.9 211.6h3M140 211.8h1.2M141.8 211.3h1.2M49.1 212.5h3M52.9 212.8h3M125.2 212.4h4M130.8 212.6h4M143 212.3h1.2M53.1 213.4h4M124 213.3h5M129.8 213.8h2M135.8 213.7h3M49.2 214.8h1.2M51.7 214.6h2M56 214.6h1.2M123 214.4h3M127.2 214.5h5M133.2 214.6h1.2M135.2 214.8h4M50.9 215.4h1.2M55.8 215.7h2M122.8 215.6h1.2M124.8 215.3h6M132.1 215.8h1.2M135.8 215.2h2M52.1 216.7h7M121.7 216.5h5M127.7 216.7h3M133.2 216.5h2M52.9 217.8h3M57.1 217.7h3M121.1 217.5h6M129 217.6h1.2M130.7 217.4h2M53.2 218.5h1.2M56 218.3h5M119.9 218.4h13M53.1 219.4h5M59.1 219.6h3M119 219.6h3M122.9 219.8h2M126.2 219.5h5M53.7 220.5h4M59.2 220.6h4M117.9 220.7h5M124.1 220.6h2M128.2 220.6h1.2M55.3 221.4h2M57.7 221.6h1.2M60.2 221.7h4M115.9 221.4h5M121.9 221.8h2M126.2 221.8h2M57.1 222.3h2M60.2 222.3h3M64 222.4h1.2M114.9 222.7h6M122 222.3h1.2M125.8 222.4h1.2M57.9 223.7h9M114.3 223.2h2M117.1 223.4h4M121.9 223.3h1.2M124.2 223.3h1.2M57.8 224.7h1.2M60.1 224.6h2M62.7 224.6h5M112.1 224.7h4M117.1 224.6h1.2M118.8 224.7h4M59.2 225.2h1.2M61.9 225.7h8M110.9 225.6h3M116.9 225.4h3M122.3 225.2h1.2M60.1 226.6h1.2M63.8 226.4h8M109.1 226.5h3M114.3 226.6h4M120.3 226.7h1.2M61.8 227.2h12M107 227.5h8M116 227.6h2M63.8 228.2h4M68.9 228.2h7M104.2 228.2h5M110.1 228.4h1.2M111.9 228.5h2M114.8 228.7h1.2M117.2 228.4h1.2M66.2 229.7h1.2M70.1 229.4h1.2M71.7 229.5h7M100.7 229.6h3M105.1 229.6h1.2M107.2 229.7h2M109.9 229.8h4M114.7 229.3h1.2M67.2 230.6h1.2M69.3 230.7h4M73.8 230.6h1.2M77.1 230.7h7M95.8 230.7h10M109 230.3h5M70 231.5h1.2M72.7 231.8h2M75.7 231.3h27M103.7 231.6h1.2M106.2 231.7h5M71 232.3h2M74.1 232.5h5M79.9 232.6h21M101.7 232.6h1.2M104.1 232.5h1.2M107 232.6h1.2M75.2 233.7h3M81.1 233.5h1.2M83 233.4h3M87.3 233.6h6M94.1 233.3h4M99.2 233.4h5M76.8 234.4h1.2M79 234.7h3M83.2 234.5h1.2M85.1 234.7h5M92.2 234.7h2M94.9 234.5h2M98 234.6h3M103.2 234.5h1.2M81.3 235.3h2M83.9 235.4h1.2M86 235.6h1.2M93 235.2h3M96.9 235.7h2" stroke="#0a0aee" stroke-width="1.25" stroke-opacity="1" fill="none"/>
</g>
<g transform="translate(446.2,1199.3)">
<path d="M92.5 231.5 84.5 231.2 76.5 229.1 69.5 225.5 63.1 220.5 58 214.5 54.1 207.5 51.7 199.5 51 191.5 52 183.5 53.1 179.5 55.2 174.5 59.4 167.5 67.8 156.5 69.4 153.5 69.9 151.5 70.1 146.5 67.2 125.5 66.8 112.5 67 104.5 67.7 97.5 70.2 86.5 72.1 81.5 74.8 76.5 77.5 72.7 80.5 69.6 83.5 67.2 87.5 65.1 90.5 64.2 94.5 63.7 98.5 64.2 102.5 65.5 106.5 67.9 109.6 70.5 113 74.5 115.6 78.5 118 83.5 120 89.5 121.3 95.5 122.1 102.5 122.4 110.5 122.3 120.5 121.1 133.5 117.4 150.5 117.1 155.5 118.4 160.5 124.2 171.5 127.2 178.5 128.9 185.5 129.3 192.5 128.3 200.5 126.1 207.5 122.8 213.5 118.1 219.5 112.5 224.4 106.5 227.9 100.5 230.2Z" fill="rgb(0,2,236)" fill-rule="evenodd"/>
<path d="M95.5 230.5 87.5 230.9 79.5 229.4 75.5 228 71.5 226 65.2 221.5 59.6 215.5 55.4 208.5 52.9 201.5 52 196.5 51.7 192.5 52 187.5 52.8 183.5 53.9 179.5 56 174.5 60.3 167.5 69.1 156.5 70.5 153.8 71.2 151.5 71.2 146.5 68.3 126.5 67.7 112.5 68 104.5 68.7 97.5 69.8 91.5 71.2 86.5 73.3 81.5 75.4 77.5 77.5 74.5 80.5 71.2 83.5 68.7 87.5 66.5 90.5 65.5 94.5 65.1 98.5 65.5 102.5 66.9 106.5 69.4 109.5 72.1 112.4 75.5 114.9 79.5 117.3 84.5 118.9 89.5 120.2 95.5 121.2 103.5 121.2 121.5 120.1 133.5 116.2 150.5 115.8 155.5 117.2 160.5 123.3 171.5 126 177.5 127.9 184.5 128.6 191.5 128 198.5 126.1 205.5 123.3 211.5 119 217.5 114.5 222 108.5 226.1 102.5 228.8Z" fill="rgb(1,8,237)" fill-rule="evenodd"/>
<path d="M97.5 229.5 89.5 230.3 81.5 229.3 77.5 228.1 73.5 226.3 66.5 221.8 63 218.5 60.4 215.5 56.1 208.5 53.6 201.5 52.5 193.5 52.7 188.5 53.3 184.5 54.7 179.5 56.4 175.5 61.2 167.5 70.4 156.5 71.5 154.5 72.4 151.5 72.4 146.5 69.3 127.5 68.7 114.5 69.4 99.5 70.4 93.5 72 87.5 73.9 82.5 76.1 78.5 78.5 75.1 81.5 71.9 84.5 69.6 87.5 67.9 90.5 66.9 94.5 66.5 98.5 66.9 101.5 67.9 105.5 70.2 108.5 72.7 111.7 76.5 114.2 80.5 116.1 84.5 118.1 90.5 119.4 96.5 120.1 103.5 120.4 112.5 120.2 122.5 118.9 134.5 115 150.5 114.5 155.5 115.9 160.5 122.4 171.5 125.1 177.5 127.1 184.5 127.8 191.5 127.3 198.5 125.7 204.5 123 210.5 119 216.5 114.5 221.1 109.5 224.8 103.5 227.8Z" fill="rgb(2,14,239)" fill-rule="evenodd"/>
<path d="M92.5 229.5 84.5 229.2 77.5 227.4 70.5 223.9 64.5 219.1 59.8 213.5 56 206.5 53.9 199.5 53.2 191.5 54.3 183.5 55.8 178.5 57.7 174.5 62.2 167.5 71.7 156.5 73.6 152.5 73.7 147.5 71.2 134.5 70.3 127.5 69.7 114.5 70.4 99.5 71.4 93.5 73 87.5 76.8 79.5 81.6 73.5 84.5 71.1 87.5 69.4 91.5 68.2 94.5 67.9 97.5 68.2 101.5 69.4 105.5 71.8 108.5 74.5 111 77.5 113.5 81.5 115.4 85.5 117 90.5 118.3 96.5 119.2 104.5 119.4 113.5 119.1 123.5 117.8 134.5 113.7 150.5 113.2 155.5 113.5 157.5 114.7 160.5 120.9 170.5 124.3 177.5 126.4 184.5 127.1 192.5 126.3 199.5 124.2 206.5 121.1 212.5 117.2 217.5 111.5 222.6 105.5 226.2 99.5 228.4Z" fill="rgb(3,21,240)" fill-rule="evenodd"/>
<path d="M95.5 228.5 88.5 228.9 80.5 227.6 73.5 224.9 66.5 220.1 61.3 214.5 57.1 207.5 54.8 200.5 53.9 192.5 54.1 188.5 55 183.5 58 175.5 60.3 171.5 63.1 167.5 73.1 156.5 75 152.5 75 147.5 72.6 136.5 71.6 129.5 70.7 116.5 70.8 107.5 71.3 100.5 72.2 94.5 73.8 88.5 77.5 80.5 79.6 77.5 82.5 74.3 85.5 72 88.5 70.5 91.5 69.6 94.5 69.3 98.5 69.8 101.5 70.9 104.5 72.7 107.5 75.2 110.3 78.5 112.8 82.5 114.6 86.5 116.2 91.5 117.4 97.5 118.2 105.5 118.3 114.5 118 124.5 116.6 135.5 112.4 150.5 111.8 155.5 112.2 157.5 113.4 160.5 119.9 170.5 123.1 176.5 125.4 183.5 126.4 191.5 126 197.5 124.2 204.5 122 209.5 118 215.5 113.5 220.2 108.5 223.8 102.5 226.7Z" fill="rgb(3,27,242)" fill-rule="evenodd"/>
<path d="M96.5 227.7 88.5 228.3 81.5 227.2 77.5 226 73.5 224.1 67.5 220.1 62.1 214.5 57.9 207.5 55.3 199.5 54.6 192.5 54.9 187.5 55.7 183.5 57 179.5 59.3 174.5 64.5 167.1 74.5 156.5 76.5 152.5 76.4 147.5 72.9 131.5 71.8 118.5 71.8 109.5 72.3 101.5 73.1 95.5 74.7 89.5 76.2 85.5 78.3 81.5 82.5 76.1 85.5 73.7 88.5 72.1 91.5 71.1 94.5 70.8 97.5 71.1 100.5 72 103.5 73.6 107 76.5 109.5 79.5 112 83.5 115.1 91.5 116.3 97.5 117 104.5 117.3 114.5 116.9 124.5 115.2 136.5 110.7 151.5 110.3 155.5 110.8 157.5 112.1 160.5 119 170.5 122.6 177.5 124.8 184.5 125.6 191.5 125.2 197.5 123.8 203.5 121.2 209.5 118 214.5 113.5 219.3 108.5 223 102.5 226Z" fill="rgb(4,33,243)" fill-rule="evenodd"/>
<path d="M92.5 227.5 85.5 227.3 78.5 225.6 72.5 222.8 66.5 218.3 62.2 213.5 58.2 206.5 56 199.5 55.3 192.5 55.7 187.5 56.7 182.5 58.2 178.5 60.1 174.5 65.5 167.1 76.1 156.5 77.4 154.5 78.1 152.5 78 148.5 75.1 137.5 74 131.5 73 119.5 73.3 102.5 74.3 95.5 75.8 89.5 79.1 82.5 83.5 77 88.5 73.7 91.5 72.7 94.5 72.4 97.5 72.7 100.5 73.7 103.5 75.3 106.5 77.9 108.7 80.5 111.2 84.5 114.2 92.5 115.3 98.5 116 105.5 116.1 115.5 115.7 125.5 114.1 136.5 109.2 151.5 108.8 155.5 110.2 159.5 118 170.5 121.8 177.5 124.1 184.5 124.9 192.5 124.2 199.5 122.3 205.5 119.3 211.5 115.4 216.5 110.5 220.9 105.5 224 99.5 226.3Z" fill="rgb(5,39,245)" fill-rule="evenodd"/>
<path d="M94.5 226.7 87.5 226.9 79.5 225.2 72.5 222 67.5 218.3 62.3 212.5 58.9 206.5 56.7 199.5 56 192.5 56.2 188.5 57.2 183.5 58.9 178.5 61 174.5 66.5 167.1 77.8 156.5 79.1 154.5 79.8 152.5 79.5 148.5 76.6 138.5 75.3 132.5 74.2 121.5 74 111.5 74.3 103.5 75.2 96.5 76.8 90.5 80 83.5 84 78.5 86.5 76.5 89.5 74.9 94.5 74 97.5 74.3 100.5 75.3 103.5 77.1 106.1 79.5 108.5 82.5 110.3 85.5 113.2 93.5 114.3 99.5 114.9 107.5 115 118.5 114.4 127.5 112.7 137.5 107.5 151.5 107.1 155.5 108.7 159.5 117.1 170.5 121 177.5 123.3 184.5 124.2 192.5 123.6 198.5 122 204.5 119.1 210.5 115.5 215.3 110.5 220 105.5 223.2 100.5 225.3Z" fill="rgb(6,50,246)" fill-rule="evenodd"/>
<path d="M96.5 225.6 89.5 226.3 82.5 225.4 75.5 222.9 69.5 219.1 63.9 213.5 60.2 207.5 57.6 200.5 56.7 193.5 56.9 188.5 57.9 183.5 59.7 178.5 61.8 174.5 67.2 167.5 78.7 157.5 80.5 155.5 81.5 153.5 81.8 151.5 81.5 149.5 77.4 136.5 75.7 126.5 75.2 110.5 76.1 98.5 77.1 93.5 78.4 89.5 80.3 85.5 82.5 82.2 85.5 79.1 88.5 77.2 91.5 76 94.5 75.7 97.5 76 100.5 77.1 103.5 79.1 105.5 80.9 107.5 83.5 109.5 86.9 112.2 94.5 113.3 100.5 113.8 108.5 113.8 119.5 113.1 128.5 111.1 138.5 105.7 151.5 105.2 153.5 105.2 155.5 105.9 157.5 107 159.5 115.5 169.7 119.7 176.5 122.3 183.5 123.4 191.5 123.1 197.5 121.9 202.5 119.4 208.5 116.1 213.5 112.4 217.5 107.5 221.3 102.5 223.8Z" fill="rgb(7,62,247)" fill-rule="evenodd"/>
<path d="M91.5 225.5 84.5 225.1 78.5 223.4 72.5 220.4 67.5 216.4 63.3 211.5 60 205.5 58.1 199.5 57.4 192.5 57.8 187.5 59 182.5 61 177.5 63.3 173.5 68.5 167.3 72.5 163.7 80.8 157.5 82.7 155.5 83.8 153.5 83.8 150.5 79 137.5 77.2 128.5 76.4 113.5 76.6 105.5 77.2 99.5 78.2 94.5 79.5 90.5 81.4 86.5 83.4 83.5 85.5 81.2 88.5 79.1 91.5 77.9 94.5 77.5 97.5 77.8 99.5 78.5 102.5 80.3 104.5 82.1 108.3 87.5 110.9 94.5 112 100.5 112.5 108.5 112.5 120.5 111.8 129.5 110.8 134.5 109.4 139.5 103.6 151.5 102.9 154.5 103.3 156.5 104.5 158.5 114.3 169.5 118.8 176.5 121.8 184.5 122.6 189.5 122.7 193.5 122 199.5 120.1 205.5 117.4 210.5 113.5 215.5 108.5 219.8 103.5 222.6 97.5 224.7Z" fill="rgb(7,74,247)" fill-rule="evenodd"/>
<path d="M94.5 224.5 88.5 224.8 81.5 223.7 75.5 221.3 69.5 217.3 64.9 212.5 61.2 206.5 58.8 199.5 58.1 192.5 58.7 186.5 60.1 181.5 62.4 176.5 64.9 172.5 70.5 166.5 74.5 163.3 84.5 156.5 86.3 154.5 86.8 153.5 86.5 150.5 80.8 138.5 78.8 130.5 77.8 117.5 78.2 102.5 79.9 93.5 81.5 89.5 83.5 86 85.5 83.5 88.5 81.1 91.5 79.8 94.5 79.4 97.5 79.8 100.5 81 103.5 83.4 106 86.5 108.1 90.5 109.5 94.5 110.5 99.5 111.1 104.5 111.1 121.5 109.9 132.5 108.6 137.5 107 141.5 100.3 152.5 100 154.5 100.2 155.5 102.3 158.5 112.5 168.6 116.8 174.5 119 178.5 120.8 183.5 121.8 188.5 122 192.5 121.4 198.5 120.1 203.5 117.8 208.5 114.3 213.5 110.5 217.3 105.5 220.8 100.5 223.1Z" fill="rgb(8,85,248)" fill-rule="evenodd"/>
<path d="M95.5 151.7 93.5 152.3 92.5 152 90.5 150.4 86.5 145.8 83.4 140.5 81.4 135.5 80.2 130.5 79.5 124.5 79.1 116.5 79.2 108.5 79.7 101.5 80.6 96.5 82.3 91.5 84.5 87.4 87.5 84.1 90.5 82.3 94.5 81.4 97.5 81.9 100.5 83.3 103.5 86 105.9 89.5 107.6 93.5 108.9 98.5 109.9 110.5 109.4 126.5 108.7 131.5 107.3 136.5 105.1 141.5 102.5 145.5 99.5 148.7ZM95.5 223.7 88.5 224.1 82.5 223.2 76.5 221 70.5 217.2 65.8 212.5 62 206.5 59.8 200.5 58.8 193.5 59.3 187.5 60.9 181.5 63.8 175.5 67.5 170.6 72.5 165.9 78.5 161.8 89.5 156 91.5 155 93.5 154.6 96.5 156.3 105.5 163.1 110.5 167.7 113.8 171.5 117.1 176.5 119 180.5 120.7 186.5 121.2 191.5 120.9 197.5 119.7 202.5 117 208.5 114.2 212.5 110.4 216.5 105.5 220 100.5 222.3Z" fill="rgb(9,96,249)" fill-rule="evenodd"/>
<path d="M97.5 146.5 94.5 147.4 91.5 146.7 88.5 144.5 86.1 141.5 83.9 137.5 82.5 133.3 81.3 127.5 80.8 121.5 80.9 104.5 81.6 99.5 82.9 94.5 84.7 90.5 87.5 86.8 90.5 84.7 94.5 83.7 97.5 84.2 100 85.5 102.5 87.7 104.4 90.5 105.9 93.5 107.1 97.5 108.3 106.5 108.1 123.5 107.6 128.5 106.6 133.5 105.1 137.5 102.9 141.5 100.5 144.4ZM96.5 222.7 89.5 223.4 83.5 222.7 77.5 220.7 72.1 217.5 66.7 212.5 63.3 207.5 60.8 201.5 59.7 195.5 59.7 189.5 61 183.5 63.5 177.5 67.5 171.8 72.5 166.9 78.5 162.9 85.5 159.7 91.5 158.2 95.5 158.7 100.5 161 106.5 165.3 111 169.5 114.3 173.5 117.3 178.5 119.2 183.5 120.4 189.5 120.4 195.5 119.5 200.5 117.7 205.5 114.8 210.5 111.5 214.5 106.5 218.5 101.5 221.2Z" fill="rgb(10,107,250)" fill-rule="evenodd"/>
<path d="M96.5 143.6 93.5 143.9 91.5 143.2 88.5 140.9 86.5 138.1 84.8 134.5 83.6 130.5 82.8 125.5 82.4 119.5 82.7 104.5 83.4 99.5 84.5 95.5 86.4 91.5 88.5 89 91.5 86.9 94.5 86.3 97.5 86.9 99.5 88 101.5 89.9 103.3 92.5 104.6 95.5 105.7 99.5 106.7 108.5 106.5 123.5 105 132.5 103.5 136.4 101.5 139.7 99.5 141.9ZM92.5 222.6 86.5 222.5 80.5 221.1 75.5 218.9 70.5 215.3 66.1 210.5 63.1 205.5 61.1 199.5 60.3 193.5 60.8 187.5 62.1 182.5 65 176.5 68.8 171.5 73.5 167.2 80.5 163 86.5 160.7 91.5 160 96.5 160.8 101.5 163.1 106.5 166.5 111.5 171.3 115.3 176.5 117.7 181.5 119.2 186.5 119.8 192.5 119.2 198.5 117.7 203.5 115.3 208.5 112.3 212.5 108.5 216.2 103.5 219.4 97.5 221.7Z" fill="rgb(8,124,251)" fill-rule="evenodd"/>
<path d="M97.5 139.6 95.5 140.3 92.5 140 90.5 138.8 88.5 136.7 86.8 133.5 85.8 130.5 84.4 121.5 84.4 107.5 84.9 102.5 85.8 98.5 87.4 94.5 89.5 91.7 91.5 90.2 94.5 89.4 96.5 89.7 98.5 90.7 101.5 94.1 103.6 99.5 104.6 106.5 104.7 120.5 103.6 129.5 101.4 135.5 99.5 138ZM94.5 221.6 88.5 221.9 82.5 221 77.5 219.1 72.5 216 68.5 212.3 65 207.5 62.4 201.5 61.2 195.5 61.1 190.5 62.2 184.5 64.7 178.5 68.1 173.5 72.5 169.1 78.5 165.1 83.5 162.9 89.5 161.5 94.5 161.7 99.5 163.3 104.5 166.2 109.5 170.4 113 174.5 116 179.5 117.9 184.5 118.9 190.5 118.9 195.5 117.9 200.5 116.1 205.5 113 210.5 109.3 214.5 104.5 218 99.5 220.3Z" fill="rgb(6,142,252)" fill-rule="evenodd"/>
<path d="M96.5 135.7 94.5 136.2 92.5 135.6 91 134.5 89.5 132.5 87.5 126.9 86.7 119.5 86.8 107.5 87.9 100.5 89.1 97.5 90.5 95.4 92.5 93.8 94.5 93.3 97.5 94.3 100 97.5 101.5 101.6 102.4 108.5 102.4 119.5 101.5 127.5 99.5 132.7 98.1 134.5ZM95.5 220.6 90.5 221.2 84.5 220.6 78.5 218.7 73.5 215.8 69.5 212.3 65.9 207.5 63.2 201.5 62.1 196.5 61.9 190.5 63 184.5 65.1 179.5 68.3 174.5 72.5 170.2 77.5 166.6 83.5 163.9 88.5 162.8 93.5 162.8 98.5 164.1 103.5 166.7 107.5 169.7 111.5 173.9 114.6 178.5 116.7 183.5 118 189.5 118.1 195.5 117.1 200.5 115.2 205.5 112.8 209.5 109.3 213.5 104.5 217.1 100.5 219.1Z" fill="rgb(4,161,253)" fill-rule="evenodd"/>
<path d="M95.5 129.2 94.5 129.4 93.5 129.1 92.5 128.3 91.5 126.6 90.5 123 90 117.5 90.1 109.5 90.9 104.5 92.5 101 94.5 99.8 96.5 100.8 97.6 102.5 98.5 105.5 99.1 111.5 99 118.5 98.5 123.7 97.5 126.9 96.5 128.5ZM96.5 219.6 91.5 220.4 85.5 220 80.5 218.7 75.5 216.2 70.8 212.5 67.5 208.5 64.7 203.5 63 197.5 62.6 191.5 63.3 186.5 65 181.5 67.8 176.5 71.5 172.2 76.5 168.3 81.5 165.7 87.5 164.1 92.5 163.9 97.5 164.9 102.5 167.2 106.5 170 110.5 174 113.6 178.5 115.9 183.5 117.1 188.5 117.4 193.5 116.8 198.5 115.3 203.5 113.2 207.5 110.1 211.5 106.5 214.8 101.5 217.9Z" fill="rgb(2,178,254)" fill-rule="evenodd"/>
<path d="M91.5 219.6 86.5 219.4 81.5 218.2 76.5 215.9 72 212.5 68.4 208.5 65.6 203.5 64 198.5 63.4 193.5 63.9 187.5 65.5 182.5 68.1 177.5 71.4 173.5 75.5 170 80.5 167.2 85.5 165.5 90.5 164.9 95.5 165.5 100.5 167.3 104.5 169.7 108.9 173.5 112 177.5 114.6 182.5 116.1 187.5 116.6 192.5 116.2 197.5 114.8 202.5 112.9 206.5 109.5 211 105.6 214.5 101.5 217 96.5 218.8Z" fill="rgb(1,195,255)" fill-rule="evenodd"/>
<path d="M93.5 218.6 88.5 218.8 83.5 218 78.5 216.1 74.4 213.5 70.5 209.8 67.5 205.5 65.4 200.5 64.4 195.5 64.3 190.5 65.3 185.5 67.3 180.5 70.5 175.7 74.5 171.8 78.5 169.2 83.5 167 88.5 166 93.5 166.2 97.5 167.1 102.5 169.5 106.5 172.4 110.3 176.5 112.8 180.5 114.8 185.5 115.7 190.5 115.6 195.5 114.6 200.5 112.5 205.5 109.7 209.5 106.5 212.8 102.5 215.5 98.5 217.3Z" fill="rgb(0,211,250)" fill-rule="evenodd"/>
<path d="M94.5 217.5 89.5 218 84.5 217.3 79.5 215.6 75.5 213.3 72.3 210.5 69.1 206.5 66.6 201.5 65.3 196.5 65.1 191.5 65.9 186.5 67.7 181.5 70.2 177.5 73.5 173.8 77.5 170.8 82.5 168.4 87.5 167.2 92.5 167.1 96.5 167.9 101.5 170 105.5 172.8 109.1 176.5 111.8 180.5 113.9 185.5 114.7 189.5 114.9 194.5 114 199.5 112.5 203.5 110.2 207.5 107.5 210.7 103.5 213.9 99.5 216.1Z" fill="rgb(0,226,243)" fill-rule="evenodd"/>
<path d="M94.5 216.7 90.5 217.1 85.5 216.7 80.5 215.1 76.5 212.9 72.5 209.5 69.5 205.5 67.5 201.5 66.2 196.5 66 191.5 66.8 186.5 68.7 181.5 71.3 177.5 74.5 174.2 78.5 171.3 83.5 169.1 87.5 168.2 92.5 168.1 96.5 168.9 100.5 170.6 104.5 173.2 108 176.5 110.8 180.5 112.6 184.5 113.8 189.5 114 194.5 113.4 198.5 112 202.5 109.5 207 106.5 210.5 103.5 212.9 99.5 215.1Z" fill="rgb(0,240,237)" fill-rule="evenodd"/>
<path d="M95.5 215.5 91.5 216.1 86.5 215.9 81.5 214.6 77.5 212.5 73.7 209.5 71.2 206.5 68.9 202.5 67.3 197.5 66.8 193.5 67.2 188.5 68.8 183.5 71 179.5 73.5 176.4 77.5 173 81.5 170.9 85.5 169.6 90.5 169.1 94.5 169.5 98.5 170.7 102.5 172.9 106.5 176.3 109.1 179.5 111.2 183.5 112.5 187.5 113.1 191.5 112.9 196.5 111.9 200.5 110 204.5 107.2 208.5 103.9 211.5 99.5 214.1Z" fill="rgb(0,254,230)" fill-rule="evenodd"/>
<path d="M95.5 214.6 91.5 215.2 86.5 215 82.5 214 78.5 212.1 74.5 208.9 71.6 205.5 69.5 201.5 68.2 197.5 67.8 193.5 68.2 188.5 69.4 184.5 71.5 180.5 74.5 176.7 77.5 174.2 81.5 172 85.5 170.6 89.5 170.1 93.5 170.4 97.5 171.5 101.5 173.4 105.3 176.5 107.9 179.5 110.2 183.5 111.6 187.5 112.2 191.5 111.9 196.5 110.9 200.5 109 204.5 106.5 207.8 103.5 210.6 99.5 213.1Z" fill="rgb(0,255,198)" fill-rule="evenodd"/>
<path d="M95.5 213.6 91.5 214.2 86.5 214 82.5 212.9 78.5 210.9 75.4 208.5 72.5 205.1 70.5 201.5 69.2 197.5 68.7 193.5 69 189.5 70 185.5 72 181.5 74.5 178.2 77.5 175.5 81.5 173.1 85.5 171.7 89.5 171.2 93.5 171.5 96.5 172.2 100.5 174 103.9 176.5 106.7 179.5 109.1 183.5 110.6 187.5 111.2 191.5 111.1 195.5 110.2 199.5 108.4 203.5 105.5 207.5 102.5 210.2 99.5 212Z" fill="rgb(0,255,163)" fill-rule="evenodd"/>
<path d="M95.5 212.5 91.5 213.2 87.5 213.1 83.5 212.2 79.5 210.4 76.5 208.1 73.5 204.8 71.6 201.5 70.2 197.5 69.7 193.5 70 189.5 71.1 185.5 72.6 182.5 74.7 179.5 77.9 176.5 81.5 174.2 85.5 172.8 89.5 172.3 93.5 172.6 97.5 173.7 100.5 175.3 103.5 177.6 106.1 180.5 108 183.5 109.5 187.5 110.2 191.5 110.1 195.5 109.1 199.5 107.8 202.5 105.5 206 102.5 208.9 99.5 210.9Z" fill="rgb(0,255,126)" fill-rule="evenodd"/>
<path d="M94.5 211.7 91.5 212.2 87.5 212.1 83.5 211.1 80.1 209.5 77.4 207.5 74.6 204.5 72.8 201.5 71.3 197.5 70.8 193.5 71.1 189.5 72.3 185.5 73.8 182.5 76.1 179.5 78.5 177.4 81.5 175.5 85.5 174 89.5 173.4 92.5 173.6 96.5 174.6 99.5 176 102.9 178.5 105.5 181.5 107.3 184.5 108.7 188.5 109.2 192.5 108.8 196.5 107.6 200.5 106 203.5 103.6 206.5 101.3 208.5 98.5 210.2Z" fill="rgb(0,255,86)" fill-rule="evenodd"/>
<path d="M94.5 210.5 91.5 211.1 87.5 211 83.5 209.9 80.6 208.5 77.9 206.5 75.5 203.8 73.5 200.5 72.5 197.5 72 194.5 72.1 190.5 73.1 186.5 74.5 183.5 76.8 180.5 79.5 178.1 82.5 176.3 85.5 175.2 88.5 174.7 92.5 174.8 96.5 175.8 99.5 177.4 102.3 179.5 104.5 182.1 106.5 185.5 107.5 188.5 108 191.5 107.9 195.5 106.8 199.5 105.3 202.5 103 205.5 100.5 207.7 97.5 209.5Z" fill="rgb(6,255,54)" fill-rule="evenodd"/>
<path d="M93.5 209.6 90.5 209.9 86.5 209.6 83.5 208.6 80.5 207 78.5 205.4 76 202.5 74.4 199.5 73.5 196.5 73.1 193.5 73.4 189.5 74.4 186.5 75.9 183.5 78.4 180.5 80.5 178.8 83.5 177.2 86.5 176.2 90.5 175.8 93.5 176.2 96.5 177.2 99.5 178.8 101.5 180.5 104 183.5 105.6 186.5 106.5 189.5 106.8 193.5 106.5 196.5 105.5 199.5 103.9 202.5 101.5 205.3 99.5 207 96.5 208.6Z" fill="rgb(24,255,36)" fill-rule="evenodd"/>
<path d="M91.5 208.6 88.5 208.6 85.5 208 80.5 205.5 78.4 203.5 76.3 200.5 75 197.5 74.4 194.5 74.4 191.5 75 188.5 76.2 185.5 78.3 182.5 82.5 179.1 85.5 177.8 88.5 177.2 91.5 177.2 94.5 177.8 97.5 179.1 99.6 180.5 101.7 182.5 103.7 185.5 104.9 188.5 105.5 191.5 105.5 194.5 104.9 197.5 102.4 202.5 100.5 204.5 97.5 206.7 94.5 208Z" fill="rgb(43,255,17)" fill-rule="evenodd"/>
<path d="M94.5 206.5 91.5 207.2 88.5 207.2 83.5 205.7 79.3 202.5 77.9 200.5 76.5 197.5 75.8 194.5 75.8 191.5 77.3 186.5 80.5 182.3 82.9 180.5 85.5 179.3 88.5 178.7 91.5 178.7 96.5 180.2 100.7 183.5 102.1 185.5 103.5 188.5 104.1 191.5 104.1 194.5 102.6 199.5 99.5 203.6 97.5 205.1Z" fill="rgb(80,255,0)" fill-rule="evenodd"/>
<path d="M92.5 205.5 87.5 205.5 84.5 204.5 82.7 203.5 79.5 200.2 78.1 197.5 77.5 195.5 77.5 190.5 78.5 187.5 79.5 185.7 82.7 182.5 84.5 181.4 87.5 180.4 92.5 180.4 95.5 181.4 97.3 182.5 100.5 185.8 102.4 190.5 102.4 195.5 100.5 200.1 97.2 203.5Z" fill="rgb(139,255,0)" fill-rule="evenodd"/>
<path d="M92.5 203.7 88.5 203.9 84.4 202.5 81.1 199.5 79.3 195.5 79.1 191.5 80.5 187.4 83.5 184.1 87.5 182.2 91.5 182 95.6 183.5 98.8 186.5 100.6 190.5 100.8 194.5 99.5 198.5 96.5 201.8Z" fill="rgb(220,248,0)" fill-rule="evenodd"/>
<path d="M92.5 201.6 88.5 201.8 85.5 200.8 82.9 198.5 81.4 195.5 81.2 191.5 82.3 188.5 84.5 185.9 87.5 184.4 91.5 184.2 94.5 185.3 97 187.5 98.5 190.5 98.7 194.5 97.7 197.5 95.5 200Z" fill="rgb(255,144,0)" fill-rule="evenodd"/>
<path d="M92.5 198.7 90.5 199.2 87.5 198.8 85.6 197.5 84.2 195.5 83.8 193.5 84.3 190.5 85.5 188.7 87.5 187.3 90.5 186.8 92.5 187.3 94.2 188.5 95.6 190.5 96.1 193.5 95.6 195.5 94.3 197.5Z" fill="rgb(250,10,0)" fill-rule="evenodd"/>
<path d="M50.9 2.6h1.2M251.8 6.7h1.2M137.8 22.6h1.2M86.7 38.5h1.2M87.7 41.7h1.2M96 41.5h1.2M83.8 42.3h1.2M98.2 42.8h1.2M92.8 43.6h1.2M96.8 43.3h1.2M99.2 43.6h1.2M84.9 44.5h1.2M93 44.6h1.2M96 44.2h1.2M105.9 44.8h1.2M96.8 45.8h1.2M104 45.5h1.2M174.3 45.4h1.2M83 46.4h1.2M95.1 46.2h2M102.8 47.3h1.2M72.8 48.8h1.2M81.9 48.6h1.2M182.9 48.7h1.2M78 49.4h1.2M81.3 49.5h1.2M105 49.3h1.2M117 49.4h1.2M108.9 50.3h1.2M113.2 50.6h1.2M74.8 51.2h1.2M113.7 52.4h1.2M122.8 52.3h1.2M115.7 54.2h1.2M119.1 54.7h1.2M151 54.7h1.2M116.2 55.4h1.2M117 57.3h1.2M119 58.4h1.2M68.1 59.3h1.2M124 59.7h1.2M140.9 59.6h1.2M153.1 59.5h1.2M188.8 59.8h1.2M68.9 60.4h1.2M168.7 60.8h1.2M129.1 61.8h1.2M125.8 62.6h1.2M123.7 63.3h2M65.8 64.6h2M125.1 64.2h1.2M152.1 64.5h1.2M149 65.4h1.2M137.9 66.5h1.2M162 66.6h1.2M62.8 67.5h1.2M125.1 67.4h1.2M154.9 67.3h1.2M149 68.2h1.2M60.7 70.2h1.2M138 70.2h2M131.2 71.5h1.2M138.8 71.2h1.2M143.2 71.8h1.2M163.8 71.7h1.2M62 72.3h1.2M128.9 72.2h1.2M60.2 73.5h2M128.8 73.4h1.2M170.2 73.7h1.2M129.8 74.7h1.2M137.9 74.8h1.2M142.8 74.3h2M161.3 74.4h1.2M165.1 74.2h1.2M129.7 75.3h1.2M137.1 75.4h1.2M141.2 75.5h1.2M145.9 75.8h1.2M156.7 75.4h1.2M133.9 76.7h1.2M137.2 76.2h1.2M148.7 76.5h1.2M134 77.6h1.2M137 77.3h1.2M146.1 77.7h1.2M136.2 78.7h1.2M145.1 78.5h1.2M154.9 78.8h1.2M59.1 79.4h1.2M132.7 79.7h1.2M134.9 80.6h1.2M137.8 80.8h1.2M198.9 80.4h1.2M151.9 81.8h1.2M166.8 81.7h1.2M56.3 82.4h1.2M59.2 82.6h1.2M136 82.3h1.2M146.7 82.7h1.2M168.1 82.6h1.2M133.8 83.7h1.2M142 83.5h1.2M152.9 83.3h1.2M157.9 83.7h1.2M159.9 83.6h1.2M170.9 83.6h1.2M175.2 83.8h1.2M54.8 84.8h1.2M135 84.5h1.2M143.2 84.7h1.2M145.2 84.5h1.2M148.9 84.6h1.2M155.9 84.2h1.2M161 84.6h1.2M164.1 84.4h1.2M135 85.5h1.2M148.7 85.5h1.2M152.9 85.4h1.2M159.7 85.5h1.2M164.9 85.7h1.2M170 85.2h1.2M135.7 86.5h2M140.1 87.5h1.2M161 87.5h1.2M165.2 87.8h1.2M167.9 87.7h1.2M174.9 87.4h1.2M141.9 88.5h1.2M150.8 88.7h1.2M158.9 88.8h1.2M164.9 88.6h1.2M167.1 88.6h1.2M149.9 89.5h1.2M157.2 89.7h1.2M161.8 89.4h1.2M169.2 89.7h1.2M57.1 90.6h1.2M141.8 90.5h2M152.1 90.5h1.2M157.2 90.3h1.2M160.8 90.5h1.2M217 90.5h1.2M143.7 91.7h1.2M155.2 91.2h1.2M177.2 91.2h1.2M53.7 92.7h1.2M155.2 92.3h1.2M169.1 92.7h1.2M141 93.3h1.2M143.8 93.7h1.2M147.3 93.5h1.2M158 93.5h1.2M150.7 94.4h1.2M154 94.7h2M201.7 94.4h1.2M56.2 95.5h1.2M148.8 95.5h1.2M152 95.5h1.2M166.2 95.4h1.2M56.1 96.4h1.2M140.1 96.7h1.2M147.8 96.4h1.2M254.2 96.2h1.2M140.3 97.5h1.2M144.2 97.8h1.2M149.9 97.4h1.2M155.9 97.3h1.2M160 97.5h1.2M145 98.4h1.2M151.9 98.4h1.2M159.2 98.3h1.2M143.8 99.4h2M154.9 99.7h1.2M157.8 99.6h2M54.1 100.7h1.2M144.2 100.7h2M151.2 100.7h1.2M160.2 100.5h1.2M168 100.4h1.2M172 100.3h1.2M158.3 101.3h1.2M168.1 101.3h1.2M55 102.4h1.2M145.8 102.6h1.2M153.8 102.4h1.2M175.3 102.3h1.2M144.3 103.8h1.2M159 103.5h1.2M164.2 103.4h3M55.3 104.5h1.2M145.2 104.3h3M153.9 104.3h1.2M165 104.6h1.2M180.1 104.7h1.2M52.7 105.7h1.2M54.9 105.4h1.2M148.9 105.7h1.2M155.2 105.7h2M146.1 106.8h1.2M151.9 106.7h2M166 106.4h1.2M173.7 106.4h1.2M176 106.4h1.2M144.9 107.7h1.2M151 107.2h1.2M162 107.5h1.2M164.8 107.4h1.2M172.3 107.3h1.2M173.7 107.7h1.2M175.9 107.7h1.2M50.7 108.6h1.2M144.2 108.4h2M147.7 108.2h1.2M159.8 108.7h2M165.1 108.8h1.2M147.2 109.6h1.2M155 109.3h1.2M157 109.5h1.2M162.3 109.8h1.2M167.1 109.5h1.2M55.1 110.4h1.2M148.8 110.2h1.2M160.1 110.3h1.2M168.8 110.6h1.2M172.2 110.8h1.2M176.7 110.2h1.2M52.9 111.4h1.2M143.2 111.6h1.2M145.2 111.6h1.2M154.1 111.3h3M158.9 111.4h1.2M166.7 111.6h1.2M170.7 111.4h1.2M182.2 111.7h1.2M55.2 112.8h1.2M143.1 112.6h1.2M174.1 112.4h1.2M178.8 112.7h1.2M142.9 113.2h1.2M145.9 113.7h2M149.3 113.6h1.2M150.8 113.4h1.2M156.1 113.2h2M164.3 113.6h1.2M169.7 113.4h1.2M155.8 114.5h1.2M175.8 114.3h1.2M143.1 115.5h1.2M164.1 115.7h1.2M167.3 115.3h1.2M171.8 115.3h1.2M248.9 115.3h1.2M148.7 116.4h1.2M154 116.3h1.2M157.2 116.6h2M169 116.4h1.2M147.2 117.8h1.2M182.9 117.3h1.2M52.9 118.6h1.2M146 118.4h1.2M151.1 118.6h1.2M164.1 118.6h1.2M165.9 118.3h1.2M53.9 119.4h1.2M150.2 119.5h1.2M152 119.4h1.2M236.7 119.5h1.2M146.9 120.6h1.2M157 120.5h1.2M169.2 120.7h1.2M142.1 121.4h1.2M145.9 121.3h1.2M162.2 121.2h1.2M55.2 122.3h1.2M154.2 122.3h1.2M158.3 122.5h1.2M162.2 122.5h1.2M172.7 122.5h1.2M140.9 123.7h1.2M143.9 123.7h1.2M147.1 123.7h1.2M151.9 123.3h1.2M52.1 124.3h1.2M147.2 124.7h2M154.3 124.2h1.2M158.9 124.4h1.2M151.7 125.5h1.2M158.2 125.3h1.2M159.8 125.7h1.2M167.3 125.7h1.2M52.8 126.4h1.2M152.3 126.8h2M155 126.8h1.2M156.7 126.4h1.2M162.7 126.6h1.2M257.1 126.5h1.2M142.2 127.2h1.2M151.1 127.7h1.2M164.1 127.7h1.2M169.2 127.4h1.2M174.1 127.3h1.2M52.9 128.3h1.2M141.9 128.6h1.2M154.9 128.8h1.2M157 128.3h1.2M159.3 128.6h1.2M164.9 128.5h1.2M148.2 129.6h1.2M164.8 129.3h1.2M138.8 130.7h1.2M150.2 130.8h1.2M156 130.7h1.2M164.7 130.3h1.2M166.8 130.7h1.2M55.3 131.7h1.2M143 131.5h1.2M151.3 131.6h2M156.2 131.3h1.2M169.9 131.7h2M140.2 132.8h2M145 132.4h1.2M54.1 133.4h1.2M146 133.5h2M157.9 133.6h1.2M161.1 133.7h1.2M169.1 133.6h1.2M176.7 133.4h1.2M142.2 134.7h1.2M158.7 134.8h1.2M170.8 134.4h1.2M175.8 134.4h1.2M141 135.5h2M151.1 135.6h1.2M153.7 135.7h1.2M162.1 135.2h1.2M142.1 136.2h1.2M164.1 136.4h1.2M164.1 137.7h1.2M55 138.4h1.2M53.2 139.7h1.2M55 139.3h1.2M140 139.5h1.2M144.9 139.4h4M152.1 139.6h1.2M157.2 139.3h1.2M164.2 139.3h1.2M37.2 140.7h1.2M137.2 140.2h1.2M164.9 140.4h1.2M151.9 141.7h1.2M154.2 141.7h1.2M157.9 141.5h1.2M174.7 141.7h1.2M153.9 142.8h1.2M160.9 142.7h1.2M176.1 142.7h1.2M136.7 143.5h1.2M142.8 143.8h2M137.3 144.3h1.2M180.1 144.5h1.2M138.1 145.5h2M153 145.7h1.2M163.7 145.7h1.2M166.7 145.4h1.2M141.9 146.4h1.2M158.1 146.4h1.2M48.2 147.6h1.2M145.1 147.5h1.2M149.8 147.8h1.2M152 147.3h1.2M53.1 148.7h2M139.8 148.8h1.2M150 148.3h1.2M155.1 148.6h1.2M159.8 148.4h1.2M175.3 148.7h1.2M47.7 149.2h1.2M145.1 149.5h1.2M149.7 149.6h1.2M164.9 149.6h1.2M170.9 149.7h1.2M174 149.5h1.2M54.1 150.4h1.2M142.7 150.3h1.2M144.9 150.7h1.2M150.1 150.3h1.2M152.2 150.3h1.2M167.8 150.6h1.2M183.1 150.5h1.2M139.3 151.7h1.2M154.1 151.6h1.2M52.7 152.4h1.2M161.2 152.7h1.2M163 152.3h1.2M167.1 152.6h1.2M47 153.3h1.2M51.2 153.7h1.2M139.1 153.5h1.2M149.9 153.7h1.2M153.3 153.6h1.2M157.2 153.6h1.2M159.9 153.6h1.2M163.2 153.2h1.2M167.1 153.3h1.2M147.9 154.8h2M150.9 154.6h1.2M159.8 154.2h1.2M48 155.3h1.2M140 155.3h1.2M165 155.4h1.2M174 155.7h1.2M34.8 156.4h1.2M47.8 156.8h2M138.8 156.5h1.2M141 156.4h1.2M147 156.3h1.2M180.1 156.5h1.2M35.8 157.2h1.2M44.8 157.8h1.2M139.9 157.3h1.2M154.3 157.8h1.2M159.2 157.4h1.2M164.9 157.7h1.2M25.9 158.2h1.2M36.9 158.4h1.2M149 158.2h1.2M156 158.2h2M161.8 158.4h1.2M17.8 159.3h1.2M37.7 159.3h1.2M43 159.4h1.2M148.1 159.5h1.2M153.1 159.3h1.2M167 159.7h2M171.1 159.7h1.2M173.1 159.6h1.2M187.8 159.5h1.2M23.1 160.2h2M25.9 160.5h1.2M46.8 160.7h1.2M144.9 160.8h1.2M152 160.6h1.2M159.7 160.6h1.2M170.8 160.3h1.2M174.1 160.7h1.2M185.9 160.8h1.2M39.8 161.6h1.2M42 161.5h1.2M150.9 161.5h1.2M152.9 161.8h1.2M161.9 161.7h1.2M164.9 161.7h1.2M173.1 161.7h1.2M34.3 162.7h1.2M36 162.5h1.2M142.2 162.8h1.2M145 162.3h1.2M156.1 162.7h1.2M159.3 162.6h1.2M27 163.7h1.2M39 163.4h1.2M45.8 163.7h1.2M145.2 163.3h1.2M167.9 163.2h1.2M172 163.4h1.2M180.3 163.8h1.2M191.2 163.7h1.2M196.2 163.7h1.2M33.2 164.3h1.2M150.1 164.6h2M160.9 164.5h1.2M181.1 164.4h1.2M184.2 164.3h2M188.3 164.5h1.2M192.3 164.5h1.2M26.1 165.6h1.2M29.8 165.7h2M41.3 165.4h1.2M43.1 165.7h1.2M148.3 165.3h1.2M153.2 165.3h1.2M161 165.6h1.2M162.7 165.6h1.2M166.2 165.2h2M179.7 165.5h1.2M23.8 166.4h3M38.8 166.8h1.2M165 166.2h1.2M166.7 166.7h2M179.2 166.7h1.2M182.2 166.4h1.2M189.3 166.6h1.2M26.3 167.4h2M33.8 167.3h1.2M37.2 167.4h1.2M40.7 167.2h1.2M157.3 167.6h1.2M180 167.2h1.2M185.3 167.4h1.2M20.8 168.6h1.2M34.8 168.2h1.2M156 168.2h1.2M170 168.4h1.2M177.1 168.5h1.2M189 168.5h1.2M192.8 168.8h1.2M233.2 168.6h1.2M38.3 169.7h1.2M184.7 169.4h1.2M202.2 169.3h1.2M208.8 169.3h1.2M18.7 170.8h1.2M21.9 170.7h1.2M24.3 170.8h1.2M38.2 170.3h1.2M162.2 170.3h1.2M173 170.5h2M176.8 170.6h1.2M182.8 170.3h1.2M196.9 170.8h1.2M200.3 170.7h1.2M202 170.7h1.2M206.9 170.3h1.2M31 171.5h1.2M36.2 171.8h1.2M38.3 171.3h1.2M165.8 171.7h1.2M168.8 171.6h2M173.2 171.6h1.2M177 171.8h1.2M181.3 171.3h1.2M189.1 171.7h1.2M194.2 171.3h1.2M196.1 171.4h1.2M202.3 171.4h1.2M205.9 171.6h1.2M218.2 171.5h1.2M11 172.5h1.2M170.1 172.7h2M178 172.4h1.2M184.7 172.2h1.2M187.1 172.4h2M192.7 172.3h1.2M194.9 172.6h1.2M209.2 172.5h1.2M223.1 172.7h1.2M229.9 172.2h1.2M15.2 173.5h1.2M17.2 173.3h1.2M22.1 173.4h1.2M26.9 173.5h1.2M36.1 173.5h1.2M174.7 173.3h1.2M180.1 173.6h2M186.8 173.4h1.2M218.2 173.6h1.2M11.8 174.4h1.2M31.2 174.7h1.2M175.8 174.5h1.2M180.2 174.5h1.2M183.3 174.2h1.2M186.9 174.6h1.2M191.1 174.8h2M207 174.3h1.2M10.8 175.7h1.2M16.8 175.7h1.2M31.9 175.8h1.2M186.7 175.2h1.2M191.1 175.3h1.2M194.2 175.4h1.2M199.2 175.4h1.2M204.1 175.3h1.2M206 175.7h1.2M214.8 175.2h2M245.9 175.7h1.2M23.2 176.6h1.2M182.2 176.3h1.2M201.9 176.2h1.2M205.3 176.6h1.2M207 176.4h1.2M214.9 176.2h1.2M220.2 176.6h1.2M23.7 177.3h1.2M26.3 177.6h1.2M28 177.6h1.2M188 177.5h1.2M192 177.4h2M201.1 177.3h1.2M209.1 177.6h1.2M215.2 177.6h1.2M219 177.3h2M226.7 177.6h1.2M231.1 177.4h1.2M245.1 177.8h1.2M11 178.5h1.2M16.8 178.3h1.2M195.2 178.4h1.2M203 178.5h3M229.2 178.5h1.2M230.7 178.3h1.2M235 178.5h2M187.9 179.4h1.2M191.8 179.4h1.2M199.3 179.3h1.2M202.3 179.5h1.2M207.1 179.5h1.2M210.8 179.2h1.2M214.3 179.2h1.2M242 179.5h1.2M6.2 180.4h1.2M15.1 180.5h1.2M22.1 180.8h1.2M24 180.4h1.2M194.1 180.4h1.2M211 180.3h1.2M225.1 180.3h1.2M248.1 180.7h1.2M9.2 181.6h1.2M13.8 181.4h1.2M200.1 181.7h1.2M202.3 181.4h1.2M208.1 181.3h1.2M228 181.2h1.2M235 181.2h1.2M9 182.6h1.2M18.7 182.8h1.2M197.1 182.6h1.2M207.1 182.3h1.2M213.9 182.4h1.2M217.7 182.2h1.2M16.8 183.8h1.2M20 183.5h1.2M200.2 183.7h1.2M214.1 183.8h3M221.1 183.2h1.2M233.1 183.6h1.2M5.8 184.7h1.2M15.3 184.7h1.2M16.9 184.2h1.2M207 184.5h2M214.3 184.6h1.2M216.7 184.8h1.2M223.8 184.8h1.2M229.2 184.5h1.2M231.9 184.7h1.2M203.7 185.7h1.2M237.1 185.5h1.2M19.1 186.7h1.2M204.1 186.2h1.2M228 186.7h1.2M241 186.7h1.2M12.2 187.8h1.2M200.7 187.5h1.2M207.2 187.6h1.2M235.1 187.7h1.2M236.8 187.7h1.2M8.2 188.7h1.2M10.1 188.8h1.2M205.9 188.5h2M217.1 188.3h1.2M18 189.6h1.2M199.1 189.3h1.2M208.2 189.4h1.2M214 189.4h1.2M223.7 189.6h1.2M11.1 190.4h2M18.2 190.5h1.2M201.9 190.6h1.2M205.1 190.5h1.2M214.1 190.7h1.2M225 190.7h2M13.8 191.5h3M205 191.7h2M230.7 191.7h1.2M11 192.3h1.2M14.2 192.7h2M211.9 192.7h1.2M227 192.6h1.2M229.3 192.6h1.2M235.1 192.5h1.2M248.3 192.7h1.2M2.2 193.4h1.2M204.8 193.7h1.2M221.9 193.6h1.2M227.7 193.2h1.2M247.2 193.8h1.2M10.2 194.2h1.2M18.9 194.7h1.2M194.1 194.4h1.2M196.2 194.4h1.2M203.1 194.7h1.2M210.1 194.5h1.2M213 194.7h2M216.1 194.5h2M223.2 194.3h1.2M228.9 194.7h1.2M246.2 194.2h1.2M6.8 195.3h1.2M18.9 195.7h1.2M192.3 195.8h1.2M193.8 195.4h2M198.1 195.7h1.2M205.7 195.6h1.2M210.7 195.8h1.2M217.2 195.6h2M220.2 195.4h1.2M244 195.7h1.2M9.3 196.6h1.2M17.1 196.4h1.2M204.2 196.4h1.2M208.8 196.3h1.2M214.9 196.6h1.2M218.1 196.3h1.2M226 196.5h1.2M236.2 196.2h1.2M19.3 197.3h1.2M185.9 197.6h1.2M195.3 197.6h1.2M197.1 197.4h1.2M201.1 197.8h2M219.8 197.5h1.2M226.2 197.4h1.2M11.8 198.3h1.2M219.1 198.3h1.2M19 199.7h1.2M157.1 199.6h1.2M171.9 199.2h1.2M174.8 199.6h1.2M180.9 199.8h1.2M183.9 199.3h2M186.9 199.7h1.2M190.1 199.3h1.2M200.2 199.5h1.2M209 199.5h3M213.9 199.2h1.2M219.3 199.3h1.2M223.8 199.4h1.2M17.8 200.8h1.2M19.9 200.5h1.2M148.7 200.7h1.2M156.2 200.5h1.2M158.8 200.5h3M166.9 200.4h1.2M170.2 200.6h1.2M186 200.3h1.2M194 200.3h1.2M212.8 200.7h1.2M219 200.7h1.2M0.2 201.4h1.2M12.2 201.3h1.2M20.9 201.3h1.2M162.1 201.7h2M166.2 201.4h1.2M179.2 201.4h1.2M181.1 201.4h2M184.3 201.5h1.2M206.8 201.6h1.2M210.9 201.4h1.2M12.3 202.5h1.2M14 202.4h1.2M16 202.4h1.2M18.1 202.3h1.2M144.8 202.6h1.2M151.1 202.7h1.2M156.8 202.6h1.2M166.9 202.8h1.2M169.2 202.7h2M173 202.6h1.2M176.7 202.8h1.2M179.2 202.4h1.2M212.1 202.6h1.2M221.8 202.6h1.2M17.8 203.6h1.2M143.8 203.2h1.2M146.3 203.4h2M152.1 203.7h1.2M153.7 203.2h1.2M156.2 203.3h2M160.3 203.6h1.2M166.9 203.7h1.2M172.9 203.6h1.2M178.7 203.8h1.2M186.8 203.5h1.2M195.1 203.6h1.2M231.1 203.4h1.2M240.8 203.6h1.2M13 204.6h1.2M19.8 204.3h1.2M143.9 204.7h1.2M150.1 204.7h1.2M155 204.3h1.2M156.9 204.5h1.2M165.8 204.2h1.2M170.9 204.6h1.2M182.2 204.3h1.2M193.1 204.6h1.2M203.1 204.6h1.2M205.1 204.6h2M21 205.3h1.2M151.2 205.5h2M159 205.5h1.2M172.1 205.4h1.2M192 205.8h1.2M196.1 205.6h1.2M213.7 205.4h1.2M215.9 205.6h1.2M222.3 205.7h1.2M226.7 205.3h1.2M235 205.2h1.2M8.1 206.8h1.2M18.8 206.5h2M27.2 206.4h1.2M141.1 206.3h3M150.7 206.4h2M158.2 206.6h3M167.1 206.7h1.2M169.2 206.4h1.2M186.9 206.4h1.2M190.8 206.7h1.2M193.9 206.3h1.2M196.8 206.7h1.2M209.3 206.7h1.2M226.7 206.2h1.2M10.9 207.5h1.2M17.2 207.6h1.2M151 207.8h1.2M182.8 207.7h1.2M188.1 207.5h1.2M194.2 207.3h1.2M201.9 207.5h1.2M206.9 207.5h1.2M214.9 207.5h1.2M228.2 207.4h1.2M16 208.7h1.2M19.9 208.3h1.2M22 208.7h1.2M25.7 208.7h1.2M30.7 208.5h1.2M147.3 208.6h1.2M151.9 208.7h1.2M166.1 208.7h1.2M169.2 208.2h1.2M173.1 208.6h1.2M183.3 208.4h1.2M205 208.6h1.2M10.8 209.2h1.2M19 209.6h1.2M21.7 209.3h1.2M30.3 209.7h1.2M32.2 209.6h2M140 209.3h1.2M144 209.5h1.2M148.3 209.8h1.2M152.3 209.4h1.2M158.2 209.7h1.2M163.1 209.2h1.2M172.8 209.2h2M176 209.4h1.2M191.8 209.6h1.2M137.8 210.7h1.2M143 210.5h1.2M147.1 210.2h1.2M164.8 210.7h1.2M169 210.6h1.2M214.2 210.7h1.2M4.2 211.5h1.2M16.7 211.6h1.2M34.1 211.7h1.2M137.8 211.7h1.2M156.9 211.3h1.2M160 211.7h1.2M166.1 211.8h1.2M168.1 211.2h1.2M175.8 211.7h1.2M189.9 211.4h1.2M202 211.3h1.2M259.2 211.4h1.2M8 212.6h1.2M21.2 212.7h1.2M24.9 212.3h1.2M33.3 212.4h1.2M139.7 212.6h2M184.2 212.7h1.2M193.9 212.4h1.2M20 213.5h1.2M21.8 213.7h1.2M23.9 213.6h1.2M38.7 213.8h1.2M139.7 213.5h1.2M145.9 213.4h1.2M186.2 213.6h1.2M9.9 214.6h1.2M17.1 214.5h1.2M23.9 214.4h1.2M27.9 214.4h1.2M30.1 214.4h1.2M37.2 214.7h2M42.9 214.4h1.2M139 214.3h1.2M174.7 214.6h1.2M33.8 215.3h1.2M38.3 215.8h1.2M136.1 215.7h1.2M159 215.3h1.2M186.1 215.4h1.2M38.8 216.8h1.2M43.9 216.5h1.2M132.8 216.5h1.2M136.2 216.5h1.2M14 217.7h1.2M16.1 217.4h1.2M38.9 217.5h1.2M170.1 217.7h1.2M12.2 218.3h1.2M137.2 218.5h1.2M141 218.7h1.2M39.1 219.5h1.2M46.9 219.2h1.2M10.9 220.7h1.2M42.8 220.7h1.2M46.1 220.4h1.2M132.9 220.4h1.2M136.8 220.7h1.2M43.7 221.5h1.2M18.3 222.5h1.2M51.8 223.2h1.2M22.9 224.7h1.2M28.3 224.5h1.2M34.9 224.2h1.2M148.3 224.2h1.2M124.9 225.6h1.2M44.1 226.7h1.2M50 226.5h1.2M126 226.6h1.2M42.3 227.5h1.2M51.8 227.5h2M53.2 228.7h1.2M54.3 229.5h1.2M59.3 230.5h1.2M120.2 230.2h1.2M122.9 230.7h1.2M127 230.7h1.2M118.2 231.2h1.2M57 232.4h1.2M62 232.6h1.2M117.2 232.8h1.2M120.2 232.8h1.2M62.9 233.6h1.2M119.3 233.3h1.2M158.1 233.3h1.2M62.1 234.5h1.2M116.2 234.4h1.2M57.2 235.5h1.2M61.8 235.5h1.2M67.1 237.2h1.2M17.9 238.3h1.2M87.3 240.5h1.2M94.1 240.5h1.2M82.7 241.5h1.2M94 241.5h1.2M80.9 242.4h1.2M100 242.4h1.2M78.8 243.6h1.2M94.9 243.2h1.2M220.3 250.3h1.2" stroke="#5a55dc" stroke-width="1.25" stroke-opacity="0.85" fill="none"/>
<path d="M91.2 48.7h2M85 49.3h1.2M88.1 49.5h3M93.1 49.7h1.2M96.1 49.5h1.2M98.8 49.7h1.2M83.1 50.6h1.2M86.2 50.7h2M90.3 50.3h2M96.2 50.4h1.2M102.2 50.5h2M79.8 51.3h1.2M86.3 51.6h3M91.7 51.7h1.2M84.9 52.4h1.2M86.9 52.4h1.2M89.8 52.8h2M94 52.6h1.2M99.2 52.5h1.2M103 52.5h1.2M106.2 52.2h2M83.9 53.5h1.2M87.2 53.5h3M90.9 53.2h1.2M95.3 53.6h2M97.8 53.6h2M101 53.6h4M106.3 53.7h1.2M109.8 53.3h1.2M77.9 54.5h2M81.2 54.7h2M84.1 54.4h3M89 54.3h1.2M91.1 54.6h3M94.7 54.5h1.2M96.8 54.3h2M99.8 54.2h3M104.3 54.4h1.2M80.1 55.6h1.2M81.9 55.8h2M84.8 55.6h2M102.2 55.6h2M106.8 55.6h1.2M109.3 55.4h1.2M81.1 56.4h5M103.8 56.6h2M113.9 56.5h2M73.9 57.5h1.2M76 57.6h2M81.2 57.7h3M106.9 57.2h5M114.2 57.5h1.2M74.1 58.7h1.2M79.8 58.3h1.2M110.9 58.3h3M77.1 59.6h1.2M79.2 59.3h1.2M111.8 59.3h1.2M71.9 60.7h2M77.2 60.3h1.2M110.8 60.3h1.2M113.1 60.7h1.2M115.2 60.7h1.2M72 61.7h1.2M75.3 61.3h3M110.9 61.5h1.2M115.3 61.4h1.2M117 61.7h1.2M72.9 62.3h1.2M112.2 62.7h1.2M114.9 62.3h1.2M114.2 63.7h2M117 63.3h1.2M118.8 63.4h1.2M68.7 64.4h1.2M71.9 64.5h1.2M114.9 64.3h1.2M119.3 64.3h1.2M115.1 65.4h1.2M117.2 65.6h1.2M120.8 65.7h1.2M67.2 66.3h1.2M69.9 66.5h1.2M72 66.3h1.2M117.2 66.5h1.2M118.9 66.5h1.2M124 66.6h1.2M67.1 67.6h1.2M72.1 67.5h1.2M64.8 68.5h1.2M66.9 68.3h1.2M68.9 68.7h1.2M117.8 68.4h1.2M119.8 68.3h1.2M122.9 68.2h1.2M66.9 69.7h1.2M69 69.5h2M117.7 69.3h1.2M121.9 69.8h1.2M123.7 69.2h2M64 70.3h3M68.2 70.4h2M119.9 70.4h1.2M121.9 70.5h1.2M68.2 71.6h1.2M120 71.7h1.2M121.7 71.8h1.2M64 72.5h1.2M120.2 72.2h1.2M122.3 72.5h1.2M126.8 72.5h2M64 73.7h2M67.1 73.6h2M122.1 73.8h1.2M124.8 73.7h1.2M67 74.4h1.2M121.3 74.6h1.2M123.9 74.7h3M127.9 74.6h1.2M65.9 75.3h1.2M123.2 75.6h2M127.2 75.3h3M122 76.7h1.2M123.8 76.6h1.2M62.3 77.6h1.2M65.3 77.5h1.2M124 78.3h1.2M61.3 80.5h1.2M63 80.5h3M124 80.7h1.2M126 80.6h2M128.7 80.3h1.2M59.9 81.7h1.2M63 81.8h1.2M125 81.2h1.2M126.8 81.6h2M131.2 81.6h2M60.7 82.5h1.2M64.3 82.7h1.2M125.1 82.5h3M132.2 82.6h2M62.1 83.4h3M124.7 83.6h1.2M127.3 83.4h1.2M58.9 84.3h1.2M63.2 84.2h1.2M126.1 84.7h1.2M128.9 84.4h1.2M130.9 84.8h1.2M58.9 85.7h1.2M61.3 85.6h1.2M126.1 85.4h2M128.8 85.8h1.2M59.8 86.7h1.2M62 86.5h1.2M131.3 86.8h2M60 87.5h1.2M62.2 87.6h1.2M128.1 87.6h1.2M133.1 87.5h1.2M134.9 87.5h1.2M61 88.5h2M127.2 88.6h1.2M128.7 88.4h3M58.9 89.4h1.2M60.9 89.5h2M128.2 89.3h2M133 89.5h1.2M135.2 89.3h1.2M59 90.5h2M128.2 90.6h1.2M130.8 90.2h1.2M132.8 90.2h3M136.8 90.5h1.2M130.8 91.3h3M134.7 91.4h2M56.8 92.5h1.2M60.3 92.5h2M128.8 92.7h1.2M133.3 92.6h2M56.8 93.4h1.2M59.1 93.4h2M128.2 93.7h1.2M131.8 93.6h1.2M58.8 94.4h1.2M128.2 94.3h1.2M130.1 94.3h1.2M134 94.2h1.2M135.8 94.4h1.2M60.2 95.8h1.2M127.9 95.4h2M136 95.7h2M59.8 96.3h1.2M129.1 96.5h1.2M132.8 96.4h1.2M58.1 97.5h1.2M128.8 97.5h1.2M132.2 97.2h1.2M134.1 97.3h1.2M57.8 98.4h1.2M129.2 98.8h1.2M131.7 98.7h1.2M134.9 98.5h1.2M136.9 98.2h1.2M59.8 99.3h1.2M130 99.4h1.2M134 99.6h1.2M135.8 99.5h1.2M138.3 99.4h1.2M59.9 100.4h1.2M132.8 100.5h1.2M135.7 100.3h1.2M140.1 100.7h1.2M57 101.4h1.2M58.7 101.2h2M135.8 101.4h3M56.2 102.2h1.2M133.9 102.5h1.2M138.9 102.2h1.2M140.8 102.2h1.2M58 103.5h2M130 103.6h2M132.8 103.5h1.2M58.8 104.2h1.2M129 104.3h1.2M133.7 104.6h2M141.3 104.3h1.2M56.1 105.4h1.2M58.9 105.7h2M130.8 105.3h1.2M133.3 105.3h1.2M135.1 105.2h2M139 105.5h1.2M141 105.6h1.2M57.8 106.7h1.2M129.9 106.8h1.2M133.2 106.6h1.2M139.9 106.5h2M57.8 107.7h1.2M59.8 107.2h1.2M132.9 107.2h1.2M134.8 107.4h1.2M137.3 107.7h1.2M131 108.6h1.2M134.1 108.6h1.2M140.8 108.6h1.2M57 109.3h1.2M60.2 109.6h1.2M130.8 109.6h2M137.1 109.7h1.2M138.9 109.4h1.2M58.7 110.4h2M130.2 110.4h1.2M133 110.5h1.2M57.8 111.5h3M131 111.4h2M136.2 111.6h1.2M59 112.4h1.2M131.2 112.6h1.2M57.2 113.4h3M129.7 113.8h1.2M132.2 113.7h1.2M135.3 113.7h1.2M137.3 113.5h1.2M139 113.6h1.2M55.9 114.6h2M59.2 114.7h2M132 114.6h1.2M58.9 115.7h2M130.2 115.4h1.2M132.3 115.6h1.2M133.7 115.5h1.2M136 115.3h1.2M137.8 115.5h1.2M56 116.6h1.2M57.7 116.3h1.2M130 116.7h1.2M135.1 116.7h2M138 116.4h1.2M60 117.5h1.2M129.7 117.4h1.2M131.9 117.4h1.2M137 117.6h2M59.8 118.7h1.2M135.1 118.6h1.2M58.2 119.6h1.2M129.8 119.3h6M138.2 119.3h1.2M59.2 120.3h1.2M130 120.6h2M133.8 120.5h1.2M137.2 120.5h2M58 121.5h3M139.1 121.2h1.2M57.1 122.6h2M130.3 122.4h5M136.3 122.7h1.2M137.7 122.4h2M59.9 123.4h1.2M132.9 123.4h1.2M56.8 124.8h1.2M59.2 124.4h1.2M128.8 124.5h3M132.8 124.3h2M58.8 125.5h2M130.8 125.3h1.2M133.1 125.5h1.2M55.9 126.4h1.2M58.8 126.5h2M129.1 126.7h2M135.9 126.2h1.2M58.9 127.6h2M129.3 127.6h1.2M132.8 127.5h1.2M55.7 128.7h1.2M129.8 128.3h1.2M135.2 128.4h1.2M55.8 129.5h1.2M57.9 129.3h2M129 129.2h3M133.9 129.5h2M137 129.5h2M129.3 130.7h2M133.2 130.4h1.2M56.2 131.5h1.2M58.1 131.7h4M129.2 131.7h2M134.9 131.7h2M58.1 132.4h3M129.2 132.7h1.2M57.8 133.3h3M130.8 133.7h2M56.8 134.7h1.2M60.1 134.5h2M127.9 134.4h2M131.8 134.6h1.2M59.7 135.2h1.2M127.8 135.7h3M134.1 135.4h1.2M135.9 135.5h1.2M57 136.5h1.2M60.1 136.4h1.2M128.7 136.6h2M134.9 136.8h2M59 137.7h1.2M60.8 137.5h1.2M129.1 137.4h2M137 137.3h1.2M56.8 138.5h1.2M59.1 138.4h1.2M61.2 138.3h1.2M128.8 138.7h1.2M131.7 138.4h1.2M57.8 139.3h1.2M60 139.4h1.2M127.7 139.4h2M129.3 140.7h1.2M58.1 141.6h1.2M60.2 141.7h3M130.3 141.5h1.2M135.2 141.7h1.2M57.9 142.6h2M61.3 142.2h1.2M131.8 142.5h3M56.8 143.5h1.2M59 143.2h2M62 143.6h1.2M126.9 143.3h2M130.1 143.3h1.2M132.8 143.2h1.2M58 144.6h2M60.9 144.6h1.2M127.9 144.4h1.2M132.7 144.3h1.2M134.9 144.4h2M57.8 145.7h1.2M61.2 145.2h2M126.3 145.6h1.2M129.9 145.8h1.2M135.7 146.3h1.2M56.1 147.3h1.2M58.9 147.4h4M127 147.4h1.2M130.7 147.5h2M128.1 148.5h1.2M134.8 148.3h2M126.1 149.3h1.2M128.1 149.7h1.2M130.2 149.6h1.2M136 149.4h1.2M59.1 150.7h1.2M126.7 150.6h1.2M129 150.6h1.2M60.8 151.6h1.2M124.7 151.4h1.2M128.2 151.7h1.2M129.9 151.8h1.2M132.2 151.6h1.2M53.9 152.6h1.2M56.9 152.8h1.2M59.3 152.5h1.2M61 152.6h1.2M126.1 152.3h4M130.8 152.5h1.2M134.3 152.7h1.2M136.2 152.5h1.2M53.1 153.6h1.2M55.7 153.3h1.2M57.7 153.8h1.2M125 153.4h3M131.1 153.4h1.2M132.7 153.4h1.2M56 154.7h1.2M59.8 154.3h1.2M125.8 154.5h2M130.3 154.4h3M59.1 155.7h1.2M126.2 155.2h4M53.2 156.4h1.2M58.9 156.6h1.2M128.9 156.8h1.2M55.9 157.8h1.2M58 157.4h1.2M127 157.7h2M137.3 157.2h1.2M56.9 158.6h2M126.1 158.6h1.2M128 158.2h1.2M130.2 158.7h2M51.7 159.5h1.2M54.9 159.5h2M125.9 159.2h1.2M131.2 159.6h2M137.9 159.2h1.2M51.2 160.5h1.2M52.9 160.3h3M126.8 160.4h2M52.2 161.4h3M56.1 161.2h1.2M130.3 161.7h2M133.2 161.6h1.2M138.7 161.5h2M51.9 162.3h1.2M128.2 162.4h2M134.2 162.5h1.2M138.1 162.4h1.2M48.9 163.8h1.2M51.9 163.7h1.2M54 163.3h1.2M128 163.6h1.2M129.9 163.5h2M132.8 163.3h1.2M135.2 163.2h3M141 163.5h1.2M52.3 164.7h2M128.2 164.7h2M132.7 164.8h1.2M136.7 164.8h1.2M141.9 164.4h1.2M49.2 165.4h1.2M52.9 165.8h1.2M133.1 165.8h2M43.9 166.4h1.2M50 166.5h1.2M128.8 166.4h1.2M132.9 166.7h1.2M134.9 166.5h1.2M139.2 166.3h1.2M141.8 166.7h2M48.2 167.5h3M51.9 167.5h1.2M129.8 167.5h4M136.1 167.3h1.2M140.2 167.2h1.2M144.7 167.3h1.2M147.1 167.4h1.2M43.2 168.6h1.2M50.8 168.8h1.2M134.9 168.6h1.2M137.8 168.3h1.2M139.7 168.5h1.2M146.8 168.6h1.2M40.9 169.3h1.2M46.1 169.8h1.2M50.2 169.6h1.2M134.1 169.2h2M136.7 169.7h1.2M141 169.7h1.2M149 169.4h1.2M151.2 169.6h1.2M153.2 169.8h1.2M40.9 170.5h1.2M43.9 170.8h1.2M48.8 170.8h2M132.8 170.7h3M140.2 170.6h2M143 170.5h1.2M146 170.3h1.2M158 170.3h1.2M41.1 171.3h1.2M44.7 171.5h2M48.3 171.3h2M132 171.4h2M137.2 171.7h1.2M153.2 171.8h1.2M159.1 171.7h2M163.7 171.5h1.2M41.3 172.5h1.2M45.2 172.7h5M131.8 172.6h2M135 172.6h1.2M136.8 172.3h1.2M140 172.7h1.2M148 172.7h1.2M156.1 172.4h1.2M157.8 172.6h1.2M163.9 172.3h1.2M166.2 172.5h1.2M168 172.3h1.2M38.3 173.6h1.2M42.3 173.6h3M46.2 173.6h1.2M131.9 173.3h1.2M134 173.3h1.2M140.2 173.7h1.2M145 173.6h1.2M148.8 173.5h1.2M154.2 173.5h1.2M156.7 173.4h1.2M159.8 173.4h1.2M40.7 174.6h1.2M42.8 174.5h1.2M47.9 174.3h1.2M133 174.6h2M152 174.5h1.2M169.2 174.3h3M33.9 175.3h1.2M36.2 175.3h3M44.2 175.6h5M134 175.2h1.2M136.7 175.5h1.2M141 175.4h1.2M153.9 175.7h1.2M155.7 175.4h1.2M160.1 175.4h2M173.9 175.4h1.2M35.9 176.8h1.2M38.1 176.8h1.2M42.8 176.2h3M47.3 176.8h1.2M134 176.3h1.2M136.2 176.4h1.2M140.9 176.5h6M154.2 176.7h1.2M156.3 176.7h1.2M163.2 176.5h1.2M165.2 176.7h1.2M33.3 177.5h1.2M35 177.4h1.2M36.9 177.4h1.2M39.7 177.5h1.2M43.9 177.7h1.2M45.9 177.5h2M134.7 177.8h1.2M137.8 177.2h1.2M145.1 177.8h1.2M159.8 177.5h2M168 177.4h2M170.8 177.3h1.2M173.2 177.7h1.2M176.1 177.3h1.2M178.9 177.7h1.2M182.2 177.3h1.2M27.3 178.5h1.2M30.7 178.6h1.2M33.7 178.5h1.2M42.8 178.4h2M135.8 178.5h1.2M140.1 178.6h1.2M145.2 178.5h1.2M158.3 178.2h1.2M159.7 178.2h1.2M165.2 178.5h1.2M171 178.3h1.2M173.8 178.6h1.2M175.8 178.7h2M182.8 178.5h1.2M27.1 179.2h1.2M37.1 179.7h2M40 179.2h1.2M42.7 179.5h1.2M45 179.3h2M133.8 179.5h1.2M135.7 179.8h5M143.1 179.7h1.2M147.3 179.2h1.2M149.2 179.4h1.2M151.7 179.2h1.2M153.7 179.2h1.2M156 179.6h2M159 179.7h2M165 179.8h1.2M171.3 179.7h1.2M173.2 179.2h1.2M174.9 179.2h2M181.8 179.4h1.2M39.8 180.4h3M44.9 180.4h2M137 180.4h4M153.3 180.5h1.2M158 180.6h1.2M160 180.2h1.2M163.1 180.6h1.2M167.9 180.4h1.2M185.8 180.6h1.2M25.9 181.3h1.2M28.9 181.7h2M33.8 181.5h1.2M37 181.7h3M40.7 181.6h1.2M44.2 181.7h1.2M134.9 181.4h1.2M137 181.5h4M143.3 181.5h1.2M144.9 181.6h1.2M147.3 181.3h1.2M149.9 181.6h1.2M152.3 181.5h1.2M159.8 181.8h1.2M169.7 181.3h1.2M176.1 181.6h1.2M178 181.6h2M184.1 181.5h1.2M24 182.3h1.2M28.1 182.4h1.2M31.7 182.7h1.2M34.8 182.7h2M134.8 182.4h2M139.1 182.4h2M143.9 182.4h1.2M147.2 182.8h3M155.9 182.6h1.2M162.8 182.6h1.2M164.8 182.7h2M167.8 182.4h1.2M175 182.3h4M181.2 182.7h2M184.2 182.3h2M188 182.5h1.2M25.2 183.5h1.2M27.9 183.5h1.2M32.2 183.6h1.2M37.7 183.3h2M41.9 183.3h1.2M139.7 183.3h1.2M145.2 183.5h1.2M157.2 183.7h2M161.2 183.5h2M164.3 183.5h1.2M168.2 183.7h1.2M174 183.4h1.2M176.3 183.3h1.2M183.9 183.6h1.2M190.8 183.6h1.2M26.1 184.6h1.2M31.3 184.5h1.2M33.1 184.3h1.2M35.9 184.3h1.2M39.8 184.5h2M44.2 184.6h1.2M136.1 184.3h1.2M139.2 184.2h1.2M145.7 184.7h1.2M148.8 184.7h1.2M157.9 184.8h2M163 184.5h1.2M175.9 184.7h1.2M178.2 184.3h1.2M187.2 184.5h1.2M189.9 184.5h1.2M193.2 184.3h1.2M21.2 185.7h1.2M28 185.6h2M34.1 185.6h1.2M36.9 185.3h1.2M41 185.7h1.2M44.9 185.6h1.2M135.2 185.6h3M142.9 185.6h1.2M150.9 185.7h3M166.2 185.3h1.2M167.8 185.4h1.2M170 185.8h2M180 185.8h1.2M182.8 185.4h1.2M186.1 185.4h2M192.7 185.4h1.2M196 185.8h2M25.9 186.3h1.2M31.1 186.6h1.2M32.8 186.7h2M37.9 186.3h4M43.1 186.7h2M134.8 186.4h4M141.3 186.5h1.2M143.8 186.5h4M158.7 186.4h2M177.3 186.4h4M184.8 186.3h1.2M190.2 186.3h2M193.2 186.6h1.2M24 187.3h1.2M31.2 187.5h1.2M32.8 187.6h4M41.9 187.3h1.2M134.9 187.5h1.2M136.8 187.8h3M144.2 187.5h2M157.8 187.5h1.2M160.8 187.4h3M165.2 187.5h1.2M167.2 187.7h1.2M171.9 187.7h1.2M180.8 187.3h1.2M189 187.4h1.2M196 187.4h1.2M30 188.2h2M36.8 188.6h1.2M39.7 188.3h2M135.8 188.4h1.2M142.1 188.4h1.2M145.7 188.6h1.2M149.7 188.8h1.2M155.2 188.6h1.2M161.2 188.7h1.2M163.8 188.7h1.2M167.8 188.7h1.2M170.3 188.5h1.2M172.1 188.4h1.2M174.3 188.5h1.2M178.2 188.6h1.2M192 188.4h1.2M197.8 188.7h1.2M20.3 189.7h1.2M35.2 189.7h1.2M40.1 189.8h1.2M43.1 189.3h1.2M136.2 189.8h2M141.3 189.8h2M146.9 189.6h1.2M149 189.2h1.2M152.9 189.7h1.2M158.2 189.5h1.2M165.8 189.8h1.2M180.8 189.5h1.2M189.7 189.2h1.2M192.1 189.5h1.2M195.2 189.3h3M22.9 190.6h1.2M26.2 190.8h1.2M29.8 190.7h1.2M32.3 190.5h1.2M34.1 190.8h1.2M41.9 190.2h2M143.7 190.4h1.2M156.8 190.5h3M29.9 191.7h1.2M33.8 191.5h3M38.3 191.6h3M42.9 191.4h1.2M135.8 191.4h1.2M139 191.3h2M142.2 191.3h2M145 191.7h3M150 191.7h1.2M153.2 191.3h1.2M160.2 191.3h2M164.9 191.7h1.2M195 191.5h3M20.3 192.7h1.2M22.8 192.7h1.2M26.3 192.5h1.2M42.2 192.3h3M135 192.5h1.2M136.9 192.8h2M140.7 192.5h1.2M142.8 192.2h1.2M145 192.3h1.2M147.7 192.4h2M161 192.3h1.2M162.8 192.8h1.2M169.1 192.5h2M174.8 192.8h1.2M177.9 192.4h2M181 192.6h1.2M183.9 192.8h1.2M189.1 192.5h1.2M20.3 193.5h1.2M24.2 193.5h2M27.7 193.2h1.2M36.2 193.6h2M42.8 193.7h1.2M135.2 193.3h2M142.3 193.8h1.2M144.1 193.3h1.2M147.7 193.4h1.2M154.2 193.8h1.2M157.1 193.7h1.2M160.9 193.2h2M169.8 193.4h2M182.3 193.6h3M185.9 193.6h2M193.2 193.8h1.2M19.8 194.4h1.2M23 194.7h2M25.9 194.3h2M29.8 194.6h1.2M31.8 194.7h1.2M37.1 194.4h1.2M39.2 194.5h3M146.2 194.4h1.2M148.1 194.4h2M152.1 194.5h1.2M153.8 194.6h1.2M163.9 194.3h1.2M166.9 194.2h1.2M168.7 194.4h1.2M185.1 194.5h1.2M22.8 195.3h1.2M25.2 195.6h1.2M35.8 195.6h1.2M38.9 195.7h1.2M41.1 195.4h1.2M42.9 195.8h1.2M135.7 195.5h3M142.1 195.3h2M152 195.3h2M158 195.3h1.2M163 195.5h2M166.7 195.2h1.2M179.8 195.6h1.2M184.9 195.4h1.2M27.3 196.3h1.2M36.3 196.5h2M40.3 196.2h1.2M43.2 196.5h2M134.8 196.6h1.2M139.1 196.7h2M142 196.7h2M152.8 196.6h1.2M157.8 196.5h1.2M162.1 196.6h1.2M169.3 196.7h2M173.2 196.8h1.2M184.3 196.6h1.2M22.2 197.4h2M26.1 197.6h2M38.2 197.4h2M136.2 197.4h2M144.2 197.7h1.2M151.9 197.3h1.2M156.8 197.7h1.2M162.8 197.5h1.2M174.2 197.6h1.2M176.2 197.5h1.2M179.8 197.4h1.2M28 198.5h3M36.1 198.5h1.2M41.8 198.5h1.2M43.8 198.6h1.2M138.3 198.2h1.2M142.8 198.4h1.2M145.3 198.7h1.2M153.2 198.6h1.2M156.3 198.4h1.2M163.2 198.7h3M171.7 198.5h1.2M174 198.7h1.2M37.2 199.5h1.2M42.7 199.5h1.2M135.8 199.7h3M139.8 199.3h2M24.7 200.5h1.2M28.1 200.5h1.2M31 200.6h1.2M33.2 200.3h1.2M35.7 200.4h1.2M38.2 200.6h1.2M39.8 200.5h1.2M42.2 200.3h1.2M43.9 200.3h1.2M134.2 200.7h1.2M139 200.5h1.2M147 200.2h1.2M21.9 201.7h1.2M26.3 201.5h1.2M30 201.2h1.2M40.1 201.4h1.2M45 201.4h1.2M134 201.5h3M31.8 202.5h2M35.2 202.3h1.2M39 202.5h2M42.8 202.4h2M133.7 202.5h2M140.2 202.3h1.2M28.8 203.2h1.2M36.1 203.7h1.2M40 203.3h1.2M42.8 203.3h1.2M44.8 203.6h1.2M132.8 203.4h2M138.2 203.4h1.2M27.9 204.3h1.2M30.9 204.7h2M37.2 204.7h1.2M41.2 204.5h1.2M45 204.3h2M132.7 204.7h2M135.8 204.4h1.2M141.9 204.5h1.2M32.8 205.7h1.2M37.2 205.6h1.2M38.9 205.6h1.2M42.1 205.5h1.2M43.9 205.3h1.2M46.2 205.8h2M132.8 205.2h1.2M137 205.3h1.2M42.7 206.5h3M133 206.3h2M137.8 206.3h1.2M35.1 207.4h2M40.9 207.5h1.2M43.2 207.4h1.2M46.2 207.4h2M132.9 207.6h2M136.1 207.6h1.2M138.7 207.2h1.2M38.2 208.6h1.2M39.9 208.3h1.2M45 208.4h2M47.9 208.3h1.2M131 208.6h1.2M41 209.8h1.2M131.1 209.5h1.2M133.8 209.4h1.2M136 209.4h1.2M39 210.4h2M43.7 210.5h1.2M45.8 210.6h1.2M49.3 210.6h1.2M132.2 210.4h1.2M133.8 210.3h2M47.8 211.3h2M131.1 211.3h2M133.8 211.7h1.2M136 211.7h1.2M42.8 212.7h1.2M48.8 212.3h1.2M128.7 212.2h1.2M130.9 212.5h2M42 213.7h1.2M45.2 213.6h1.2M50 213.4h2M129.1 213.3h1.2M132.8 213.6h1.2M46.9 214.3h1.2M49.9 214.4h1.2M128.9 214.6h1.2M132.7 214.5h1.2M46.2 215.5h1.2M51.1 215.5h1.2M126.8 215.8h1.2M129.8 215.3h1.2M46.2 216.5h1.2M51.9 216.6h2M50 217.5h1.2M52.1 217.3h2M126.1 217.4h2M54.1 218.6h1.2M125.8 218.8h1.2M129.9 218.8h1.2M54.1 219.5h1.2M124.9 219.6h1.2M127.1 219.6h1.2M130.2 219.7h1.2M52.2 220.4h2M55.2 220.5h2M123.7 220.3h1.2M127 220.6h1.2M128.9 220.6h1.2M50 221.3h1.2M51.7 221.6h2M56.3 221.6h2M125.2 221.3h1.2M127.3 221.7h2M50.9 222.3h2M56.2 222.4h1.2M121.7 222.4h1.2M124.8 222.4h1.2M53.9 223.6h2M58.1 223.2h1.2M53.8 224.8h1.2M120 224.5h3M123.9 224.5h1.2M58.8 225.5h2M119.9 225.5h1.2M122.8 225.4h1.2M57.7 226.4h1.2M60.1 226.7h1.2M58.8 227.3h1.2M116.2 227.5h1.2M122.1 227.8h1.2M58.2 228.2h1.2M60.8 228.3h1.2M63.2 228.3h1.2M115 228.3h1.2M121 228.8h1.2M66.2 229.5h1.2M117.2 229.4h1.2M65.1 230.6h1.2M68 230.6h1.2M111.1 230.5h1.2M64.1 231.7h1.2M66.1 231.6h1.2M70.1 231.5h1.2M109.8 231.7h2M67.9 232.6h1.2M70.2 232.5h2M106.8 232.5h1.2M111.9 232.8h1.2M65.8 233.7h1.2M69 233.5h1.2M70.9 233.3h2M74.8 233.5h1.2M106 233.6h1.2M110.1 233.7h5M68.7 234.4h1.2M78 234.7h1.2M103.8 234.5h1.2M107 234.4h1.2M69 235.6h1.2M74 235.4h4M81.2 235.6h2M96.7 235.7h2M99.8 235.7h4M108.8 235.8h1.2M75.8 236.5h2M85.2 236.2h2M88.9 236.5h1.2M90.9 236.5h3M99.9 236.2h1.2M102.3 236.6h1.2M104.9 236.5h2M77 237.4h1.2M86 237.3h2M91.8 237.7h1.2M94.8 237.6h2M100.1 237.5h1.2M91 238.7h1.2M94.8 238.5h1.2M96.8 238.4h1.2M101.9 238.7h1.2M85.2 239.4h1.2M89.1 239.6h1.2M94.9 239.4h3" stroke="#2b2be6" stroke-width="1.25" stroke-opacity="0.95" fill="none"/>
<path d="M91.3 55.5h1.2M97.2 55.5h2M86.8 56.7h2M90.2 56.7h1.2M92.1 56.7h2M95 56.7h1.2M99 56.6h2M84.7 57.6h1.2M86.9 57.2h1.2M88.7 57.5h3M92.8 57.3h4M98.1 57.5h3M101.9 57.2h2M86.1 58.7h1.2M88.2 58.3h1.2M89.8 58.5h3M93.9 58.2h2M97.2 58.7h4M103 58.6h4M81.1 59.2h2M84.2 59.4h8M93.1 59.6h1.2M95.9 59.4h2M99.2 59.3h8M108.1 59.7h1.2M82.7 60.3h1.2M87 60.7h6M94 60.3h1.2M98.3 60.2h5M105.1 60.4h1.2M107.9 60.5h2M78.1 61.7h4M82.7 61.7h1.2M84.8 61.5h3M90 61.5h11M101.9 61.5h3M106.1 61.4h2M109.1 61.2h1.2M78.2 62.6h2M83.9 62.5h4M89 62.7h5M95 62.2h3M98.9 62.3h2M102.1 62.3h9M76.2 63.7h1.2M78.2 63.7h1.2M79.8 63.4h8M88.8 63.8h15M104.9 63.7h4M111.1 63.2h1.2M75.1 64.2h1.2M78 64.4h1.2M80.8 64.7h24M106.1 64.7h3M111.2 64.6h3M77.2 65.4h1.2M78.9 65.5h4M84.3 65.6h8M97 65.3h12M110.1 65.8h2M113 65.2h1.2M73.2 66.8h2M78 66.5h1.2M81 66.4h1.2M82.9 66.8h5M101.1 66.5h10M111.7 66.7h3M73.8 67.8h5M79.9 67.6h6M102.8 67.6h3M108.9 67.5h3M114 67.5h1.2M72.8 68.6h1.2M75.2 68.7h9M105 68.5h4M109.7 68.3h2M114 68.3h2M70.7 69.7h3M75.2 69.4h8M106 69.2h4M110.9 69.7h4M115.9 69.7h2M70.7 70.3h3M75.1 70.3h1.2M77.3 70.6h5M107.2 70.3h11M73.8 71.7h1.2M76.1 71.6h1.2M77.8 71.7h2M109.1 71.6h9M118.7 71.8h1.2M69 72.7h1.2M72.2 72.3h8M110.2 72.5h7M118.8 72.3h1.2M70.9 73.6h8M110.9 73.8h10M68.3 74.4h1.2M69.8 74.5h1.2M71.9 74.8h6M110.7 74.5h6M118.2 74.6h3M68.1 75.6h9M111.8 75.4h9M68.1 76.5h2M71 76.2h5M112.7 76.5h8M68.3 77.5h1.2M70.8 77.7h2M74.1 77.5h2M113.3 77.6h10M67.2 78.4h2M71.3 78.3h4M114.1 78.3h3M118.1 78.2h5M68 79.2h7M115.3 79.8h8M65.7 80.8h8M114.9 80.7h7M66.1 81.3h2M68.9 81.3h1.2M71 81.4h2M116.1 81.4h8M64.9 82.8h2M68 82.6h1.2M70 82.7h3M116.2 82.5h5M66.2 83.5h2M68.9 83.8h4M116.7 83.3h4M123.2 83.4h1.2M66.7 84.8h5M117.2 84.5h1.2M118.7 84.5h2M122.8 84.3h3M63.9 85.6h2M68.2 85.3h4M117.3 85.6h4M121.8 85.8h3M64.1 86.5h2M67.3 86.3h1.2M68.9 86.6h2M117.7 86.8h5M65 87.3h6M118 87.5h6M65.8 88.5h5M118.3 88.2h3M121.9 88.6h3M125.9 88.4h1.2M62.8 89.5h1.2M65.3 89.3h6M119.1 89.5h5M125.1 89.8h1.2M62.9 90.3h1.2M66.3 90.4h2M69.2 90.4h1.2M118.7 90.5h6M64.2 91.4h2M68.1 91.7h2M119.1 91.3h6M126.3 91.4h1.2M63.2 92.5h7M119.2 92.6h4M124 92.4h3M62 93.7h2M64.8 93.4h5M120 93.3h4M124.8 93.6h1.2M63.8 94.3h1.2M66 94.7h3M120.2 94.3h5M126.2 94.6h1.2M62.1 95.7h1.2M63.7 95.3h5M120.1 95.4h3M125.1 95.3h3M62.9 96.7h6M120.3 96.5h8M64.2 97.7h5M119.8 97.3h7M65 98.6h4M120.1 98.2h5M126.3 98.2h3M62.2 99.5h7M121.2 99.6h2M124.3 99.3h1.2M126.9 99.7h1.2M60.8 100.3h8M121.1 100.7h2M124.2 100.7h3M61 101.2h3M65 101.3h3M120.7 101.7h6M61.3 102.4h1.2M62.9 102.8h5M120.7 102.4h5M126.7 102.4h1.2M61.2 103.6h7M121.1 103.6h1.2M122.9 103.8h4M128.2 103.4h1.2M61.8 104.2h2M66.2 104.3h2M120.7 104.7h3M125.3 104.3h3M61.2 105.6h1.2M64 105.5h1.2M65.9 105.4h2M121.1 105.6h6M128.9 105.8h1.2M64.7 106.8h3M121 106.7h1.2M123 106.4h2M125.9 106.6h1.2M128.2 106.6h1.2M63.9 107.7h4M121 107.6h4M126.2 107.5h2M128.8 107.5h1.2M63.9 108.5h4M120.9 108.7h9M60.9 109.3h1.2M63.1 109.7h1.2M64.9 109.5h3M120.7 109.7h4M126.1 109.8h1.2M61.9 110.8h6M121.2 110.2h8M61.9 111.3h6M120.8 111.2h4M125.8 111.5h1.2M128.8 111.7h1.2M63 112.7h5M120.7 112.3h4M61.8 113.2h1.2M64 113.5h1.2M66 113.6h2M120.8 113.5h7M62 114.4h3M66 114.2h2M121.1 114.6h4M125.8 114.4h4M62.1 115.8h1.2M63.7 115.7h4M120.8 115.7h2M123.8 115.3h1.2M126.2 115.5h1.2M127.8 115.6h2M60.7 116.6h7M121.2 116.3h5M127.2 116.6h2M60.7 117.2h1.2M65.9 117.6h2M120.8 117.6h7M129 117.2h1.2M61.9 118.2h6M120.9 118.7h4M126 118.3h3M61.1 119.6h7M120.8 119.3h2M124.2 119.4h4M128.9 119.7h1.2M62.2 120.3h2M65.2 120.6h3M120.7 120.5h4M126.2 120.4h4M61.1 121.6h1.2M62.8 121.7h5M121.2 121.2h5M126.9 121.6h2M60.9 122.7h1.2M62.9 122.4h1.2M66.1 122.3h2M121.2 122.5h8M61.2 123.8h2M63.9 123.5h4M120.7 123.7h5M126.9 123.6h1.2M61.2 124.6h4M65.9 124.4h2M120.7 124.6h4M126.2 124.5h2M60.7 125.6h1.2M62.8 125.6h5M120.8 125.5h8M62 126.4h2M65 126.8h3M121.2 126.3h5M126.8 126.6h1.2M64.1 127.8h5M120.8 127.7h4M60.7 128.8h1.2M63.3 128.4h6M119.9 128.7h3M124.1 128.4h1.2M61.1 129.5h3M65.1 129.5h4M120.1 129.6h7M128.1 129.5h1.2M60.9 130.7h1.2M62.9 130.5h6M119.7 130.6h2M124.1 130.5h3M62.2 131.6h7M119.8 131.2h3M123.7 131.3h1.2M126 131.5h2M62.2 132.3h7M120.1 132.8h5M127 132.3h1.2M62.3 133.6h2M64.8 133.6h4M120.2 133.6h5M126.2 133.6h1.2M62 134.2h1.2M63.9 134.7h5M119.9 134.6h7M63.2 135.7h7M119.2 135.5h7M64.9 136.4h5M119.3 136.8h5M124.9 136.3h3M64 137.6h6M118.9 137.4h2M122.1 137.3h2M64.3 138.5h6M119 138.4h4M123.9 138.7h1.2M61.8 139.6h1.2M65.2 139.5h5M119.3 139.3h7M62 140.3h2M65.2 140.6h5M118.1 140.3h4M123.7 140.5h1.2M125.9 140.6h1.2M64.1 141.5h7M118 141.5h2M120.8 141.3h6M64.8 142.3h1.2M67 142.7h4M118.1 142.2h6M63.8 143.8h1.2M65.9 143.5h1.2M67.7 143.8h3M117.9 143.7h6M125 143.3h1.2M63.3 144.3h8M116.8 144.4h6M123.9 144.2h2M65 145.6h6M117.2 145.5h4M121.9 145.7h3M64.3 146.7h1.2M66.2 146.4h5M116.9 146.3h7M125 146.3h1.2M64.1 147.4h8M117 147.3h6M123.8 147.7h1.2M63 148.8h1.2M65.1 148.6h7M115.8 148.5h4M120.8 148.4h1.2M123.2 148.7h2M62.1 149.4h3M65.8 149.2h3M69.9 149.5h2M116.2 149.7h2M119.3 149.5h3M122.7 149.7h1.2M63.7 150.3h8M116.1 150.6h8M125.2 150.3h1.2M62.1 151.2h9M116.1 151.4h4M121 151.7h3M63.1 152.6h1.2M65.9 152.4h5M116.1 152.4h9M62 153.4h5M67.8 153.7h3M115.9 153.2h2M119.2 153.8h3M61.1 154.6h3M64.9 154.3h1.2M66.8 154.8h3M115.2 154.4h6M59.9 155.6h2M62.8 155.5h1.2M65.1 155.3h5M116.2 155.4h9M60.2 156.4h9M115.8 156.4h6M122.8 156.5h1.2M60 157.8h9M116.3 157.5h5M122 157.8h4M58.8 158.7h1.2M62.3 158.4h1.2M63.8 158.7h4M116.3 158.5h9M57.8 159.5h1.2M60.3 159.6h1.2M61.7 159.5h5M116.2 159.4h3M120.2 159.7h1.2M122.7 159.5h3M57.9 160.4h1.2M62.1 160.3h4M117.3 160.3h6M124.1 160.6h1.2M125.7 160.5h1.2M57.3 161.3h1.2M60.3 161.6h5M117 161.3h4M121.7 161.5h5M56 162.2h2M58.8 162.2h5M118.2 162.8h1.2M120.1 162.7h4M124.8 162.5h3M57.7 163.3h1.2M60 163.5h4M117.8 163.6h6M125 163.5h3M55.2 164.3h8M118.8 164.5h5M53.8 165.3h1.2M57 165.3h5M120.2 165.4h9M53.3 166.5h1.2M55.2 166.3h3M59.1 166.2h2M120.2 166.8h4M125 166.5h1.2M127.2 166.2h1.2M52.9 167.5h2M55.9 167.6h4M120.8 167.7h3M126.9 167.4h1.2M128.9 167.5h1.2M52.1 168.5h8M121.1 168.3h6M53 169.4h1.2M55.1 169.3h4M121.8 169.6h1.2M124.1 169.3h4M129.1 169.6h2M51.1 170.8h1.2M53.9 170.7h4M123 170.8h6M50.8 171.6h1.2M53.2 171.2h1.2M54.8 171.6h3M123 171.5h2M126.2 171.7h4M51.2 172.7h6M123.8 172.7h4M130 172.5h2M48.8 173.6h5M55.1 173.8h2M124 173.4h6M49.3 174.8h2M52.8 174.2h3M125.2 174.8h4M131 174.4h2M49.2 175.6h1.2M53.2 175.3h3M124.9 175.2h4M129.9 175.5h3M47.8 176.5h3M52 176.4h1.2M54.2 176.3h1.2M125.1 176.3h6M47.9 177.5h2M51.1 177.4h1.2M53.9 177.6h1.2M126.3 177.2h7M49 178.2h1.2M51.1 178.4h3M126 178.2h1.2M127.8 178.7h2M130.9 178.4h2M50.2 179.6h4M126.2 179.7h8M47 180.5h1.2M49 180.6h1.2M51.1 180.6h3M126.8 180.3h5M132.8 180.2h1.2M46.2 181.5h1.2M48.1 181.2h1.2M51.2 181.3h2M126.9 181.2h5M133 181.4h2M47.1 182.3h1.2M49 182.8h4M127 182.8h5M47.1 183.6h6M128.3 183.4h1.2M130.2 183.7h2M47.1 184.2h2M49.9 184.3h3M127.9 184.5h1.2M130.8 184.5h1.2M46.3 185.4h7M128 185.5h4M132.9 185.5h1.2M45.1 186.5h4M49.9 186.3h2M127.8 186.8h3M132.3 186.3h3M46.2 187.5h6M128 187.4h4M45.1 188.8h2M49.3 188.7h3M128.1 188.3h4M132.9 188.8h2M45.1 189.4h1.2M47 189.5h3M50.8 189.4h1.2M128.2 189.8h8M46.7 190.8h1.2M49.1 190.2h3M128.2 190.5h6M134.9 190.4h1.2M45 191.7h7M127.7 191.3h4M133.2 191.7h1.2M134.9 191.5h1.2M44.8 192.2h3M50.2 192.5h2M128.2 192.5h3M131.8 192.4h1.2M134.2 192.7h1.2M45.1 193.3h1.2M47 193.7h5M128.3 193.2h4M47.7 194.3h4M128.2 194.2h6M46 195.3h1.2M48 195.7h4M128.2 195.7h5M134.1 195.7h1.2M47 196.3h5M127.8 196.3h5M46.2 197.5h1.2M48.8 197.4h3M128.3 197.2h6M48.8 198.6h3M128.1 198.5h5M46.3 199.2h1.2M48.1 199.3h5M127.9 199.7h4M132.7 199.2h1.2M48.9 200.3h4M127.3 200.3h3M131.1 200.2h3M46.2 201.4h1.2M47.9 201.6h5M126.9 201.6h2M130.1 201.5h1.2M132.3 201.6h2M47.7 202.2h3M51.9 202.4h1.2M126.7 202.5h1.2M129.1 202.4h2M47.3 203.4h7M126.8 203.2h6M47.3 204.2h2M49.9 204.4h2M52.9 204.3h1.2M126.1 204.3h2M129 204.4h1.2M131.7 204.2h1.2M48 205.7h6M126.3 205.5h4M131 205.3h2M47.7 206.7h2M51.3 206.8h4M125.9 206.6h6M47.9 207.4h1.2M50.7 207.3h4M124.9 207.8h7M48.8 208.4h1.2M50.7 208.5h5M124.8 208.5h4M130.2 208.7h1.2M49.3 209.3h1.2M50.9 209.4h1.2M53.3 209.3h3M123.9 209.3h6M50 210.6h1.2M52 210.3h2M55 210.6h2M123.8 210.3h4M128.9 210.7h1.2M50.1 211.5h7M123.1 211.5h3M127.1 211.6h1.2M129.3 211.6h1.2M50.9 212.4h7M122.1 212.4h2M125.1 212.4h4M54.1 213.5h4M122.1 213.5h3M125.8 213.8h2M53 214.7h6M121.1 214.5h4M126.2 214.8h2M52.9 215.7h3M56.8 215.6h3M120.1 215.4h5M56.8 216.7h4M119.8 216.5h1.2M122.2 216.4h1.2M124.1 216.4h3M55.9 217.7h1.2M57.9 217.6h3M119 217.6h7M54.8 218.5h2M60.8 218.6h1.2M117.7 218.5h7M55.7 219.3h7M117.2 219.4h5M122.9 219.7h1.2M56.9 220.7h3M61.8 220.6h2M115.8 220.6h4M121.1 220.8h1.2M57.9 221.7h1.2M60.2 221.2h1.2M62.2 221.3h3M115.1 221.3h5M121.2 221.6h1.2M59.9 222.4h7M114.2 222.4h6M121.2 222.7h1.2M60.9 223.4h7M112 223.8h2M115.1 223.3h3M119.2 223.6h2M62.1 224.6h2M65.8 224.3h3M111 224.8h4M116.2 224.4h3M63.8 225.7h2M67.2 225.7h4M109 225.5h3M113 225.3h1.2M115.2 225.4h1.2M64 226.8h3M67.7 226.4h5M106.9 226.2h8M64.8 227.4h5M71 227.7h4M105 227.6h7M113 227.7h1.2M67.1 228.7h2M70.1 228.5h7M103.2 228.7h6M110.2 228.3h3M69.3 229.3h1.2M70.7 229.3h1.2M72.8 229.5h1.2M75.2 229.3h5M99.8 229.8h12M68.8 230.4h1.2M71.1 230.6h2M74.1 230.8h11M95.1 230.6h12M107.9 230.7h2M72 231.4h4M77.2 231.4h24M101.8 231.6h2M105.1 231.3h2M77.1 232.5h1.2M79.1 232.6h1.2M82.2 232.6h6M88.9 232.6h18M79.2 233.4h1.2M80.9 233.5h2M83.7 233.7h3M88 233.5h1.2M90 233.4h3M96.2 233.3h5M102.2 233.4h2M86.8 234.8h1.2M90.2 234.4h5M96.7 234.5h1.2M100.2 234.3h1.2M82.8 235.2h3M90.2 235.3h3M94.3 235.8h3" stroke="#0a0aee" stroke-width="1.25" stroke-opacity="1" fill="none"/>
</g>
<rect x="141.6" y="1199.3" width="272.6" height="270.8" fill="none" stroke="#333" stroke-width="1.4"/>
<line x1="269.7" y1="1199.3" x2="269.7" y2="1470.1" stroke="#000" stroke-width="2"/>
<line x1="141.6" y1="1351.1" x2="414.2" y2="1351.1" stroke="#000" stroke-width="2"/>
<path d="M133.6 1235.4h8M133.6 1329.7h8M133.6 1458.2h8" stroke="#222" stroke-width="1.5"/>
<path d="M137.6 1209.9h4M137.6 1238.9h4M137.6 1243.7h4M137.6 1249.5h4M137.6 1255.3h4M137.6 1262.1h4M137.6 1269.8h4M137.6 1283.3h4M137.6 1299.8h4M137.6 1334.5h4M137.6 1339.4h4M137.6 1345.2h4M137.6 1356.7h4M137.6 1363.5h4M137.6 1370.3h4M137.6 1377h4M137.6 1409.9h4M137.6 1417.6h4M137.6 1424.4h4M137.6 1431.1h4M137.6 1437.9h4M137.6 1443.7h4M137.6 1449.5h4M137.6 1454.3h4" stroke="#333" stroke-width="1"/>
<path d="M134.1 1386.7H141.6M135.6 1389.1H141.6M134.1 1391.6H141.6M135.6 1394H141.6M134.1 1396.5H141.6M135.6 1398.9H141.6M134.1 1401.4H141.6" stroke="#111" stroke-width="2.5"/>
<path d="M165.9 1470.1v8M288 1470.1v8M377.8 1470.1v8" stroke="#222" stroke-width="1.5"/>
<path d="M170.6 1470.1v4M175 1470.1v4M179.8 1470.1v4M184.7 1470.1v4M189.5 1470.1v4M194.3 1470.1v4M199.2 1470.1v4M204 1470.1v4M208.8 1470.1v4M213.6 1470.1v4M238.8 1470.1v4M243.6 1470.1v4M248.4 1470.1v4M253.2 1470.1v4M258.1 1470.1v4M262.9 1470.1v4M268.7 1470.1v4M274.5 1470.1v4M280.3 1470.1v4M284.2 1470.1v4M315.1 1470.1v4M333.4 1470.1v4M345 1470.1v4M353.7 1470.1v4M360.5 1470.1v4M366.2 1470.1v4M371.1 1470.1v4M374.9 1470.1v4M402.9 1470.1v4" stroke="#333" stroke-width="1"/>
<path d="M219.8 1470.1V1477.1M222.3 1470.1V1475.6M224.7 1470.1V1477.1M227.2 1470.1V1475.6M229.6 1470.1V1477.1M232.1 1470.1V1475.6M234.5 1470.1V1477.1" stroke="#111" stroke-width="2.5"/>
<rect x="446.2" y="1199.3" width="272" height="270.8" fill="none" stroke="#333" stroke-width="1.4"/>
<line x1="574.1" y1="1199.3" x2="574.1" y2="1470.1" stroke="#000" stroke-width="2"/>
<line x1="446.2" y1="1351.1" x2="718.2" y2="1351.1" stroke="#000" stroke-width="2"/>
<path d="M438.2 1235.4h8M438.2 1329.7h8M438.2 1458.2h8" stroke="#222" stroke-width="1.5"/>
<path d="M442.2 1209.9h4M442.2 1238.9h4M442.2 1243.7h4M442.2 1249.5h4M442.2 1255.3h4M442.2 1262.1h4M442.2 1269.8h4M442.2 1283.3h4M442.2 1299.8h4M442.2 1334.5h4M442.2 1339.4h4M442.2 1345.2h4M442.2 1356.7h4M442.2 1363.5h4M442.2 1370.3h4M442.2 1377h4M442.2 1409.9h4M442.2 1417.6h4M442.2 1424.4h4M442.2 1431.1h4M442.2 1437.9h4M442.2 1443.7h4M442.2 1449.5h4M442.2 1454.3h4" stroke="#333" stroke-width="1"/>
<path d="M438.7 1386.7H446.2M440.2 1389.1H446.2M438.7 1391.6H446.2M440.2 1394H446.2M438.7 1396.5H446.2M440.2 1398.9H446.2M438.7 1401.4H446.2" stroke="#111" stroke-width="2.5"/>
<path d="M470.5 1470.1v8M592.6 1470.1v8M682.4 1470.1v8" stroke="#222" stroke-width="1.5"/>
<path d="M475.2 1470.1v4M479.6 1470.1v4M484.4 1470.1v4M489.3 1470.1v4M494.1 1470.1v4M498.9 1470.1v4M503.8 1470.1v4M508.6 1470.1v4M513.4 1470.1v4M518.2 1470.1v4M543.4 1470.1v4M548.2 1470.1v4M553 1470.1v4M557.8 1470.1v4M562.7 1470.1v4M567.5 1470.1v4M573.3 1470.1v4M579.1 1470.1v4M584.9 1470.1v4M588.8 1470.1v4M619.7 1470.1v4M638 1470.1v4M649.6 1470.1v4M658.3 1470.1v4M665.1 1470.1v4M670.8 1470.1v4M675.7 1470.1v4M679.5 1470.1v4M707.5 1470.1v4" stroke="#333" stroke-width="1"/>
<path d="M524.4 1470.1V1477.1M526.9 1470.1V1475.6M529.3 1470.1V1477.1M531.8 1470.1V1475.6M534.2 1470.1V1477.1M536.7 1470.1V1475.6M539.1 1470.1V1477.1" stroke="#111" stroke-width="2.5"/>
<text x="155" y="1233.6" font-size="33">8.18</text>
<text x="400.8" y="1233.6" font-size="33" text-anchor="end">4.56</text>
<text x="155" y="1456.7" font-size="33">86.5</text>
<text x="400.8" y="1456.7" font-size="33" text-anchor="end">0.73</text>
<text x="457" y="1233.6" font-size="33">14.2</text>
<text x="705.4" y="1233.6" font-size="33" text-anchor="end">0.14</text>
<text x="459.5" y="1456.7" font-size="33">85.4</text>
<text x="705.4" y="1456.7" font-size="33" text-anchor="end">0.19</text>
<text x="271.4" y="1181" font-size="32" text-anchor="middle">WT</text>
<text x="576.4" y="1179.3" font-size="33.7" text-anchor="middle">Enh KO</text>
<text transform="translate(108.4,1426) rotate(-90)" font-size="32.5" text-anchor="middle">FoxP3</text>
<text x="127.8" y="1521" font-size="33.3">GARP</text>
<line x1="97.3" y1="1367.6" x2="97.3" y2="1212" stroke="#000" stroke-width="1.5"/>
<path d="M97.3 1199.8L89.3 1215L105.3 1215Z" fill="#000"/>
<line x1="240.2" y1="1510" x2="706" y2="1510" stroke="#000" stroke-width="1.5"/>
<path d="M720 1510L704 1502L704 1518Z" fill="#000"/>
</g>
<g id="pd">
<line x1="973.7" y1="1141.8" x2="973.7" y2="1557.7" stroke="#111" stroke-width="1.4"/>
<line x1="973" y1="1557" x2="1218.2" y2="1557" stroke="#111" stroke-width="1.4"/>
<line x1="967.7" y1="1142.5" x2="973.7" y2="1142.5" stroke="#111" stroke-width="1.4"/>
<text x="954.5" y="1147.7" font-size="33.3" text-anchor="end">50</text>
<line x1="967.7" y1="1225.9" x2="973.7" y2="1225.9" stroke="#111" stroke-width="1.4"/>
<text x="954.5" y="1231.1" font-size="33.3" text-anchor="end">40</text>
<line x1="967.7" y1="1308.3" x2="973.7" y2="1308.3" stroke="#111" stroke-width="1.4"/>
<text x="954.5" y="1313.5" font-size="33.3" text-anchor="end">30</text>
<line x1="967.7" y1="1391.7" x2="973.7" y2="1391.7" stroke="#111" stroke-width="1.4"/>
<text x="954.5" y="1396.9" font-size="33.3" text-anchor="end">20</text>
<line x1="967.7" y1="1474.5" x2="973.7" y2="1474.5" stroke="#111" stroke-width="1.4"/>
<text x="954.5" y="1479.7" font-size="33.3" text-anchor="end">10</text>
<line x1="967.7" y1="1557" x2="973.7" y2="1557" stroke="#111" stroke-width="1.4"/>
<text x="954.5" y="1561" font-size="33.3" text-anchor="end">0</text>
<text transform="translate(887.8,1338) rotate(-90)" font-size="32.4" text-anchor="middle">GARP<tspan font-size="20" dy="-10">+</tspan><tspan dy="10"> of Foxp3</tspan><tspan font-size="20" dy="-10">+</tspan><tspan dy="10"> T</tspan><tspan font-size="20.5" dy="8">reg</tspan><tspan dy="-8"> cells (%)</tspan></text>
<circle cx="1035.7" cy="1193.5" r="6.9" fill="#000"/>
<circle cx="1049.8" cy="1225.3" r="6.9" fill="#000"/>
<circle cx="1021.5" cy="1237.2" r="6.9" fill="#000"/>
<circle cx="1049.8" cy="1257.4" r="6.9" fill="#000"/>
<circle cx="1021.5" cy="1263" r="6.9" fill="#000"/>
<circle cx="1123.2" cy="1541.2" r="6.9" fill="#f00000"/>
<circle cx="1140.2" cy="1533.7" r="6.9" fill="#f00000"/>
<circle cx="1156.8" cy="1541.5" r="6.9" fill="#f00000"/>
<circle cx="1173.2" cy="1540.6" r="6.9" fill="#f00000"/>
<circle cx="1189.9" cy="1545.3" r="6.9" fill="#f00000"/>
<line x1="995.4" y1="1235.3" x2="1076" y2="1235.3" stroke="#111" stroke-width="1.4"/>
<line x1="1015.9" y1="1222.7" x2="1056.1" y2="1222.7" stroke="#111" stroke-width="1.4"/>
<line x1="1015.9" y1="1247" x2="1056.1" y2="1247" stroke="#111" stroke-width="1.4"/>
<line x1="1035.7" y1="1222.7" x2="1035.7" y2="1247" stroke="#111" stroke-width="1.4"/>
<line x1="1117.5" y1="1540.9" x2="1196.8" y2="1540.9" stroke="#111" stroke-width="1.4"/>
<line x1="1136.4" y1="1539.6" x2="1161.6" y2="1539.6" stroke="#111" stroke-width="1.4"/>
<line x1="1136.4" y1="1542.2" x2="1161.6" y2="1542.2" stroke="#111" stroke-width="1.4"/>
<line x1="1149" y1="1539.6" x2="1149" y2="1542.2" stroke="#111" stroke-width="1.4"/>
<text x="1035" y="1147.8" font-size="31.6"><tspan font-style="italic">P</tspan> &lt; 0.001</text>
<line x1="1065" y1="1158.3" x2="1153.7" y2="1158.3" stroke="#111" stroke-width="1.4"/>
<text x="1096.7" y="1596.6" font-size="32.7" text-anchor="middle">Spleen</text>
<line x1="1338" y1="1141.8" x2="1338" y2="1557.7" stroke="#111" stroke-width="1.4"/>
<line x1="1337.3" y1="1557" x2="1581.9" y2="1557" stroke="#111" stroke-width="1.4"/>
<line x1="1332" y1="1142.5" x2="1338" y2="1142.5" stroke="#111" stroke-width="1.4"/>
<text x="1324.5" y="1147.7" font-size="33.3" text-anchor="end">50</text>
<line x1="1332" y1="1225.9" x2="1338" y2="1225.9" stroke="#111" stroke-width="1.4"/>
<text x="1324.5" y="1231.1" font-size="33.3" text-anchor="end">40</text>
<line x1="1332" y1="1308.3" x2="1338" y2="1308.3" stroke="#111" stroke-width="1.4"/>
<text x="1324.5" y="1313.5" font-size="33.3" text-anchor="end">30</text>
<line x1="1332" y1="1391.7" x2="1338" y2="1391.7" stroke="#111" stroke-width="1.4"/>
<text x="1324.5" y="1396.9" font-size="33.3" text-anchor="end">20</text>
<line x1="1332" y1="1474.5" x2="1338" y2="1474.5" stroke="#111" stroke-width="1.4"/>
<text x="1324.5" y="1479.7" font-size="33.3" text-anchor="end">10</text>
<line x1="1332" y1="1557" x2="1338" y2="1557" stroke="#111" stroke-width="1.4"/>
<text x="1324.5" y="1561" font-size="33.3" text-anchor="end">0</text>
<text transform="translate(1264,1338) rotate(-90)" font-size="33.4" text-anchor="middle">GARP<tspan font-size="20" dy="-10">+</tspan><tspan dy="10"> of Foxp3</tspan><tspan font-size="20" dy="-10">+</tspan><tspan dy="10"> CD4SP (%)</tspan></text>
<circle cx="1366.3" cy="1292.9" r="6.9" fill="#000"/>
<circle cx="1400" cy="1279.4" r="6.9" fill="#000"/>
<circle cx="1433.1" cy="1288.2" r="6.9" fill="#000"/>
<circle cx="1433.1" cy="1303" r="6.9" fill="#000"/>
<circle cx="1400" cy="1310.2" r="6.9" fill="#000"/>
<circle cx="1400" cy="1367.5" r="6.9" fill="#000"/>
<circle cx="1486.9" cy="1517" r="6.9" fill="#f00000"/>
<circle cx="1509.5" cy="1510.7" r="6.9" fill="#f00000"/>
<circle cx="1509.5" cy="1534.3" r="6.9" fill="#f00000"/>
<circle cx="1531.6" cy="1522.3" r="6.9" fill="#f00000"/>
<circle cx="1554.2" cy="1515.4" r="6.9" fill="#f00000"/>
<line x1="1360" y1="1306.8" x2="1440.3" y2="1306.8" stroke="#111" stroke-width="1.4"/>
<line x1="1379.9" y1="1293.5" x2="1419.8" y2="1293.5" stroke="#111" stroke-width="1.4"/>
<line x1="1379.9" y1="1319.4" x2="1419.8" y2="1319.4" stroke="#111" stroke-width="1.4"/>
<line x1="1400" y1="1293.5" x2="1400" y2="1319.4" stroke="#111" stroke-width="1.4"/>
<line x1="1481.2" y1="1519.5" x2="1560.5" y2="1519.5" stroke="#111" stroke-width="1.4"/>
<line x1="1501" y1="1516" x2="1540.4" y2="1516" stroke="#111" stroke-width="1.4"/>
<line x1="1501" y1="1523.9" x2="1540.4" y2="1523.9" stroke="#111" stroke-width="1.4"/>
<line x1="1520.6" y1="1516" x2="1520.6" y2="1523.9" stroke="#111" stroke-width="1.4"/>
<text x="1393.4" y="1147.8" font-size="31.6"><tspan font-style="italic">P</tspan> &lt; 0.001</text>
<line x1="1422.4" y1="1158.3" x2="1511.1" y2="1158.3" stroke="#111" stroke-width="1.4"/>
<text x="1457.1" y="1596.6" font-size="32.7" text-anchor="middle">Thymus</text>
<line x1="1719.5" y1="1141.8" x2="1719.5" y2="1557.7" stroke="#111" stroke-width="1.4"/>
<line x1="1718.8" y1="1557" x2="1963.3" y2="1557" stroke="#111" stroke-width="1.4"/>
<line x1="1713.5" y1="1142.5" x2="1719.5" y2="1142.5" stroke="#111" stroke-width="1.4"/>
<text x="1704.5" y="1147.7" font-size="33.3" text-anchor="end">50</text>
<line x1="1713.5" y1="1225.9" x2="1719.5" y2="1225.9" stroke="#111" stroke-width="1.4"/>
<text x="1704.5" y="1231.1" font-size="33.3" text-anchor="end">40</text>
<line x1="1713.5" y1="1308.3" x2="1719.5" y2="1308.3" stroke="#111" stroke-width="1.4"/>
<text x="1704.5" y="1313.5" font-size="33.3" text-anchor="end">30</text>
<line x1="1713.5" y1="1391.7" x2="1719.5" y2="1391.7" stroke="#111" stroke-width="1.4"/>
<text x="1704.5" y="1396.9" font-size="33.3" text-anchor="end">20</text>
<line x1="1713.5" y1="1474.5" x2="1719.5" y2="1474.5" stroke="#111" stroke-width="1.4"/>
<text x="1704.5" y="1479.7" font-size="33.3" text-anchor="end">10</text>
<line x1="1713.5" y1="1557" x2="1719.5" y2="1557" stroke="#111" stroke-width="1.4"/>
<text x="1704.5" y="1561" font-size="33.3" text-anchor="end">0</text>
<text transform="translate(1647.2,1338) rotate(-90)" font-size="32.3" text-anchor="middle">GARP<tspan font-size="20" dy="-10">+</tspan><tspan dy="10"> of Foxp3</tspan><tspan font-size="20" dy="-10">+</tspan><tspan dy="10"> T</tspan><tspan font-size="20.5" dy="8">reg</tspan><tspan dy="-8"> cells (%)</tspan></text>
<circle cx="1780.9" cy="1225.2" r="6.9" fill="#000"/>
<circle cx="1766.1" cy="1276.8" r="6.9" fill="#000"/>
<circle cx="1795" cy="1268.3" r="6.9" fill="#000"/>
<circle cx="1868.3" cy="1550.8" r="6.9" fill="#f00000"/>
<circle cx="1890.7" cy="1547.3" r="6.9" fill="#f00000"/>
<circle cx="1913" cy="1551.4" r="6.9" fill="#f00000"/>
<circle cx="1935.3" cy="1549.8" r="6.9" fill="#f00000"/>
<line x1="1740" y1="1256.3" x2="1820.8" y2="1256.3" stroke="#111" stroke-width="1.7"/>
<line x1="1760.4" y1="1240.3" x2="1800.7" y2="1240.3" stroke="#111" stroke-width="1.7"/>
<line x1="1760.4" y1="1272.4" x2="1800.7" y2="1272.4" stroke="#111" stroke-width="1.7"/>
<line x1="1780.9" y1="1240.3" x2="1780.9" y2="1272.4" stroke="#111" stroke-width="1.7"/>
<line x1="1862.7" y1="1550.8" x2="1941.3" y2="1550.8" stroke="#111" stroke-width="1.7"/>
<line x1="1881.5" y1="1550" x2="1920.9" y2="1550" stroke="#111" stroke-width="1.7"/>
<line x1="1881.5" y1="1551.6" x2="1920.9" y2="1551.6" stroke="#111" stroke-width="1.7"/>
<line x1="1901" y1="1550" x2="1901" y2="1551.6" stroke="#111" stroke-width="1.7"/>
<text x="1781.8" y="1147.8" font-size="31.6"><tspan font-style="italic">P</tspan> &lt; 0.001</text>
<line x1="1810.1" y1="1158.3" x2="1899.5" y2="1158.3" stroke="#111" stroke-width="1.4"/>
<text x="1841.1" y="1596.6" font-size="33.8" text-anchor="middle">mLN</text>
<circle cx="1980.6" cy="1161.3" r="9.2" fill="#000"/>
<circle cx="1980.6" cy="1203.2" r="9.2" fill="#f00000"/>
<text x="2010.5" y="1171.7" font-size="32">WT</text>
<text x="2010.5" y="1213.2" font-size="32">Enh KO</text>
</g>
</svg></body></html>
